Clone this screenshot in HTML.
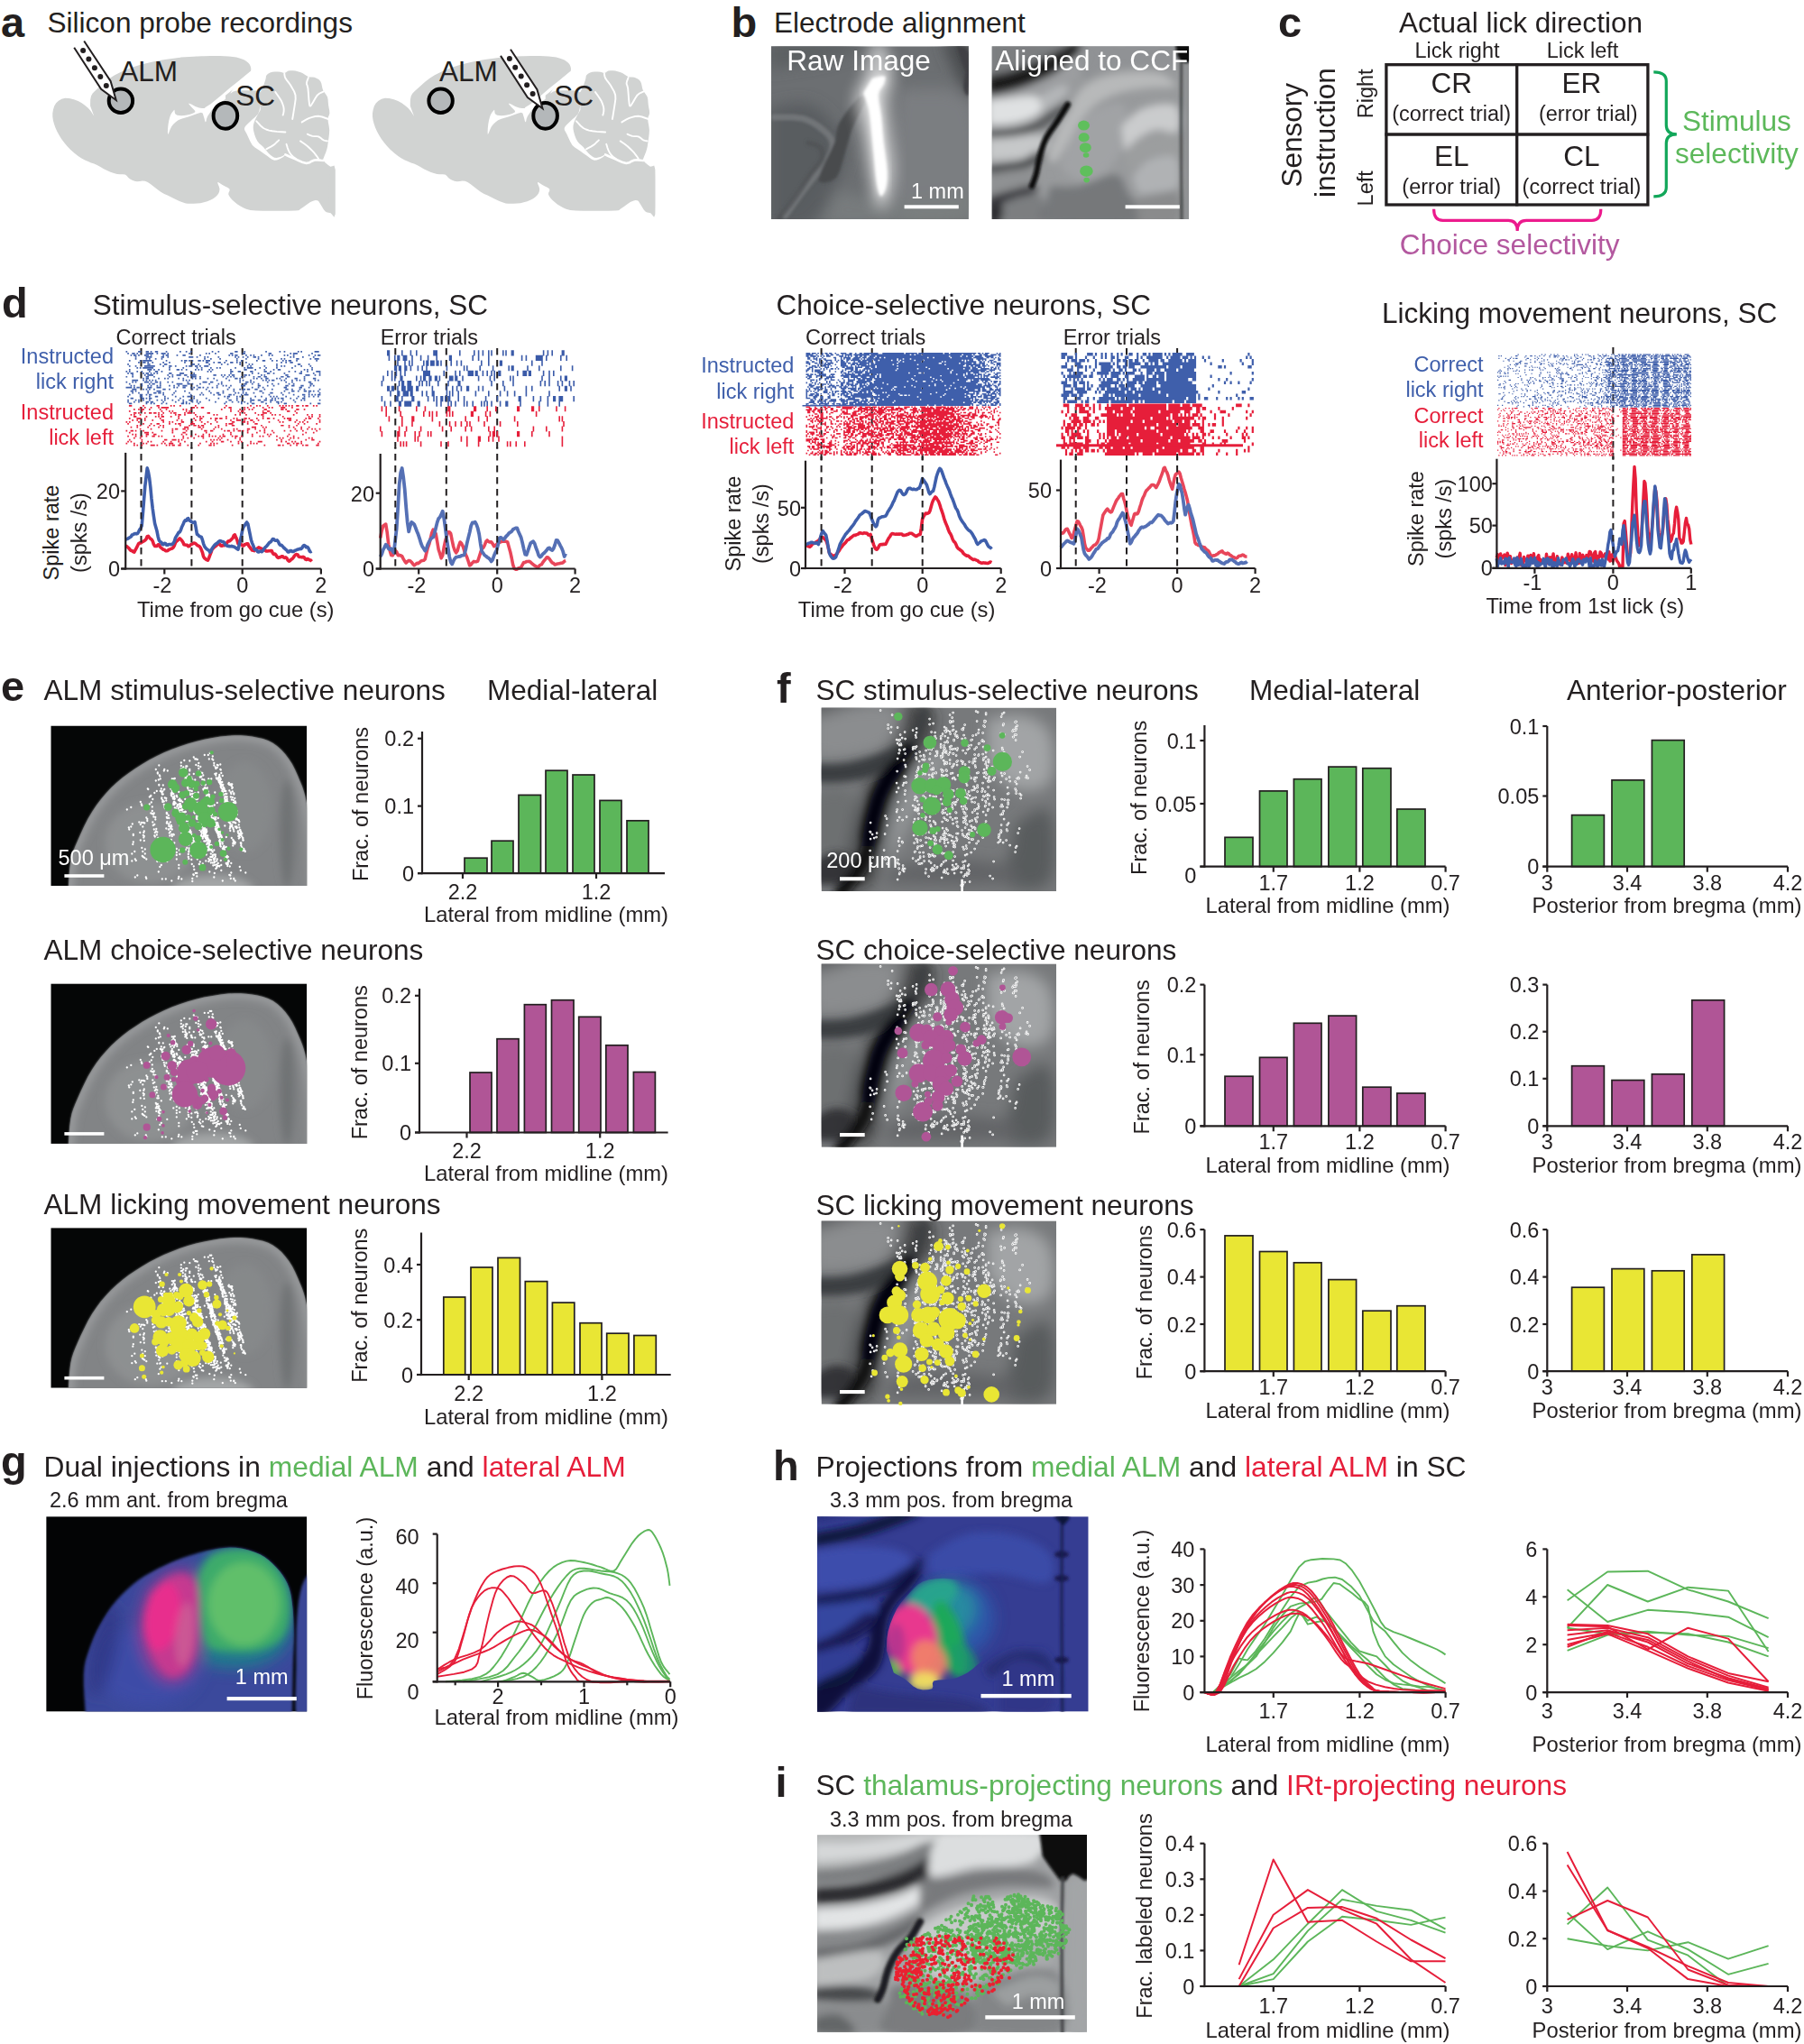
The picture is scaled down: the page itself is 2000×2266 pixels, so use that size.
<!DOCTYPE html><html><head><meta charset="utf-8"><title>Figure</title><style>html,body{margin:0;padding:0;background:#fff}svg{display:block}text{font-family:"Liberation Sans",sans-serif}</style></head><body><svg width="2000" height="2266" viewBox="0 0 2000 2266"><defs>
<filter id="bl1" x="-20%" y="-20%" width="140%" height="140%"><feGaussianBlur stdDeviation="1"/></filter>
<filter id="bl2" x="-20%" y="-20%" width="140%" height="140%"><feGaussianBlur stdDeviation="1.6"/></filter>
<filter id="bl4" x="-20%" y="-20%" width="140%" height="140%"><feGaussianBlur stdDeviation="4"/></filter>
<filter id="bl6" x="-30%" y="-30%" width="160%" height="160%"><feGaussianBlur stdDeviation="8"/></filter>
<filter id="bl12" x="-30%" y="-30%" width="160%" height="160%"><feGaussianBlur stdDeviation="14"/></filter>
<linearGradient id="gb1" x1="0" y1="0" x2="1" y2="1"><stop offset="0" stop-color="#5d6063"/><stop offset=".45" stop-color="#7d8083"/><stop offset="1" stop-color="#8e9193"/></linearGradient>
</defs>
<text x="1.0" y="40.6" font-size="47" font-weight="bold" fill="#231f20">a</text>
<text x="52.5" y="36.1" font-size="31.55" fill="#231f20">Silicon probe recordings</text>
<path d="M104.3 128.7 102.8 126.4 100.5 123.0 97.7 119.8 94.4 117.0 90.7 114.3 86.6 112.1 81.9 110.3 76.8 109.0 72.2 108.7 68.3 109.7 64.9 111.7 62.2 114.3 60.2 117.5 59.0 121.4 58.3 125.4 58.3 129.3 58.9 133.5 60.0 137.6 61.4 141.6 63.3 145.7 65.5 149.8 68.1 153.9 71.1 158.0 74.4 162.0 78.2 165.9 82.5 169.8 86.6 173.0 90.4 175.5 94.1 177.5 97.7 179.1 101.0 180.5 104.3 181.6 107.6 183.0 111.3 185.0 115.0 187.2 118.7 189.1 122.5 190.7 126.3 192.0 129.8 193.0 133.1 193.3 136.1 193.2 138.7 193.5 140.7 195.0 142.3 196.9 144.2 198.5 146.6 199.7 149.2 200.7 152.0 201.3 154.9 201.1 157.9 200.6 160.9 200.8 163.8 202.1 166.8 204.1 169.7 206.3 172.6 208.5 175.5 210.8 178.6 212.9 182.1 214.9 185.7 216.6 189.7 218.5 194.2 220.7 198.9 222.9 203.0 224.6 206.0 225.4 208.4 225.7 211.1 225.7 214.6 225.8 218.4 225.6 222.2 225.2 226.0 224.3 229.8 223.2 233.3 221.8 236.3 220.2 239.0 218.3 241.0 216.3 242.4 214.2 243.2 212.0 243.5 209.6 242.8 206.8 241.6 203.9 241.2 202.1 242.4 202.2 244.3 203.5 246.6 205.0 249.4 206.4 252.5 208.0 254.5 209.6 254.6 211.4 253.6 213.2 253.2 215.2 254.1 217.3 255.6 219.6 257.6 221.8 260.2 224.1 263.2 226.4 266.5 228.5 269.6 230.3 273.0 231.8 277.6 232.9 284.0 233.5 291.6 233.7 299.8 233.7 309.4 233.8 319.7 233.7 327.5 233.5 330.8 233.3 331.6 232.9 333.0 231.8 336.4 229.5 340.5 226.4 344.1 224.1 347.1 222.8 349.7 222.1 351.9 222.2 353.2 222.9 354.1 224.4 355.2 226.3 356.9 229.0 358.8 232.2 360.8 234.6 362.6 235.5 364.4 235.5 366.3 235.7 368.4 238.2 370.4 240.7 371.8 237.6 372.5 223.2 372.5 203.0 371.8 188.0 370.5 183.6 368.5 184.3 366.3 184.7 363.5 182.7 360.5 180.3 358.5 178.0 358.2 176.4 358.8 174.9 359.6 173.1 360.5 170.8 361.5 168.2 362.4 165.3 363.1 162.2 363.6 158.8 364.1 155.3 364.6 151.7 365.0 148.1 365.2 144.2 364.7 140.0 363.9 135.7 363.5 132.0 364.0 129.5 364.9 127.6 365.4 125.4 365.2 122.6 364.6 119.6 364.1 116.5 363.8 113.5 363.6 110.4 363.0 107.6 361.7 105.2 360.1 103.1 358.8 101.2 358.1 100.0 357.8 99.1 357.4 97.7 356.9 95.3 356.3 92.4 355.2 89.9 353.3 88.1 350.9 86.7 348.6 85.7 346.4 85.4 344.3 85.5 342.1 85.3 339.9 84.1 337.6 82.5 335.3 81.0 332.7 80.0 330.1 79.2 327.5 78.6 324.8 78.3 322.1 78.3 319.7 78.6 318.0 79.4 316.7 80.4 315.3 81.0 314.0 80.8 312.7 80.2 310.9 79.7 308.1 79.5 304.9 79.4 302.0 79.7 299.5 80.6 297.2 81.8 295.6 83.3 294.9 84.7 294.8 86.3 294.2 88.8 292.7 93.2 290.6 98.5 288.7 102.1 287.8 102.6 287.0 101.4 284.3 100.4 277.6 100.2 269.0 100.2 262.1 100.4 258.1 101.8 255.8 103.5 255.4 103.2 257.9 99.5 262.2 93.8 266.5 88.8 270.2 85.4 273.8 82.7 276.5 80.5 277.8 78.9 278.2 77.9 278.3 76.6 278.1 74.8 277.5 72.9 276.5 71.1 275.1 69.5 273.2 68.0 271.0 66.6 268.4 65.4 265.5 64.4 262.1 63.5 258.1 62.9 253.5 62.5 248.8 62.2 244.0 62.0 239.0 61.9 233.3 62.0 226.0 62.2 217.9 62.5 211.1 62.9 205.1 63.2 200.4 63.6 200.0 63.7 208.1 63.3 220.5 62.6 227.4 62.2 223.7 62.3 214.4 62.7 205.2 63.3 197.8 64.0 190.4 64.9 183.0 66.1 175.6 67.3 168.3 68.7 160.9 70.5 153.3 72.6 145.7 75.1 138.7 77.7 132.7 80.4 127.2 83.3 122.1 86.6 116.8 90.5 111.8 94.9 107.6 98.8 104.6 101.6 102.5 103.8 101.0 106.5 100.2 110.4 100.1 114.6 100.1 117.6Z" fill="#d1d3d2"/>
<path d="M365.8 185.0 L371.8 188.0 L371.8 237.6 L363.8 235.6Z" fill="#d1d3d2"/>
<rect x="371.8" y="176.0" width="6.0" height="65.6" fill="#fff"/>
<path d="M277.6 79.0 266.5 88.2 255.4 97.1 244.3 106.5 233.3 115.4 227.2 119.3 227.7 121.0 235.5 116.5 246.6 108.5 257.6 99.7 268.7 90.5 278.3 82.2Z" fill="#fff"/>
<path d="M250.0 105.4 246.9 107.1 242.5 109.6 238.5 112.1 235.3 114.7 232.5 117.4 229.6 119.3 226.7 120.1 223.9 120.1 220.7 119.6 216.5 117.9 212.0 115.6 209.2 114.5 209.5 115.6 211.6 117.9 213.5 120.0 215.0 121.6 216.3 123.0 216.3 124.3 214.2 125.5 210.8 126.7 207.4 127.6 204.3 128.1 201.2 128.3 198.6 128.1 196.6 127.7 195.2 126.9 194.1 125.9 193.7 124.3 193.6 122.5 193.2 121.8 192.1 122.9 190.5 125.0 189.1 127.6 188.1 130.5 187.2 134.0 186.6 137.6 186.1 142.0 185.9 146.5 186.1 148.9 187.1 147.4 188.5 143.8 190.2 140.3 192.2 137.8 194.6 135.4 197.5 133.3 201.1 131.8 205.3 130.5 209.6 129.2 214.4 127.5 219.3 125.7 222.9 124.8 224.7 125.4 225.2 126.9 225.7 128.7 226.5 131.3 227.2 134.2 227.9 135.6 228.5 134.4 229.0 131.8 230.2 128.7 232.4 125.4 235.2 121.6 238.5 118.2 242.5 114.9 246.9 111.9 250.0 109.8Z" fill="#fff"/>
<path d="M288.7 116.5 288.2 119.1 287.4 122.9 285.9 126.5 283.1 129.6 279.6 132.6 276.5 135.4 274.1 137.7 272.0 139.9 271.0 142.0 271.1 144.0 272.2 146.0 273.7 148.7 275.4 152.5 277.5 157.0 279.8 160.9 282.6 163.5 285.7 165.6 288.7 167.5 291.4 169.5 293.9 171.3 296.5 173.1 299.0 174.9 301.6 176.7 304.2 177.7 306.9 177.5 309.6 176.5 312.0 175.3 314.1 173.9 315.8 172.3 316.4 171.4 315.3 171.8 313.2 173.0 310.9 173.9 308.7 174.6 306.5 175.0 304.2 174.7 302.0 173.5 299.7 171.7 297.6 169.7 295.7 167.6 293.9 165.4 292.0 163.1 289.8 161.0 287.4 158.9 285.4 156.4 283.7 153.3 282.4 149.7 281.5 146.5 280.9 143.7 280.7 141.3 280.9 138.7 281.7 135.8 282.9 132.7 284.3 129.8 285.8 126.9 287.5 124.0 288.7 122.1Z" fill="#fff"/>
<path d="M316.4 171.4 319.2 172.7 323.3 174.6 327.5 176.4 331.6 178.3 335.8 180.1 339.7 181.0 342.9 180.3 345.6 178.7 348.6 177.5 352.2 177.4 355.9 177.8 358.5 178.0" fill="none" stroke="#fff" stroke-width="2.6" stroke-linejoin="round" stroke-linecap="round"/>
<path d="M315.3 81.6 315.4 82.8 315.7 84.5 316.4 86.6 317.9 88.8 319.9 91.4 322.0 94.3 324.0 97.7 326.1 101.4 327.5 105.4 327.7 109.7 327.1 114.2 326.4 118.7 325.6 123.7 324.8 128.6 324.2 132.0" fill="none" stroke="#fff" stroke-width="1.9" stroke-linejoin="round" stroke-linecap="round"/>
<path d="M305.3 102.1 307.2 104.7 309.8 108.5 312.0 112.1 313.3 115.2 314.3 118.2 314.7 121.0 314.6 123.6 314.1 126.0 313.6 127.6" fill="none" stroke="#fff" stroke-width="1.9" stroke-linejoin="round" stroke-linecap="round"/>
<path d="M341.9 86.0 341.3 87.6 340.4 89.9 339.9 92.1 340.1 93.6 340.7 94.9 341.4 97.7 341.9 103.3 342.4 110.3 343.0 115.4 343.5 117.4 344.1 117.5 345.2 116.3 347.1 113.3 349.5 109.0 351.9 105.4 354.3 103.5 356.8 102.3 358.5 101.6" fill="none" stroke="#fff" stroke-width="1.9" stroke-linejoin="round" stroke-linecap="round"/>
<path d="M334.7 135.4 336.8 134.1 339.8 132.4 343.0 130.9 346.2 129.8 349.5 129.0 353.0 128.7 357.0 129.5 361.2 131.0 364.1 132.0" fill="none" stroke="#fff" stroke-width="1.9" stroke-linejoin="round" stroke-linecap="round"/>
<path d="M340.8 148.7 342.2 149.3 344.2 150.2 346.3 150.9 348.5 151.1 350.8 151.1 353.0 151.4 355.0 152.6 356.8 154.1 358.5 155.3 360.3 155.9 361.9 156.2 363.0 156.4" fill="none" stroke="#fff" stroke-width="1.9" stroke-linejoin="round" stroke-linecap="round"/>
<path d="M333.0 156.4 335.0 157.8 337.9 159.8 340.8 162.0 343.5 164.5 346.2 167.2 348.6 169.7 350.4 172.1 352.0 174.3 353.0 175.8" fill="none" stroke="#fff" stroke-width="1.9" stroke-linejoin="round" stroke-linecap="round"/>
<path d="M284.3 134.3 286.2 136.4 289.0 139.5 292.0 142.0 295.0 143.5 298.3 144.6 302.0 145.3 307.0 145.9 312.5 146.2 316.4 146.5" fill="none" stroke="#fff" stroke-width="1.9" stroke-linejoin="round" stroke-linecap="round"/>
<path d="M295.3 165.3 297.4 164.2 300.4 162.6 303.1 160.9 305.5 158.9 307.7 156.8 309.2 155.3" fill="none" stroke="#fff" stroke-width="1.9" stroke-linejoin="round" stroke-linecap="round"/>
<path d="M317.5 159.8 318.1 161.5 318.8 164.0 319.7 166.4 320.7 168.4 321.7 170.2 323.1 172.0 324.9 173.7 327.1 175.3 328.6 176.4" fill="none" stroke="#fff" stroke-width="1.9" stroke-linejoin="round" stroke-linecap="round"/>
<circle cx="133.9" cy="111.7" r="13.2" fill="#b4b8ba" stroke="#000" stroke-width="4"/>
<ellipse cx="249.9" cy="128.3" rx="13.3" ry="14.4" fill="#b4b8ba" stroke="#000" stroke-width="4"/>
<text x="132.2" y="90.4" font-size="31.55" fill="#231f20">ALM</text>
<text x="261.2" y="116.5" font-size="31.55" fill="#231f20">SC</text>
<path d="M82.2 52.7 112.1 98.8 128.7 111.0 122.6 89.9 93.2 45.5" fill="#fff" stroke="#231f20" stroke-width="2" stroke-linejoin="miter"/>
<circle cx="92.1" cy="55.9" r="3" fill="#231f20"/>
<circle cx="98.4" cy="65.5" r="3" fill="#231f20"/>
<circle cx="104.9" cy="75.3" r="3" fill="#231f20"/>
<circle cx="111.3" cy="85.1" r="3" fill="#231f20"/>
<circle cx="117.8" cy="94.9" r="3" fill="#231f20"/>
<path d="M459.0 128.7 457.5 126.4 455.2 123.0 452.4 119.8 449.1 117.0 445.4 114.3 441.3 112.1 436.6 110.3 431.5 109.0 426.9 108.7 423.0 109.7 419.6 111.7 416.9 114.3 414.9 117.5 413.7 121.4 413.0 125.4 413.0 129.3 413.6 133.5 414.7 137.6 416.1 141.6 418.0 145.7 420.2 149.8 422.8 153.9 425.8 158.0 429.1 162.0 432.9 165.9 437.2 169.8 441.3 173.0 445.1 175.5 448.8 177.5 452.4 179.1 455.7 180.5 459.0 181.6 462.3 183.0 466.0 185.0 469.7 187.2 473.4 189.1 477.2 190.7 481.0 192.0 484.5 193.0 487.8 193.3 490.8 193.2 493.4 193.5 495.4 195.0 497.0 196.9 498.9 198.5 501.3 199.7 503.9 200.7 506.7 201.3 509.6 201.1 512.6 200.6 515.6 200.8 518.5 202.1 521.5 204.1 524.4 206.3 527.3 208.5 530.2 210.8 533.3 212.9 536.8 214.9 540.4 216.6 544.4 218.5 548.9 220.7 553.6 222.9 557.7 224.6 560.7 225.4 563.1 225.7 565.8 225.7 569.3 225.8 573.1 225.6 576.9 225.2 580.7 224.3 584.5 223.2 588.0 221.8 591.0 220.2 593.7 218.3 595.7 216.3 597.1 214.2 597.9 212.0 598.2 209.6 597.5 206.8 596.3 203.9 595.9 202.1 597.1 202.2 599.0 203.5 601.3 205.0 604.1 206.4 607.2 208.0 609.2 209.6 609.3 211.4 608.3 213.2 607.9 215.2 608.8 217.3 610.3 219.6 612.3 221.8 614.9 224.1 617.9 226.4 621.2 228.5 624.3 230.3 627.7 231.8 632.3 232.9 638.7 233.5 646.3 233.7 654.5 233.7 664.1 233.8 674.4 233.7 682.2 233.5 685.5 233.3 686.3 232.9 687.7 231.8 691.1 229.5 695.2 226.4 698.8 224.1 701.8 222.8 704.4 222.1 706.6 222.2 707.9 222.9 708.8 224.4 709.9 226.3 711.6 229.0 713.5 232.2 715.5 234.6 717.3 235.5 719.1 235.5 721.0 235.7 723.1 238.2 725.1 240.7 726.5 237.6 727.2 223.2 727.2 203.0 726.5 188.0 725.2 183.6 723.2 184.3 721.0 184.7 718.2 182.7 715.2 180.3 713.2 178.0 712.9 176.4 713.5 174.9 714.3 173.1 715.2 170.8 716.2 168.2 717.1 165.3 717.8 162.2 718.3 158.8 718.8 155.3 719.3 151.7 719.7 148.1 719.9 144.2 719.4 140.0 718.6 135.7 718.2 132.0 718.7 129.5 719.6 127.6 720.1 125.4 719.9 122.6 719.3 119.6 718.8 116.5 718.5 113.5 718.3 110.4 717.7 107.6 716.4 105.2 714.8 103.1 713.5 101.2 712.8 100.0 712.5 99.1 712.1 97.7 711.6 95.3 711.0 92.4 709.9 89.9 708.0 88.1 705.6 86.7 703.3 85.7 701.1 85.4 699.0 85.5 696.8 85.3 694.6 84.1 692.3 82.5 690.0 81.0 687.4 80.0 684.8 79.2 682.2 78.6 679.5 78.3 676.8 78.3 674.4 78.6 672.7 79.4 671.4 80.4 670.0 81.0 668.7 80.8 667.4 80.2 665.6 79.7 662.8 79.5 659.6 79.4 656.7 79.7 654.2 80.6 651.9 81.8 650.3 83.3 649.6 84.7 649.5 86.3 648.9 88.8 647.4 93.2 645.3 98.5 643.4 102.1 642.5 102.6 641.7 101.4 639.0 100.4 632.3 100.2 623.7 100.2 616.8 100.4 612.8 101.8 610.5 103.5 610.1 103.2 612.6 99.5 616.9 93.8 621.2 88.8 624.9 85.4 628.5 82.7 631.2 80.5 632.5 78.9 632.9 77.9 633.0 76.6 632.8 74.8 632.2 72.9 631.2 71.1 629.8 69.5 627.9 68.0 625.7 66.6 623.1 65.4 620.2 64.4 616.8 63.5 612.8 62.9 608.2 62.5 603.5 62.2 598.7 62.0 593.7 61.9 588.0 62.0 580.7 62.2 572.6 62.5 565.8 62.9 559.8 63.2 555.1 63.6 554.7 63.7 562.8 63.3 575.2 62.6 582.1 62.2 578.4 62.3 569.1 62.7 559.9 63.3 552.5 64.0 545.1 64.9 537.7 66.1 530.3 67.3 523.0 68.7 515.6 70.5 508.0 72.6 500.4 75.1 493.4 77.7 487.4 80.4 481.9 83.3 476.8 86.6 471.5 90.5 466.5 94.9 462.3 98.8 459.3 101.6 457.2 103.8 455.7 106.5 454.9 110.4 454.8 114.6 454.8 117.6Z" fill="#d1d3d2"/>
<path d="M720.5 185.0 L726.5 188.0 L726.5 237.6 L718.5 235.6Z" fill="#d1d3d2"/>
<rect x="726.5" y="176.0" width="6.0" height="65.6" fill="#fff"/>
<path d="M632.3 79.0 621.2 88.2 610.1 97.1 599.0 106.5 588.0 115.4 581.9 119.3 582.4 121.0 590.2 116.5 601.3 108.5 612.3 99.7 623.4 90.5 633.0 82.2Z" fill="#fff"/>
<path d="M604.7 105.4 601.6 107.1 597.2 109.6 593.2 112.1 590.0 114.7 587.2 117.4 584.3 119.3 581.4 120.1 578.6 120.1 575.4 119.6 571.2 117.9 566.7 115.6 563.9 114.5 564.2 115.6 566.3 117.9 568.2 120.0 569.7 121.6 571.0 123.0 571.0 124.3 568.9 125.5 565.5 126.7 562.1 127.6 559.0 128.1 555.9 128.3 553.3 128.1 551.3 127.7 549.9 126.9 548.8 125.9 548.4 124.3 548.3 122.5 547.9 121.8 546.8 122.9 545.2 125.0 543.8 127.6 542.8 130.5 541.9 134.0 541.3 137.6 540.8 142.0 540.6 146.5 540.8 148.9 541.8 147.4 543.2 143.8 544.9 140.3 546.9 137.8 549.3 135.4 552.2 133.3 555.8 131.8 560.0 130.5 564.3 129.2 569.1 127.5 574.0 125.7 577.6 124.8 579.4 125.4 579.9 126.9 580.4 128.7 581.2 131.3 581.9 134.2 582.6 135.6 583.2 134.4 583.7 131.8 584.9 128.7 587.1 125.4 589.9 121.6 593.2 118.2 597.2 114.9 601.6 111.9 604.7 109.8Z" fill="#fff"/>
<path d="M643.4 116.5 642.9 119.1 642.1 122.9 640.6 126.5 637.8 129.6 634.3 132.6 631.2 135.4 628.8 137.7 626.7 139.9 625.7 142.0 625.8 144.0 626.9 146.0 628.4 148.7 630.1 152.5 632.2 157.0 634.5 160.9 637.3 163.5 640.4 165.6 643.4 167.5 646.1 169.5 648.6 171.3 651.2 173.1 653.7 174.9 656.3 176.7 658.9 177.7 661.6 177.5 664.3 176.5 666.7 175.3 668.8 173.9 670.5 172.3 671.1 171.4 670.0 171.8 667.9 173.0 665.6 173.9 663.4 174.6 661.2 175.0 658.9 174.7 656.7 173.5 654.4 171.7 652.3 169.7 650.4 167.6 648.6 165.4 646.7 163.1 644.5 161.0 642.1 158.9 640.1 156.4 638.4 153.3 637.1 149.7 636.2 146.5 635.6 143.7 635.4 141.3 635.6 138.7 636.4 135.8 637.6 132.7 639.0 129.8 640.5 126.9 642.2 124.0 643.4 122.1Z" fill="#fff"/>
<path d="M671.1 171.4 673.9 172.7 678.0 174.6 682.2 176.4 686.3 178.3 690.5 180.1 694.4 181.0 697.6 180.3 700.3 178.7 703.3 177.5 706.9 177.4 710.6 177.8 713.2 178.0" fill="none" stroke="#fff" stroke-width="2.6" stroke-linejoin="round" stroke-linecap="round"/>
<path d="M670.0 81.6 670.1 82.8 670.4 84.5 671.1 86.6 672.6 88.8 674.6 91.4 676.7 94.3 678.7 97.7 680.8 101.4 682.2 105.4 682.4 109.7 681.8 114.2 681.1 118.7 680.3 123.7 679.5 128.6 678.9 132.0" fill="none" stroke="#fff" stroke-width="1.9" stroke-linejoin="round" stroke-linecap="round"/>
<path d="M660.0 102.1 661.9 104.7 664.5 108.5 666.7 112.1 668.0 115.2 669.0 118.2 669.4 121.0 669.3 123.6 668.8 126.0 668.3 127.6" fill="none" stroke="#fff" stroke-width="1.9" stroke-linejoin="round" stroke-linecap="round"/>
<path d="M696.6 86.0 696.0 87.6 695.1 89.9 694.6 92.1 694.8 93.6 695.4 94.9 696.1 97.7 696.6 103.3 697.1 110.3 697.7 115.4 698.2 117.4 698.8 117.5 699.9 116.3 701.8 113.3 704.2 109.0 706.6 105.4 709.0 103.5 711.5 102.3 713.2 101.6" fill="none" stroke="#fff" stroke-width="1.9" stroke-linejoin="round" stroke-linecap="round"/>
<path d="M689.4 135.4 691.5 134.1 694.5 132.4 697.7 130.9 700.9 129.8 704.2 129.0 707.7 128.7 711.7 129.5 715.9 131.0 718.8 132.0" fill="none" stroke="#fff" stroke-width="1.9" stroke-linejoin="round" stroke-linecap="round"/>
<path d="M695.5 148.7 696.9 149.3 698.9 150.2 701.0 150.9 703.2 151.1 705.5 151.1 707.7 151.4 709.7 152.6 711.5 154.1 713.2 155.3 715.0 155.9 716.6 156.2 717.7 156.4" fill="none" stroke="#fff" stroke-width="1.9" stroke-linejoin="round" stroke-linecap="round"/>
<path d="M687.7 156.4 689.7 157.8 692.6 159.8 695.5 162.0 698.2 164.5 700.9 167.2 703.3 169.7 705.1 172.1 706.7 174.3 707.7 175.8" fill="none" stroke="#fff" stroke-width="1.9" stroke-linejoin="round" stroke-linecap="round"/>
<path d="M639.0 134.3 640.9 136.4 643.7 139.5 646.7 142.0 649.7 143.5 653.0 144.6 656.7 145.3 661.7 145.9 667.2 146.2 671.1 146.5" fill="none" stroke="#fff" stroke-width="1.9" stroke-linejoin="round" stroke-linecap="round"/>
<path d="M650.0 165.3 652.1 164.2 655.1 162.6 657.8 160.9 660.2 158.9 662.4 156.8 663.9 155.3" fill="none" stroke="#fff" stroke-width="1.9" stroke-linejoin="round" stroke-linecap="round"/>
<path d="M672.2 159.8 672.8 161.5 673.5 164.0 674.4 166.4 675.4 168.4 676.4 170.2 677.8 172.0 679.6 173.7 681.8 175.3 683.3 176.4" fill="none" stroke="#fff" stroke-width="1.9" stroke-linejoin="round" stroke-linecap="round"/>
<circle cx="488.6" cy="111.7" r="13.2" fill="#b4b8ba" stroke="#000" stroke-width="4"/>
<ellipse cx="604.6" cy="128.3" rx="13.3" ry="14.4" fill="#b4b8ba" stroke="#000" stroke-width="4"/>
<text x="486.9" y="90.4" font-size="31.55" fill="#231f20">ALM</text>
<text x="614.3" y="116.5" font-size="31.55" fill="#231f20">SC</text>
<path d="M555.0 61.9 584.9 108.0 601.5 120.2 595.4 99.1 566.0 54.7" fill="#fff" stroke="#231f20" stroke-width="2" stroke-linejoin="miter"/>
<circle cx="564.9" cy="65.1" r="3" fill="#231f20"/>
<circle cx="571.2" cy="74.7" r="3" fill="#231f20"/>
<circle cx="577.7" cy="84.5" r="3" fill="#231f20"/>
<circle cx="584.1" cy="94.3" r="3" fill="#231f20"/>
<circle cx="590.6" cy="104.1" r="3" fill="#231f20"/>
<text x="810.5" y="40.6" font-size="47" font-weight="bold" fill="#231f20">b</text>
<text x="858.0" y="36.1" font-size="31.55" fill="#231f20">Electrode alignment</text>
<clipPath id="cb1"><rect x="855" y="51.3" width="218.8" height="191.7"/></clipPath>
<g clip-path="url(#cb1)">
<rect x="855.0" y="51.3" width="218.8" height="191.7" fill="#6c6f72"/>
<g filter="url(#bl6)">
<path d="M850.4 120.6 863.4 117.7 881.8 114.1 898.8 115.3 912.7 124.6 925.1 138.8 933.7 152.9 937.6 164.7 937.6 176.4 933.7 190.5 925.1 210.8 912.7 233.5 898.8 249.7 881.8 254.1 863.4 251.9 850.4 249.7Z" fill="#585b5e" opacity="0.9"/>
<path d="M850.4 45.4 883.4 44.7 928.4 44.0 957.9 45.4 959.1 50.5 944.8 57.6 925.6 64.2 901.0 69.6 871.5 74.3 850.4 77.6Z" fill="#595c5f" opacity="0.8"/>
<path d="M995.5 99.1 1019.3 97.9 1052.1 97.9 1076.2 109.9 1085.2 144.9 1085.6 191.9 1078.9 228.2 1061.9 245.1 1037.9 251.3 1017.0 249.7 1002.7 239.1 991.7 220.8 984.8 201.3 984.0 180.2 987.4 157.9 990.2 142.2Z" fill="#7d8083" opacity="0.9"/>
<path d="M1043.9 45.4 1054.3 43.0 1068.5 40.6 1078.9 45.4 1082.2 65.5 1081.6 92.8 1078.9 109.9 1073.3 106.7 1065.6 93.4 1060.1 83.0Z" fill="#46484b" opacity="0.9"/>
<path d="M925.6 212.0 946.9 215.6 977.0 220.4 1006.3 222.8 1033.8 219.0 1060.4 212.8 1078.9 212.0 1090.4 222.4 1093.9 238.1 1078.9 249.7 1029.5 252.5 961.6 251.1 912.2 249.7Z" fill="#7b7e80" opacity="0.8"/>
</g>
<g filter="url(#bl2)">
<path d="M858.4 130.1 867.2 130.0 879.4 130.0 890.7 131.4 899.5 135.0 907.3 139.9 913.5 144.8 918.2 149.2 921.3 153.6 923.0 158.3 922.9 163.5 921.4 168.9 918.9 174.4 915.7 179.5 911.7 184.6 906.8 190.5 901.0 198.0 894.4 206.4 888.0 214.7 881.4 223.7 875.0 232.7 870.5 238.9" fill="none" stroke="#7c7f82" stroke-width="7" opacity="0.7" stroke-linecap="round"/>
<path d="M896.1 158.3 900.0 159.4 905.4 161.1 909.5 163.7 911.4 167.4 911.9 172.1 910.9 177.1 908.0 182.0 903.6 187.2 898.8 193.2 893.8 200.7 888.4 209.1 882.6 217.4 875.9 226.4 868.8 235.3 863.8 241.6" fill="none" stroke="#505356" stroke-width="6" opacity="0.7" stroke-linecap="round"/>
<path d="M964.6 104.5 962.4 108.5 959.2 114.3 955.8 120.6 952.2 127.2 948.5 134.4 945.0 142.2 942.2 150.7 939.7 159.8 936.9 169.0 934.1 179.2 931.0 189.6 927.0 197.3 920.5 201.3 913.1 202.8 908.2 201.8 907.5 198.2 909.4 192.3 912.2 185.2 916.2 176.7 921.2 167.0 925.1 158.3 926.7 151.4 927.3 145.4 928.9 139.5 932.4 133.0 936.8 126.5 941.2 120.6 945.7 115.3 950.0 110.5 953.1 107.2Z" fill="#484b4e" opacity="1"/>
<path d="M1060.1 50.8 1064.2 51.4 1069.9 53.0 1074.0 58.8 1075.3 73.2 1075.0 91.8 1074.0 104.5 1072.2 106.6 1069.7 102.8 1068.1 97.8 1068.3 92.1 1069.4 85.3 1070.3 80.3Z" fill="#3f4144" opacity="1"/>
</g>
<path d="M967.3 48.1 970.5 46.7 975.0 45.3 979.4 48.1 983.7 58.3 987.8 72.8 990.2 85.7 989.3 94.3 986.6 101.3 984.8 109.9 985.0 121.2 986.2 134.1 987.5 147.5 989.1 161.8 990.9 176.6 991.5 190.5 990.3 204.0 987.9 216.5 984.8 225.5 980.6 230.3 975.7 231.5 971.3 228.2 968.2 218.8 965.7 205.0 963.3 190.5 961.0 176.4 958.9 161.7 956.6 147.5 952.9 134.1 948.9 121.2 947.2 109.9 949.6 99.9 954.4 91.5 957.9 85.7Z" fill="#fff" filter="url(#bl6)" opacity=".6"/>
<path d="M967.3 87.0 971.3 85.9 976.9 84.5 980.8 84.4 981.6 86.5 980.7 90.1 979.4 93.8 977.4 96.8 975.0 99.9 973.5 104.5 973.9 111.4 975.3 119.7 976.7 128.7 977.6 138.1 978.4 148.0 979.4 158.3 980.9 169.3 982.5 180.7 983.4 190.5 983.4 198.2 982.7 204.4 981.6 209.4 980.0 213.7 978.0 216.9 976.2 217.4 974.6 214.2 973.2 208.4 971.9 201.3 970.9 193.1 970.0 183.8 969.2 174.4 968.3 165.4 967.4 156.5 966.5 147.5 965.6 138.2 964.6 128.9 963.3 120.6 961.3 113.5 959.0 107.4 957.4 103.2Z" fill="#fff" filter="url(#bl2)"/>
<path d="M967.3 87.0 971.3 85.9 976.9 84.5 980.8 84.4 981.6 86.5 980.7 90.1 979.4 93.8 977.4 96.8 975.0 99.9 973.5 104.5 973.9 111.4 975.3 119.7 976.7 128.7 977.6 138.1 978.4 148.0 979.4 158.3 980.9 169.3 982.5 180.7 983.4 190.5 983.4 198.2 982.7 204.4 981.6 209.4 980.0 213.7 978.0 216.9 976.2 217.4 974.6 214.2 973.2 208.4 971.9 201.3 970.9 193.1 970.0 183.8 969.2 174.4 968.3 165.4 967.4 156.5 966.5 147.5 965.6 138.2 964.6 128.9 963.3 120.6 961.3 113.5 959.0 107.4 957.4 103.2Z" fill="#fff" filter="url(#bl4)" opacity=".8"/>
</g>
<text x="872.3" y="77.6" font-size="31.55" fill="#fff">Raw Image</text>
<text x="1010.0" y="220.3" font-size="23.5" fill="#fff">1 mm</text>
<rect x="1002.6" y="227.3" width="60.2" height="4.0" fill="#fff"/>
<clipPath id="cb2"><rect x="1099.6" y="51.3" width="218.5" height="191.7"/></clipPath>
<g clip-path="url(#cb2)">
<rect x="1099.6" y="51.3" width="218.5" height="191.7" fill="#989a9c"/>
<g filter="url(#bl4)">
<path d="M1095.3 46.7 1126.3 45.9 1168.4 45.2 1196.4 46.7 1197.5 52.1 1184.4 59.7 1169.8 66.6 1157.3 71.8 1143.3 76.3 1129.9 79.9 1116.7 82.5 1104.1 84.1 1095.3 85.2Z" fill="#7c7e80" opacity="1"/>
<path d="M1095.3 83.9 1100.6 83.1 1108.3 81.8 1116.6 79.9 1125.1 77.3 1134.1 74.1 1143.2 70.6 1152.3 66.8 1161.3 62.7 1169.8 58.6 1177.6 54.2 1184.8 49.8 1191.1 46.7 1197.1 45.0 1202.2 44.7 1204.4 46.7 1202.4 51.9 1197.5 59.4 1191.1 66.6 1183.5 72.7 1174.5 78.4 1164.5 83.9 1153.6 89.2 1141.7 94.2 1129.9 98.5 1117.1 102.0 1104.3 104.7 1095.3 106.5Z" fill="#1a1c1e" opacity="1"/>
<path d="M1095.3 106.5 1104.1 104.8 1116.7 102.2 1129.9 98.5 1143.3 93.7 1157.3 87.7 1169.8 81.2 1180.3 73.2 1189.2 64.5 1196.4 58.6 1202.1 56.8 1206.1 57.7 1207.1 61.3 1204.1 68.8 1198.2 79.0 1191.1 87.9 1183.3 93.9 1174.4 98.5 1164.5 102.5 1153.6 106.3 1141.7 109.4 1129.9 111.8 1117.1 113.3 1104.3 114.1 1095.3 114.5Z" fill="#9c9ea0" opacity="1"/>
<path d="M1095.3 111.8 1100.6 111.1 1108.3 110.2 1116.6 109.2 1125.5 108.0 1134.9 106.8 1143.2 106.5 1150.3 107.3 1156.1 109.0 1159.2 111.8 1158.6 116.6 1155.2 122.6 1149.9 127.8 1142.3 131.7 1132.9 134.8 1123.3 137.1 1113.0 138.2 1102.6 138.4 1095.3 138.4Z" fill="#dfe1e2" opacity="1"/>
<path d="M1149.9 109.2 1156.1 105.2 1164.8 99.7 1172.5 95.9 1178.5 94.7 1183.5 95.2 1185.8 97.2 1184.3 101.2 1180.2 106.8 1175.1 111.8 1168.8 116.1 1161.6 119.9 1156.5 122.5Z" fill="#b7b9bb" opacity="0.9"/>
<path d="M1095.3 145.1 1102.8 144.6 1113.3 143.7 1123.3 142.4 1131.1 140.9 1138.4 138.8 1145.9 135.8 1154.2 130.8 1162.6 124.8 1169.8 119.8 1175.4 116.2 1179.9 113.5 1183.1 112.5 1185.5 113.6 1186.7 116.4 1185.8 119.8 1182.1 123.8 1176.4 128.5 1169.8 133.1 1162.4 137.9 1154.1 142.6 1145.9 146.4 1138.4 148.9 1131.1 150.6 1123.3 151.7 1113.3 152.5 1102.8 152.9 1095.3 153.1Z" fill="#56585a" opacity="1"/>
<path d="M1095.3 154.4 1102.8 153.7 1113.3 152.7 1123.3 151.7 1131.4 150.6 1139.0 149.5 1145.9 149.1 1152.5 149.5 1158.3 150.7 1161.8 153.1 1162.2 157.4 1160.2 162.9 1156.5 167.7 1151.7 171.1 1145.3 173.7 1136.6 175.7 1122.9 177.1 1106.8 177.9 1095.3 178.4Z" fill="#c6c8c9" opacity="1"/>
<path d="M1095.3 183.7 1104.8 182.5 1118.1 180.7 1129.9 178.4 1138.6 174.5 1145.8 170.1 1151.2 167.7 1155.2 168.8 1157.4 172.0 1156.5 175.7 1151.6 179.6 1143.7 184.0 1133.9 187.7 1120.8 190.1 1105.9 191.9 1095.3 193.0Z" fill="#47494c" opacity="1"/>
<path d="M1095.3 193.0 1104.8 191.5 1118.2 189.3 1129.9 187.7 1138.5 186.2 1145.4 185.3 1149.9 186.3 1151.4 191.1 1150.5 197.9 1147.2 203.6 1140.9 207.1 1132.3 209.5 1123.3 211.6 1113.2 213.8 1102.7 215.7 1095.3 216.9Z" fill="#8f9193" opacity="1"/>
<path d="M1095.3 218.3 1102.7 216.1 1113.2 213.0 1123.3 210.3 1132.4 207.8 1141.0 205.6 1147.2 205.0 1150.2 206.6 1150.6 209.8 1148.5 212.9 1143.5 215.6 1136.0 218.3 1127.2 220.9 1116.2 223.9 1104.0 226.8 1095.3 228.9Z" fill="#37393c" opacity="1"/>
<path d="M1110.0 226.2 1115.1 224.0 1122.4 220.8 1129.9 218.3 1137.4 216.4 1145.0 215.1 1151.2 215.6 1155.3 218.7 1158.0 223.5 1159.2 228.9 1159.8 235.4 1159.0 242.5 1153.9 247.5 1140.5 248.9 1122.8 248.2 1110.0 247.5Z" fill="#7c7e80" opacity="1"/>
<path d="M1095.3 228.9 1100.1 227.3 1106.8 225.5 1111.3 226.2 1112.2 232.4 1111.0 241.1 1108.6 247.5 1104.5 249.1 1099.2 248.3 1095.3 247.5Z" fill="#2a2c2e" opacity="1"/>
<path d="M1191.1 109.2 1193.5 105.6 1197.0 100.6 1201.7 95.9 1207.6 91.9 1214.7 88.3 1223.0 85.2 1233.2 82.8 1244.8 80.9 1256.3 79.9 1268.1 79.8 1279.9 80.6 1289.5 82.6 1296.9 86.7 1302.1 91.9 1302.9 95.9 1297.2 97.1 1287.1 96.9 1276.2 97.2 1265.4 98.4 1253.8 100.1 1243.0 102.5 1233.3 105.8 1224.3 109.8 1216.4 114.5 1209.9 119.9 1204.4 126.1 1199.1 133.1 1193.6 141.6 1188.2 151.1 1183.1 159.7 1178.3 167.9 1173.8 175.2 1169.8 179.7 1166.1 180.3 1162.9 177.9 1161.8 173.0 1164.4 163.9 1169.0 152.2 1172.5 143.8Z" fill="#b9bbbc" opacity="0.95"/>
<path d="M1183.1 159.7 1189.8 149.9 1199.4 136.2 1209.7 125.1 1221.3 118.7 1233.6 115.0 1243.0 114.5 1247.7 118.0 1249.4 124.7 1249.6 133.1 1248.9 143.4 1246.7 155.2 1243.0 166.4 1237.6 176.5 1230.7 185.8 1223.0 193.0 1214.5 197.4 1205.1 199.6 1196.4 199.6 1188.1 196.2 1180.5 190.5 1175.1 186.3Z" fill="#a2a4a6" opacity="0.9"/>
<path d="M1164.5 206.3 1172.5 206.8 1184.0 207.3 1196.4 206.3 1210.1 201.6 1224.7 195.5 1236.3 193.0 1242.7 196.6 1246.2 204.0 1249.6 212.9 1258.5 224.7 1267.4 238.0 1262.9 247.5 1232.3 250.9 1188.3 250.4 1156.5 247.5 1149.4 241.2 1154.4 232.6 1159.2 226.2Z" fill="#747678" opacity="0.95"/>
<path d="M1196.4 46.7 1228.7 45.6 1273.2 44.6 1305.5 46.7 1315.2 55.0 1312.7 66.4 1305.5 74.6 1294.4 76.1 1278.5 74.3 1262.9 73.3 1248.7 74.4 1234.7 76.3 1223.0 78.6 1214.9 82.3 1209.0 86.4 1204.4 87.9 1200.7 84.2 1198.1 77.9 1196.4 73.3Z" fill="#8f9193" opacity="0.9"/>
<path d="M1243.0 141.1 1247.3 136.3 1253.5 129.5 1260.3 123.8 1267.4 120.1 1275.2 117.4 1282.9 115.8 1291.3 115.0 1299.6 115.3 1305.5 118.5 1308.0 127.1 1308.0 138.4 1305.5 146.4 1299.5 147.4 1291.1 144.9 1282.9 143.8 1275.9 145.8 1269.2 149.1 1262.9 153.1 1256.7 158.1 1251.0 163.7 1247.0 167.7Z" fill="#cdcfd0" opacity="0.95"/>
<path d="M1247.0 173.0 1250.8 168.6 1256.4 162.4 1262.9 157.1 1270.5 153.4 1279.0 150.6 1286.9 149.1 1294.2 148.9 1300.9 150.1 1305.5 153.1 1307.7 159.4 1307.9 167.5 1305.5 173.0 1299.5 173.4 1290.9 171.3 1282.9 170.4 1276.6 172.0 1270.9 174.8 1265.6 178.4 1260.4 183.3 1255.6 188.9 1252.3 193.0Z" fill="#9c9ea0" opacity="0.9"/>
<path d="M1255.0 197.0 1258.6 192.1 1263.8 185.3 1269.6 179.7 1276.0 176.3 1283.0 174.1 1289.5 173.0 1295.8 172.6 1301.5 173.3 1305.5 177.0 1307.5 186.2 1307.8 198.3 1305.5 207.6 1299.5 211.4 1291.1 212.3 1282.9 212.9 1275.3 214.1 1268.0 215.0 1262.9 215.6Z" fill="#b3b5b7" opacity="0.9"/>
<path d="M1256.3 220.9 1263.3 219.4 1273.3 217.4 1282.9 215.6 1291.6 213.1 1299.8 211.0 1305.5 212.9 1308.8 223.0 1309.5 237.2 1305.5 247.5 1292.9 250.1 1275.6 248.8 1262.9 247.5Z" fill="#88898b" opacity="0.9"/>
<path d="M1313.5 66.6 1315.9 59.9 1319.1 53.2 1321.5 66.6 1322.4 120.2 1322.4 193.9 1321.5 247.5 1319.1 260.9 1315.9 254.2 1313.5 247.5Z" fill="#8b8d8f" opacity="0.9"/>
</g>
<g filter="url(#bl2)">
<path d="M1183.8 115.8 1181.1 120.2 1177.3 126.5 1173.1 133.1 1168.7 139.6 1163.9 146.3 1159.8 153.1 1156.9 159.7 1154.7 166.4 1152.8 173.0 1151.3 179.9 1150.1 186.8 1148.8 193.0 1147.0 198.4 1145.2 203.1 1143.9 206.3" fill="none" stroke="#0c0e10" stroke-width="6.5" opacity="1" stroke-linecap="round"/>
<path d="M1309.8 48.0 1309.7 73.4 1309.5 109.8 1309.5 146.4 1309.6 183.7 1309.9 221.2 1310.0 247.5" fill="none" stroke="#3a3c3e" stroke-width="2.6" opacity="1" stroke-linecap="round"/>
<path d="M1302.9 48.0 1308.4 47.3 1316.0 46.6 1321.5 48.0 1323.2 53.4 1322.9 60.9 1321.5 66.6 1319.0 69.0 1315.4 69.7 1312.2 69.3 1309.5 67.5 1307.1 64.7 1305.5 62.6Z" fill="#0a0c0e" opacity="1"/>
</g>
</g>
<ellipse cx="1201.5" cy="139.1" rx="6.5" ry="5.5" fill="#5fbf5c"/>
<ellipse cx="1201.7" cy="152.4" rx="6" ry="5.1" fill="#5fbf5c"/>
<ellipse cx="1203.3" cy="163.7" rx="6.5" ry="5.5" fill="#5fbf5c"/>
<ellipse cx="1204.1" cy="172" rx="3.3" ry="2.8" fill="#5fbf5c"/>
<ellipse cx="1204.4" cy="189.7" rx="7.3" ry="6.2" fill="#5fbf5c"/>
<ellipse cx="1204.7" cy="199.6" rx="3.3" ry="2.8" fill="#5fbf5c"/>
<text x="1103.3" y="77.6" font-size="31.55" fill="#fff">Aligned to CCF</text>
<rect x="1247.6" y="227.3" width="60.2" height="4.0" fill="#fff"/>
<text x="1417.0" y="40.6" font-size="47" font-weight="bold" fill="#231f20">c</text>
<text x="1686.0" y="35.9" font-size="31.55" text-anchor="middle" fill="#231f20">Actual lick direction</text>
<text x="1615.5" y="63.9" font-size="23.5" text-anchor="middle" fill="#231f20">Lick right</text>
<text x="1754.5" y="63.9" font-size="23.5" text-anchor="middle" fill="#231f20">Lick left</text>
<rect x="1536.9" y="71.7" width="290.0" height="155.3" fill="none" stroke="#231f20" stroke-width="3.3"/>
<line x1="1681.7" y1="70.2" x2="1681.7" y2="228.5" stroke="#231f20" stroke-width="3.3"/>
<line x1="1535.4" y1="149.0" x2="1828.3" y2="149.0" stroke="#231f20" stroke-width="3.3"/>
<text x="1609.2" y="103.1" font-size="31.55" text-anchor="middle" fill="#231f20">CR</text>
<text x="1609.2" y="134.0" font-size="23.5" text-anchor="middle" fill="#231f20">(correct trial)</text>
<text x="1753.5" y="103.1" font-size="31.55" text-anchor="middle" fill="#231f20">ER</text>
<text x="1760.8" y="134.0" font-size="23.5" text-anchor="middle" fill="#231f20">(error trial)</text>
<text x="1609.2" y="183.9" font-size="31.55" text-anchor="middle" fill="#231f20">EL</text>
<text x="1609.2" y="214.8" font-size="23.5" text-anchor="middle" fill="#231f20">(error trial)</text>
<text x="1753.5" y="183.9" font-size="31.55" text-anchor="middle" fill="#231f20">CL</text>
<text x="1753.5" y="214.8" font-size="23.5" text-anchor="middle" fill="#231f20">(correct trial)</text>
<text x="1522.4" y="103.8" font-size="23.5" text-anchor="middle" fill="#231f20" transform="rotate(-90 1522.4 103.8)">Right</text>
<text x="1522.4" y="208.8" font-size="23.5" text-anchor="middle" fill="#231f20" transform="rotate(-90 1522.4 208.8)">Left</text>
<text x="1442.6" y="149.7" font-size="31.55" text-anchor="middle" fill="#231f20" transform="rotate(-90 1442.6 149.7)">Sensory</text>
<text x="1479.8" y="147.0" font-size="31.55" text-anchor="middle" fill="#231f20" transform="rotate(-90 1479.8 147.0)">instruction</text>
<path d="M1833.3 79.8 q14 0 14 10 V138.8 q0 10 11.6 10 q-11.6 0 -11.6 10 V207.8 q0 10 -14 10" fill="none" stroke="#12a75a" stroke-width="3.2"/>
<path d="M1589.6 231.8 q0 12.6 10 12.6 H1672.2 q10 0 10 11.6 q0 -11.6 10 -11.6 H1764.8 q10 0 10 -12.6" fill="none" stroke="#ec1a8d" stroke-width="3.2"/>
<text x="1925.4" y="144.7" font-size="31.55" text-anchor="middle" fill="#5cb85a">Stimulus</text>
<text x="1925.4" y="181.2" font-size="31.55" text-anchor="middle" fill="#5cb85a">selectivity</text>
<text x="1673.7" y="282.0" font-size="31.55" text-anchor="middle" fill="#b3589f">Choice selectivity</text>
<text x="2.0" y="352.0" font-size="47" font-weight="bold" fill="#231f20">d</text>
<text x="102.8" y="348.8" font-size="31.55" fill="#231f20">Stimulus-selective neurons, SC</text>
<text x="128.6" y="381.5" font-size="23.5" fill="#231f20">Correct trials</text>
<text x="126.0" y="403.2" font-size="23.5" text-anchor="end" fill="#3f5fab">Instructed</text>
<text x="126.0" y="431.4" font-size="23.5" text-anchor="end" fill="#3f5fab">lick right</text>
<text x="126.0" y="464.8" font-size="23.5" text-anchor="end" fill="#e61e3a">Instructed</text>
<text x="126.0" y="492.5" font-size="23.5" text-anchor="end" fill="#e61e3a">lick left</text>
<line x1="156.5" y1="386.0" x2="156.5" y2="500.0" stroke="#231f20" stroke-width="2" stroke-dasharray="7.5 5.5"/>
<line x1="212.4" y1="386.0" x2="212.4" y2="500.0" stroke="#231f20" stroke-width="2" stroke-dasharray="7.5 5.5"/>
<line x1="268.7" y1="386.0" x2="268.7" y2="500.0" stroke="#231f20" stroke-width="2" stroke-dasharray="7.5 5.5"/>
<path transform="translate(139.5 389.99) scale(1.7 1.983)" d="M0 0h1m7 0h2m3 0h2m1 0h1m2 0h2m5 0h1m8 0h1m3 0h1m2 0h1m13 0h1m3 0h1m10 0h2m4 0h1m13 0h1m8 0h1m2 0h1m8 0h1m1 0h1m8 0h3M1 1h1m2 0h2m1 0h1m5 0h5m2 0h1m2 0h3m1 0h1m13 0h1m10 0h1m1 0h1m3 0h1m9 0h2m6 0h2m15 0h2m12 0h1m1 0h3m9 0h1M3 2h1m1 0h2m1 0h1m3 0h3m1 0h1m7 0h1m1 0h2m5 0h1m3 0h2m9 0h1m18 0h1m1 0h1m1 0h2m5 0h1m2 0h1m1 0h1m4 0h1m4 0h1m1 0h1m7 0h1m1 0h1m3 0h1m9 0h1m3 0h1m1 0h2M6 3h1m6 0h4m6 0h2m2 0h1m13 0h3m2 0h1m4 0h1m1 0h1m6 0h1m10 0h1m1 0h1m2 0h1m2 0h1m3 0h2m1 0h1m20 0h1m1 0h1m5 0h1m6 0h1M6 4h1m6 0h1m1 0h1m3 0h1m3 0h1m27 0h1m3 0h1m5 0h1m10 0h1m5 0h1m7 0h1m7 0h1m6 0h1m1 0h1m7 0h2m7 0h1m2 0h3M2 5h1m6 0h1m1 0h6m9 0h1m9 0h1m1 0h2m1 0h1m1 0h1m3 0h2m1 0h1m1 0h3m10 0h1m6 0h1m2 0h1m9 0h1m3 0h2m4 0h1m2 0h1m3 0h1m1 0h1m1 0h2m3 0h1m12 0h1M8 6h1m2 0h2m1 0h1m2 0h1m6 0h1m3 0h1m9 0h1m13 0h2m3 0h1m2 0h2m2 0h1m3 0h2m2 0h1m1 0h1m3 0h1m22 0h1m2 0h1m2 0h2M1 7h1m12 0h2m6 0h1m2 0h2m16 0h2m2 0h1m6 0h1m7 0h1m3 0h1m7 0h1m5 0h1m1 0h1m15 0h1m13 0h2m5 0h1M2 8h1m3 0h1m5 0h7m5 0h1m3 0h2m2 0h1m6 0h1m1 0h2m2 0h2m1 0h1m2 0h3m25 0h1m1 0h1m8 0h1m7 0h1m2 0h1m1 0h1m6 0h1m3 0h1m5 0h1M7 9h1m1 0h1m1 0h7m10 0h1m8 0h1m8 0h1m2 0h1m5 0h1m3 0h1m1 0h1m9 0h1m5 0h1m1 0h4m4 0h1m3 0h1m6 0h1m9 0h1m12 0h1M2 10h1m11 0h3m1 0h1m2 0h1m6 0h1m4 0h2m1 0h1m2 0h1m5 0h1m1 0h1m1 0h1m4 0h1m1 0h1m11 0h1m8 0h2m5 0h1m5 0h1m5 0h1m2 0h2m15 0h1m1 0h1m2 0h1M0 11h1m1 0h1m4 0h1m2 0h1m4 0h1m3 0h2m2 0h1m18 0h1m10 0h1m1 0h1m12 0h2m3 0h2m6 0h2m7 0h2m2 0h1m11 0h1m3 0h1m3 0h1m3 0h1m5 0h3M1 12h1m1 0h2m6 0h1m1 0h2m1 0h1m1 0h1m1 0h1m7 0h2m5 0h3m6 0h1m23 0h1m13 0h1m3 0h1m5 0h2m2 0h1m6 0h1m9 0h2m7 0h1m3 0h1M4 13h1m7 0h1m1 0h4m9 0h1m2 0h1m2 0h3m2 0h2m2 0h4m11 0h2m3 0h1m1 0h1m2 0h1m1 0h2m6 0h2m1 0h1m7 0h1m1 0h1m13 0h2m11 0h3m3 0h1m2 0h1M0 14h1m3 0h1m8 0h2m3 0h1m9 0h1m1 0h1m9 0h1m2 0h3m2 0h1m14 0h1m2 0h1m1 0h1m1 0h1m4 0h1m1 0h1m5 0h1m2 0h2m2 0h2m9 0h2m2 0h2m9 0h1M11 15h1m1 0h2m6 0h1m3 0h1m1 0h1m6 0h1m2 0h1m5 0h1m1 0h1m2 0h1m4 0h1m3 0h1m7 0h1m5 0h2m1 0h1m8 0h1m1 0h1m2 0h1m2 0h2m5 0h1m1 0h1m3 0h1m5 0h2m4 0h1m5 0h2M4 16h4m3 0h1m1 0h1m1 0h1m1 0h1m1 0h1m17 0h1m1 0h1m1 0h1m17 0h1m7 0h1m6 0h1m1 0h1m4 0h1m7 0h1m1 0h1m1 0h1m1 0h2m4 0h1m1 0h1m4 0h1m2 0h1m1 0h1m2 0h1m6 0h1m1 0h1M0 17h1m3 0h1m1 0h1m5 0h3m1 0h1m2 0h2m1 0h1m4 0h1m2 0h1m9 0h1m9 0h3m2 0h2m5 0h1m11 0h1m3 0h2m1 0h1m1 0h1m8 0h1m11 0h1m3 0h1m10 0h2M2 18h1m7 0h1m4 0h1m1 0h2m3 0h1m10 0h4m3 0h2m1 0h1m4 0h1m5 0h1m5 0h1m1 0h1m14 0h2m3 0h1m3 0h1m8 0h1m3 0h1m6 0h1m2 0h1m10 0h2M3 19h1m1 0h1m4 0h1m3 0h1m1 0h1m3 0h1m1 0h1m5 0h1m2 0h1m2 0h1m2 0h3m6 0h1m12 0h1m3 0h1m1 0h1m2 0h1m6 0h3m8 0h2m4 0h1m3 0h1m7 0h2m2 0h2m4 0h2m4 0h1m1 0h1M0 20h4m1 0h1m1 0h2m5 0h3m3 0h3m8 0h1m1 0h1m3 0h2m3 0h1m1 0h1m2 0h2m1 0h1m2 0h1m2 0h1m2 0h1m7 0h1m14 0h1m3 0h1m2 0h1m13 0h2m8 0h2m4 0h1M4 21h3m4 0h1m1 0h1m1 0h1m2 0h1m5 0h2m2 0h1m14 0h1m2 0h1m5 0h1m13 0h1m3 0h1m3 0h1m1 0h2m1 0h2m3 0h2m4 0h1m4 0h1m8 0h2m2 0h1m4 0h1m2 0h1m9 0h1M3 22h2m1 0h1m7 0h1m5 0h3m9 0h1m5 0h1m15 0h1m8 0h1m6 0h1m5 0h1m10 0h2m14 0h1m4 0h2m2 0h1m3 0h2m1 0h2m1 0h1m2 0h1M4 23h1m3 0h1m5 0h1m3 0h2m1 0h2m1 0h1m6 0h1m9 0h1m7 0h1m5 0h1m3 0h2m2 0h1m7 0h1m1 0h1m2 0h1m1 0h1m4 0h1m5 0h1m4 0h2m5 0h1m4 0h1m12 0h1m6 0h1M2 24h1m6 0h2m2 0h1m1 0h2m7 0h1m5 0h1m11 0h1m5 0h1m1 0h1m6 0h1m2 0h2m5 0h2m1 0h1m4 0h1m1 0h3m13 0h1m8 0h1m6 0h1m5 0h2m2 0h1m1 0h1m1 0h1m1 0h2M1 25h1m7 0h2m4 0h1m3 0h2m4 0h1m6 0h1m4 0h1m2 0h3m1 0h1m19 0h1m1 0h2m4 0h1m1 0h1m9 0h1m3 0h1m5 0h1m1 0h1m1 0h1m5 0h1m7 0h1m3 0h1m2 0h1m2 0h1m2 0h1M3 26h2m5 0h2m1 0h1m1 0h2m8 0h1m1 0h1m7 0h1m8 0h1m7 0h1m7 0h1m5 0h1m5 0h1m3 0h1m4 0h1m9 0h1m3 0h1m1 0h1m1 0h1m1 0h2m4 0h1m3 0h1m3 0h2M1 27h1m4 0h1m1 0h1m2 0h1m3 0h1m4 0h1m2 0h1m1 0h1m4 0h1m3 0h1m2 0h1m3 0h3m2 0h1m7 0h1m12 0h2m3 0h1m8 0h3m2 0h2m2 0h2m2 0h2m1 0h1m4 0h1m6 0h1m4 0h1m1 0h1m9 0h1M1 28h1m3 0h1m2 0h1m4 0h2m1 0h2m6 0h1m7 0h1m4 0h1m1 0h1m3 0h1m2 0h1m1 0h1m9 0h1m6 0h1m3 0h1m3 0h1m1 0h1m1 0h1m3 0h1m6 0h2m4 0h1m3 0h2m1 0h1m8 0h1M2 29h2m9 0h1m2 0h1m1 0h1m4 0h1m2 0h1m9 0h2m1 0h1m1 0h1m5 0h1m16 0h1m10 0h1m3 0h1m2 0h2m7 0h1m7 0h1m3 0h2m15 0h1m4 0h2" stroke="#3f5fab" stroke-width="0.88" fill="none"/>
<path transform="translate(139.5 449.99) scale(1.7 1.978)" d="M2 0h2m7 0h1m8 0h2m7 0h1m1 0h1m3 0h1m9 0h1m19 0h1m15 0h1m3 0h1m1 0h1m4 0h1m7 0h1m1 0h1m1 0h1m1 0h1m1 0h1m2 0h2m2 0h1m1 0h2m3 0h1m1 0h1M9 1h1m2 0h1m3 0h1m4 0h1m1 0h5m15 0h2m1 0h1m2 0h2m13 0h1m2 0h2m8 0h1m1 0h1m3 0h1m5 0h1m3 0h1m1 0h1m5 0h3m4 0h1M5 2h1m2 0h1m1 0h2m3 0h1m6 0h1m3 0h1m10 0h1m1 0h1m2 0h1m19 0h1m5 0h1m5 0h1m2 0h1m2 0h1m1 0h1m7 0h2m9 0h2m1 0h1m6 0h2m3 0h1M2 3h1m7 0h1m12 0h1m4 0h1m1 0h1m8 0h1m1 0h1m26 0h1m4 0h1m1 0h2m12 0h1m2 0h2m11 0h2m3 0h1M5 4h2m1 0h1m3 0h1m2 0h2m1 0h2m1 0h1m2 0h1m4 0h1m1 0h2m5 0h1m1 0h3m1 0h1m8 0h2m19 0h1m2 0h1m6 0h1m4 0h3m2 0h1m16 0h1M3 5h1m1 0h1m3 0h1m11 0h1m1 0h1m8 0h1m1 0h2m2 0h1m6 0h1m11 0h1m1 0h1m11 0h1m2 0h1m3 0h1m7 0h1m1 0h2m5 0h1m1 0h1m2 0h1m8 0h1m8 0h1m2 0h1m4 0h1M5 6h2m6 0h1m5 0h1m1 0h1m1 0h2m4 0h1m4 0h1m11 0h1m1 0h1m1 0h1m14 0h1m23 0h1m12 0h1m16 0h1m1 0h1m4 0h1M2 7h1m4 0h3m2 0h1m9 0h1m11 0h1m9 0h1m3 0h2m5 0h1m2 0h2m1 0h2m2 0h1m4 0h1m1 0h1m4 0h2m1 0h1m4 0h1m3 0h1m2 0h2m2 0h1m6 0h1m1 0h3m9 0h1m1 0h2m4 0h1M4 8h1m2 0h1m4 0h1m4 0h1m5 0h2m8 0h1m2 0h1m8 0h1m2 0h1m9 0h1m9 0h1m3 0h3m2 0h1m3 0h2m3 0h1m12 0h1m6 0h2m3 0h1m4 0h1m9 0h1M0 9h1m1 0h1m5 0h1m15 0h1m3 0h1m1 0h1m5 0h2m5 0h1m5 0h1m3 0h1m5 0h1m9 0h2m5 0h2m1 0h1m3 0h1m9 0h1m6 0h1m1 0h1m7 0h1m2 0h1m1 0h1m2 0h1m7 0h1M1 10h1m9 0h1m4 0h1m3 0h2m6 0h1m3 0h1m1 0h2m6 0h3m6 0h1m3 0h1m9 0h1m1 0h3m9 0h1m4 0h2m26 0h1m3 0h1m7 0h1M7 11h1m1 0h1m5 0h1m2 0h1m3 0h1m1 0h1m10 0h1m5 0h1m2 0h2m1 0h1m1 0h2m9 0h1m4 0h1m3 0h2m17 0h1m12 0h2m3 0h1m4 0h1M3 12h1m3 0h1m6 0h1m6 0h1m2 0h1m13 0h3m6 0h2m1 0h1m7 0h1m1 0h1m21 0h3m4 0h1m1 0h1m14 0h1m2 0h1m4 0h1m4 0h1M9 13h1m6 0h1m13 0h1m1 0h2m3 0h2m1 0h1m8 0h1m7 0h1m4 0h1m7 0h1m1 0h1m6 0h2m3 0h1m5 0h1m19 0h1m3 0h1m3 0h1m2 0h1m1 0h1m2 0h1M0 14h1m2 0h2m1 0h1m4 0h1m11 0h1m6 0h1m8 0h1m11 0h2m2 0h2m7 0h1m1 0h2m2 0h1m2 0h2m1 0h1m2 0h1m7 0h1m2 0h1m4 0h1m7 0h1m3 0h1m3 0h1m3 0h1m8 0h1M2 15h1m9 0h3m2 0h1m12 0h1m6 0h2m13 0h1m15 0h1m10 0h1m5 0h1m4 0h1m5 0h1m20 0h1m4 0h1M4 16h1m1 0h1m6 0h2m3 0h2m16 0h1m2 0h1m5 0h1m4 0h1m3 0h1m8 0h1m4 0h1m13 0h1m9 0h1m1 0h1m11 0h1m8 0h1M1 17h1m4 0h1m3 0h1m2 0h1m3 0h2m2 0h1m1 0h1m7 0h1m5 0h1m4 0h1m4 0h1m1 0h2m3 0h1m1 0h1m1 0h1m2 0h1m1 0h2m4 0h1m1 0h2m2 0h1m6 0h1m4 0h1m1 0h1m3 0h1m4 0h1m6 0h1m3 0h1M5 18h1m3 0h1m27 0h1m2 0h1m3 0h1m5 0h1m9 0h1m1 0h1m8 0h1m2 0h1m25 0h1m1 0h1m4 0h1m1 0h1m2 0h1m6 0h1m1 0h1M2 19h1m7 0h1m14 0h2m3 0h3m1 0h1m1 0h1m18 0h1m1 0h1m1 0h1m1 0h1m4 0h1m7 0h1m23 0h1m2 0h1m4 0h1m10 0h1m3 0h2M1 20h1m1 0h1m6 0h1m3 0h1m1 0h1m7 0h1m4 0h1m4 0h1m3 0h1m13 0h1m3 0h1m5 0h2m4 0h1m4 0h1m1 0h1m5 0h1m4 0h3m12 0h1m2 0h1m3 0h1m1 0h1m3 0h1m11 0h1M0 21h1m4 0h1m5 0h1m1 0h1m9 0h1m1 0h1m2 0h3m4 0h1m12 0h1m6 0h1m1 0h1m1 0h1m13 0h1m7 0h1m1 0h1m1 0h1m19 0h2m2 0h1m1 0h2m1 0h1m10 0h1M5 22h1m1 0h1m2 0h1m5 0h3m1 0h1m5 0h1m1 0h1m1 0h2m2 0h2m4 0h1m6 0h1m6 0h2m1 0h1m11 0h1m9 0h1m10 0h1m8 0h2m1 0h1m4 0h1m3 0h1m3 0h1m1 0h2m5 0h2" stroke="#e61e3a" stroke-width="0.88" fill="none"/>
<path d="M139.2 604.9 140.4 605.7 141.6 606.7 142.8 607.6 144.0 609.3 145.2 610.4 146.4 610.5 147.6 611.7 148.8 612.2 150.0 609.8 151.2 607.6 152.4 605.2 153.6 602.7 154.8 601.9 156.0 601.9 157.2 601.1 158.4 600.5 159.6 599.7 160.8 598.9 162.0 597.7 163.2 594.8 164.4 594.4 165.6 596.1 166.8 597.3 168.0 598.0 169.2 599.7 170.4 603.4 171.6 605.4 172.8 605.4 174.0 605.4 175.2 603.9 176.4 603.9 177.6 606.3 178.8 607.3 180.0 608.3 181.2 609.3 182.4 609.6 183.6 610.6 184.8 610.7 186.0 610.5 187.2 609.2 188.4 609.0 189.6 608.4 190.8 608.0 192.0 607.1 193.2 605.0 194.4 601.8 195.6 600.1 196.8 599.2 198.0 598.0 199.2 596.9 200.4 597.9 201.6 599.2 202.8 601.0 204.0 603.8 205.2 604.0 206.4 604.2 207.6 604.4 208.8 605.7 210.0 605.5 211.2 604.0 212.4 603.3 213.6 602.8 214.8 602.1 216.0 602.3 217.2 603.1 218.4 604.3 219.6 605.1 220.8 605.4 222.0 606.8 223.2 609.3 224.4 612.3 225.6 617.1 226.8 618.9 228.0 619.8 229.2 620.7 230.4 621.2 231.6 618.7 232.8 615.4 234.0 612.4 235.2 608.8 236.4 607.8 237.6 606.6 238.8 605.6 240.0 604.7 241.2 603.7 242.4 603.0 243.6 603.2 244.8 605.0 246.0 605.2 247.2 604.5 248.4 604.6 249.6 604.5 250.8 603.3 252.0 601.0 253.2 599.8 254.4 600.0 255.6 598.9 256.8 597.7 258.0 596.7 259.2 593.7 260.4 592.8 261.6 595.8 262.8 598.6 264.0 602.7 265.2 603.3 266.4 602.9 267.6 603.5 268.8 605.0 270.0 605.0 271.2 603.6 272.4 603.6 273.6 602.8 274.8 602.8 276.0 605.5 277.2 606.9 278.4 608.6 279.6 610.0 280.8 610.2 282.0 610.7 283.2 609.3 284.4 608.3 285.6 607.8 286.8 606.8 288.0 607.4 289.2 608.0 290.4 608.5 291.6 609.5 292.8 609.0 294.0 610.0 295.2 611.0 296.4 611.0 297.6 610.7 298.8 610.7 300.0 610.6 301.2 610.6 302.4 613.2 303.6 614.4 304.8 614.1 306.0 615.3 307.2 617.5 308.4 618.4 309.6 617.9 310.8 617.7 312.0 616.9 313.2 616.7 314.4 617.8 315.6 618.4 316.8 617.9 318.0 618.9 319.2 621.2 320.4 622.2 321.6 621.6 322.8 620.2 324.0 619.6 325.2 618.2 326.4 616.3 327.6 614.9 328.8 614.6 330.0 615.0 331.2 617.1 332.4 617.5 333.6 617.5 334.8 617.9 336.0 617.3 337.2 617.9 338.4 619.9 339.6 620.5 340.8 619.5 342.0 619.9 343.2 620.7 344.4 621.0 345.6 622.4" fill="none" stroke="#e61e3a" stroke-width="3.6" stroke-linejoin="round"/>
<path d="M139.2 598.3 140.4 597.5 141.6 597.2 142.8 596.4 144.0 595.7 145.2 595.0 146.4 593.0 147.6 592.6 148.8 591.9 150.0 591.5 151.2 591.9 152.4 591.5 153.6 589.7 154.8 587.0 156.0 585.5 157.2 582.8 158.4 569.2 159.6 554.0 160.8 539.0 162.0 529.0 163.2 518.9 164.4 523.1 165.6 529.8 166.8 539.9 168.0 553.0 169.2 563.5 170.4 572.2 171.6 580.2 172.8 584.5 174.0 588.8 175.2 594.9 176.4 599.2 177.6 600.7 178.8 601.1 180.0 603.3 181.2 603.7 182.4 602.3 183.6 602.7 184.8 604.3 186.0 604.3 187.2 603.5 188.4 603.5 189.6 603.6 190.8 603.4 192.0 602.4 193.2 600.4 194.4 596.4 195.6 594.4 196.8 592.5 198.0 590.3 199.2 590.0 200.4 587.6 201.6 584.2 202.8 581.8 204.0 578.8 205.2 576.9 206.4 577.2 207.6 575.2 208.8 574.7 210.0 577.1 211.2 577.5 212.4 578.5 213.6 579.3 214.8 579.3 216.0 578.6 217.2 585.0 218.4 592.3 219.6 592.9 220.8 594.3 222.0 594.9 223.2 595.2 224.4 598.4 225.6 602.8 226.8 605.9 228.0 607.5 229.2 608.8 230.4 609.6 231.6 610.2 232.8 612.3 234.0 610.7 235.2 608.0 236.4 606.3 237.6 604.7 238.8 603.3 240.0 602.7 241.2 601.8 242.4 600.5 243.6 599.6 244.8 599.8 246.0 600.6 247.2 600.5 248.4 601.3 249.6 603.8 250.8 604.4 252.0 605.2 253.2 605.4 254.4 605.6 255.6 605.8 256.8 605.3 258.0 605.9 259.2 606.0 260.4 606.8 261.6 607.6 262.8 608.4 264.0 609.1 265.2 604.0 266.4 598.9 267.6 593.9 268.8 587.5 270.0 584.2 271.2 582.5 272.4 580.6 273.6 579.0 274.8 580.7 276.0 586.7 277.2 592.4 278.4 598.5 279.6 602.1 280.8 604.9 282.0 608.5 283.2 609.5 284.4 609.6 285.6 611.7 286.8 611.9 288.0 611.1 289.2 611.3 290.4 611.7 291.6 610.3 292.8 608.2 294.0 606.8 295.2 605.9 296.4 604.5 297.6 602.9 298.8 601.4 300.0 600.8 301.2 599.3 302.4 597.5 303.6 597.8 304.8 599.1 306.0 599.3 307.2 598.8 308.4 600.3 309.6 603.0 310.8 604.4 312.0 604.3 313.2 605.5 314.4 607.0 315.6 608.0 316.8 609.2 318.0 610.2 319.2 611.9 320.4 611.9 321.6 610.5 322.8 610.5 324.0 611.5 325.2 611.5 326.4 610.7 327.6 610.1 328.8 609.6 330.0 609.0 331.2 608.9 332.4 608.3 333.6 608.6 334.8 607.6 336.0 605.5 337.2 604.5 338.4 605.3 339.6 606.8 340.8 606.4 342.0 607.9 343.2 610.9 344.4 611.7 345.6 611.1" fill="none" stroke="#3f5fab" stroke-width="3.6" stroke-linejoin="round"/>
<line x1="139.2" y1="501.9" x2="139.2" y2="631.6" stroke="#231f20" stroke-width="2.2"/>
<line x1="134.2" y1="630.5" x2="355.9" y2="630.5" stroke="#231f20" stroke-width="2.2"/>
<line x1="182.3" y1="630.5" x2="182.3" y2="636.5" stroke="#231f20" stroke-width="2.2"/>
<line x1="268.7" y1="630.5" x2="268.7" y2="636.5" stroke="#231f20" stroke-width="2.2"/>
<line x1="355.9" y1="630.5" x2="355.9" y2="636.5" stroke="#231f20" stroke-width="2.2"/>
<line x1="134.2" y1="544.4" x2="139.2" y2="544.4" stroke="#231f20" stroke-width="2.2"/>
<line x1="134.2" y1="630.5" x2="139.2" y2="630.5" stroke="#231f20" stroke-width="2.2"/>
<line x1="156.5" y1="496.0" x2="156.5" y2="630.0" stroke="#231f20" stroke-width="2" stroke-dasharray="7.5 5.5" stroke-dashoffset="6.0"/>
<line x1="212.4" y1="496.0" x2="212.4" y2="630.0" stroke="#231f20" stroke-width="2" stroke-dasharray="7.5 5.5" stroke-dashoffset="6.0"/>
<line x1="268.7" y1="496.0" x2="268.7" y2="630.0" stroke="#231f20" stroke-width="2" stroke-dasharray="7.5 5.5" stroke-dashoffset="6.0"/>
<text x="64.5" y="590.5" font-size="23.5" text-anchor="middle" fill="#231f20" transform="rotate(-90 64.5 590.5)">Spike rate</text>
<text x="95.6" y="590.5" font-size="23.5" text-anchor="middle" fill="#231f20" transform="rotate(-90 95.6 590.5)">(spks /s)</text>
<text x="133.0" y="553.0" font-size="23.5" text-anchor="end" fill="#231f20">20</text>
<text x="133.0" y="639.0" font-size="23.5" text-anchor="end" fill="#231f20">0</text>
<text x="180.0" y="656.6" font-size="23.5" text-anchor="middle" fill="#231f20">-2</text>
<text x="268.7" y="656.6" font-size="23.5" text-anchor="middle" fill="#231f20">0</text>
<text x="355.9" y="656.6" font-size="23.5" text-anchor="middle" fill="#231f20">2</text>
<text x="151.9" y="683.7" font-size="23.8" fill="#231f20">Time from go cue (s)</text>
<text x="421.7" y="381.5" font-size="23.5" fill="#231f20">Error trials</text>
<line x1="438.3" y1="386.0" x2="438.3" y2="500.0" stroke="#231f20" stroke-width="2" stroke-dasharray="7.5 5.5"/>
<line x1="494.8" y1="386.0" x2="494.8" y2="500.0" stroke="#231f20" stroke-width="2" stroke-dasharray="7.5 5.5"/>
<line x1="551.2" y1="386.0" x2="551.2" y2="500.0" stroke="#231f20" stroke-width="2" stroke-dasharray="7.5 5.5"/>
<path transform="translate(421.0 391.32) scale(1.6 5.636)" d="M5 0h2m8 0h1m5 0h1m3 0h1m11 0h3m15 0h1m9 0h1m2 0h1m2 0h1m3 0h1m1 0h1m7 0h1m1 0h1m3 0h2m20 0h1m2 0h1m2 0h1m6 0h2M6 1h1m3 0h1m1 0h2m2 0h3m3 0h1m5 0h1m4 0h1m5 0h1m8 0h2m14 0h1m3 0h1m6 0h1m22 0h1m2 0h1m6 0h5m2 0h1m9 0h1m3 0h1M12 2h1m4 0h1m2 0h1m1 0h1m7 0h1m1 0h2m1 0h3m1 0h2m1 0h1m6 0h1m3 0h1m2 0h1m13 0h1m4 0h1m7 0h2m20 0h1m6 0h1M10 3h2m1 0h2m2 0h2m2 0h1m4 0h1m2 0h1m2 0h1m13 0h1m11 0h1m1 0h1m8 0h1m8 0h1m10 0h1m1 0h2m9 0h1m7 0h1m14 0h1m7 0h1M5 4h1m2 0h1m2 0h1m2 0h1m2 0h1m12 0h5m9 0h1m7 0h1m2 0h1m5 0h4m1 0h2m3 0h1m2 0h1m2 0h1m1 0h1m2 0h2m11 0h1m3 0h3m1 0h2m8 0h1m3 0h1m2 0h1M2 5h1m5 0h1m1 0h1m3 0h2m9 0h1m2 0h1m1 0h2m2 0h2m2 0h2m1 0h1m6 0h3m1 0h2m3 0h1m10 0h1m7 0h1m2 0h1m10 0h1m1 0h1m19 0h1m4 0h1m7 0h1m2 0h2M1 6h1m11 0h1m1 0h2m2 0h3m5 0h1m1 0h1m2 0h1m1 0h1m5 0h1m6 0h1m6 0h2m21 0h1m7 0h1m6 0h1m18 0h1m2 0h1m2 0h1m5 0h1m2 0h1m4 0h1m2 0h1M5 7h2m1 0h2m2 0h1m2 0h3m1 0h4m2 0h2m9 0h1m9 0h1m3 0h1m2 0h1m2 0h1m3 0h2m6 0h1m2 0h1m14 0h1m14 0h1m3 0h1m18 0h1m3 0h2m2 0h1M7 8h1m4 0h2m2 0h4m1 0h2m6 0h1m2 0h1m3 0h2m8 0h1m1 0h1m1 0h1m3 0h1m11 0h1m8 0h1m7 0h1m4 0h1m4 0h1m7 0h1m15 0h1M1 9h1m9 0h2m2 0h1m6 0h2m9 0h1m3 0h1m1 0h1m2 0h2m1 0h1m1 0h2m5 0h1m3 0h1m14 0h1m7 0h1m14 0h2m8 0h1m4 0h1m4 0h1m3 0h2m2 0h3m7 0h1M3 10h1m3 0h1m5 0h2m2 0h5m4 0h2m11 0h1m2 0h1m4 0h1m1 0h1m2 0h1m5 0h1m1 0h1m3 0h1m5 0h1m1 0h1m1 0h1m2 0h1m5 0h1m3 0h2m8 0h1m12 0h1m5 0h1m7 0h1" stroke="#3a5aa8" stroke-width="1.10" fill="none"/>
<path transform="translate(421.0 453.28) scale(1.6 5.562)" d="M1 0h1m2 0h1m8 0h1m11 0h1m5 0h1m15 0h2m16 0h2m7 0h1m5 0h1m14 0h2m8 0h2m3 0h1m11 0h1m5 0h1M4 1h1m9 0h1m15 0h1m3 0h1m1 0h1m2 0h1m6 0h1m1 0h1m1 0h1m12 0h2m8 0h1m2 0h1m31 0h1M6 2h1m8 0h1m6 0h2m12 0h1m22 0h1m8 0h1m5 0h1m18 0h1m30 0h1m1 0h1M15 3h1m6 0h1m18 0h1m6 0h1m3 0h1m3 0h1m3 0h1m1 0h1m9 0h1m10 0h1m11 0h1m31 0h1M0 4h1m12 0h1m4 0h1m9 0h1m14 0h1m5 0h1m9 0h1m3 0h1m11 0h1m3 0h1m26 0h1m8 0h1m10 0h1M1 5h1m10 0h2m3 0h1m6 0h1m2 0h1m5 0h1m1 0h1m40 0h1m1 0h2m1 0h1m13 0h2m8 0h1m11 0h1M12 6h1m11 0h1m1 0h1m29 0h1m3 0h1m7 0h2m5 0h1m2 0h1m3 0h1m43 0h1M14 7h1m1 0h1m1 0h1m9 0h1m13 0h1m4 0h1m12 0h1m7 0h1m19 0h1m1 0h1m3 0h1m5 0h1m25 0h1" stroke="#e61e3a" stroke-width="1.11" fill="none"/>
<path d="M421.7 596.5 423.2 588.4 424.7 583.0 426.2 582.1 427.7 581.1 429.2 590.3 430.7 603.3 432.2 610.4 433.7 615.4 435.2 615.8 436.7 613.5 438.2 610.2 439.7 611.7 441.2 615.6 442.7 615.4 444.2 615.8 445.7 616.6 447.2 619.6 448.7 622.1 450.2 624.1 451.7 622.5 453.2 621.4 454.7 621.7 456.2 623.2 457.7 625.2 459.2 626.7 460.7 625.6 462.2 624.4 463.7 624.6 465.2 623.4 466.7 621.9 468.2 621.6 469.7 621.3 471.2 620.0 472.7 613.6 474.2 607.6 475.7 603.5 477.2 597.5 478.7 591.0 480.2 587.1 481.7 589.4 483.2 591.8 484.7 600.3 486.2 609.3 487.7 613.8 489.2 618.8 490.7 615.7 492.2 606.7 493.7 599.6 495.2 594.6 496.7 589.8 498.2 589.8 499.7 591.5 501.2 599.2 502.7 606.0 504.2 610.3 505.7 612.9 507.2 610.5 508.7 604.8 510.2 601.0 511.7 602.6 513.2 605.6 514.7 610.6 516.2 614.6 517.7 617.7 519.2 622.2 520.7 626.9 522.2 625.9 523.7 623.9 525.2 622.4 526.7 622.7 528.2 622.7 529.7 622.0 531.2 617.5 532.7 612.7 534.2 608.3 535.7 607.3 537.2 604.6 538.7 600.6 540.2 599.0 541.7 600.5 543.2 600.9 544.7 600.8 546.2 602.8 547.7 605.7 549.2 604.6 550.7 603.3 552.2 602.3 553.7 601.4 555.2 600.8 556.7 600.2 558.2 600.1 559.7 600.0 561.2 600.3 562.7 600.9 564.2 606.4 565.7 611.7 567.2 618.5 568.7 626.2 570.2 630.4 571.7 631.1 573.2 631.1 574.7 629.9 576.2 629.9 577.7 628.8 579.2 626.1 580.7 623.5 582.2 623.5 583.7 622.5 585.2 622.5 586.7 622.4 588.2 623.2 589.7 624.6 591.2 625.8 592.7 627.0 594.2 627.9 595.7 628.7 597.2 628.2 598.7 626.4 600.2 625.9 601.7 623.7 603.2 621.7 604.7 619.8 606.2 617.8 607.7 618.1 609.2 619.8 610.7 622.0 612.2 623.8 613.7 624.5 615.2 626.0 616.7 625.5 618.2 625.1 619.7 624.8 621.2 624.4 622.7 624.3 624.2 623.8 625.7 622.1 627.2 621.5" fill="none" stroke="#e8465a" stroke-width="3.6" stroke-linejoin="round"/>
<path d="M421.7 617.2 423.2 614.4 424.7 609.6 426.2 606.9 427.7 603.8 429.2 604.8 430.7 608.2 432.2 609.2 433.7 608.2 435.2 610.8 436.7 612.7 438.2 598.7 439.7 586.0 441.2 562.3 442.7 536.6 444.2 524.0 445.7 519.0 447.2 529.0 448.7 542.5 450.2 562.1 451.7 579.0 453.2 589.4 454.7 583.4 456.2 578.9 457.7 579.8 459.2 581.3 460.7 585.0 462.2 589.0 463.7 592.6 465.2 597.1 466.7 602.2 468.2 605.9 469.7 608.0 471.2 610.7 472.7 608.4 474.2 603.5 475.7 600.6 477.2 597.8 478.7 596.3 480.2 595.6 481.7 591.3 483.2 585.3 484.7 579.1 486.2 574.8 487.7 573.4 489.2 570.4 490.7 566.7 492.2 574.3 493.7 585.3 495.2 597.3 496.7 607.1 498.2 617.1 499.7 623.1 501.2 625.4 502.7 621.9 504.2 619.2 505.7 617.6 507.2 617.4 508.7 617.0 510.2 616.8 511.7 615.8 513.2 615.6 514.7 615.1 516.2 609.5 517.7 602.3 519.2 596.1 520.7 590.1 522.2 583.0 523.7 579.5 525.2 579.5 526.7 578.7 528.2 581.4 529.7 585.7 531.2 592.2 532.7 602.8 534.2 611.4 535.7 613.3 537.2 615.5 538.7 616.5 540.2 617.8 541.7 618.7 543.2 620.0 544.7 622.4 546.2 620.5 547.7 616.0 549.2 612.6 550.7 609.5 552.2 603.5 553.7 596.5 555.2 595.8 556.7 597.0 558.2 598.1 559.7 596.5 561.2 594.5 562.7 593.1 564.2 591.1 565.7 590.1 567.2 589.3 568.7 587.0 570.2 586.1 571.7 585.4 573.2 585.3 574.7 589.2 576.2 592.6 577.7 595.9 579.2 601.9 580.7 608.6 582.2 614.6 583.7 615.0 585.2 610.8 586.7 606.4 588.2 602.2 589.7 601.2 591.2 600.2 592.7 602.5 594.2 607.3 595.7 611.0 597.2 615.8 598.7 617.5 600.2 616.6 601.7 614.2 603.2 613.1 604.7 611.5 606.2 609.7 607.7 607.8 609.2 607.4 610.7 609.4 612.2 610.1 613.7 608.1 615.2 604.0 616.7 598.8 618.2 599.1 619.7 601.8 621.2 604.8 622.7 607.6 624.2 611.4 625.7 617.0 627.2 613.8" fill="none" stroke="#5570b5" stroke-width="3.8" stroke-linejoin="round"/>
<line x1="421.7" y1="503.0" x2="421.7" y2="631.6" stroke="#231f20" stroke-width="2.2"/>
<line x1="416.7" y1="630.5" x2="637.6" y2="630.5" stroke="#231f20" stroke-width="2.2"/>
<line x1="464.2" y1="630.5" x2="464.2" y2="636.5" stroke="#231f20" stroke-width="2.2"/>
<line x1="551.2" y1="630.5" x2="551.2" y2="636.5" stroke="#231f20" stroke-width="2.2"/>
<line x1="637.6" y1="630.5" x2="637.6" y2="636.5" stroke="#231f20" stroke-width="2.2"/>
<line x1="416.7" y1="546.7" x2="421.7" y2="546.7" stroke="#231f20" stroke-width="2.2"/>
<line x1="416.7" y1="630.5" x2="421.7" y2="630.5" stroke="#231f20" stroke-width="2.2"/>
<line x1="438.3" y1="496.0" x2="438.3" y2="630.0" stroke="#231f20" stroke-width="2" stroke-dasharray="7.5 5.5" stroke-dashoffset="6.0"/>
<line x1="494.8" y1="496.0" x2="494.8" y2="630.0" stroke="#231f20" stroke-width="2" stroke-dasharray="7.5 5.5" stroke-dashoffset="6.0"/>
<line x1="551.2" y1="496.0" x2="551.2" y2="630.0" stroke="#231f20" stroke-width="2" stroke-dasharray="7.5 5.5" stroke-dashoffset="6.0"/>
<text x="415.0" y="555.5" font-size="23.5" text-anchor="end" fill="#231f20">20</text>
<text x="415.0" y="639.0" font-size="23.5" text-anchor="end" fill="#231f20">0</text>
<text x="462.0" y="656.6" font-size="23.5" text-anchor="middle" fill="#231f20">-2</text>
<text x="551.2" y="656.6" font-size="23.5" text-anchor="middle" fill="#231f20">0</text>
<text x="637.6" y="656.6" font-size="23.5" text-anchor="middle" fill="#231f20">2</text>
<text x="860.5" y="348.8" font-size="31.55" fill="#231f20">Choice-selective neurons, SC</text>
<text x="893.0" y="381.5" font-size="23.5" fill="#231f20">Correct trials</text>
<text x="880.4" y="413.2" font-size="23.5" text-anchor="end" fill="#3f5fab">Instructed</text>
<text x="880.4" y="442.0" font-size="23.5" text-anchor="end" fill="#3f5fab">lick right</text>
<text x="880.4" y="474.8" font-size="23.5" text-anchor="end" fill="#e61e3a">Instructed</text>
<text x="880.4" y="503.2" font-size="23.5" text-anchor="end" fill="#e61e3a">lick left</text>
<line x1="910.6" y1="386.0" x2="910.6" y2="510.0" stroke="#231f20" stroke-width="2" stroke-dasharray="7.5 5.5"/>
<line x1="966.7" y1="386.0" x2="966.7" y2="510.0" stroke="#231f20" stroke-width="2" stroke-dasharray="7.5 5.5"/>
<line x1="1022.7" y1="386.0" x2="1022.7" y2="510.0" stroke="#231f20" stroke-width="2" stroke-dasharray="7.5 5.5"/>
<path transform="translate(893.5 391.78) scale(1.6 1.553)" d="M0 0h3m1 0h3m1 0h1m2 0h1m1 0h2m1 0h2m2 0h1m3 0h4m2 0h2m2 0h1m2 0h2m1 0h10m3 0h15m1 0h8m1 0h17m1 0h3m1 0h18m1 0h2m1 0h1m1 0h3m5 0h1m1 0h1M0 1h5m2 0h1m3 0h1m2 0h2m1 0h2m2 0h2m2 0h1m1 0h5m1 0h11m1 0h27m1 0h2m1 0h4m1 0h27m1 0h6m1 0h1m3 0h2m1 0h3m2 0h4m1 0h2M0 2h2m1 0h4m1 0h1m1 0h1m1 0h1m1 0h3m6 0h3m1 0h1m1 0h1m1 0h1m2 0h2m1 0h2m1 0h2m2 0h4m1 0h50m1 0h7m1 0h3m1 0h4m1 0h5m2 0h6m4 0h1M1 3h2m2 0h1m1 0h1m3 0h1m7 0h2m3 0h1m1 0h5m2 0h5m1 0h3m1 0h4m1 0h3m1 0h2m1 0h29m1 0h3m1 0h11m1 0h14m1 0h7m2 0h2m1 0h2m1 0h1m1 0h1M1 4h2m2 0h3m1 0h2m1 0h2m6 0h1m3 0h1m1 0h1m1 0h3m1 0h5m1 0h1m1 0h1m1 0h21m1 0h3m1 0h4m1 0h43m2 0h7m5 0h1m2 0h2M3 5h1m3 0h1m1 0h1m3 0h5m2 0h1m1 0h1m1 0h2m2 0h2m1 0h7m1 0h7m1 0h3m1 0h8m1 0h3m1 0h1m1 0h9m1 0h5m1 0h26m1 0h1m1 0h1m1 0h3m3 0h2m1 0h1m1 0h1m2 0h3m3 0h2M0 6h2m2 0h2m3 0h1m1 0h1m2 0h1m2 0h1m3 0h1m2 0h3m1 0h1m4 0h1m2 0h6m1 0h3m2 0h16m1 0h2m1 0h12m1 0h13m1 0h1m1 0h13m1 0h7m2 0h2m1 0h1m2 0h1m1 0h1m1 0h2M0 7h3m3 0h2m1 0h1m1 0h1m1 0h1m1 0h4m5 0h4m1 0h2m1 0h4m1 0h7m1 0h2m1 0h15m1 0h28m2 0h12m1 0h8m1 0h2m2 0h4m4 0h2m2 0h3M2 8h1m5 0h1m1 0h1m1 0h5m3 0h1m3 0h4m3 0h3m1 0h7m1 0h1m1 0h15m1 0h16m1 0h18m1 0h13m1 0h10m1 0h2m1 0h1m4 0h1m1 0h3M0 9h1m3 0h3m1 0h1m2 0h3m1 0h1m1 0h1m6 0h5m2 0h1m2 0h1m1 0h1m1 0h10m1 0h14m1 0h45m2 0h2m1 0h2m1 0h4m1 0h3m1 0h1m5 0h1m1 0h1M2 10h3m1 0h2m1 0h1m3 0h3m5 0h1m3 0h2m1 0h5m1 0h5m2 0h3m1 0h3m1 0h34m1 0h30m1 0h3m1 0h3m1 0h1m4 0h2m1 0h1m1 0h1M1 11h2m1 0h1m5 0h1m1 0h1m1 0h1m2 0h2m1 0h1m1 0h1m4 0h6m1 0h2m4 0h5m1 0h17m1 0h13m1 0h7m1 0h12m1 0h10m1 0h4m1 0h4m2 0h6m1 0h1m1 0h2m1 0h1M0 12h2m2 0h1m1 0h4m2 0h1m3 0h1m8 0h1m1 0h1m3 0h2m1 0h2m1 0h1m1 0h2m1 0h1m1 0h18m1 0h38m1 0h11m1 0h11m2 0h4m3 0h1M0 13h1m3 0h1m1 0h6m4 0h1m3 0h1m3 0h2m3 0h3m1 0h7m1 0h2m1 0h56m1 0h19m1 0h3m1 0h2m1 0h1M8 14h2m1 0h1m12 0h1m1 0h2m1 0h1m2 0h1m1 0h5m2 0h30m1 0h6m2 0h1m1 0h18m1 0h10m1 0h2m2 0h4m4 0h1m5 0h1m1 0h3M0 15h2m1 0h2m1 0h1m2 0h5m3 0h3m5 0h1m1 0h7m2 0h2m1 0h5m2 0h3m1 0h1m1 0h52m1 0h4m1 0h1m1 0h4m1 0h1m1 0h3m1 0h1m2 0h2m3 0h2M1 16h3m3 0h3m1 0h3m2 0h1m1 0h1m5 0h6m1 0h17m1 0h2m1 0h23m1 0h17m1 0h15m1 0h10m1 0h1m1 0h4m3 0h1m1 0h1m1 0h1M0 17h1m1 0h2m3 0h1m6 0h6m6 0h4m1 0h5m2 0h4m2 0h4m1 0h2m1 0h34m1 0h23m1 0h6m2 0h1m1 0h1m1 0h1m1 0h1m2 0h6M1 18h2m6 0h2m2 0h3m1 0h1m7 0h1m3 0h1m3 0h1m1 0h3m1 0h7m1 0h26m1 0h14m1 0h38m4 0h2m1 0h1M3 19h3m1 0h1m1 0h1m3 0h1m3 0h3m2 0h1m3 0h1m2 0h5m2 0h5m1 0h4m2 0h26m1 0h15m1 0h2m1 0h11m1 0h6m2 0h1m1 0h4m1 0h7M3 20h1m3 0h1m6 0h1m1 0h1m6 0h1m2 0h1m2 0h4m2 0h10m2 0h23m1 0h5m1 0h4m2 0h4m1 0h6m1 0h16m3 0h6m2 0h1m1 0h2m2 0h1m1 0h3m1 0h1M0 21h1m3 0h1m1 0h1m2 0h1m4 0h1m1 0h1m4 0h1m2 0h3m1 0h2m2 0h1m2 0h7m2 0h2m1 0h6m1 0h48m1 0h16m4 0h2m1 0h1m3 0h2m2 0h1M2 22h2m2 0h1m1 0h1m2 0h3m1 0h1m1 0h1m6 0h2m2 0h5m1 0h2m1 0h2m1 0h1m1 0h1m1 0h12m1 0h32m1 0h28m1 0h3m2 0h1m1 0h2m1 0h1m3 0h2M2 23h4m5 0h1m4 0h4m1 0h2m1 0h2m1 0h1m1 0h1m1 0h4m2 0h5m1 0h30m1 0h11m1 0h3m1 0h6m1 0h3m1 0h21m1 0h6m1 0h2m1 0h1M1 24h1m1 0h2m2 0h3m3 0h1m1 0h2m1 0h3m2 0h2m1 0h3m3 0h1m1 0h1m2 0h3m1 0h7m1 0h12m2 0h5m1 0h6m1 0h31m1 0h2m1 0h13m1 0h3m3 0h2M2 25h1m2 0h4m1 0h2m1 0h1m3 0h1m2 0h1m3 0h4m1 0h6m1 0h2m1 0h8m1 0h1m1 0h2m1 0h7m1 0h19m1 0h18m1 0h3m1 0h5m1 0h11m1 0h2m3 0h2m3 0h1m1 0h1M0 26h1m1 0h1m3 0h1m1 0h2m3 0h2m2 0h1m7 0h2m4 0h4m1 0h1m1 0h7m1 0h13m1 0h1m1 0h35m1 0h13m1 0h5m2 0h2m1 0h3m2 0h3m1 0h4M0 27h2m1 0h1m1 0h1m2 0h1m3 0h3m3 0h1m1 0h3m1 0h4m1 0h2m2 0h3m1 0h5m1 0h2m1 0h75m1 0h6m2 0h2m1 0h2M0 28h1m5 0h2m4 0h3m1 0h1m1 0h1m1 0h1m4 0h4m1 0h2m4 0h3m1 0h2m1 0h3m1 0h6m1 0h1m1 0h23m1 0h10m1 0h22m3 0h1m1 0h2m5 0h3m1 0h2m1 0h1m1 0h1M0 29h1m2 0h3m1 0h2m1 0h1m4 0h1m2 0h2m2 0h1m1 0h3m1 0h2m1 0h1m1 0h13m2 0h16m1 0h21m1 0h9m1 0h13m1 0h6m1 0h2m2 0h3m1 0h1m1 0h4m1 0h2M0 30h1m1 0h3m1 0h3m7 0h1m1 0h2m4 0h1m1 0h3m2 0h15m3 0h1m1 0h6m1 0h7m2 0h1m2 0h1m1 0h23m1 0h16m2 0h2m2 0h1m2 0h1m1 0h6m2 0h1m2 0h1M0 31h1m4 0h3m2 0h2m3 0h2m5 0h1m4 0h4m1 0h24m1 0h20m1 0h15m1 0h16m1 0h2m1 0h4m1 0h3m1 0h3m2 0h4M0 32h3m2 0h2m3 0h2m3 0h2m7 0h1m4 0h5m4 0h4m3 0h1m1 0h3m1 0h65m1 0h1m5 0h8m1 0h2M3 33h2m1 0h1m2 0h1m1 0h1m1 0h2m2 0h4m2 0h4m1 0h9m2 0h1m1 0h2m2 0h2m1 0h5m1 0h25m1 0h21m1 0h12m1 0h1m1 0h3m1 0h2m2 0h1m2 0h2m1 0h2M3 34h3m2 0h3m1 0h2m2 0h5m3 0h5m4 0h4m1 0h5m1 0h3m1 0h1m1 0h11m1 0h54m1 0h2m1 0h9m3 0h2M2 35h4m2 0h1m1 0h2m1 0h1m1 0h1m3 0h1m5 0h2m1 0h1m1 0h5m1 0h3m1 0h2m1 0h1m3 0h1m1 0h11m1 0h48m1 0h5m1 0h2m1 0h3m1 0h1m1 0h1m1 0h1m2 0h4M0 36h2m3 0h2m2 0h7m2 0h2m1 0h3m1 0h4m1 0h3m1 0h9m1 0h4m1 0h67m4 0h2m2 0h1m3 0h2m1 0h2m1 0h1M0 37h1m2 0h2m2 0h1m1 0h1m3 0h2m4 0h1m3 0h5m2 0h54m1 0h4m1 0h4m1 0h19m1 0h1m2 0h2m2 0h3m1 0h1m1 0h4m2 0h1" stroke="#3f5fab" stroke-width="1.04" fill="none"/>
<rect x="889.5" y="449.0" width="70.0" height="1.5" fill="#3f5fab"/>
<path transform="translate(893.5 451.28) scale(1.6 1.557)" d="M0 0h3m3 0h1m5 0h2m1 0h2m4 0h3m1 0h8m1 0h1m2 0h2m2 0h4m1 0h3m1 0h1m1 0h2m1 0h6m3 0h1m3 0h4m1 0h1m1 0h1m3 0h4m1 0h1m1 0h2m2 0h7m1 0h1m1 0h2m1 0h1m1 0h1m1 0h2m4 0h3m2 0h1m3 0h1m1 0h1m1 0h2m5 0h1M2 1h2m2 0h2m2 0h1m2 0h2m2 0h2m6 0h7m1 0h1m2 0h7m1 0h2m1 0h1m2 0h3m1 0h2m3 0h2m1 0h5m1 0h2m4 0h3m3 0h9m1 0h4m1 0h8m1 0h1m2 0h1m1 0h2m2 0h3m2 0h1m4 0h1m3 0h1m3 0h1M0 2h4m1 0h2m1 0h2m1 0h1m1 0h1m3 0h2m2 0h1m2 0h1m3 0h1m7 0h3m1 0h5m1 0h3m1 0h5m1 0h8m1 0h3m4 0h5m1 0h1m1 0h7m1 0h5m1 0h2m1 0h6m2 0h2m1 0h2m2 0h1m4 0h1m1 0h1m1 0h1m3 0h1m4 0h1M1 3h2m1 0h2m2 0h2m4 0h1m4 0h3m3 0h2m1 0h1m4 0h4m1 0h3m1 0h1m2 0h2m1 0h6m1 0h1m1 0h1m1 0h1m4 0h2m2 0h1m5 0h4m1 0h8m1 0h11m2 0h5m11 0h1m1 0h1m8 0h1m1 0h1m1 0h1M1 4h2m2 0h1m3 0h1m1 0h1m2 0h1m2 0h2m6 0h4m3 0h3m3 0h1m2 0h2m1 0h1m2 0h1m1 0h6m4 0h3m1 0h1m4 0h3m2 0h3m1 0h1m4 0h1m1 0h18m1 0h1m3 0h1m1 0h2m2 0h2m2 0h1m1 0h1m2 0h2m2 0h2m2 0h1m3 0h1M6 5h2m2 0h2m4 0h1m7 0h1m1 0h5m1 0h3m1 0h2m2 0h1m2 0h6m1 0h3m2 0h4m1 0h1m2 0h1m1 0h3m2 0h1m1 0h1m1 0h1m5 0h23m1 0h3m5 0h2m1 0h3m4 0h1m5 0h1M2 6h1m1 0h1m3 0h1m1 0h2m11 0h1m7 0h5m5 0h6m2 0h1m1 0h1m2 0h2m1 0h1m1 0h1m2 0h8m1 0h2m1 0h1m1 0h1m1 0h11m1 0h8m2 0h3m2 0h1m1 0h7m1 0h4m2 0h4m4 0h1m3 0h1M0 7h1m5 0h3m1 0h2m2 0h1m1 0h2m3 0h2m1 0h1m1 0h1m1 0h1m2 0h2m4 0h6m2 0h2m1 0h1m1 0h1m2 0h3m3 0h3m1 0h4m2 0h7m1 0h6m1 0h7m1 0h4m1 0h7m1 0h2m1 0h2m2 0h1m1 0h3m3 0h3m1 0h2m1 0h1m1 0h1M3 8h1m1 0h1m1 0h1m1 0h6m3 0h1m2 0h1m4 0h1m2 0h2m1 0h1m1 0h2m1 0h3m1 0h1m1 0h1m1 0h2m1 0h1m2 0h2m1 0h2m1 0h2m2 0h1m1 0h1m1 0h4m1 0h1m1 0h2m1 0h3m1 0h3m1 0h2m1 0h1m1 0h1m1 0h9m1 0h1m1 0h2m1 0h3m2 0h3m2 0h2m4 0h1m4 0h1m2 0h1m4 0h1M1 9h2m1 0h1m2 0h2m2 0h1m4 0h1m2 0h1m9 0h1m2 0h2m1 0h1m1 0h2m4 0h2m3 0h2m1 0h1m2 0h3m1 0h1m4 0h1m1 0h1m1 0h1m2 0h2m1 0h1m3 0h2m2 0h2m1 0h4m1 0h6m1 0h4m1 0h6m1 0h1m4 0h2m14 0h2m2 0h2M3 10h2m1 0h1m1 0h4m5 0h1m3 0h2m1 0h1m2 0h1m2 0h2m1 0h1m1 0h2m1 0h2m1 0h1m4 0h2m1 0h1m1 0h3m2 0h1m2 0h3m1 0h6m1 0h1m1 0h4m1 0h1m1 0h11m1 0h1m1 0h1m1 0h2m2 0h4m1 0h5m1 0h2m9 0h1m11 0h1M4 11h1m4 0h1m3 0h1m3 0h1m8 0h1m1 0h1m1 0h1m1 0h2m3 0h1m1 0h1m1 0h1m1 0h2m2 0h2m1 0h2m1 0h1m1 0h6m2 0h2m3 0h6m1 0h9m1 0h2m1 0h1m1 0h12m2 0h1m1 0h2m1 0h1m2 0h3m3 0h1m4 0h1m8 0h2M2 12h1m5 0h1m2 0h3m3 0h2m1 0h1m2 0h2m1 0h5m2 0h7m2 0h2m1 0h1m2 0h2m2 0h2m1 0h2m1 0h4m2 0h4m1 0h3m4 0h2m1 0h4m1 0h15m1 0h1m1 0h4m1 0h1m1 0h5m5 0h1m1 0h1m3 0h2m6 0h1M0 13h1m4 0h1m1 0h1m5 0h1m8 0h1m3 0h1m1 0h2m2 0h1m3 0h5m2 0h1m1 0h2m1 0h2m2 0h1m1 0h1m2 0h2m3 0h2m1 0h1m3 0h2m2 0h1m1 0h1m1 0h17m1 0h11m2 0h1m4 0h2m1 0h2m1 0h1m1 0h2m2 0h1m5 0h1m1 0h1M0 14h1m1 0h4m1 0h1m2 0h1m3 0h2m1 0h1m3 0h1m1 0h1m4 0h4m1 0h2m1 0h5m1 0h3m1 0h1m2 0h1m2 0h1m2 0h1m1 0h2m1 0h1m3 0h1m1 0h6m1 0h12m1 0h5m1 0h5m1 0h5m1 0h5m2 0h2m1 0h1m1 0h3m8 0h3M4 15h1m3 0h3m3 0h1m3 0h1m7 0h2m1 0h5m2 0h8m3 0h5m1 0h4m1 0h4m1 0h1m1 0h7m4 0h2m1 0h2m1 0h6m2 0h2m1 0h9m1 0h2m1 0h1m1 0h1m1 0h1m1 0h1m1 0h3m3 0h4m4 0h1m4 0h1M5 16h3m2 0h1m2 0h1m2 0h1m3 0h2m2 0h1m3 0h3m2 0h4m1 0h2m1 0h1m1 0h1m1 0h1m1 0h1m1 0h1m1 0h4m1 0h1m1 0h3m1 0h1m2 0h4m1 0h1m1 0h1m1 0h3m3 0h4m1 0h19m1 0h6m1 0h1m4 0h4m4 0h1m5 0h1M0 17h1m6 0h1m5 0h1m5 0h1m1 0h1m4 0h1m1 0h3m1 0h2m1 0h1m1 0h1m2 0h1m2 0h4m4 0h2m1 0h6m2 0h2m1 0h1m1 0h3m3 0h9m1 0h3m2 0h3m1 0h6m1 0h2m1 0h1m2 0h3m1 0h4m1 0h2m3 0h2m6 0h1m4 0h1M0 18h1m1 0h4m1 0h1m1 0h1m4 0h2m3 0h1m6 0h5m1 0h2m3 0h3m2 0h2m1 0h4m1 0h1m1 0h1m1 0h2m3 0h1m1 0h1m1 0h1m2 0h1m1 0h4m1 0h4m1 0h8m1 0h4m1 0h5m1 0h1m1 0h2m1 0h3m2 0h1m1 0h1m4 0h2m10 0h2m4 0h1M1 19h1m1 0h3m3 0h1m2 0h2m7 0h3m2 0h1m2 0h1m1 0h2m3 0h2m1 0h7m1 0h1m2 0h3m3 0h5m1 0h1m2 0h2m1 0h6m4 0h24m1 0h4m1 0h4m2 0h3m2 0h1m1 0h1m2 0h1m9 0h1M0 20h1m3 0h1m2 0h2m1 0h1m1 0h1m4 0h1m1 0h1m6 0h3m2 0h2m1 0h2m3 0h3m1 0h4m1 0h6m1 0h3m2 0h1m1 0h5m1 0h1m1 0h6m1 0h1m1 0h1m1 0h6m1 0h5m1 0h7m1 0h2m1 0h1m1 0h1m1 0h1m1 0h1m1 0h2m5 0h2M0 21h1m1 0h1m6 0h3m6 0h2m3 0h1m3 0h1m1 0h3m2 0h1m3 0h4m3 0h5m1 0h2m6 0h2m3 0h2m1 0h1m1 0h1m3 0h11m2 0h3m1 0h4m1 0h7m1 0h4m1 0h2m2 0h2m4 0h1m5 0h1m2 0h1m4 0h1M4 22h1m1 0h2m6 0h1m3 0h1m1 0h2m4 0h2m2 0h1m1 0h2m5 0h1m5 0h1m3 0h2m2 0h1m1 0h2m1 0h3m2 0h5m1 0h1m2 0h4m1 0h2m1 0h3m1 0h15m1 0h1m1 0h1m3 0h1m1 0h2m1 0h1m4 0h3m1 0h3m5 0h1m3 0h1m1 0h1M0 23h4m1 0h4m1 0h3m16 0h1m4 0h1m3 0h1m3 0h1m1 0h1m1 0h1m1 0h1m2 0h4m2 0h2m2 0h2m1 0h5m4 0h1m1 0h3m4 0h3m1 0h1m1 0h9m1 0h2m3 0h1m1 0h1m1 0h3m7 0h2m2 0h2m2 0h1m1 0h3m1 0h1M0 24h3m1 0h1m1 0h1m4 0h2m4 0h1m2 0h1m5 0h3m1 0h1m4 0h1m1 0h3m1 0h2m1 0h1m2 0h5m2 0h1m2 0h1m9 0h2m3 0h3m1 0h1m1 0h2m1 0h6m2 0h2m1 0h2m1 0h1m1 0h1m1 0h1m2 0h1m2 0h1m3 0h3m2 0h2m3 0h1m3 0h1m1 0h3M2 25h1m1 0h3m1 0h1m2 0h2m3 0h2m4 0h1m3 0h1m4 0h4m1 0h2m1 0h3m1 0h6m1 0h1m1 0h2m3 0h1m4 0h2m1 0h6m1 0h5m2 0h7m2 0h15m1 0h1m2 0h3m3 0h3m1 0h2m2 0h1m2 0h2m6 0h2M3 26h1m2 0h1m1 0h2m5 0h3m2 0h1m7 0h1m1 0h2m3 0h3m1 0h5m3 0h4m1 0h2m5 0h1m3 0h1m1 0h1m1 0h1m1 0h1m5 0h1m2 0h1m1 0h2m1 0h1m1 0h10m1 0h5m1 0h1m1 0h2m5 0h6m3 0h1m2 0h1m4 0h1M7 27h4m1 0h1m3 0h4m2 0h1m4 0h1m3 0h1m1 0h1m1 0h1m2 0h2m2 0h1m2 0h1m3 0h2m2 0h1m4 0h1m1 0h15m3 0h1m1 0h9m1 0h2m2 0h2m1 0h1m2 0h2m4 0h4m4 0h1m2 0h2m9 0h1M1 28h2m1 0h2m2 0h1m2 0h7m2 0h1m5 0h1m1 0h3m1 0h2m1 0h1m2 0h2m3 0h2m1 0h2m1 0h1m3 0h1m2 0h2m3 0h5m1 0h3m1 0h2m1 0h2m1 0h5m1 0h2m1 0h7m1 0h8m1 0h2m1 0h6m1 0h1m1 0h2m1 0h1m4 0h1m1 0h1M2 29h1m1 0h2m2 0h2m2 0h1m1 0h3m3 0h1m4 0h2m1 0h2m1 0h3m1 0h1m2 0h1m4 0h2m1 0h3m2 0h2m1 0h1m1 0h3m1 0h4m1 0h5m2 0h5m2 0h1m1 0h15m1 0h1m6 0h1m1 0h3m2 0h1m1 0h1m3 0h1m6 0h1m3 0h1m3 0h1M3 30h1m1 0h4m7 0h2m3 0h1m4 0h2m1 0h4m2 0h1m1 0h2m1 0h1m1 0h3m2 0h1m1 0h1m2 0h1m6 0h1m3 0h3m1 0h5m1 0h4m1 0h10m1 0h6m1 0h5m1 0h1m1 0h3m1 0h1m1 0h2m2 0h3m2 0h3m1 0h2m2 0h1m2 0h1M1 31h1m7 0h1m1 0h1m1 0h2m1 0h1m7 0h1m2 0h1m3 0h1m3 0h3m3 0h1m1 0h1m2 0h1m5 0h1m3 0h1m2 0h3m1 0h8m1 0h1m1 0h1m2 0h14m1 0h9m2 0h5m1 0h2m1 0h1m1 0h5m6 0h1M4 32h1m3 0h1m1 0h2m1 0h3m3 0h1m1 0h1m2 0h1m1 0h1m1 0h1m1 0h1m1 0h1m2 0h1m1 0h1m1 0h1m1 0h4m1 0h2m5 0h1m1 0h1m1 0h1m1 0h2m1 0h1m1 0h2m1 0h1m2 0h3m1 0h1m1 0h1m2 0h2m1 0h2m1 0h5m1 0h8m1 0h2m1 0h7m1 0h1m3 0h1m5 0h1m2 0h1m5 0h1M0 33h1m2 0h2m1 0h2m1 0h3m1 0h2m1 0h2m1 0h1m1 0h1m2 0h1m2 0h2m1 0h2m1 0h3m1 0h1m2 0h3m2 0h4m1 0h1m3 0h1m1 0h3m3 0h2m1 0h4m4 0h2m1 0h2m1 0h2m2 0h1m1 0h4m1 0h3m1 0h4m1 0h5m1 0h1m2 0h1m1 0h2m1 0h2m1 0h2m3 0h1m12 0h1M2 34h1m2 0h2m1 0h1m3 0h2m5 0h1m4 0h2m2 0h4m1 0h2m4 0h1m2 0h2m2 0h3m1 0h2m5 0h2m4 0h3m1 0h6m2 0h4m1 0h1m1 0h3m1 0h4m1 0h2m1 0h10m2 0h2m1 0h3m1 0h4m1 0h2m11 0h2" stroke="#e61e3a" stroke-width="1.04" fill="none"/>
<path d="M893.0 604.0 894.2 604.6 895.4 605.3 896.6 605.9 897.8 606.3 899.0 605.4 900.2 603.6 901.4 602.7 902.6 602.4 903.8 601.5 905.0 601.0 906.2 600.1 907.4 599.2 908.6 598.2 909.8 596.1 911.0 595.2 912.2 595.6 913.4 596.8 914.6 597.9 915.8 599.1 917.0 602.3 918.2 607.1 919.4 612.6 920.6 614.5 921.8 615.0 923.0 616.2 924.2 616.9 925.4 615.7 926.6 615.3 927.8 614.1 929.0 612.2 930.2 610.6 931.4 608.5 932.6 606.9 933.8 605.3 935.0 603.7 936.2 602.8 937.4 601.6 938.6 599.7 939.8 598.5 941.0 598.2 942.2 597.0 943.4 596.0 944.6 595.1 945.8 594.0 947.0 593.4 948.2 593.4 949.4 592.8 950.6 592.4 951.8 591.8 953.0 590.7 954.2 590.9 955.4 591.3 956.6 591.5 957.8 590.8 959.0 591.0 960.2 591.1 961.4 591.3 962.6 593.0 963.8 593.3 965.0 592.4 966.2 596.2 967.4 600.1 968.6 603.8 969.8 606.8 971.0 608.8 972.2 609.2 973.4 607.7 974.6 605.2 975.8 603.7 977.0 603.6 978.2 603.6 979.4 603.4 980.6 603.4 981.8 603.3 983.0 601.1 984.2 598.5 985.4 596.3 986.6 594.9 987.8 592.7 989.0 591.5 990.2 591.7 991.4 592.0 992.6 592.2 993.8 592.1 995.0 592.3 996.2 592.1 997.4 592.1 998.6 592.0 999.8 592.0 1001.0 593.4 1002.2 593.4 1003.4 593.2 1004.6 593.0 1005.8 592.5 1007.0 592.3 1008.2 591.4 1009.4 591.2 1010.6 591.2 1011.8 592.1 1013.0 592.9 1014.2 593.8 1015.4 594.5 1016.6 594.0 1017.8 593.1 1019.0 592.7 1020.2 592.5 1021.4 585.2 1022.6 575.5 1023.8 572.7 1025.0 570.7 1026.2 569.0 1027.4 569.4 1028.6 569.1 1029.8 568.5 1031.0 566.4 1032.2 562.0 1033.4 557.6 1034.6 554.6 1035.8 552.6 1037.0 550.9 1038.2 552.1 1039.4 554.1 1040.6 556.0 1041.8 559.3 1043.0 563.3 1044.2 566.7 1045.4 570.3 1046.6 574.6 1047.8 578.2 1049.0 581.1 1050.2 583.9 1051.4 587.4 1052.6 590.2 1053.8 591.9 1055.0 594.6 1056.2 598.0 1057.4 600.2 1058.6 601.1 1059.8 603.3 1061.0 606.3 1062.2 607.9 1063.4 608.7 1064.6 609.8 1065.8 610.6 1067.0 611.7 1068.2 613.7 1069.4 614.7 1070.6 615.4 1071.8 616.2 1073.0 616.0 1074.2 616.8 1075.4 618.1 1076.6 618.8 1077.8 619.8 1079.0 620.5 1080.2 620.1 1081.4 620.5 1082.6 621.1 1083.8 621.5 1085.0 622.8 1086.2 623.3 1087.4 623.9 1088.6 624.2 1089.8 623.9 1091.0 624.0 1092.2 624.1 1093.4 624.2 1094.6 624.5 1095.8 624.2 1097.0 623.4 1098.2 623.0 1099.4 623.6" fill="none" stroke="#e61e3a" stroke-width="3.6" stroke-linejoin="round"/>
<path d="M893.0 603.9 894.2 603.3 895.4 602.8 896.6 602.2 897.8 602.0 899.0 601.4 900.2 601.3 901.4 601.7 902.6 602.0 903.8 602.3 905.0 601.8 906.2 602.2 907.4 603.5 908.6 599.6 909.8 594.9 911.0 591.0 912.2 588.6 913.4 590.4 914.6 591.8 915.8 593.6 917.0 599.3 918.2 606.5 919.4 613.1 920.6 615.7 921.8 617.5 923.0 619.0 924.2 619.1 925.4 618.7 926.6 617.7 927.8 614.1 929.0 610.5 930.2 606.9 931.4 603.0 932.6 600.8 933.8 598.6 935.0 596.4 936.2 594.5 937.4 592.3 938.6 591.2 939.8 589.6 941.0 588.4 942.2 586.8 943.4 585.2 944.6 583.6 945.8 582.1 947.0 580.5 948.2 578.3 949.4 576.6 950.6 575.0 951.8 573.4 953.0 571.3 954.2 570.4 955.4 569.5 956.6 568.5 957.8 567.5 959.0 566.5 960.2 566.9 961.4 567.4 962.6 568.0 963.8 568.5 965.0 571.4 966.2 574.7 967.4 577.7 968.6 580.7 969.8 582.3 971.0 583.9 972.2 582.2 973.4 576.2 974.6 574.2 975.8 573.9 977.0 573.2 978.2 572.8 979.4 572.8 980.6 572.4 981.8 572.0 983.0 570.2 984.2 567.6 985.4 565.8 986.6 563.7 987.8 561.9 989.0 559.7 990.2 556.7 991.4 554.7 992.6 551.7 993.8 548.6 995.0 545.6 996.2 544.1 997.4 543.3 998.6 543.9 999.8 546.3 1001.0 548.0 1002.2 548.5 1003.4 547.8 1004.6 546.2 1005.8 543.3 1007.0 541.7 1008.2 541.2 1009.4 541.4 1010.6 542.2 1011.8 542.6 1013.0 542.1 1014.2 542.5 1015.4 542.7 1016.6 542.4 1017.8 541.6 1019.0 541.3 1020.2 538.7 1021.4 534.7 1022.6 530.6 1023.8 531.9 1025.0 533.8 1026.2 535.6 1027.4 537.5 1028.6 541.5 1029.8 545.9 1031.0 547.6 1032.2 546.1 1033.4 544.9 1034.6 544.3 1035.8 539.9 1037.0 534.1 1038.2 528.5 1039.4 524.8 1040.6 521.5 1041.8 519.3 1043.0 520.4 1044.2 522.9 1045.4 526.4 1046.6 529.9 1047.8 532.7 1049.0 536.1 1050.2 538.9 1051.4 541.5 1052.6 544.3 1053.8 547.8 1055.0 551.0 1056.2 553.6 1057.4 556.8 1058.6 560.5 1059.8 563.5 1061.0 565.0 1062.2 567.8 1063.4 571.7 1064.6 574.5 1065.8 576.6 1067.0 578.4 1068.2 580.0 1069.4 581.6 1070.6 583.9 1071.8 585.5 1073.0 586.9 1074.2 588.1 1075.4 588.7 1076.6 589.9 1077.8 591.7 1079.0 593.9 1080.2 596.0 1081.4 598.2 1082.6 601.5 1083.8 603.4 1085.0 602.2 1086.2 601.5 1087.4 600.2 1088.6 599.6 1089.8 599.3 1091.0 598.6 1092.2 598.9 1093.4 601.0 1094.6 603.5 1095.8 605.6 1097.0 606.6 1098.2 607.2 1099.4 608.6" fill="none" stroke="#3f5fab" stroke-width="3.6" stroke-linejoin="round"/>
<line x1="893.0" y1="510.7" x2="893.0" y2="631.1" stroke="#231f20" stroke-width="2.2"/>
<line x1="888.0" y1="630.0" x2="1109.7" y2="630.0" stroke="#231f20" stroke-width="2.2"/>
<line x1="936.5" y1="630.0" x2="936.5" y2="636.0" stroke="#231f20" stroke-width="2.2"/>
<line x1="1022.7" y1="630.0" x2="1022.7" y2="636.0" stroke="#231f20" stroke-width="2.2"/>
<line x1="1109.7" y1="630.0" x2="1109.7" y2="636.0" stroke="#231f20" stroke-width="2.2"/>
<line x1="888.0" y1="562.8" x2="893.0" y2="562.8" stroke="#231f20" stroke-width="2.2"/>
<line x1="888.0" y1="630.0" x2="893.0" y2="630.0" stroke="#231f20" stroke-width="2.2"/>
<line x1="910.6" y1="506.0" x2="910.6" y2="630.0" stroke="#231f20" stroke-width="2" stroke-dasharray="7.5 5.5" stroke-dashoffset="3.0"/>
<line x1="966.7" y1="506.0" x2="966.7" y2="630.0" stroke="#231f20" stroke-width="2" stroke-dasharray="7.5 5.5" stroke-dashoffset="3.0"/>
<line x1="1022.7" y1="506.0" x2="1022.7" y2="630.0" stroke="#231f20" stroke-width="2" stroke-dasharray="7.5 5.5" stroke-dashoffset="3.0"/>
<text x="821.0" y="580.6" font-size="23.5" text-anchor="middle" fill="#231f20" transform="rotate(-90 821.0 580.6)">Spike rate</text>
<text x="852.0" y="580.6" font-size="23.5" text-anchor="middle" fill="#231f20" transform="rotate(-90 852.0 580.6)">(spks /s)</text>
<text x="888.0" y="571.5" font-size="23.5" text-anchor="end" fill="#231f20">50</text>
<text x="888.0" y="639.0" font-size="23.5" text-anchor="end" fill="#231f20">0</text>
<text x="934.5" y="656.6" font-size="23.5" text-anchor="middle" fill="#231f20">-2</text>
<text x="1022.7" y="656.6" font-size="23.5" text-anchor="middle" fill="#231f20">0</text>
<text x="1109.7" y="656.6" font-size="23.5" text-anchor="middle" fill="#231f20">2</text>
<text x="884.8" y="683.7" font-size="23.8" fill="#231f20">Time from go cue (s)</text>
<text x="1178.7" y="381.5" font-size="23.5" fill="#231f20">Error trials</text>
<line x1="1192.7" y1="386.0" x2="1192.7" y2="510.0" stroke="#231f20" stroke-width="2" stroke-dasharray="7.5 5.5"/>
<line x1="1249.0" y1="386.0" x2="1249.0" y2="510.0" stroke="#231f20" stroke-width="2" stroke-dasharray="7.5 5.5"/>
<line x1="1305.1" y1="386.0" x2="1305.1" y2="510.0" stroke="#231f20" stroke-width="2" stroke-dasharray="7.5 5.5"/>
<path transform="translate(1176.5 392.75) scale(2.2 3.500)" d="M0 0h3m4 0h1m5 0h3m1 0h1m2 0h1m1 0h1m2 0h1m2 0h1m1 0h1m3 0h2m2 0h1m2 0h2m1 0h1m1 0h5m1 0h1m1 0h1m1 0h5m2 0h4m27 0h1M0 1h2m1 0h3m1 0h1m4 0h1m3 0h1m3 0h1m1 0h1m2 0h2m1 0h1m3 0h2m4 0h1m1 0h1m2 0h8m2 0h1m1 0h5m1 0h3m1 0h1m1 0h1m3 0h1m2 0h1m18 0h1m1 0h1M3 2h1m1 0h3m1 0h3m1 0h1m3 0h1m7 0h1m2 0h2m1 0h2m1 0h2m1 0h2m2 0h1m2 0h5m1 0h2m2 0h7m1 0h1m1 0h4m4 0h1m8 0h1m8 0h1m5 0h1M2 3h1m4 0h3m7 0h1m1 0h6m1 0h1m1 0h1m3 0h1m1 0h6m2 0h2m1 0h1m1 0h2m2 0h17m7 0h1m15 0h1m4 0h1M0 4h3m2 0h1m2 0h3m1 0h1m1 0h1m2 0h1m2 0h6m2 0h2m1 0h2m1 0h3m3 0h13m1 0h6m1 0h7m11 0h2m1 0h1m11 0h2M3 5h3m2 0h1m3 0h1m3 0h1m3 0h5m1 0h1m2 0h2m1 0h1m3 0h2m1 0h1m3 0h4m1 0h2m2 0h6m1 0h8M0 6h1m3 0h1m1 0h1m1 0h3m4 0h1m2 0h6m1 0h5m1 0h1m1 0h4m3 0h1m2 0h3m1 0h5m1 0h15m17 0h1m10 0h1M1 7h1m1 0h7m1 0h2m1 0h2m4 0h1m1 0h1m2 0h4m3 0h2m3 0h5m1 0h1m2 0h2m1 0h3m1 0h15m7 0h1M2 8h1m1 0h1m1 0h1m1 0h1m1 0h1m8 0h1m1 0h1m1 0h3m2 0h2m1 0h1m1 0h1m2 0h6m1 0h9m1 0h11m2 0h2m11 0h1m3 0h1m12 0h1M0 9h3m3 0h2m1 0h3m1 0h1m6 0h9m1 0h1m2 0h5m1 0h2m1 0h6m1 0h17m16 0h1m2 0h1m3 0h1m5 0h1M1 10h4m1 0h2m3 0h1m1 0h1m1 0h1m3 0h6m2 0h1m1 0h3m1 0h4m3 0h8m2 0h18m8 0h1M1 11h1m3 0h1m1 0h5m1 0h2m3 0h1m1 0h2m1 0h6m1 0h4m1 0h3m1 0h1m1 0h5m1 0h21m6 0h1m19 0h1M1 12h5m2 0h5m4 0h1m1 0h1m2 0h10m1 0h3m1 0h12m1 0h19m10 0h1m11 0h2M0 13h4m1 0h3m1 0h2m10 0h3m1 0h1m1 0h12m1 0h13m1 0h14m1 0h1m18 0h1M1 14h2m5 0h2m3 0h1m2 0h1m2 0h8m1 0h1m1 0h2m1 0h30m1 0h4m1 0h1m2 0h2m4 0h1m4 0h1m1 0h1m3 0h1m1 0h1m3 0h2M1 15h1m1 0h5m2 0h1m1 0h2m4 0h6m1 0h11m1 0h2m1 0h1m1 0h14m1 0h5m1 0h5" stroke="#3f5fab" stroke-width="1.01" fill="none"/>
<path transform="translate(1176.5 449.30) scale(2.2 3.594)" d="M1 0h3m3 0h4m1 0h2m2 0h1m2 0h1m3 0h1m1 0h8m1 0h19m1 0h6m1 0h4m1 0h5m17 0h3m3 0h1M3 1h1m3 0h1m1 0h3m2 0h1m1 0h1m2 0h1m2 0h8m1 0h5m1 0h16m1 0h12m2 0h2m1 0h2m6 0h1m6 0h1M0 2h1m2 0h1m5 0h5m2 0h1m6 0h3m1 0h8m1 0h13m1 0h10m2 0h3m3 0h2m5 0h1m4 0h3m10 0h1m2 0h1M2 3h1m2 0h3m5 0h2m5 0h8m1 0h1m1 0h5m1 0h18m1 0h3m1 0h1m1 0h1m1 0h1m1 0h3m1 0h1m6 0h1m6 0h1m10 0h1M4 4h1m1 0h3m2 0h3m3 0h2m4 0h22m1 0h7m1 0h1m1 0h11m2 0h1m1 0h2m4 0h1m3 0h1m11 0h1M1 5h1m3 0h5m1 0h4m1 0h1m2 0h1m1 0h1m1 0h12m1 0h5m1 0h14m1 0h4m1 0h3m2 0h1m3 0h1m9 0h1M1 6h1m1 0h2m1 0h2m1 0h2m1 0h1m2 0h2m1 0h1m4 0h25m1 0h9m1 0h6m1 0h4m1 0h1m2 0h1m1 0h2m3 0h1M0 7h1m1 0h5m1 0h2m2 0h1m10 0h10m1 0h8m1 0h2m2 0h6m1 0h12m3 0h3m17 0h1m3 0h1m2 0h1M2 8h2m1 0h1m2 0h1m2 0h1m1 0h1m4 0h1m4 0h4m1 0h20m1 0h14m1 0h1m5 0h2m3 0h2m5 0h1m5 0h1m3 0h1m3 0h1M0 9h1m2 0h1m1 0h5m3 0h1m5 0h1m1 0h1m1 0h4m1 0h1m1 0h8m1 0h11m1 0h11m1 0h1m2 0h1m1 0h1m2 0h2m1 0h1m8 0h1m7 0h1m1 0h1M0 10h2m2 0h3m1 0h3m1 0h2m5 0h1m1 0h1m1 0h1m1 0h3m1 0h4m1 0h21m1 0h9m1 0h4m1 0h1m4 0h1m2 0h1m5 0h1m5 0h2m1 0h1M1 11h1m2 0h1m1 0h1m5 0h3m3 0h1m3 0h1m1 0h16m1 0h13m1 0h4m1 0h7m2 0h2m1 0h1m8 0h3m8 0h1M1 12h2m1 0h7m1 0h2m4 0h1m1 0h2m1 0h11m1 0h13m1 0h16m6 0h2m3 0h1m3 0h1m1 0h1m13 0h1M0 13h2m1 0h1m2 0h4m1 0h3m5 0h2m1 0h3m1 0h5m1 0h3m1 0h15m1 0h15m3 0h2m22 0h1M2 14h1m2 0h1m1 0h1m1 0h2m1 0h2m1 0h2m1 0h1m2 0h1m1 0h25m1 0h11m1 0h3m2 0h2m2 0h2m7 0h1m8 0h1m3 0h1m1 0h1M2 15h1m1 0h2m2 0h3m11 0h15m1 0h1m2 0h5m1 0h11m1 0h8m1 0h2m1 0h1m6 0h1m4 0h1m4 0h1" stroke="#e61e3a" stroke-width="1.02" fill="none"/>
<rect x="1171.0" y="492.3" width="207.0" height="3.0" fill="#e61e3a"/>
<path d="M1176.1 591.9 1177.3 590.8 1178.5 590.9 1179.7 589.7 1180.9 587.6 1182.1 586.5 1183.3 586.3 1184.5 588.7 1185.7 591.4 1186.9 593.8 1188.1 596.5 1189.3 595.7 1190.5 590.8 1191.7 586.5 1192.9 582.2 1194.1 577.9 1195.3 578.0 1196.5 579.9 1197.7 582.6 1198.9 584.5 1200.1 587.5 1201.3 594.7 1202.5 602.8 1203.7 607.4 1204.9 608.5 1206.1 610.1 1207.3 610.3 1208.5 609.3 1209.7 607.7 1210.9 606.7 1212.1 605.2 1213.3 604.2 1214.5 603.9 1215.7 602.4 1216.9 600.8 1218.1 597.2 1219.3 590.2 1220.5 583.9 1221.7 577.2 1222.9 570.9 1224.1 569.1 1225.3 567.3 1226.5 565.5 1227.7 564.1 1228.9 565.8 1230.1 567.0 1231.3 567.9 1232.5 567.3 1233.7 564.3 1234.9 561.4 1236.1 558.6 1237.3 555.7 1238.5 553.7 1239.7 552.3 1240.9 550.3 1242.1 548.9 1243.3 547.5 1244.5 547.5 1245.7 552.7 1246.9 556.3 1248.1 561.1 1249.3 567.5 1250.5 572.9 1251.7 576.4 1252.9 579.9 1254.1 582.3 1255.3 577.9 1256.5 573.9 1257.7 569.8 1258.9 569.2 1260.1 569.9 1261.3 569.3 1262.5 566.5 1263.7 562.3 1264.9 558.7 1266.1 554.5 1267.3 551.5 1268.5 549.3 1269.7 546.1 1270.9 543.9 1272.1 542.8 1273.3 541.4 1274.5 540.3 1275.7 538.8 1276.9 537.6 1278.1 537.6 1279.3 537.8 1280.5 539.0 1281.7 540.6 1282.9 538.4 1284.1 536.1 1285.3 533.5 1286.5 529.9 1287.7 526.8 1288.9 523.6 1290.1 519.2 1291.3 518.3 1292.5 521.6 1293.7 523.6 1294.9 526.9 1296.1 531.7 1297.3 535.6 1298.5 539.1 1299.7 542.2 1300.9 535.8 1302.1 529.8 1303.3 526.1 1304.5 524.9 1305.7 524.3 1306.9 523.1 1308.1 524.9 1309.3 529.7 1310.5 533.7 1311.7 537.7 1312.9 542.2 1314.1 546.0 1315.3 550.4 1316.5 555.0 1317.7 562.5 1318.9 569.7 1320.1 576.4 1321.3 583.0 1322.5 587.8 1323.7 593.8 1324.9 601.5 1326.1 603.3 1327.3 603.6 1328.5 604.5 1329.7 604.6 1330.9 605.4 1332.1 605.9 1333.3 606.3 1334.5 606.6 1335.7 607.0 1336.9 608.5 1338.1 609.7 1339.3 610.3 1340.5 611.9 1341.7 614.7 1342.9 616.3 1344.1 616.4 1345.3 615.8 1346.5 615.9 1347.7 615.3 1348.9 614.6 1350.1 614.0 1351.3 612.7 1352.5 612.1 1353.7 611.4 1354.9 610.8 1356.1 612.7 1357.3 613.2 1358.5 613.8 1359.7 614.2 1360.9 613.1 1362.1 613.6 1363.3 615.1 1364.5 615.7 1365.7 616.7 1366.9 617.3 1368.1 617.8 1369.3 618.4 1370.5 618.9 1371.7 618.4 1372.9 616.8 1374.1 616.2 1375.3 616.3 1376.5 615.7 1377.7 615.1 1378.9 615.5 1380.1 616.7 1381.3 617.0 1382.5 617.0" fill="none" stroke="#e8465a" stroke-width="3.6" stroke-linejoin="round"/>
<path d="M1176.1 607.0 1177.3 605.5 1178.5 604.1 1179.7 602.6 1180.9 601.6 1182.1 600.1 1183.3 599.4 1184.5 600.0 1185.7 600.7 1186.9 601.3 1188.1 601.6 1189.3 602.2 1190.5 602.9 1191.7 599.2 1192.9 592.6 1194.1 586.2 1195.3 587.5 1196.5 589.9 1197.7 593.0 1198.9 596.0 1200.1 603.2 1201.3 609.6 1202.5 613.7 1203.7 615.4 1204.9 616.5 1206.1 618.2 1207.3 619.9 1208.5 619.0 1209.7 617.9 1210.9 616.2 1212.1 613.9 1213.3 612.2 1214.5 610.1 1215.7 608.5 1216.9 608.3 1218.1 606.7 1219.3 604.7 1220.5 603.6 1221.7 601.9 1222.9 601.1 1224.1 600.2 1225.3 599.4 1226.5 598.6 1227.7 597.0 1228.9 597.0 1230.1 595.4 1231.3 592.2 1232.5 590.6 1233.7 589.5 1234.9 587.1 1236.1 585.4 1237.3 583.0 1238.5 578.9 1239.7 576.5 1240.9 575.0 1242.1 572.8 1243.3 570.8 1244.5 568.6 1245.7 569.8 1246.9 575.0 1248.1 578.9 1249.3 584.6 1250.5 590.7 1251.7 596.7 1252.9 602.7 1254.1 601.3 1255.3 598.5 1256.5 596.1 1257.7 595.0 1258.9 593.4 1260.1 592.1 1261.3 590.5 1262.5 588.2 1263.7 586.6 1264.9 584.9 1266.1 584.3 1267.3 584.9 1268.5 584.3 1269.7 583.8 1270.9 583.1 1272.1 582.2 1273.3 581.4 1274.5 580.0 1275.7 579.2 1276.9 579.3 1278.1 578.2 1279.3 576.4 1280.5 575.0 1281.7 573.5 1282.9 572.1 1284.1 570.7 1285.3 571.3 1286.5 571.3 1287.7 571.9 1288.9 573.2 1290.1 574.6 1291.3 576.6 1292.5 578.0 1293.7 579.2 1294.9 580.6 1296.1 579.9 1297.3 579.4 1298.5 579.8 1299.7 579.3 1300.9 577.4 1302.1 567.4 1303.3 556.0 1304.5 547.7 1305.7 542.3 1306.9 536.7 1308.1 537.6 1309.3 542.4 1310.5 546.8 1311.7 554.3 1312.9 563.6 1314.1 570.7 1315.3 566.2 1316.5 561.8 1317.7 559.6 1318.9 563.5 1320.1 568.3 1321.3 572.2 1322.5 575.8 1323.7 581.2 1324.9 586.3 1326.1 591.7 1327.3 594.9 1328.5 598.0 1329.7 601.6 1330.9 604.7 1332.1 608.2 1333.3 609.6 1334.5 610.7 1335.7 612.1 1336.9 612.6 1338.1 614.0 1339.3 616.1 1340.5 617.5 1341.7 618.2 1342.9 619.6 1344.1 621.8 1345.3 621.8 1346.5 620.9 1347.7 620.9 1348.9 621.0 1350.1 621.0 1351.3 622.2 1352.5 622.8 1353.7 623.7 1354.9 624.3 1356.1 624.6 1357.3 625.1 1358.5 623.7 1359.7 622.9 1360.9 622.8 1362.1 622.0 1363.3 620.5 1364.5 620.4 1365.7 620.5 1366.9 621.1 1368.1 622.2 1369.3 622.8 1370.5 624.1 1371.7 624.7 1372.9 625.1 1374.1 624.9 1375.3 623.8 1376.5 623.5 1377.7 624.4 1378.9 624.2 1380.1 623.9 1381.3 623.6 1382.5 622.4" fill="none" stroke="#5570b5" stroke-width="3.8" stroke-linejoin="round"/>
<line x1="1176.0" y1="509.6" x2="1176.0" y2="631.1" stroke="#231f20" stroke-width="2.2"/>
<line x1="1171.0" y1="630.0" x2="1391.6" y2="630.0" stroke="#231f20" stroke-width="2.2"/>
<line x1="1218.6" y1="630.0" x2="1218.6" y2="636.0" stroke="#231f20" stroke-width="2.2"/>
<line x1="1305.1" y1="630.0" x2="1305.1" y2="636.0" stroke="#231f20" stroke-width="2.2"/>
<line x1="1391.6" y1="630.0" x2="1391.6" y2="636.0" stroke="#231f20" stroke-width="2.2"/>
<line x1="1171.0" y1="543.5" x2="1176.0" y2="543.5" stroke="#231f20" stroke-width="2.2"/>
<line x1="1171.0" y1="630.0" x2="1176.0" y2="630.0" stroke="#231f20" stroke-width="2.2"/>
<line x1="1192.7" y1="506.0" x2="1192.7" y2="630.0" stroke="#231f20" stroke-width="2" stroke-dasharray="7.5 5.5" stroke-dashoffset="3.0"/>
<line x1="1249.0" y1="506.0" x2="1249.0" y2="630.0" stroke="#231f20" stroke-width="2" stroke-dasharray="7.5 5.5" stroke-dashoffset="3.0"/>
<line x1="1305.1" y1="506.0" x2="1305.1" y2="630.0" stroke="#231f20" stroke-width="2" stroke-dasharray="7.5 5.5" stroke-dashoffset="3.0"/>
<text x="1166.0" y="552.0" font-size="23.5" text-anchor="end" fill="#231f20">50</text>
<text x="1166.0" y="639.0" font-size="23.5" text-anchor="end" fill="#231f20">0</text>
<text x="1216.5" y="656.6" font-size="23.5" text-anchor="middle" fill="#231f20">-2</text>
<text x="1305.1" y="656.6" font-size="23.5" text-anchor="middle" fill="#231f20">0</text>
<text x="1391.6" y="656.6" font-size="23.5" text-anchor="middle" fill="#231f20">2</text>
<text x="1531.9" y="357.7" font-size="31.55" fill="#231f20">Licking movement neurons, SC</text>
<text x="1644.6" y="412.3" font-size="23.5" text-anchor="end" fill="#3f5fab">Correct</text>
<text x="1644.6" y="440.3" font-size="23.5" text-anchor="end" fill="#3f5fab">lick right</text>
<text x="1644.6" y="468.6" font-size="23.5" text-anchor="end" fill="#e61e3a">Correct</text>
<text x="1644.6" y="496.4" font-size="23.5" text-anchor="end" fill="#e61e3a">lick left</text>
<line x1="1788.4" y1="385.0" x2="1788.4" y2="510.0" stroke="#231f20" stroke-width="2" stroke-dasharray="7.5 5.5"/>
<path transform="translate(1660.0 393.20) scale(1.25 1.405)" d="M18 0h1m20 0h1m2 0h1m4 0h1m2 0h1m2 0h1m14 0h1m1 0h1m4 0h1m2 0h1m1 0h1m8 0h1m3 0h1m2 0h1m4 0h1m1 0h1m3 0h2m1 0h2m1 0h2m1 0h2m1 0h4m1 0h1m1 0h2m1 0h7m2 0h1m1 0h3m1 0h1m1 0h1m2 0h4m2 0h1m1 0h1m1 0h2m1 0h1m3 0h4M1 1h1m1 0h1m12 0h2m7 0h1m3 0h2m2 0h1m3 0h1m3 0h1m4 0h1m3 0h3m1 0h1m3 0h1m2 0h1m6 0h1m2 0h1m9 0h2m2 0h1m4 0h2m2 0h3m1 0h1m5 0h3m1 0h1m1 0h4m2 0h1m1 0h5m1 0h3m1 0h4m2 0h1m1 0h2m1 0h3m1 0h1m1 0h9m1 0h2m1 0h1m2 0h3m1 0h1m2 0h3M12 2h1m11 0h1m10 0h1m10 0h1m3 0h2m1 0h1m5 0h1m2 0h1m2 0h1m3 0h1m3 0h2m8 0h1m1 0h1m6 0h1m1 0h1m5 0h2m2 0h1m2 0h1m2 0h4m1 0h12m1 0h3m1 0h1m2 0h2m1 0h6m1 0h3m1 0h2m2 0h2m1 0h4m3 0h1m1 0h4m1 0h2M1 3h1m5 0h1m3 0h1m2 0h1m1 0h2m8 0h2m5 0h1m2 0h1m2 0h1m16 0h1m1 0h2m5 0h1m4 0h2m4 0h1m8 0h2m2 0h1m3 0h1m3 0h6m1 0h2m2 0h7m2 0h2m1 0h4m1 0h1m1 0h5m4 0h2m1 0h3m3 0h3m1 0h2m2 0h8m1 0h1m1 0h5M9 4h2m14 0h1m3 0h1m5 0h1m5 0h1m2 0h1m10 0h1m1 0h2m1 0h2m1 0h1m5 0h1m5 0h1m4 0h1m1 0h2m1 0h1m4 0h1m1 0h1m3 0h1m2 0h1m3 0h1m1 0h4m1 0h7m2 0h14m1 0h1m1 0h1m2 0h3m1 0h1m2 0h6m4 0h3m2 0h2m2 0h2m2 0h1m1 0h1M5 5h1m4 0h1m3 0h1m5 0h2m11 0h1m5 0h1m1 0h1m10 0h1m4 0h1m8 0h1m1 0h1m2 0h3m15 0h2m5 0h3m4 0h2m1 0h1m1 0h1m1 0h7m3 0h12m2 0h1m3 0h5m2 0h1m1 0h8m2 0h3m1 0h3m1 0h5M19 6h2m8 0h1m3 0h1m3 0h1m7 0h1m8 0h1m13 0h1m2 0h1m8 0h1m2 0h2m7 0h1m2 0h6m1 0h1m1 0h1m1 0h2m1 0h5m3 0h3m1 0h3m3 0h5m1 0h10m1 0h8m1 0h5m1 0h3m1 0h1m2 0h2m2 0h1M16 7h3m1 0h1m3 0h3m11 0h2m1 0h1m5 0h1m1 0h1m2 0h1m2 0h2m2 0h1m1 0h1m4 0h3m9 0h1m8 0h2m2 0h1m6 0h4m1 0h1m3 0h1m1 0h1m1 0h2m1 0h1m1 0h4m3 0h1m1 0h1m2 0h5m5 0h4m6 0h4m1 0h1m1 0h4m4 0h2m2 0h4M11 8h1m3 0h1m1 0h1m20 0h1m6 0h1m2 0h1m9 0h1m3 0h1m7 0h6m2 0h1m9 0h1m2 0h2m3 0h4m1 0h1m2 0h1m1 0h2m2 0h6m1 0h1m1 0h1m1 0h2m1 0h1m1 0h3m1 0h6m2 0h5m4 0h5m4 0h2m1 0h1m2 0h2m2 0h4m1 0h1M9 9h1m6 0h1m7 0h2m4 0h1m15 0h1m1 0h2m18 0h1m1 0h1m5 0h1m2 0h1m2 0h1m11 0h1m2 0h6m1 0h5m2 0h6m1 0h2m2 0h2m2 0h1m1 0h4m1 0h3m1 0h7m4 0h3m2 0h5m1 0h2m1 0h5m2 0h1M6 10h1m3 0h1m8 0h1m8 0h1m2 0h1m1 0h1m1 0h1m1 0h1m3 0h1m12 0h1m7 0h1m2 0h1m1 0h1m6 0h2m1 0h2m1 0h1m6 0h1m3 0h1m7 0h1m4 0h1m1 0h1m1 0h1m2 0h2m1 0h2m2 0h2m2 0h1m1 0h1m2 0h2m3 0h1m2 0h1m1 0h5m3 0h1m1 0h4m1 0h3m2 0h2m1 0h2m3 0h5m1 0h1M9 11h1m1 0h1m1 0h1m23 0h1m4 0h1m8 0h1m1 0h1m10 0h2m9 0h1m5 0h1m3 0h2m3 0h1m8 0h6m1 0h3m1 0h1m1 0h2m1 0h1m2 0h7m2 0h1m1 0h7m2 0h5m2 0h2m1 0h4m3 0h1m1 0h7m1 0h5m1 0h1M2 12h1m6 0h1m7 0h1m6 0h1m3 0h1m1 0h2m6 0h1m1 0h1m11 0h1m1 0h2m10 0h1m4 0h1m1 0h1m7 0h1m8 0h1m2 0h1m1 0h2m1 0h2m3 0h3m1 0h1m2 0h7m1 0h1m1 0h4m1 0h3m1 0h5m1 0h1m1 0h6m3 0h1m1 0h3m3 0h1m1 0h3m1 0h2m1 0h2m1 0h1m1 0h1M1 13h1m1 0h1m10 0h1m1 0h1m2 0h1m33 0h1m26 0h3m13 0h2m2 0h1m1 0h4m1 0h9m3 0h4m2 0h1m2 0h4m6 0h4m3 0h1m1 0h4m2 0h3m1 0h1m1 0h4m2 0h3m2 0h2M0 14h1m1 0h1m3 0h1m2 0h1m14 0h1m13 0h1m5 0h1m1 0h1m5 0h1m1 0h1m2 0h1m3 0h1m13 0h1m2 0h1m7 0h1m6 0h1m1 0h1m1 0h4m2 0h1m1 0h2m3 0h2m1 0h2m3 0h1m1 0h14m2 0h10m1 0h5m1 0h1m2 0h7m2 0h4m1 0h2M2 15h1m3 0h2m1 0h1m6 0h1m1 0h1m11 0h1m7 0h1m14 0h1m1 0h4m1 0h3m9 0h2m1 0h1m3 0h1m3 0h2m5 0h1m9 0h5m2 0h4m1 0h3m4 0h15m4 0h3m1 0h2m2 0h7m3 0h1m6 0h1m3 0h2m1 0h1M25 16h1m11 0h1m8 0h1m9 0h1m5 0h2m5 0h1m13 0h1m10 0h1m1 0h1m1 0h3m1 0h3m1 0h19m3 0h3m1 0h2m3 0h2m1 0h1m1 0h2m3 0h2m1 0h3m3 0h5m1 0h1m1 0h1m2 0h5M0 17h1m1 0h2m1 0h1m1 0h1m1 0h1m10 0h1m16 0h1m8 0h1m3 0h1m1 0h1m3 0h1m9 0h1m3 0h1m5 0h1m6 0h1m4 0h2m6 0h2m1 0h4m1 0h2m2 0h4m1 0h1m2 0h2m1 0h3m1 0h3m1 0h2m1 0h2m1 0h2m3 0h10m1 0h5m1 0h2m1 0h2m1 0h2m1 0h1m1 0h6M1 18h1m16 0h1m10 0h1m1 0h1m8 0h1m1 0h1m2 0h1m1 0h1m6 0h1m1 0h1m6 0h1m1 0h1m2 0h2m8 0h1m1 0h1m4 0h1m1 0h2m1 0h1m3 0h3m1 0h2m1 0h1m2 0h1m1 0h3m1 0h6m3 0h5m4 0h1m1 0h1m1 0h3m1 0h2m1 0h4m1 0h1m2 0h6m3 0h4m2 0h2m1 0h3m1 0h1m1 0h1M21 19h1m7 0h1m3 0h1m6 0h1m7 0h2m5 0h4m6 0h1m4 0h1m4 0h1m7 0h1m4 0h2m2 0h1m3 0h6m4 0h1m1 0h1m1 0h1m1 0h5m1 0h1m1 0h3m2 0h1m1 0h1m1 0h4m1 0h1m1 0h1m1 0h6m1 0h2m2 0h1m2 0h6m2 0h3m2 0h3m2 0h2M0 20h1m9 0h2m9 0h1m4 0h1m1 0h1m5 0h1m2 0h1m4 0h1m3 0h1m1 0h1m1 0h1m6 0h2m11 0h1m15 0h2m4 0h1m1 0h1m3 0h2m4 0h1m4 0h2m1 0h2m3 0h1m1 0h5m1 0h2m1 0h4m7 0h2m1 0h1m2 0h6m1 0h2m3 0h3m1 0h2m3 0h4m1 0h1M6 21h1m20 0h1m3 0h1m5 0h2m4 0h2m12 0h2m2 0h1m4 0h3m6 0h1m11 0h1m4 0h1m2 0h1m2 0h5m4 0h2m2 0h4m4 0h6m1 0h7m4 0h1m1 0h3m1 0h1m1 0h1m1 0h5m1 0h1m1 0h1m3 0h1m1 0h1m2 0h2m1 0h2M7 22h1m14 0h1m4 0h1m1 0h1m2 0h1m8 0h1m2 0h1m3 0h2m7 0h1m2 0h1m12 0h1m7 0h1m1 0h1m1 0h1m2 0h1m5 0h1m1 0h1m1 0h3m1 0h2m1 0h1m3 0h1m1 0h6m1 0h1m1 0h4m1 0h3m1 0h4m1 0h1m1 0h1m1 0h4m1 0h2m2 0h6m2 0h7m3 0h2m1 0h3M2 23h1m2 0h1m10 0h1m1 0h1m9 0h1m3 0h1m13 0h1m2 0h1m3 0h1m2 0h2m15 0h2m4 0h1m2 0h1m1 0h1m2 0h2m2 0h3m4 0h3m1 0h3m2 0h8m1 0h2m1 0h4m1 0h3m1 0h1m1 0h3m1 0h1m3 0h4m5 0h4m1 0h1m10 0h1m1 0h1m1 0h3m1 0h1M1 24h2m8 0h1m3 0h1m8 0h1m1 0h1m12 0h1m9 0h1m12 0h1m1 0h2m2 0h1m2 0h1m2 0h1m1 0h1m6 0h1m3 0h2m1 0h1m1 0h1m3 0h1m1 0h2m4 0h2m3 0h4m2 0h2m2 0h4m2 0h1m1 0h1m1 0h4m1 0h3m1 0h3m1 0h1m4 0h7m1 0h1m3 0h1m1 0h1m1 0h1m1 0h2m1 0h2M6 25h1m5 0h1m3 0h1m10 0h1m11 0h1m6 0h2m5 0h1m2 0h2m2 0h1m21 0h1m4 0h1m5 0h1m3 0h5m2 0h10m1 0h1m1 0h1m1 0h1m1 0h3m1 0h2m1 0h4m1 0h5m1 0h4m4 0h8m2 0h2m2 0h1m1 0h1m3 0h1m2 0h1M1 26h1m1 0h1m1 0h2m8 0h1m1 0h1m20 0h1m9 0h1m1 0h1m6 0h2m5 0h1m3 0h1m2 0h1m1 0h1m21 0h2m1 0h1m2 0h3m5 0h4m1 0h1m1 0h2m1 0h4m1 0h2m2 0h6m2 0h1m2 0h4m2 0h1m2 0h3m2 0h2m1 0h1m2 0h1m1 0h1m3 0h1m1 0h5M6 27h1m6 0h1m7 0h1m3 0h1m14 0h1m22 0h2m3 0h2m4 0h1m1 0h1m2 0h1m1 0h1m2 0h1m1 0h1m4 0h2m3 0h1m1 0h1m1 0h3m4 0h1m2 0h4m1 0h1m3 0h6m2 0h1m2 0h6m1 0h5m1 0h1m2 0h1m1 0h2m1 0h4m3 0h4m1 0h1m1 0h1m1 0h1m1 0h1M17 28h1m4 0h1m3 0h1m2 0h1m5 0h1m14 0h1m9 0h1m3 0h1m1 0h1m1 0h1m6 0h1m4 0h1m10 0h1m4 0h2m3 0h5m1 0h1m1 0h1m1 0h5m1 0h7m1 0h10m2 0h6m4 0h6m2 0h3m1 0h3m1 0h1m1 0h2m1 0h3M14 29h1m11 0h1m6 0h1m15 0h2m3 0h2m1 0h2m4 0h1m10 0h1m2 0h1m2 0h1m3 0h1m6 0h1m1 0h1m4 0h2m2 0h1m1 0h1m1 0h3m1 0h6m2 0h7m1 0h1m1 0h4m1 0h2m1 0h7m1 0h8m3 0h2m1 0h4m1 0h8M5 30h1m4 0h1m24 0h1m5 0h1m2 0h2m3 0h1m3 0h1m6 0h1m2 0h1m1 0h1m4 0h1m4 0h1m1 0h1m1 0h1m6 0h2m2 0h1m4 0h1m2 0h1m2 0h5m2 0h1m1 0h1m1 0h2m1 0h1m4 0h4m1 0h1m3 0h2m1 0h2m3 0h2m1 0h3m2 0h1m2 0h4m1 0h1m2 0h8m1 0h1m1 0h3m1 0h1M1 31h2m10 0h1m7 0h1m2 0h1m11 0h1m5 0h1m2 0h1m14 0h1m6 0h1m2 0h3m4 0h1m4 0h2m3 0h1m6 0h1m1 0h1m3 0h1m3 0h1m2 0h1m1 0h15m3 0h1m1 0h5m1 0h1m1 0h6m3 0h7m4 0h2m1 0h1m2 0h1m1 0h1m1 0h3m1 0h1M6 32h1m17 0h1m8 0h1m1 0h1m2 0h1m7 0h2m6 0h1m1 0h2m15 0h1m1 0h1m3 0h1m4 0h3m8 0h3m2 0h2m1 0h5m1 0h1m1 0h1m1 0h4m1 0h6m1 0h2m3 0h3m3 0h7m3 0h3m1 0h3m2 0h1m2 0h2m2 0h1m3 0h2m1 0h2M5 33h1m10 0h1m4 0h1m1 0h1m2 0h1m4 0h3m5 0h1m13 0h1m2 0h1m7 0h2m6 0h1m2 0h4m9 0h1m3 0h1m1 0h1m1 0h5m1 0h1m2 0h2m1 0h4m1 0h1m4 0h3m1 0h2m1 0h2m1 0h6m1 0h1m2 0h4m3 0h1m1 0h3m1 0h1m1 0h3m2 0h4m1 0h1m1 0h4m2 0h1M4 34h1m10 0h1m2 0h1m14 0h1m2 0h1m1 0h2m4 0h1m3 0h1m13 0h1m3 0h2m7 0h1m1 0h3m9 0h2m1 0h1m1 0h1m2 0h2m1 0h1m2 0h3m2 0h8m1 0h6m1 0h2m1 0h8m1 0h1m1 0h3m5 0h2m2 0h1m3 0h1m1 0h5m2 0h6M3 35h2m11 0h1m11 0h2m3 0h2m3 0h1m3 0h1m10 0h1m4 0h2m10 0h1m1 0h1m10 0h1m2 0h1m3 0h1m3 0h1m1 0h2m1 0h1m1 0h1m4 0h3m2 0h5m2 0h7m2 0h6m3 0h3m1 0h5m1 0h5m1 0h1m1 0h4m1 0h2m1 0h2m3 0h3M1 36h1m12 0h1m10 0h1m9 0h1m3 0h1m2 0h1m1 0h1m1 0h1m4 0h1m6 0h1m9 0h1m4 0h1m3 0h1m2 0h1m4 0h1m3 0h1m3 0h1m3 0h2m1 0h1m1 0h1m1 0h1m1 0h2m1 0h6m2 0h1m1 0h2m1 0h3m1 0h1m1 0h4m1 0h2m1 0h5m1 0h3m1 0h1m1 0h3m1 0h1m2 0h5m5 0h5M6 37h1m5 0h1m2 0h1m1 0h1m2 0h1m10 0h1m1 0h1m1 0h1m4 0h1m6 0h1m2 0h1m3 0h1m4 0h2m1 0h1m1 0h2m1 0h1m5 0h2m1 0h1m11 0h2m2 0h2m1 0h1m1 0h2m1 0h2m1 0h1m2 0h1m1 0h6m2 0h2m1 0h3m1 0h3m1 0h2m1 0h5m1 0h1m1 0h1m1 0h1m1 0h2m3 0h1m1 0h2m5 0h3m1 0h3m1 0h2m3 0h2M9 38h2m2 0h1m2 0h1m1 0h1m4 0h1m7 0h1m2 0h1m2 0h1m11 0h1m1 0h1m1 0h1m6 0h1m10 0h1m2 0h1m3 0h1m1 0h1m1 0h3m2 0h3m2 0h1m1 0h1m1 0h3m1 0h6m1 0h2m1 0h1m1 0h2m4 0h1m1 0h2m1 0h1m3 0h1m1 0h1m1 0h2m2 0h2m1 0h7m3 0h4m2 0h1m2 0h1m1 0h2m2 0h1m1 0h2m3 0h1M13 39h1m17 0h1m14 0h1m2 0h1m3 0h2m25 0h1m1 0h1m1 0h1m4 0h3m8 0h1m4 0h2m1 0h1m1 0h4m3 0h2m1 0h7m1 0h5m1 0h3m2 0h6m1 0h4m2 0h3m1 0h4m1 0h1m2 0h7M0 40h1m3 0h1m13 0h1m8 0h2m2 0h1m8 0h1m1 0h1m5 0h1m3 0h1m3 0h1m20 0h1m5 0h2m7 0h1m8 0h1m1 0h1m1 0h2m2 0h3m1 0h8m2 0h1m1 0h1m1 0h1m1 0h4m5 0h7m1 0h5m1 0h1m3 0h1m1 0h1m1 0h2m1 0h5m1 0h1m1 0h1M17 41h1m5 0h1m4 0h1m5 0h1m1 0h1m7 0h2m3 0h1m12 0h1m10 0h1m4 0h1m7 0h1m2 0h1m2 0h1m4 0h1m2 0h1m1 0h2m4 0h8m2 0h2m1 0h5m2 0h4m2 0h3m1 0h7m2 0h6m2 0h5m1 0h1m2 0h2m1 0h2m1 0h1" stroke="#3f5fab" stroke-width="0.85" fill="none"/>
<path transform="translate(1660.0 452.70) scale(1.25 1.408)" d="M1 0h1m5 0h1m2 0h1m2 0h1m1 0h3m12 0h1m2 0h3m4 0h2m3 0h4m7 0h1m6 0h1m6 0h1m1 0h1m3 0h2m1 0h1m4 0h1m1 0h1m2 0h1m3 0h2m1 0h1m1 0h1m3 0h1m8 0h3m1 0h1m2 0h6m3 0h2m1 0h2m1 0h2m1 0h2m1 0h5m2 0h6m5 0h6m2 0h5m1 0h1M0 1h1m4 0h1m7 0h1m17 0h1m10 0h1m2 0h2m2 0h2m3 0h3m10 0h1m1 0h1m8 0h1m5 0h2m4 0h1m2 0h1m1 0h1m3 0h2m7 0h1m2 0h5m1 0h1m1 0h6m3 0h9m1 0h7m2 0h2m1 0h3m1 0h1m1 0h1m1 0h4m1 0h1m1 0h7M3 2h1m2 0h1m4 0h1m2 0h1m3 0h1m17 0h1m1 0h3m6 0h1m1 0h1m1 0h1m4 0h1m2 0h2m3 0h1m4 0h1m2 0h1m1 0h1m1 0h1m5 0h1m1 0h2m4 0h3m8 0h1m8 0h5m4 0h4m2 0h1m3 0h4m4 0h6m1 0h1m1 0h2m1 0h3m1 0h1m2 0h4m1 0h1m2 0h1m1 0h4M12 3h2m6 0h2m4 0h1m3 0h1m1 0h2m2 0h1m3 0h1m3 0h1m2 0h1m1 0h1m1 0h1m1 0h1m1 0h1m3 0h1m4 0h1m5 0h1m3 0h1m4 0h1m3 0h1m2 0h1m3 0h1m5 0h1m1 0h1m10 0h1m1 0h5m3 0h9m2 0h4m1 0h1m1 0h6m5 0h3m2 0h1m4 0h4m4 0h4M2 4h1m5 0h1m3 0h1m6 0h1m4 0h1m3 0h1m2 0h1m3 0h1m6 0h3m4 0h1m2 0h3m1 0h1m1 0h2m6 0h2m4 0h1m2 0h1m2 0h2m7 0h1m2 0h2m1 0h3m1 0h1m1 0h1m11 0h4m2 0h16m1 0h2m1 0h7m1 0h1m1 0h3m1 0h2m1 0h3m1 0h4m5 0h4M1 5h1m7 0h1m1 0h1m3 0h1m1 0h3m7 0h1m9 0h1m1 0h2m1 0h1m4 0h2m1 0h1m5 0h1m3 0h1m4 0h1m6 0h3m5 0h1m1 0h1m7 0h1m2 0h1m1 0h1m1 0h1m1 0h1m2 0h1m8 0h5m2 0h5m2 0h1m1 0h2m1 0h2m2 0h2m1 0h6m4 0h5m1 0h3m1 0h6m3 0h6M2 6h1m2 0h1m3 0h2m4 0h1m8 0h2m1 0h1m8 0h1m2 0h1m7 0h1m2 0h1m7 0h1m2 0h1m2 0h2m3 0h5m3 0h2m3 0h1m2 0h1m1 0h1m1 0h1m5 0h1m2 0h1m2 0h1m4 0h2m4 0h3m1 0h7m1 0h1m2 0h7m1 0h3m1 0h3m1 0h2m1 0h12m3 0h1m1 0h9M1 7h1m6 0h1m1 0h1m1 0h2m1 0h1m1 0h1m11 0h1m3 0h1m2 0h2m3 0h3m1 0h1m1 0h1m3 0h1m2 0h1m2 0h3m4 0h1m12 0h3m4 0h2m1 0h1m1 0h1m1 0h1m9 0h2m8 0h4m3 0h7m1 0h7m2 0h7m4 0h6m2 0h2m2 0h4m1 0h1m1 0h7M5 8h2m2 0h2m1 0h1m2 0h1m8 0h2m8 0h2m7 0h2m5 0h1m8 0h1m4 0h1m1 0h1m1 0h1m1 0h1m3 0h2m1 0h2m8 0h1m2 0h1m4 0h1m1 0h1m4 0h1m8 0h2m1 0h2m2 0h6m2 0h7m2 0h9m2 0h1m1 0h4m2 0h9m2 0h1m1 0h2m1 0h1M18 9h2m4 0h1m9 0h3m5 0h2m3 0h1m2 0h1m4 0h1m6 0h2m4 0h3m3 0h2m4 0h1m1 0h1m6 0h2m4 0h2m2 0h2m1 0h1m8 0h4m1 0h2m2 0h6m3 0h2m1 0h1m5 0h4m1 0h1m1 0h1m1 0h5m1 0h1m2 0h3m1 0h3m1 0h4m1 0h3M0 10h1m4 0h2m2 0h1m9 0h1m6 0h1m1 0h3m2 0h1m3 0h1m12 0h1m1 0h1m1 0h1m4 0h1m1 0h1m2 0h1m3 0h1m2 0h2m1 0h1m3 0h1m3 0h1m5 0h1m1 0h1m1 0h1m3 0h1m3 0h1m2 0h1m7 0h3m1 0h1m2 0h7m2 0h5m3 0h1m1 0h1m1 0h3m1 0h1m2 0h4m1 0h5m1 0h3m4 0h1m1 0h3M13 11h1m4 0h3m2 0h1m3 0h1m1 0h1m2 0h1m1 0h2m3 0h1m2 0h1m1 0h1m2 0h1m7 0h1m3 0h1m1 0h1m1 0h1m3 0h1m2 0h1m5 0h1m7 0h1m1 0h2m3 0h1m5 0h1m13 0h2m1 0h1m1 0h1m3 0h5m1 0h1m1 0h1m1 0h3m1 0h9m2 0h1m1 0h5m4 0h3m2 0h1m2 0h1m1 0h2m1 0h1M5 12h1m3 0h1m3 0h3m4 0h1m7 0h2m3 0h1m3 0h1m3 0h1m1 0h3m3 0h1m2 0h1m4 0h1m1 0h1m11 0h3m1 0h1m1 0h1m1 0h2m11 0h1m4 0h2m1 0h2m9 0h3m1 0h2m3 0h8m1 0h4m4 0h5m1 0h1m1 0h7m1 0h3m2 0h3m6 0h3M1 13h1m3 0h1m2 0h1m4 0h1m5 0h1m2 0h1m1 0h1m19 0h3m5 0h1m3 0h1m1 0h1m3 0h1m2 0h2m4 0h1m2 0h1m2 0h1m2 0h1m3 0h1m2 0h1m1 0h1m2 0h1m3 0h1m2 0h1m11 0h4m4 0h6m1 0h1m2 0h5m1 0h6m5 0h1m1 0h3m1 0h1m2 0h2m1 0h3m2 0h8M1 14h1m1 0h1m1 0h1m7 0h1m3 0h1m2 0h1m1 0h1m7 0h1m2 0h1m5 0h1m1 0h1m6 0h2m20 0h1m7 0h5m1 0h1m4 0h1m1 0h4m6 0h2m8 0h1m1 0h2m1 0h1m1 0h1m1 0h4m3 0h1m1 0h3m1 0h2m1 0h4m1 0h2m3 0h7m2 0h2m1 0h3m4 0h6M7 15h1m5 0h2m4 0h1m3 0h7m5 0h2m5 0h1m3 0h1m2 0h2m3 0h2m9 0h3m1 0h1m3 0h2m2 0h1m2 0h2m2 0h1m1 0h1m2 0h5m1 0h1m2 0h1m1 0h1m10 0h4m2 0h1m1 0h6m3 0h5m1 0h9m1 0h1m1 0h5m1 0h1m2 0h5m1 0h1m1 0h8M9 16h1m4 0h1m4 0h3m3 0h1m5 0h1m4 0h1m1 0h1m8 0h2m1 0h3m1 0h1m1 0h1m1 0h1m10 0h1m1 0h1m1 0h1m4 0h1m1 0h1m5 0h1m1 0h4m4 0h1m1 0h1m7 0h1m4 0h5m1 0h3m1 0h4m3 0h6m3 0h2m1 0h3m1 0h8m1 0h19M3 17h2m2 0h1m4 0h1m3 0h1m6 0h1m7 0h1m7 0h2m1 0h1m2 0h2m2 0h1m6 0h3m2 0h1m1 0h5m5 0h1m4 0h2m3 0h1m1 0h1m1 0h1m2 0h1m1 0h4m3 0h3m3 0h1m5 0h2m3 0h2m1 0h4m1 0h2m1 0h1m1 0h14m1 0h3m1 0h2m3 0h1m3 0h4m3 0h1m2 0h3M1 18h1m7 0h1m6 0h1m14 0h1m2 0h1m4 0h2m2 0h1m3 0h1m3 0h1m1 0h1m2 0h1m1 0h1m5 0h2m1 0h1m1 0h2m6 0h2m4 0h2m1 0h1m5 0h1m1 0h1m1 0h1m5 0h1m8 0h5m2 0h7m1 0h1m2 0h4m1 0h1m1 0h1m1 0h5m2 0h6m1 0h1m2 0h6m2 0h1m3 0h4M0 19h1m1 0h1m13 0h1m8 0h1m6 0h1m7 0h4m4 0h1m5 0h1m3 0h1m7 0h1m1 0h1m2 0h1m2 0h2m2 0h2m6 0h1m1 0h1m1 0h1m4 0h4m12 0h4m5 0h3m1 0h2m3 0h1m1 0h4m1 0h2m1 0h2m1 0h3m1 0h1m1 0h7m1 0h4m1 0h1m2 0h1m1 0h6M10 20h1m2 0h2m2 0h1m1 0h1m1 0h1m1 0h1m1 0h1m1 0h1m4 0h2m5 0h1m2 0h1m4 0h1m6 0h1m5 0h2m1 0h1m3 0h1m1 0h1m1 0h2m1 0h2m1 0h1m7 0h1m6 0h1m8 0h2m8 0h1m1 0h1m1 0h1m1 0h7m1 0h1m1 0h2m1 0h5m2 0h5m4 0h7m5 0h1m1 0h1m1 0h3m1 0h4M0 21h1m3 0h1m2 0h1m1 0h1m4 0h1m2 0h1m1 0h1m2 0h1m10 0h1m1 0h1m5 0h1m6 0h1m1 0h1m1 0h1m15 0h1m9 0h1m7 0h3m1 0h1m2 0h4m3 0h1m6 0h1m3 0h7m1 0h5m2 0h1m2 0h6m3 0h7m1 0h1m1 0h7m1 0h5m2 0h1m1 0h4m2 0h1M5 22h1m5 0h1m4 0h1m3 0h1m1 0h1m1 0h1m1 0h1m4 0h2m1 0h1m1 0h1m5 0h1m6 0h1m1 0h1m1 0h2m13 0h1m3 0h1m15 0h2m1 0h1m1 0h1m1 0h1m1 0h1m7 0h1m5 0h4m1 0h1m1 0h4m1 0h1m1 0h1m1 0h8m1 0h1m1 0h5m2 0h1m1 0h5m1 0h2m1 0h5m3 0h8M6 23h1m1 0h3m2 0h1m2 0h1m9 0h1m3 0h1m4 0h1m4 0h1m2 0h1m3 0h1m1 0h1m2 0h2m11 0h2m5 0h2m1 0h1m3 0h1m3 0h1m2 0h1m2 0h4m6 0h4m6 0h1m1 0h5m2 0h1m2 0h5m1 0h8m1 0h10m1 0h1m1 0h4m1 0h3m1 0h1m1 0h1m4 0h7M1 24h1m12 0h1m3 0h3m1 0h2m1 0h2m8 0h1m2 0h2m2 0h1m1 0h1m1 0h1m1 0h1m7 0h1m7 0h2m7 0h1m1 0h1m4 0h1m2 0h2m5 0h2m2 0h1m4 0h1m2 0h1m8 0h5m2 0h2m1 0h9m1 0h3m1 0h1m1 0h8m3 0h1m1 0h1m5 0h4m1 0h3m2 0h3m1 0h2M4 25h2m3 0h1m4 0h1m1 0h1m2 0h1m5 0h1m12 0h1m5 0h2m4 0h1m2 0h1m7 0h2m2 0h2m8 0h2m1 0h1m2 0h1m1 0h1m3 0h1m3 0h2m1 0h2m2 0h1m12 0h5m1 0h4m2 0h2m1 0h1m1 0h5m1 0h2m2 0h6m2 0h1m1 0h5m4 0h3m1 0h1m2 0h8M0 26h1m1 0h1m1 0h1m6 0h1m7 0h1m1 0h1m6 0h1m6 0h1m3 0h1m8 0h1m2 0h1m2 0h2m1 0h2m2 0h2m1 0h1m3 0h1m3 0h1m3 0h2m3 0h1m1 0h1m3 0h1m2 0h1m1 0h1m2 0h2m1 0h1m2 0h1m9 0h3m1 0h4m1 0h2m3 0h1m1 0h3m1 0h3m1 0h1m1 0h6m3 0h2m1 0h4m1 0h1m1 0h6m3 0h1m1 0h5M0 27h1m1 0h1m1 0h2m9 0h1m10 0h1m5 0h1m2 0h1m3 0h1m2 0h1m5 0h3m3 0h1m3 0h1m6 0h3m2 0h2m1 0h1m2 0h2m2 0h2m4 0h2m2 0h2m4 0h2m2 0h2m9 0h3m1 0h1m1 0h2m1 0h4m3 0h7m1 0h10m2 0h2m1 0h2m4 0h7m1 0h6M0 28h1m4 0h1m3 0h1m1 0h1m1 0h2m2 0h1m4 0h1m2 0h1m2 0h1m3 0h1m1 0h1m1 0h3m4 0h1m4 0h4m5 0h1m10 0h2m2 0h2m2 0h1m2 0h3m2 0h2m2 0h2m1 0h2m4 0h1m1 0h3m9 0h4m2 0h2m1 0h8m1 0h4m4 0h4m1 0h2m1 0h2m1 0h5m1 0h6m1 0h1m2 0h6M8 29h3m12 0h2m7 0h1m3 0h1m6 0h1m5 0h1m2 0h1m3 0h1m10 0h2m7 0h1m1 0h1m1 0h1m1 0h2m3 0h2m2 0h3m2 0h1m1 0h1m12 0h6m1 0h9m1 0h5m4 0h5m1 0h1m3 0h6m1 0h1m1 0h4m1 0h1m4 0h4M2 30h2m12 0h1m1 0h1m3 0h1m4 0h1m2 0h2m1 0h1m3 0h1m2 0h1m1 0h1m1 0h2m1 0h1m2 0h1m1 0h1m1 0h1m1 0h1m3 0h1m12 0h2m2 0h1m8 0h4m2 0h1m2 0h1m1 0h1m1 0h2m1 0h1m8 0h2m2 0h1m2 0h6m2 0h9m1 0h17m2 0h1m1 0h3m1 0h1m3 0h5M3 31h3m3 0h1m2 0h1m8 0h1m5 0h3m1 0h1m3 0h2m7 0h1m1 0h1m5 0h1m3 0h1m1 0h1m1 0h1m5 0h1m11 0h1m2 0h1m2 0h1m3 0h1m1 0h1m3 0h1m2 0h2m2 0h1m9 0h5m2 0h6m3 0h1m1 0h5m1 0h1m1 0h1m1 0h4m1 0h1m3 0h7m1 0h1m1 0h4m3 0h5M3 32h1m4 0h1m1 0h1m3 0h1m12 0h1m4 0h1m1 0h1m2 0h1m1 0h1m1 0h1m4 0h4m1 0h1m2 0h1m4 0h1m3 0h1m3 0h1m1 0h2m2 0h2m1 0h1m4 0h1m6 0h1m1 0h1m1 0h1m1 0h2m1 0h1m2 0h1m1 0h1m8 0h4m2 0h6m2 0h3m1 0h6m1 0h6m3 0h1m1 0h6m4 0h4m1 0h1m1 0h1m1 0h3m1 0h2M0 33h1m3 0h1m2 0h1m6 0h1m4 0h2m4 0h1m3 0h2m8 0h1m7 0h1m9 0h2m3 0h1m4 0h1m1 0h1m3 0h3m6 0h1m10 0h1m4 0h1m1 0h3m6 0h1m1 0h3m1 0h1m1 0h2m1 0h5m2 0h8m1 0h1m1 0h13m3 0h8m1 0h1m1 0h6M5 34h1m1 0h2m5 0h1m9 0h2m1 0h3m2 0h2m5 0h2m2 0h1m3 0h1m1 0h4m1 0h3m1 0h1m4 0h1m4 0h4m2 0h1m1 0h1m4 0h1m1 0h1m1 0h1m2 0h1m2 0h1m2 0h1m3 0h1m1 0h3m8 0h3m1 0h2m2 0h4m2 0h1m1 0h1m1 0h4m2 0h2m1 0h5m1 0h1m2 0h5m1 0h1m1 0h8m1 0h1m1 0h2m1 0h3M2 35h1m2 0h1m1 0h2m1 0h2m7 0h2m4 0h3m8 0h1m16 0h1m2 0h1m3 0h2m2 0h3m1 0h1m4 0h1m3 0h1m2 0h1m11 0h1m7 0h1m1 0h1m8 0h4m1 0h6m1 0h10m1 0h1m1 0h4m1 0h1m1 0h2m2 0h7m1 0h7m2 0h1m1 0h5M5 36h1m5 0h1m11 0h1m4 0h1m2 0h1m1 0h1m4 0h1m1 0h1m4 0h2m2 0h1m3 0h1m3 0h1m3 0h1m5 0h1m2 0h1m3 0h1m2 0h1m1 0h3m3 0h2m1 0h1m1 0h1m3 0h1m1 0h1m2 0h1m1 0h1m9 0h13m1 0h2m1 0h4m1 0h2m2 0h6m1 0h9m1 0h2m2 0h14M1 37h1m2 0h1m2 0h1m5 0h1m1 0h1m1 0h1m3 0h1m1 0h1m2 0h1m3 0h3m3 0h1m4 0h2m3 0h1m9 0h1m4 0h1m6 0h1m5 0h1m2 0h1m2 0h1m1 0h1m4 0h1m1 0h1m2 0h2m1 0h1m3 0h4m8 0h3m3 0h7m2 0h5m1 0h2m1 0h1m1 0h1m1 0h6m1 0h5m1 0h1m1 0h1m1 0h6m2 0h1m1 0h3m1 0h2" stroke="#e61e3a" stroke-width="0.85" fill="none"/>
<path d="M1659.2 618.4 1660.3 614.6 1661.4 620.6 1662.5 617.1 1663.6 613.9 1664.6 619.7 1665.7 616.7 1666.8 616.8 1667.9 615.0 1669.0 626.5 1670.1 624.6 1671.1 613.1 1672.2 616.6 1673.3 623.4 1674.4 616.6 1675.5 624.6 1676.6 622.0 1677.6 620.8 1678.7 623.8 1679.8 625.1 1680.9 619.9 1682.0 618.0 1683.1 622.6 1684.1 617.8 1685.2 613.3 1686.3 626.2 1687.4 623.1 1688.5 625.7 1689.6 617.5 1690.6 621.2 1691.7 620.9 1692.8 623.5 1693.9 616.1 1695.0 616.4 1696.1 620.7 1697.1 615.5 1698.2 623.8 1699.3 622.2 1700.4 613.6 1701.5 623.8 1702.6 625.0 1703.7 626.6 1704.7 617.6 1705.8 615.5 1706.9 626.3 1708.0 620.3 1709.1 621.5 1710.2 622.4 1711.2 623.7 1712.3 621.6 1713.4 625.0 1714.5 614.1 1715.6 624.2 1716.7 619.5 1717.7 618.0 1718.8 617.8 1719.9 620.4 1721.0 619.7 1722.1 613.9 1723.2 624.6 1724.2 624.2 1725.3 622.8 1726.4 616.7 1727.5 621.1 1728.6 621.6 1729.7 625.9 1730.7 625.2 1731.8 617.9 1732.9 623.8 1734.0 620.6 1735.1 623.7 1736.2 622.7 1737.2 624.3 1738.3 614.1 1739.4 618.0 1740.5 619.8 1741.6 623.4 1742.7 614.8 1743.7 618.5 1744.8 624.4 1745.9 623.7 1747.0 612.8 1748.1 621.5 1749.2 620.2 1750.3 624.5 1751.3 613.5 1752.4 622.2 1753.5 617.6 1754.6 615.3 1755.7 617.8 1756.8 620.0 1757.8 621.5 1758.9 615.4 1760.0 621.4 1761.1 616.3 1762.2 611.4 1763.3 611.8 1764.3 615.2 1765.4 616.2 1766.5 622.2 1767.6 613.0 1768.7 611.5 1769.8 619.3 1770.8 623.2 1771.9 616.5 1773.0 617.8 1774.1 611.9 1775.2 613.1 1776.3 617.5 1777.3 616.0 1778.4 616.7 1779.5 614.0 1780.6 614.3 1781.7 613.9 1782.8 620.0 1783.8 611.7 1784.9 622.1 1786.0 619.1 1787.1 614.9 1788.2 622.2 1789.3 613.2 1790.4 616.3 1791.4 618.6 1792.5 621.7 1793.6 623.1 1794.7 624.9 1795.8 628.7 1796.9 627.5 1797.9 627.1 1799.0 628.3 1800.1 580.4 1801.2 577.5 1802.3 589.7 1803.4 603.6 1804.4 615.6 1805.5 617.4 1806.6 617.5 1807.7 612.8 1808.8 585.3 1809.9 557.0 1810.9 536.7 1812.0 517.4 1813.1 530.5 1814.2 564.1 1815.3 583.7 1816.4 605.2 1817.4 603.0 1818.5 599.5 1819.6 594.8 1820.7 576.4 1821.8 554.5 1822.9 533.5 1823.9 535.5 1825.0 548.2 1826.1 568.3 1827.2 590.6 1828.3 597.6 1829.4 603.0 1830.4 594.4 1831.5 585.0 1832.6 573.3 1833.7 555.9 1834.8 540.5 1835.9 545.1 1837.0 555.1 1838.0 573.8 1839.1 590.7 1840.2 596.5 1841.3 595.5 1842.4 593.7 1843.5 587.4 1844.5 573.4 1845.6 562.3 1846.7 552.6 1847.8 559.2 1848.9 575.4 1850.0 583.8 1851.0 596.9 1852.1 600.4 1853.2 598.0 1854.3 592.8 1855.4 591.1 1856.5 580.5 1857.5 568.1 1858.6 562.2 1859.7 567.5 1860.8 575.7 1861.9 596.7 1863.0 598.2 1864.0 602.1 1865.1 602.1 1866.2 600.3 1867.3 590.4 1868.4 579.6 1869.5 574.5 1870.5 580.8 1871.6 582.0 1872.7 586.5 1873.8 598.6 1874.9 603.5" fill="none" stroke="#e61e3a" stroke-width="3.4" stroke-linejoin="round"/>
<path d="M1659.2 619.1 1660.3 627.8 1661.4 623.1 1662.5 623.9 1663.6 618.6 1664.6 625.1 1665.7 624.3 1666.8 622.9 1667.9 625.1 1669.0 619.1 1670.1 619.5 1671.1 621.2 1672.2 628.7 1673.3 618.3 1674.4 623.2 1675.5 622.6 1676.6 623.3 1677.6 623.6 1678.7 618.9 1679.8 626.3 1680.9 627.7 1682.0 618.2 1683.1 626.4 1684.1 626.2 1685.2 624.4 1686.3 619.3 1687.4 625.1 1688.5 629.2 1689.6 626.4 1690.6 626.8 1691.7 629.1 1692.8 619.4 1693.9 621.1 1695.0 627.8 1696.1 626.6 1697.1 618.4 1698.2 621.5 1699.3 624.3 1700.4 622.9 1701.5 618.3 1702.6 626.7 1703.7 622.3 1704.7 629.2 1705.8 623.9 1706.9 626.7 1708.0 625.5 1709.1 624.9 1710.2 624.6 1711.2 619.3 1712.3 625.3 1713.4 629.1 1714.5 620.0 1715.6 619.0 1716.7 619.9 1717.7 626.0 1718.8 625.4 1719.9 620.8 1721.0 628.4 1722.1 628.7 1723.2 623.7 1724.2 626.8 1725.3 624.2 1726.4 627.5 1727.5 618.6 1728.6 623.8 1729.7 625.5 1730.7 625.9 1731.8 626.3 1732.9 620.6 1734.0 620.4 1735.1 620.5 1736.2 618.9 1737.2 622.6 1738.3 625.0 1739.4 624.6 1740.5 627.8 1741.6 625.2 1742.7 623.9 1743.7 619.7 1744.8 622.9 1745.9 628.2 1747.0 623.3 1748.1 625.5 1749.2 620.3 1750.3 620.0 1751.3 622.7 1752.4 622.0 1753.5 624.6 1754.6 626.2 1755.7 620.4 1756.8 620.7 1757.8 623.1 1758.9 618.9 1760.0 620.2 1761.1 621.5 1762.2 628.2 1763.3 618.6 1764.3 628.3 1765.4 627.1 1766.5 628.0 1767.6 627.3 1768.7 621.5 1769.8 623.1 1770.8 627.9 1771.9 627.1 1773.0 621.0 1774.1 625.8 1775.2 626.9 1776.3 620.3 1777.3 626.4 1778.4 628.4 1779.5 623.5 1780.6 616.3 1781.7 612.5 1782.8 603.7 1783.8 598.9 1784.9 589.8 1786.0 587.6 1787.1 595.5 1788.2 603.0 1789.3 611.4 1790.4 617.1 1791.4 613.4 1792.5 611.4 1793.6 610.6 1794.7 604.5 1795.8 597.1 1796.9 598.4 1797.9 603.5 1799.0 588.2 1800.1 582.6 1801.2 593.5 1802.3 603.5 1803.4 613.3 1804.4 623.2 1805.5 626.3 1806.6 623.1 1807.7 608.0 1808.8 598.5 1809.9 579.6 1810.9 576.8 1812.0 571.2 1813.1 584.8 1814.2 597.7 1815.3 607.3 1816.4 611.9 1817.4 612.7 1818.5 610.4 1819.6 604.6 1820.7 581.0 1821.8 561.6 1822.9 555.8 1823.9 555.8 1825.0 572.0 1826.1 587.5 1827.2 602.2 1828.3 609.7 1829.4 614.1 1830.4 609.7 1831.5 591.4 1832.6 567.2 1833.7 551.9 1834.8 539.0 1835.9 546.4 1837.0 565.1 1838.0 587.1 1839.1 597.0 1840.2 606.8 1841.3 607.7 1842.4 597.1 1843.5 584.6 1844.5 566.3 1845.6 552.7 1846.7 557.0 1847.8 570.2 1848.9 587.9 1850.0 600.5 1851.0 613.6 1852.1 617.7 1853.2 619.6 1854.3 610.7 1855.4 609.7 1856.5 603.3 1857.5 602.9 1858.6 597.6 1859.7 606.1 1860.8 613.6 1861.9 619.4 1863.0 623.9 1864.0 624.1 1865.1 624.3 1866.2 622.4 1867.3 614.4 1868.4 609.9 1869.5 612.5 1870.5 617.3 1871.6 620.8 1872.7 623.2 1873.8 621.2 1874.9 622.5" fill="none" stroke="#3f5fab" stroke-width="3.4" stroke-linejoin="round"/>
<line x1="1659.4" y1="508.7" x2="1659.4" y2="630.9" stroke="#231f20" stroke-width="2.2"/>
<line x1="1654.4" y1="629.8" x2="1874.8" y2="629.8" stroke="#231f20" stroke-width="2.2"/>
<line x1="1701.4" y1="629.8" x2="1701.4" y2="635.8" stroke="#231f20" stroke-width="2.2"/>
<line x1="1788.4" y1="629.8" x2="1788.4" y2="635.8" stroke="#231f20" stroke-width="2.2"/>
<line x1="1874.8" y1="629.8" x2="1874.8" y2="635.8" stroke="#231f20" stroke-width="2.2"/>
<line x1="1654.4" y1="536.2" x2="1659.4" y2="536.2" stroke="#231f20" stroke-width="2.2"/>
<line x1="1654.4" y1="582.6" x2="1659.4" y2="582.6" stroke="#231f20" stroke-width="2.2"/>
<line x1="1654.4" y1="629.8" x2="1659.4" y2="629.8" stroke="#231f20" stroke-width="2.2"/>
<line x1="1788.4" y1="506.0" x2="1788.4" y2="630.0" stroke="#231f20" stroke-width="2" stroke-dasharray="7.5 5.5" stroke-dashoffset="4.0"/>
<text x="1578.0" y="575.0" font-size="23.5" text-anchor="middle" fill="#231f20" transform="rotate(-90 1578.0 575.0)">Spike rate</text>
<text x="1608.7" y="575.0" font-size="23.5" text-anchor="middle" fill="#231f20" transform="rotate(-90 1608.7 575.0)">(spks /s)</text>
<text x="1654.8" y="544.8" font-size="23.5" text-anchor="end" fill="#231f20">100</text>
<text x="1654.8" y="591.2" font-size="23.5" text-anchor="end" fill="#231f20">50</text>
<text x="1654.8" y="638.4" font-size="23.5" text-anchor="end" fill="#231f20">0</text>
<text x="1699.0" y="653.5" font-size="23.5" text-anchor="middle" fill="#231f20">-1</text>
<text x="1788.4" y="653.5" font-size="23.5" text-anchor="middle" fill="#231f20">0</text>
<text x="1874.8" y="653.5" font-size="23.5" text-anchor="middle" fill="#231f20">1</text>
<text x="1647.4" y="679.5" font-size="23.8" fill="#231f20">Time from 1st lick (s)</text>
<text x="1.0" y="777.0" font-size="47" font-weight="bold" fill="#231f20">e</text>
<text x="48.5" y="775.5" font-size="31.55" fill="#231f20">ALM stimulus-selective neurons</text>
<text x="540.0" y="775.5" font-size="31.55" fill="#231f20">Medial-lateral</text>
<text x="48.5" y="1064.0" font-size="31.55" fill="#231f20">ALM choice-selective neurons</text>
<text x="48.5" y="1345.5" font-size="31.55" fill="#231f20">ALM licking movement neurons</text>
<defs><path id="edots" transform="scale(.5)" d="M0 0m353 61h0m3 0h0m-15 4h0m8 0h0m10 3h0m-42 2h0m3 4h0m2 0h0m29 0h0m7 0h0m-33 1h0m35 1h0m-64 1h0m12 1h0m-19 4h0m39 1h0m34 0h0m14 3h0m-54 1h0m47 0h0m-129 1h0m122 0h0m9 0h0m-82 1h0m0 0h0m38 0h0m-27 1h0m2 0h0m30 1h0m-38 1h0m71 0h0m4 1h0m-77 2h0m7 0h0m29 0h0m38 0h0m-77 1h0m-56 1h0m19 0h0m56 0h0m68 0h0m1 1h0m-126 2h0m8 0h0m0 0h0m34 0h0m15 0h0m19 2h0m-29 1h0m34 0h0m-95 1h0m99 1h0m42 0h0m-141 1h0m130 0h0m-74 1h0m5 0h0m19 0h0m12 0h0m35 0h0m-65 1h0m8 0h0m67 1h0m-133 1h0m97 0h0m28 0h0m-64 1h0m72 0h0m7 0h0m-139 1h0m89 0h0m-33 1h0m36 0h0m-33 1h0m30 0h0m2 0h0m41 0h0m-63 1h0m1 0h0m60 0h0m-5 1h0m0 0h0m9 0h0m-101 1h0m25 0h0m-57 1h0m26 0h0m4 0h0m25 0h0m52 0h0m6 0h0m12 0h0m3 0h0m-59 1h0m24 0h0m41 0h0m-138 1h0m75 0h0m6 0h0m20 0h0m35 0h0m-73 1h0m38 0h0m35 0h0m-142 1h0m39 0h0m68 0h0m32 0h0m2 1h0m1 1h0m-100 1h0m98 0h0m4 0h0m3 0h0m-111 1h0m105 0h0m5 0h0m-104 1h0m120 0h0m-57 1h0m37 0h0m-100 1h0m119 0h0m-59 1h0m6 0h0m35 0h0m23 0h0m2 0h0m1 0h0m-162 1h0m103 0h0m36 0h0m3 0h0m14 0h0m5 0h0m-161 1h0m9 0h0m25 0h0m3 0h0m102 0h0m0 0h0m1 0h0m-74 1h0m8 0h0m67 0h0m19 0h0m-128 1h0m1 0h0m6 0h0m35 0h0m63 0h0m24 0h0m-137 1h0m0 0h0m11 0h0m5 0h0m37 0h0m-14 1h0m6 0h0m68 0h0m-107 1h0m5 0h0m67 0h0m36 0h0m5 0h0m20 0h0m-56 1h0m31 0h0m6 0h0m-104 1h0m24 0h0m13 0h0m24 0h0m43 0h0m18 0h0m-187 1h0m30 0h0m21 0h0m74 0h0m6 0h0m34 0h0m-164 1h0m36 0h0m21 0h0m65 0h0m6 0h0m37 0h0m4 0h0m-134 1h0m88 0h0m42 0h0m-42 1h0m1 0h0m-35 1h0m4 0h0m33 0h0m5 0h0m38 0h0m11 0h0m-161 1h0m8 0h0m0 0h0m26 0h0m44 0h0m33 0h0m34 0h0m5 0h0m3 0h0m-142 1h0m2 0h0m101 0h0m54 0h0m-119 1h0m61 0h0m36 0h0m-135 1h0m81 0h0m37 0h0m17 0h0m18 0h0m-169 1h0m39 0h0m78 0h0m-80 1h0m41 0h0m12 0h0m0 0h0m26 0h0m60 0h0m-134 1h0m42 0h0m4 0h0m5 0h0m22 0h0m2 0h0m40 0h0m3 0h0m10 0h0m-153 1h0m0 0h0m2 0h0m20 0h0m39 0h0m2 0h0m37 0h0m2 0h0m32 0h0m25 0h0m-96 1h0m41 0h0m31 0h0m1 0h0m-116 1h0m57 0h0m22 0h0m1 0h0m-125 1h0m57 0h0m72 0h0m-129 1h0m46 0h0m6 0h0m47 0h0m-7 1h0m2 0h0m29 0h0m42 0h0m-168 1h0m55 0h0m6 0h0m71 0h0m35 0h0m2 0h0m2 0h0m1 0h0m0 0h0m8 0h0m-128 1h0m42 0h0m4 0h0m86 0h0m-157 1h0m7 0h0m69 0h0m25 0h0m-91 1h0m63 0h0m7 0h0m23 0h0m2 0h0m1 0h0m34 0h0m22 0h0m-162 1h0m25 0h0m3 0h0m1 0h0m11 0h0m35 0h0m24 0h0m-119 1h0m48 0h0m24 0h0m14 0h0m9 0h0m1 0h0m3 0h0m61 0h0m5 0h0m10 1h0m-153 1h0m35 0h0m3 0h0m28 0h0m0 0h0m5 0h0m68 0h0m18 0h0m-149 1h0m33 0h0m23 0h0m6 0h0m68 0h0m2 0h0m-102 1h0m2 0h0m30 0h0m28 0h0m40 0h0m5 0h0m-140 1h0m61 0h0m7 0h0m28 0h0m41 0h0m1 0h0m20 0h0m-210 1h0m49 0h0m25 0h0m1 0h0m18 0h0m20 0h0m37 0h0m7 0h0m30 0h0m22 0h0m-185 1h0m52 0h0m76 0h0m42 0h0m15 0h0m-133 1h0m47 0h0m4 0h0m43 0h0m25 0h0m11 0h0m4 0h0m1 0h0m-138 1h0m5 0h0m72 0h0m7 0h0m1 0h0m32 0h0m3 0h0m1 0h0m-106 1h0m34 0h0m0 0h0m20 0h0m12 0h0m1 0h0m36 0h0m0 0h0m8 0h0m-197 1h0m18 0h0m66 0h0m41 0h0m28 0h0m2 0h0m-105 1h0m21 0h0m2 0h0m7 0h0m6 0h0m34 0h0m29 0h0m8 0h0m31 0h0m6 0h0m3 0h0m-142 1h0m32 0h0m34 0h0m3 0h0m6 0h0m32 0h0m-161 1h0m114 0h0m2 0h0m31 0h0m2 0h0m1 0h0m51 0h0m-122 1h0m5 0h0m72 0h0m36 0h0m1 0h0m-115 1h0m10 0h0m5 0h0m20 0h0m2 0h0m38 0h0m0 0h0m34 0h0m2 0h0m1 0h0m2 0h0m4 0h0m-173 1h0m27 0h0m34 0h0m5 0h0m29 0h0m33 0h0m1 0h0m2 0h0m1 0h0m37 0h0m6 0h0m3 0h0m0 0h0m-225 1h0m110 0h0m68 0h0m1 0h0m1 0h0m31 0h0m9 0h0m-123 1h0m0 0h0m79 0h0m5 0h0m48 0h0m-154 1h0m30 0h0m13 0h0m28 0h0m34 0h0m40 0h0m-120 1h0m44 0h0m4 0h0m28 0h0m3 0h0m33 0h0m-131 1h0m34 0h0m62 0h0m2 0h0m36 0h0m1 0h0m5 0h0m2 0h0m-232 1h0m122 0h0m1 0h0m24 0h0m3 0h0m4 0h0m1 0h0m36 0h0m29 0h0m13 0h0m-142 1h0m17 0h0m11 0h0m3 0h0m26 0h0m0 0h0m38 0h0m1 0h0m1 0h0m3 0h0m28 0h0m8 0h0m-112 1h0m37 0h0m3 0h0m1 0h0m3 0h0m26 0h0m52 0h0m-181 1h0m59 0h0m35 0h0m2 0h0m3 0h0m1 0h0m3 0h0m31 0h0m54 0h0m-87 1h0m6 0h0m21 0h0m48 0h0m3 0h0m3 0h0m-109 1h0m1 0h0m23 0h0m12 0h0m23 0h0m37 0h0m7 0h0m10 0h0m1 0h0m-133 1h0m6 0h0m7 0h0m3 0h0m23 0h0m2 0h0m3 0h0m5 0h0m34 0h0m28 0h0m3 0h0m-136 1h0m36 0h0m0 0h0m28 0h0m2 0h0m2 0h0m3 0h0m28 0h0m7 0h0m35 0h0m2 0h0m-178 1h0m7 0h0m60 0h0m30 0h0m6 0h0m2 0h0m4 0h0m30 0h0m29 0h0m1 0h0m2 0h0m9 0h0m2 0h0m2 0h0m-181 1h0m32 0h0m1 0h0m20 0h0m13 0h0m69 0h0m33 0h0m5 0h0m11 0h0m-183 1h0m2 0h0m54 0h0m47 0h0m6 0h0m20 0h0m4 0h0m4 0h0m32 0h0m3 0h0m12 0h0m-130 1h0m1 0h0m0 0h0m84 0h0m20 0h0m28 0h0m-119 1h0m38 0h0m0 0h0m13 0h0m11 0h0m41 0h0m-136 1h0m23 0h0m9 0h0m9 0h0m32 0h0m22 0h0m50 0h0m1 0h0m-106 1h0m28 0h0m5 0h0m3 0h0m26 0h0m33 0h0m-113 1h0m10 0h0m30 0h0m6 0h0m2 0h0m61 0h0m3 0h0m2 0h0m8 0h0m-177 1h0m55 0h0m44 0h0m73 0h0m1 0h0m-169 1h0m25 0h0m70 0h0m4 0h0m1 0h0m34 0h0m42 0h0m-196 1h0m46 0h0m42 0h0m32 0h0m1 0h0m24 0h0m48 0h0m4 0h0m0 0h0m1 0h0m-152 1h0m4 0h0m24 0h0m13 0h0m24 0h0m35 0h0m3 0h0m10 0h0m-91 1h0m5 0h0m14 0h0m28 0h0m4 0h0m-117 1h0m69 0h0m41 0h0m2 0h0m38 0h0m0 0h0m38 0h0m1 0h0m10 0h0m-181 1h0m55 0h0m77 0h0m2 0h0m34 0h0m11 0h0m-127 1h0m50 0h0m26 0h0m55 0h0m-113 1h0m0 0h0m59 0h0m38 0h0m1 0h0m17 0h0m-203 1h0m87 0h0m3 0h0m56 0h0m2 1h0m32 0h0m-136 1h0m25 0h0m54 0h0m24 0h0m57 0h0m-222 1h0m30 0h0m39 0h0m27 0h0m46 0h0m23 0h0m34 0h0m9 0h0m3 0h0m-206 1h0m4 0h0m79 0h0m46 0h0m11 0h0m19 0h0m6 0h0m2 0h0m40 0h0m-200 1h0m49 0h0m1 0h0m52 0h0m16 0h0m7 0h0m6 0h0m26 0h0m5 0h0m28 0h0m12 0h0m0 0h0m-116 1h0m13 0h0m27 0h0m36 0h0m-189 1h0m81 0h0m68 0h0m8 0h0m2 0h0m23 0h0m6 0h0m29 0h0m-199 1h0m31 0h0m32 0h0m42 0h0m2 0h0m6 0h0m14 0h0m17 0h0m27 0h0m-83 1h0m13 0h0m32 0h0m6 0h0m5 0h0m22 0h0m6 0h0m31 0h0m15 0h0m-190 1h0m40 0h0m21 0h0m1 0h0m75 0h0m6 0h0m-77 1h0m42 0h0m0 0h0m31 0h0m20 0h0m-124 1h0m24 0h0m18 0h0m2 0h0m21 0h0m11 0h0m27 0h0m7 0h0m26 0h0m3 0h0m1 0h0m-224 1h0m26 0h0m61 0h0m3 0h0m21 0h0m46 0h0m30 0h0m1 0h0m43 0h0m3 0h0m-123 1h0m6 0h0m7 0h0m31 0h0m1 0h0m38 0h0m26 0h0m-225 1h0m114 0h0m16 0h0m38 0h0m29 0h0m1 0h0m2 0h0m40 0h0m5 0h0m-14 1h0m8 0h0m-156 1h0m10 0h0m72 0h0m31 0h0m28 0h0m-163 1h0m95 0h0m36 0h0m-191 1h0m55 0h0m32 0h0m1 0h0m7 0h0m26 0h0m44 0h0m3 0h0m1 0h0m2 0h0m60 0h0m-75 1h0m40 0h0m50 0h0m-126 1h0m15 0h0m27 0h0m2 0h0m6 0h0m22 0h0m1 0h0m3 0h0m4 0h0m45 0h0m-74 1h0m0 0h0m24 0h0m1 0h0m28 0h0m-191 1h0m26 0h0m105 0h0m3 0h0m0 0h0m3 0h0m1 0h0m1 0h0m22 0h0m1 0h0m1 0h0m4 0h0m32 0h0m9 0h0m6 0h0m-156 1h0m29 0h0m1 0h0m14 0h0m24 0h0m8 0h0m3 0h0m25 0h0m2 0h0m-135 1h0m61 0h0m8 0h0m4 0h0m2 0h0m28 0h0m4 0h0m1 0h0m24 0h0m1 0h0m1 0h0m6 0h0m39 0h0m7 0h0m-224 1h0m8 0h0m25 0h0m111 0h0m3 0h0m-82 1h0m72 0h0m37 0h0m-82 1h0m8 0h0m9 0h0m2 0h0m30 0h0m31 0h0m46 0h0m3 0h0m5 0h0m-85 1h0m4 0h0m30 0h0m45 0h0m-235 1h0m85 0h0m4 0h0m19 0h0m17 0h0m4 0h0m30 0h0m34 0h0m45 0h0m-186 1h0m38 0h0m19 0h0m24 0h0m18 0h0m7 0h0m35 0h0m-193 1h0m22 0h0m91 0h0m1 0h0m13 0h0m32 0h0m2 0h0m27 0h0m51 0h0m-192 1h0m34 0h0m0 0h0m34 0h0m11 0h0m31 0h0m8 0h0m30 0h0m40 0h0m-211 1h0m62 0h0m24 0h0m15 0h0m7 0h0m18 0h0m5 0h0m39 0h0m39 0h0m-185 1h0m84 0h0m29 0h0m31 0h0m49 0h0m-128 1h0m41 0h0m5 0h0m1 0h0m29 0h0m1 0h0m6 0h0m10 0h0m-183 1h0m93 0h0m16 0h0m28 0h0m2 0h0m28 0h0m6 0h0m40 0h0m-181 1h0m78 0h0m27 0h0m5 0h0m53 0h0m25 0h0m-124 1h0m35 0h0m7 0h0m36 0h0m37 0h0m9 0h0m0 0h0m-129 1h0m3 0h0m46 1h0m4 0h0m-83 1h0m36 0h0m9 0h0m63 0h0m1 0h0m28 0h0m-205 1h0m37 0h0m3 0h0m53 0h0m24 0h0m29 0h0m35 0h0m46 0h0m1 0h0m-220 1h0m141 0h0m4 0h0m1 0h0m21 0h0m7 0h0m24 0h0m-104 1h0m16 0h0m23 0h0m3 0h0m35 0h0m4 0h0m24 0h0m-141 1h0m87 0h0m22 0h0m6 0h0m-197 1h0m118 0h0m3 0h0m49 0h0m54 0h0m-112 1h0m37 0h0m73 0h0m4 0h0m-164 1h0m29 0h0m39 0h0m5 0h0m3 0h0m26 0h0m2 0h0m72 0h0m1 0h0m-106 1h0m1 0h0m2 0h0m29 0h0m28 0h0m28 0h0m-99 1h0m46 0h0m0 0h0m23 0h0m2 0h0m5 0h0m0 0h0m27 0h0m14 0h0m-240 1h0m138 0h0m26 0h0m5 0h0m25 0h0m-70 1h0m11 0h0m35 0h0m-119 1h0m81 0h0m8 0h0m30 0h0m4 0h0m-38 1h0m33 0h0m1 0h0m3 0h0m49 0h0m18 0h0m-188 1h0m3 0h0m118 0h0m2 0h0m19 0h0m8 0h0m-33 1h0m5 0h0m21 0h0m-53 1h0m19 0h0m5 0h0m35 0h0m6 0h0m-65 1h0m28 0h0m4 0h0m29 0h0m39 0h0m-222 1h0m100 0h0m49 0h0m1 0h0m2 0h0m-119 1h0m4 0h0m1 0h0m67 0h0m46 0h0m4 0h0m24 0h0m3 0h0m-105 1h0m149 0h0m-219 1h0m141 0h0m32 0h0m1 0h0m2 0h0m-86 1h0m8 0h0m15 0h0m63 0h0m-152 1h0m3 0h0m3 0h0m33 0h0m13 0h0m39 0h0m24 0h0m3 0h0m4 0h0m7 0h0m-54 1h0m38 0h0m11 0h0m28 0h0m41 0h0m1 0h0m3 0h0m-189 1h0m82 0h0m60 0h0m-197 1h0m18 0h0m102 0h0m125 0h0m-125 1h0m53 0h0m-116 1h0m36 0h0m-38 1h0m-7 1h0m5 0h0m143 0h0m-202 1h0m0 0h0m29 0h0m146 0h0m-107 1h0m38 0h0m19 0h0m19 0h0m-85 1h0m81 0h0m25 0h0m17 0h0m3 0h0m-86 1h0m80 0h0m-117 1h0m70 0h0m14 0h0m59 0h0m1 0h0m-183 1h0m188 0h0m-187 1h0m155 0h0m6 0h0m-160 1h0m100 0h0m49 0h0m3 0h0m1 0h0m0 0h0m31 0h0m2 0h0m2 0h0m-1 1h0m-184 1h0m32 0h0m86 0h0m38 0h0m-58 2h0m44 0h0m11 0h0m0 0h0m3 0h0m22 0h0m2 0h0m1 0h0m-202 1h0m25 0h0m67 0h0m46 0h0m44 0h0m-57 1h0m42 0h0m2 1h0m-167 1h0m163 0h0m10 0h0m15 0h0m17 0h0m-214 1h0m63 0h0m58 0h0m43 0h0m24 0h0m-132 1h0m6 0h0m16 0h0m92 0h0m45 0h0m-64 1h0m33 0h0m29 1h0m-38 1h0m4 0h0m3 0h0m9 1h0m18 0h0m11 0h0m-63 1h0m52 0h0m-76 1h0m16 0h0m62 0h0m2 0h0m-25 1h0m-123 1h0m39 0h0m80 0h0m14 0h0m-46 1h0m28 0h0m11 1h0m3 0h0m18 0h0m-75 1h0m57 0h0m23 0h0m-155 1h0m0 0h0m126 0h0m51 0h0m-51 2h0m-84 1h0m51 0h0m3 1h0m28 0h0m-48 2h0m60 2h0m0 0h0m43 0h0m-182 3h0m113 0h0m48 2h0m32 0h0m-111 1h0m3 0h0m39 0h0m-47 3h0m1 1h0m79 0h0m-204 1h0m206 0h0m-74 2h0m-40 1h0m-97 1h0m24 0h0m151 0h0m-150 3h0m71 0h0m31 0h0m85 0h0m7 0h0m-159 1h0m8 0h0m35 0h0m116 0h0m-138 4h0m113 0h0m28 0h0m-95 1h0" fill="none" stroke-linecap="round"/></defs>
<clipPath id="ce0"><rect x="56.3" y="804.5" width="284" height="177.5"/></clipPath>
<g clip-path="url(#ce0)">
<rect x="56.3" y="804.5" width="284.0" height="177.5" fill="#050606"/>
<g filter="url(#bl1)">
<path d="M75.5 989.5 75.9 982.9 76.4 973.4 77.2 963.2 78.3 954.5 79.7 948.2 81.4 943.0 83.5 937.9 86.1 931.9 89.4 924.4 93.3 916.1 97.5 907.7 102.1 899.9 106.9 892.7 112.0 885.9 117.5 879.5 123.3 873.3 129.5 867.5 136.0 862.1 142.8 856.9 150.0 852.0 157.5 847.2 165.4 842.6 173.6 838.3 181.9 834.3 190.5 830.7 199.4 827.4 208.4 824.4 217.3 821.9 226.4 819.7 235.6 818.0 244.5 816.6 252.8 815.7 260.2 815.3 266.9 815.3 273.2 815.8 279.4 816.6 285.5 817.7 291.5 819.1 297.2 821.0 302.5 823.7 307.4 827.2 312.1 831.4 316.4 836.2 320.3 841.4 323.9 847.1 327.2 853.5 330.1 860.0 332.7 866.2 334.9 871.6 336.6 876.5 338.2 882.0 339.8 889.3 341.6 898.8 343.4 909.9 345.0 922.0 346.3 934.5 347.2 948.9 347.7 964.8 348.0 979.4 348.3 989.5Z" fill="#828486"/>
</g>
<clipPath id="ced0"><path d="M75.5 989.5 75.9 982.9 76.4 973.4 77.2 963.2 78.3 954.5 79.7 948.2 81.4 943.0 83.5 937.9 86.1 931.9 89.4 924.4 93.3 916.1 97.5 907.7 102.1 899.9 106.9 892.7 112.0 885.9 117.5 879.5 123.3 873.3 129.5 867.5 136.0 862.1 142.8 856.9 150.0 852.0 157.5 847.2 165.4 842.6 173.6 838.3 181.9 834.3 190.5 830.7 199.4 827.4 208.4 824.4 217.3 821.9 226.4 819.7 235.6 818.0 244.5 816.6 252.8 815.7 260.2 815.3 266.9 815.3 273.2 815.8 279.4 816.6 285.5 817.7 291.5 819.1 297.2 821.0 302.5 823.7 307.4 827.2 312.1 831.4 316.4 836.2 320.3 841.4 323.9 847.1 327.2 853.5 330.1 860.0 332.7 866.2 334.9 871.6 336.6 876.5 338.2 882.0 339.8 889.3 341.6 898.8 343.4 909.9 345.0 922.0 346.3 934.5 347.2 948.9 347.7 964.8 348.0 979.4 348.3 989.5Z"/></clipPath>
<g clip-path="url(#ced0)"><g filter="url(#bl4)">
<path d="M75.5 989.5 75.9 982.9 76.4 973.4 77.2 963.2 78.3 954.5 79.7 948.2 81.4 943.0 83.5 937.9 86.1 931.9 89.4 924.4 93.3 916.1 97.5 907.7 102.1 899.9 106.9 892.7 112.0 885.9 117.5 879.5 123.3 873.3 129.5 867.5 136.0 862.1 142.8 856.9 150.0 852.0 157.5 847.2 165.4 842.6 173.6 838.3 181.9 834.3 190.5 830.7 199.4 827.4 208.4 824.4 217.3 821.9 226.4 819.7 235.6 818.0 244.5 816.6 252.8 815.7 260.2 815.3 266.9 815.3 273.2 815.8 279.4 816.6 285.5 817.7 291.5 819.1 297.2 821.0 302.5 823.7 307.4 827.2 312.1 831.4 316.4 836.2 320.3 841.4 323.9 847.1 327.2 853.5 330.1 860.0 332.7 866.2 334.9 871.6 336.6 876.5 338.2 882.0 339.8 889.3 341.6 898.8 343.4 909.9 345.0 922.0 346.3 934.5 347.2 948.9 347.7 964.8 348.0 979.4 348.3 989.5" fill="none" stroke="#9c9ea0" stroke-width="12" opacity=".85"/>
<ellipse cx="166.3" cy="934.5" rx="50" ry="45" fill="#909294" opacity=".8"/>
<ellipse cx="236.3" cy="986.5" rx="45" ry="16" fill="#a6a8aa" opacity=".9"/>
<ellipse cx="271.3" cy="894.5" rx="30" ry="50" fill="#888a8c" opacity=".7"/>
<ellipse cx="318.3" cy="924.5" rx="8" ry="60" fill="#6c6e70" opacity=".8"/>
</g></g>
</g>
<use href="#edots" x="56.3" y="804.5" stroke="#fff" stroke-width="4.6"/>
<circle cx="224.8" cy="937.0" r="1.9" fill="#5cb65a"/>
<circle cx="215.7" cy="870.5" r="2.8" fill="#5cb65a"/>
<circle cx="233.4" cy="898.2" r="1.9" fill="#5cb65a"/>
<circle cx="226.8" cy="914.1" r="3.1" fill="#5cb65a"/>
<circle cx="212.6" cy="869.2" r="4.5" fill="#5cb65a"/>
<circle cx="201.3" cy="904.6" r="4.1" fill="#5cb65a"/>
<circle cx="215.2" cy="926.2" r="2.4" fill="#5cb65a"/>
<circle cx="193.0" cy="873.6" r="2.7" fill="#5cb65a"/>
<circle cx="231.5" cy="900.1" r="4.6" fill="#5cb65a"/>
<circle cx="228.3" cy="877.8" r="3.0" fill="#5cb65a"/>
<circle cx="199.4" cy="910.9" r="3.5" fill="#5cb65a"/>
<circle cx="211.1" cy="867.0" r="3.5" fill="#5cb65a"/>
<circle cx="205.6" cy="867.9" r="4.6" fill="#5cb65a"/>
<circle cx="233.7" cy="888.6" r="4.4" fill="#5cb65a"/>
<circle cx="208.3" cy="906.4" r="3.4" fill="#5cb65a"/>
<circle cx="219.4" cy="929.8" r="3.8" fill="#5cb65a"/>
<circle cx="205.1" cy="924.3" r="2.3" fill="#5cb65a"/>
<circle cx="194.7" cy="901.6" r="4.4" fill="#5cb65a"/>
<circle cx="234.6" cy="898.2" r="4.0" fill="#5cb65a"/>
<circle cx="194.8" cy="873.3" r="4.5" fill="#5cb65a"/>
<circle cx="217.1" cy="874.5" r="2.7" fill="#5cb65a"/>
<circle cx="210.5" cy="930.4" r="2.4" fill="#5cb65a"/>
<circle cx="211.9" cy="897.3" r="3.1" fill="#5cb65a"/>
<circle cx="202.3" cy="881.2" r="4.0" fill="#5cb65a"/>
<circle cx="229.0" cy="886.8" r="4.0" fill="#5cb65a"/>
<circle cx="205.6" cy="894.0" r="3.7" fill="#5cb65a"/>
<circle cx="214.6" cy="905.7" r="1.9" fill="#5cb65a"/>
<circle cx="236.7" cy="914.0" r="2.5" fill="#5cb65a"/>
<circle cx="219.7" cy="915.8" r="4.4" fill="#5cb65a"/>
<circle cx="210.0" cy="862.8" r="2.8" fill="#5cb65a"/>
<circle cx="218.1" cy="869.1" r="3.4" fill="#5cb65a"/>
<circle cx="222.0" cy="910.1" r="1.8" fill="#5cb65a"/>
<circle cx="194.1" cy="875.6" r="3.4" fill="#5cb65a"/>
<circle cx="225.5" cy="889.0" r="3.5" fill="#5cb65a"/>
<circle cx="180.6" cy="942.0" r="14.2" fill="#5cb65a"/>
<circle cx="220.0" cy="942.5" r="9.8" fill="#5cb65a"/>
<circle cx="252.8" cy="899.9" r="11.0" fill="#5cb65a"/>
<circle cx="203.2" cy="856.5" r="5.3" fill="#5cb65a"/>
<circle cx="191.3" cy="869.4" r="5.3" fill="#5cb65a"/>
<circle cx="162.7" cy="895.1" r="3.5" fill="#5cb65a"/>
<circle cx="186.3" cy="894.6" r="4.4" fill="#5cb65a"/>
<circle cx="211.2" cy="891.1" r="7.1" fill="#5cb65a"/>
<circle cx="222.7" cy="896.4" r="8.0" fill="#5cb65a"/>
<circle cx="226.2" cy="907.0" r="7.1" fill="#5cb65a"/>
<circle cx="200.5" cy="907.0" r="6.2" fill="#5cb65a"/>
<circle cx="204.1" cy="917.7" r="6.2" fill="#5cb65a"/>
<circle cx="205.8" cy="930.1" r="8.0" fill="#5cb65a"/>
<circle cx="233.3" cy="912.3" r="5.3" fill="#5cb65a"/>
<circle cx="220.0" cy="857.4" r="3.2" fill="#5cb65a"/>
<circle cx="232.1" cy="867.1" r="3.2" fill="#5cb65a"/>
<circle cx="225.3" cy="868.0" r="2.7" fill="#5cb65a"/>
<circle cx="213.8" cy="869.8" r="3.2" fill="#5cb65a"/>
<circle cx="206.7" cy="879.5" r="3.5" fill="#5cb65a"/>
<circle cx="217.4" cy="882.2" r="3.5" fill="#5cb65a"/>
<circle cx="234.7" cy="834.3" r="2.1" fill="#5cb65a"/>
<circle cx="236.0" cy="883.1" r="2.7" fill="#5cb65a"/>
<circle cx="244.9" cy="880.4" r="2.7" fill="#5cb65a"/>
<circle cx="238.7" cy="902.6" r="2.7" fill="#5cb65a"/>
<circle cx="247.5" cy="946.1" r="3.9" fill="#5cb65a"/>
<circle cx="224.5" cy="961.7" r="3.9" fill="#5cb65a"/>
<circle cx="205.3" cy="955.8" r="3.0" fill="#5cb65a"/>
<circle cx="267.4" cy="941.6" r="2.1" fill="#5cb65a"/>
<circle cx="246.6" cy="931.0" r="2.1" fill="#5cb65a"/>
<circle cx="240.4" cy="935.4" r="2.7" fill="#5cb65a"/>
<circle cx="253.4" cy="940.7" r="2.1" fill="#5cb65a"/>
<circle cx="249.8" cy="952.8" r="2.1" fill="#5cb65a"/>
<circle cx="212.9" cy="912.3" r="4.4" fill="#5cb65a"/>
<circle cx="230.7" cy="889.3" r="3.2" fill="#5cb65a"/>
<circle cx="194.3" cy="899.9" r="3.5" fill="#5cb65a"/>
<circle cx="245.7" cy="887.5" r="2.7" fill="#5cb65a"/>
<circle cx="243.1" cy="919.4" r="1.8" fill="#5cb65a"/>
<circle cx="246.6" cy="923.0" r="1.8" fill="#5cb65a"/>
<circle cx="252.0" cy="925.7" r="1.4" fill="#5cb65a"/>
<circle cx="234.2" cy="939.0" r="2.1" fill="#5cb65a"/>
<circle cx="202.3" cy="942.5" r="3.2" fill="#5cb65a"/>
<rect x="71.4" y="969.2" width="44.0" height="3.6" fill="#fff"/>
<clipPath id="ce1"><rect x="56.3" y="1090.4" width="284" height="177.5"/></clipPath>
<g clip-path="url(#ce1)">
<rect x="56.3" y="1090.4" width="284.0" height="177.5" fill="#050606"/>
<g filter="url(#bl1)">
<path d="M75.5 1275.4 75.9 1268.8 76.4 1259.3 77.2 1249.1 78.3 1240.4 79.7 1234.1 81.4 1228.9 83.5 1223.8 86.1 1217.8 89.4 1210.3 93.3 1202.1 97.5 1193.6 102.1 1185.8 106.9 1178.6 112.0 1171.8 117.5 1165.4 123.3 1159.2 129.5 1153.4 136.0 1148.0 142.8 1142.8 150.0 1137.9 157.5 1133.1 165.4 1128.5 173.6 1124.2 181.9 1120.2 190.5 1116.6 199.4 1113.3 208.4 1110.3 217.3 1107.8 226.4 1105.6 235.6 1103.9 244.5 1102.5 252.8 1101.6 260.2 1101.2 266.9 1101.2 273.2 1101.7 279.4 1102.5 285.5 1103.6 291.5 1105.0 297.2 1106.9 302.5 1109.6 307.4 1113.1 312.1 1117.3 316.4 1122.1 320.3 1127.3 323.9 1133.0 327.2 1139.4 330.1 1145.9 332.7 1152.1 334.9 1157.5 336.6 1162.4 338.2 1167.9 339.8 1175.2 341.6 1184.7 343.4 1195.8 345.0 1207.9 346.3 1220.4 347.2 1234.8 347.7 1250.7 348.0 1265.3 348.3 1275.4Z" fill="#828486"/>
</g>
<clipPath id="ced1"><path d="M75.5 1275.4 75.9 1268.8 76.4 1259.3 77.2 1249.1 78.3 1240.4 79.7 1234.1 81.4 1228.9 83.5 1223.8 86.1 1217.8 89.4 1210.3 93.3 1202.1 97.5 1193.6 102.1 1185.8 106.9 1178.6 112.0 1171.8 117.5 1165.4 123.3 1159.2 129.5 1153.4 136.0 1148.0 142.8 1142.8 150.0 1137.9 157.5 1133.1 165.4 1128.5 173.6 1124.2 181.9 1120.2 190.5 1116.6 199.4 1113.3 208.4 1110.3 217.3 1107.8 226.4 1105.6 235.6 1103.9 244.5 1102.5 252.8 1101.6 260.2 1101.2 266.9 1101.2 273.2 1101.7 279.4 1102.5 285.5 1103.6 291.5 1105.0 297.2 1106.9 302.5 1109.6 307.4 1113.1 312.1 1117.3 316.4 1122.1 320.3 1127.3 323.9 1133.0 327.2 1139.4 330.1 1145.9 332.7 1152.1 334.9 1157.5 336.6 1162.4 338.2 1167.9 339.8 1175.2 341.6 1184.7 343.4 1195.8 345.0 1207.9 346.3 1220.4 347.2 1234.8 347.7 1250.7 348.0 1265.3 348.3 1275.4Z"/></clipPath>
<g clip-path="url(#ced1)"><g filter="url(#bl4)">
<path d="M75.5 1275.4 75.9 1268.8 76.4 1259.3 77.2 1249.1 78.3 1240.4 79.7 1234.1 81.4 1228.9 83.5 1223.8 86.1 1217.8 89.4 1210.3 93.3 1202.1 97.5 1193.6 102.1 1185.8 106.9 1178.6 112.0 1171.8 117.5 1165.4 123.3 1159.2 129.5 1153.4 136.0 1148.0 142.8 1142.8 150.0 1137.9 157.5 1133.1 165.4 1128.5 173.6 1124.2 181.9 1120.2 190.5 1116.6 199.4 1113.3 208.4 1110.3 217.3 1107.8 226.4 1105.6 235.6 1103.9 244.5 1102.5 252.8 1101.6 260.2 1101.2 266.9 1101.2 273.2 1101.7 279.4 1102.5 285.5 1103.6 291.5 1105.0 297.2 1106.9 302.5 1109.6 307.4 1113.1 312.1 1117.3 316.4 1122.1 320.3 1127.3 323.9 1133.0 327.2 1139.4 330.1 1145.9 332.7 1152.1 334.9 1157.5 336.6 1162.4 338.2 1167.9 339.8 1175.2 341.6 1184.7 343.4 1195.8 345.0 1207.9 346.3 1220.4 347.2 1234.8 347.7 1250.7 348.0 1265.3 348.3 1275.4" fill="none" stroke="#9c9ea0" stroke-width="12" opacity=".85"/>
<ellipse cx="166.3" cy="1220.4" rx="50" ry="45" fill="#909294" opacity=".8"/>
<ellipse cx="236.3" cy="1272.4" rx="45" ry="16" fill="#a6a8aa" opacity=".9"/>
<ellipse cx="271.3" cy="1180.4" rx="30" ry="50" fill="#888a8c" opacity=".7"/>
<ellipse cx="318.3" cy="1210.4" rx="8" ry="60" fill="#6c6e70" opacity=".8"/>
</g></g>
</g>
<use href="#edots" x="56.3" y="1090.4" stroke="#fff" stroke-width="4.6"/>
<circle cx="205.4" cy="1182.8" r="2.7" fill="#b05596"/>
<circle cx="234.7" cy="1206.2" r="4.6" fill="#b05596"/>
<circle cx="215.7" cy="1193.1" r="4.7" fill="#b05596"/>
<circle cx="224.2" cy="1219.9" r="4.5" fill="#b05596"/>
<circle cx="228.9" cy="1196.8" r="2.7" fill="#b05596"/>
<circle cx="204.9" cy="1216.0" r="2.7" fill="#b05596"/>
<circle cx="224.5" cy="1209.1" r="2.3" fill="#b05596"/>
<circle cx="207.8" cy="1216.2" r="4.7" fill="#b05596"/>
<circle cx="202.8" cy="1212.4" r="2.6" fill="#b05596"/>
<circle cx="236.7" cy="1213.6" r="5.6" fill="#b05596"/>
<circle cx="193.1" cy="1188.6" r="4.3" fill="#b05596"/>
<circle cx="214.2" cy="1179.5" r="5.3" fill="#b05596"/>
<circle cx="226.6" cy="1187.5" r="2.6" fill="#b05596"/>
<circle cx="221.0" cy="1194.7" r="4.5" fill="#b05596"/>
<circle cx="213.3" cy="1193.8" r="2.2" fill="#b05596"/>
<circle cx="199.3" cy="1198.1" r="4.7" fill="#b05596"/>
<circle cx="217.0" cy="1217.4" r="4.0" fill="#b05596"/>
<circle cx="234.7" cy="1211.4" r="3.3" fill="#b05596"/>
<circle cx="236.3" cy="1217.9" r="2.5" fill="#b05596"/>
<circle cx="215.4" cy="1175.8" r="5.3" fill="#b05596"/>
<circle cx="226.9" cy="1217.7" r="4.3" fill="#b05596"/>
<circle cx="218.7" cy="1224.4" r="5.5" fill="#b05596"/>
<circle cx="203.4" cy="1196.7" r="4.7" fill="#b05596"/>
<circle cx="221.6" cy="1194.9" r="3.7" fill="#b05596"/>
<circle cx="206.8" cy="1213.5" r="3.1" fill="#b05596"/>
<circle cx="229.2" cy="1189.2" r="5.4" fill="#b05596"/>
<circle cx="252.8" cy="1184.1" r="19.5" fill="#b05596"/>
<circle cx="235.1" cy="1177.9" r="16.9" fill="#b05596"/>
<circle cx="210.3" cy="1188.5" r="14.2" fill="#b05596"/>
<circle cx="204.9" cy="1213.3" r="14.2" fill="#b05596"/>
<circle cx="219.1" cy="1188.5" r="12.4" fill="#b05596"/>
<circle cx="234.2" cy="1135.3" r="6.2" fill="#b05596"/>
<circle cx="162.7" cy="1180.9" r="3.9" fill="#b05596"/>
<circle cx="183.7" cy="1170.8" r="5.0" fill="#b05596"/>
<circle cx="190.8" cy="1181.4" r="5.3" fill="#b05596"/>
<circle cx="206.7" cy="1163.7" r="5.3" fill="#b05596"/>
<circle cx="211.2" cy="1156.9" r="3.2" fill="#b05596"/>
<circle cx="191.6" cy="1155.7" r="2.7" fill="#b05596"/>
<circle cx="186.7" cy="1148.0" r="2.1" fill="#b05596"/>
<circle cx="216.8" cy="1129.1" r="2.7" fill="#b05596"/>
<circle cx="215.1" cy="1120.6" r="1.8" fill="#b05596"/>
<circle cx="219.5" cy="1141.8" r="1.8" fill="#b05596"/>
<circle cx="185.1" cy="1194.2" r="3.5" fill="#b05596"/>
<circle cx="173.4" cy="1194.2" r="2.1" fill="#b05596"/>
<circle cx="181.4" cy="1205.0" r="3.5" fill="#b05596"/>
<circle cx="168.9" cy="1213.7" r="3.5" fill="#b05596"/>
<circle cx="162.7" cy="1249.7" r="4.1" fill="#b05596"/>
<circle cx="176.6" cy="1240.5" r="2.7" fill="#b05596"/>
<circle cx="181.0" cy="1232.8" r="1.8" fill="#b05596"/>
<circle cx="181.0" cy="1247.9" r="1.8" fill="#b05596"/>
<circle cx="180.1" cy="1255.9" r="1.8" fill="#b05596"/>
<circle cx="161.0" cy="1261.2" r="2.1" fill="#b05596"/>
<circle cx="247.5" cy="1232.0" r="4.4" fill="#b05596"/>
<circle cx="249.3" cy="1239.0" r="2.7" fill="#b05596"/>
<circle cx="220.9" cy="1220.4" r="4.4" fill="#b05596"/>
<circle cx="232.4" cy="1224.9" r="2.1" fill="#b05596"/>
<circle cx="243.1" cy="1209.8" r="2.7" fill="#b05596"/>
<circle cx="245.7" cy="1216.9" r="2.1" fill="#b05596"/>
<circle cx="252.0" cy="1219.5" r="2.1" fill="#b05596"/>
<circle cx="231.6" cy="1211.6" r="2.1" fill="#b05596"/>
<circle cx="233.3" cy="1156.6" r="2.1" fill="#b05596"/>
<circle cx="225.3" cy="1163.7" r="2.1" fill="#b05596"/>
<circle cx="192.5" cy="1196.5" r="2.7" fill="#b05596"/>
<circle cx="240.4" cy="1167.2" r="8.9" fill="#b05596"/>
<circle cx="256.4" cy="1167.2" r="5.3" fill="#b05596"/>
<circle cx="219.1" cy="1227.5" r="1.8" fill="#b05596"/>
<circle cx="210.3" cy="1232.0" r="1.8" fill="#b05596"/>
<circle cx="229.4" cy="1233.7" r="1.4" fill="#b05596"/>
<rect x="71.4" y="1255.1" width="44.0" height="3.6" fill="#fff"/>
<clipPath id="ce2"><rect x="56.3" y="1361.2" width="284" height="177.5"/></clipPath>
<g clip-path="url(#ce2)">
<rect x="56.3" y="1361.2" width="284.0" height="177.5" fill="#050606"/>
<g filter="url(#bl1)">
<path d="M75.5 1546.2 75.9 1539.6 76.4 1530.1 77.2 1519.9 78.3 1511.2 79.7 1504.9 81.4 1499.7 83.5 1494.6 86.1 1488.6 89.4 1481.1 93.3 1472.9 97.5 1464.4 102.1 1456.6 106.9 1449.4 112.0 1442.6 117.5 1436.2 123.3 1430.0 129.5 1424.2 136.0 1418.8 142.8 1413.6 150.0 1408.7 157.5 1403.9 165.4 1399.3 173.6 1395.0 181.9 1391.0 190.5 1387.4 199.4 1384.1 208.4 1381.1 217.3 1378.6 226.4 1376.4 235.6 1374.7 244.5 1373.3 252.8 1372.4 260.2 1372.0 266.9 1372.0 273.2 1372.5 279.4 1373.3 285.5 1374.4 291.5 1375.8 297.2 1377.7 302.5 1380.4 307.4 1383.9 312.1 1388.1 316.4 1392.9 320.3 1398.1 323.9 1403.8 327.2 1410.2 330.1 1416.7 332.7 1422.9 334.9 1428.3 336.6 1433.2 338.2 1438.7 339.8 1446.0 341.6 1455.5 343.4 1466.6 345.0 1478.7 346.3 1491.2 347.2 1505.6 347.7 1521.5 348.0 1536.1 348.3 1546.2Z" fill="#828486"/>
</g>
<clipPath id="ced2"><path d="M75.5 1546.2 75.9 1539.6 76.4 1530.1 77.2 1519.9 78.3 1511.2 79.7 1504.9 81.4 1499.7 83.5 1494.6 86.1 1488.6 89.4 1481.1 93.3 1472.9 97.5 1464.4 102.1 1456.6 106.9 1449.4 112.0 1442.6 117.5 1436.2 123.3 1430.0 129.5 1424.2 136.0 1418.8 142.8 1413.6 150.0 1408.7 157.5 1403.9 165.4 1399.3 173.6 1395.0 181.9 1391.0 190.5 1387.4 199.4 1384.1 208.4 1381.1 217.3 1378.6 226.4 1376.4 235.6 1374.7 244.5 1373.3 252.8 1372.4 260.2 1372.0 266.9 1372.0 273.2 1372.5 279.4 1373.3 285.5 1374.4 291.5 1375.8 297.2 1377.7 302.5 1380.4 307.4 1383.9 312.1 1388.1 316.4 1392.9 320.3 1398.1 323.9 1403.8 327.2 1410.2 330.1 1416.7 332.7 1422.9 334.9 1428.3 336.6 1433.2 338.2 1438.7 339.8 1446.0 341.6 1455.5 343.4 1466.6 345.0 1478.7 346.3 1491.2 347.2 1505.6 347.7 1521.5 348.0 1536.1 348.3 1546.2Z"/></clipPath>
<g clip-path="url(#ced2)"><g filter="url(#bl4)">
<path d="M75.5 1546.2 75.9 1539.6 76.4 1530.1 77.2 1519.9 78.3 1511.2 79.7 1504.9 81.4 1499.7 83.5 1494.6 86.1 1488.6 89.4 1481.1 93.3 1472.9 97.5 1464.4 102.1 1456.6 106.9 1449.4 112.0 1442.6 117.5 1436.2 123.3 1430.0 129.5 1424.2 136.0 1418.8 142.8 1413.6 150.0 1408.7 157.5 1403.9 165.4 1399.3 173.6 1395.0 181.9 1391.0 190.5 1387.4 199.4 1384.1 208.4 1381.1 217.3 1378.6 226.4 1376.4 235.6 1374.7 244.5 1373.3 252.8 1372.4 260.2 1372.0 266.9 1372.0 273.2 1372.5 279.4 1373.3 285.5 1374.4 291.5 1375.8 297.2 1377.7 302.5 1380.4 307.4 1383.9 312.1 1388.1 316.4 1392.9 320.3 1398.1 323.9 1403.8 327.2 1410.2 330.1 1416.7 332.7 1422.9 334.9 1428.3 336.6 1433.2 338.2 1438.7 339.8 1446.0 341.6 1455.5 343.4 1466.6 345.0 1478.7 346.3 1491.2 347.2 1505.6 347.7 1521.5 348.0 1536.1 348.3 1546.2" fill="none" stroke="#9c9ea0" stroke-width="12" opacity=".85"/>
<ellipse cx="166.3" cy="1491.2" rx="50" ry="45" fill="#909294" opacity=".8"/>
<ellipse cx="236.3" cy="1543.2" rx="45" ry="16" fill="#a6a8aa" opacity=".9"/>
<ellipse cx="271.3" cy="1451.2" rx="30" ry="50" fill="#888a8c" opacity=".7"/>
<ellipse cx="318.3" cy="1481.2" rx="8" ry="60" fill="#6c6e70" opacity=".8"/>
</g></g>
</g>
<use href="#edots" x="56.3" y="1361.2" stroke="#fff" stroke-width="4.6"/>
<circle cx="195.7" cy="1435.7" r="3.7" fill="#e9e634"/>
<circle cx="190.5" cy="1496.3" r="5.4" fill="#e9e634"/>
<circle cx="184.3" cy="1436.1" r="3.4" fill="#e9e634"/>
<circle cx="188.6" cy="1435.8" r="3.3" fill="#e9e634"/>
<circle cx="208.7" cy="1480.0" r="3.4" fill="#e9e634"/>
<circle cx="211.8" cy="1502.5" r="2.5" fill="#e9e634"/>
<circle cx="220.6" cy="1493.0" r="3.9" fill="#e9e634"/>
<circle cx="181.2" cy="1441.5" r="2.9" fill="#e9e634"/>
<circle cx="220.6" cy="1485.0" r="5.9" fill="#e9e634"/>
<circle cx="212.7" cy="1479.2" r="6.6" fill="#e9e634"/>
<circle cx="194.4" cy="1480.6" r="6.0" fill="#e9e634"/>
<circle cx="214.6" cy="1506.9" r="4.9" fill="#e9e634"/>
<circle cx="199.7" cy="1437.5" r="3.5" fill="#e9e634"/>
<circle cx="178.4" cy="1440.4" r="3.5" fill="#e9e634"/>
<circle cx="173.1" cy="1457.2" r="5.2" fill="#e9e634"/>
<circle cx="189.3" cy="1465.1" r="3.4" fill="#e9e634"/>
<circle cx="197.6" cy="1513.3" r="5.2" fill="#e9e634"/>
<circle cx="197.6" cy="1448.1" r="5.6" fill="#e9e634"/>
<circle cx="178.8" cy="1465.9" r="6.7" fill="#e9e634"/>
<circle cx="208.4" cy="1481.0" r="5.4" fill="#e9e634"/>
<circle cx="224.5" cy="1499.6" r="3.5" fill="#e9e634"/>
<circle cx="180.4" cy="1451.5" r="6.5" fill="#e9e634"/>
<circle cx="215.2" cy="1460.4" r="5.3" fill="#e9e634"/>
<circle cx="204.0" cy="1511.4" r="4.4" fill="#e9e634"/>
<circle cx="181.1" cy="1454.6" r="4.9" fill="#e9e634"/>
<circle cx="189.0" cy="1483.3" r="6.3" fill="#e9e634"/>
<circle cx="187.6" cy="1452.2" r="6.7" fill="#e9e634"/>
<circle cx="190.4" cy="1441.3" r="2.7" fill="#e9e634"/>
<circle cx="181.9" cy="1487.0" r="5.9" fill="#e9e634"/>
<circle cx="185.1" cy="1439.0" r="4.1" fill="#e9e634"/>
<circle cx="226.7" cy="1478.6" r="6.6" fill="#e9e634"/>
<circle cx="215.7" cy="1491.6" r="4.8" fill="#e9e634"/>
<circle cx="190.6" cy="1488.1" r="3.0" fill="#e9e634"/>
<circle cx="195.1" cy="1472.2" r="6.5" fill="#e9e634"/>
<circle cx="160.2" cy="1448.8" r="12.4" fill="#e9e634"/>
<circle cx="149.1" cy="1472.4" r="5.3" fill="#e9e634"/>
<circle cx="172.1" cy="1463.6" r="4.4" fill="#e9e634"/>
<circle cx="206.2" cy="1430.7" r="8.0" fill="#e9e634"/>
<circle cx="209.4" cy="1442.3" r="6.2" fill="#e9e634"/>
<circle cx="224.5" cy="1424.5" r="5.3" fill="#e9e634"/>
<circle cx="232.1" cy="1423.6" r="3.2" fill="#e9e634"/>
<circle cx="179.6" cy="1423.6" r="3.2" fill="#e9e634"/>
<circle cx="184.5" cy="1413.0" r="2.1" fill="#e9e634"/>
<circle cx="199.1" cy="1413.0" r="2.1" fill="#e9e634"/>
<circle cx="201.0" cy="1420.6" r="2.1" fill="#e9e634"/>
<circle cx="234.6" cy="1406.4" r="2.1" fill="#e9e634"/>
<circle cx="228.9" cy="1435.2" r="3.2" fill="#e9e634"/>
<circle cx="240.4" cy="1445.8" r="5.0" fill="#e9e634"/>
<circle cx="239.9" cy="1438.4" r="2.7" fill="#e9e634"/>
<circle cx="187.2" cy="1442.3" r="7.1" fill="#e9e634"/>
<circle cx="185.4" cy="1451.1" r="6.2" fill="#e9e634"/>
<circle cx="196.1" cy="1449.4" r="6.2" fill="#e9e634"/>
<circle cx="187.2" cy="1465.3" r="5.3" fill="#e9e634"/>
<circle cx="197.9" cy="1467.1" r="8.9" fill="#e9e634"/>
<circle cx="199.6" cy="1477.7" r="8.0" fill="#e9e634"/>
<circle cx="177.5" cy="1482.2" r="8.0" fill="#e9e634"/>
<circle cx="180.1" cy="1497.3" r="7.1" fill="#e9e634"/>
<circle cx="172.1" cy="1487.5" r="3.9" fill="#e9e634"/>
<circle cx="199.6" cy="1490.2" r="8.9" fill="#e9e634"/>
<circle cx="210.3" cy="1491.9" r="8.0" fill="#e9e634"/>
<circle cx="206.7" cy="1502.6" r="8.0" fill="#e9e634"/>
<circle cx="213.8" cy="1506.1" r="8.9" fill="#e9e634"/>
<circle cx="230.7" cy="1504.3" r="6.7" fill="#e9e634"/>
<circle cx="225.3" cy="1491.9" r="4.4" fill="#e9e634"/>
<circle cx="206.7" cy="1517.7" r="3.9" fill="#e9e634"/>
<circle cx="204.9" cy="1512.3" r="3.2" fill="#e9e634"/>
<circle cx="219.1" cy="1465.3" r="6.2" fill="#e9e634"/>
<circle cx="220.9" cy="1481.3" r="5.3" fill="#e9e634"/>
<circle cx="220.9" cy="1452.9" r="2.7" fill="#e9e634"/>
<circle cx="209.4" cy="1455.6" r="2.7" fill="#e9e634"/>
<circle cx="246.6" cy="1468.9" r="5.3" fill="#e9e634"/>
<circle cx="241.0" cy="1467.1" r="2.7" fill="#e9e634"/>
<circle cx="252.8" cy="1472.4" r="2.7" fill="#e9e634"/>
<circle cx="244.0" cy="1457.3" r="2.1" fill="#e9e634"/>
<circle cx="259.9" cy="1460.9" r="2.5" fill="#e9e634"/>
<circle cx="253.7" cy="1484.3" r="3.2" fill="#e9e634"/>
<circle cx="245.7" cy="1492.3" r="2.1" fill="#e9e634"/>
<circle cx="157.4" cy="1502.9" r="2.5" fill="#e9e634"/>
<circle cx="157.4" cy="1516.8" r="3.5" fill="#e9e634"/>
<circle cx="159.7" cy="1526.2" r="2.5" fill="#e9e634"/>
<circle cx="179.2" cy="1521.7" r="2.1" fill="#e9e634"/>
<circle cx="181.0" cy="1515.5" r="1.8" fill="#e9e634"/>
<circle cx="259.9" cy="1500.4" r="1.1" fill="#e9e634"/>
<circle cx="252.0" cy="1452.9" r="1.4" fill="#e9e634"/>
<circle cx="255.1" cy="1464.4" r="1.4" fill="#e9e634"/>
<rect x="71.4" y="1525.9" width="44.0" height="3.6" fill="#fff"/>
<text x="64.5" y="959.4" font-size="23.5" fill="#fff">500 μm</text>
<rect x="515.0" y="951.2" width="25.0" height="16.9" fill="#5cb65a" stroke="#231f20" stroke-width="1.7"/>
<rect x="545.0" y="932.2" width="24.0" height="35.9" fill="#5cb65a" stroke="#231f20" stroke-width="1.7"/>
<rect x="575.0" y="881.4" width="24.5" height="86.7" fill="#5cb65a" stroke="#231f20" stroke-width="1.7"/>
<rect x="605.0" y="854.2" width="24.0" height="113.9" fill="#5cb65a" stroke="#231f20" stroke-width="1.7"/>
<rect x="635.0" y="859.0" width="24.0" height="109.1" fill="#5cb65a" stroke="#231f20" stroke-width="1.7"/>
<rect x="665.0" y="887.4" width="24.0" height="80.7" fill="#5cb65a" stroke="#231f20" stroke-width="1.7"/>
<rect x="695.0" y="909.8" width="24.0" height="58.3" fill="#5cb65a" stroke="#231f20" stroke-width="1.7"/>
<line x1="468.0" y1="811.0" x2="468.0" y2="969.2" stroke="#231f20" stroke-width="2.2"/>
<line x1="463.0" y1="968.1" x2="737.0" y2="968.1" stroke="#231f20" stroke-width="2.2"/>
<line x1="513.0" y1="968.1" x2="513.0" y2="974.1" stroke="#231f20" stroke-width="2.2"/>
<text x="513.0" y="997.0" font-size="23.5" text-anchor="middle" fill="#231f20">2.2</text>
<line x1="661.0" y1="968.1" x2="661.0" y2="974.1" stroke="#231f20" stroke-width="2.2"/>
<text x="661.0" y="997.0" font-size="23.5" text-anchor="middle" fill="#231f20">1.2</text>
<line x1="463.0" y1="818.7" x2="468.0" y2="818.7" stroke="#231f20" stroke-width="2.2"/>
<text x="459.0" y="827.2" font-size="23.5" text-anchor="end" fill="#231f20">0.2</text>
<line x1="463.0" y1="893.6" x2="468.0" y2="893.6" stroke="#231f20" stroke-width="2.2"/>
<text x="459.0" y="902.1" font-size="23.5" text-anchor="end" fill="#231f20">0.1</text>
<line x1="463.0" y1="968.1" x2="468.0" y2="968.1" stroke="#231f20" stroke-width="2.2"/>
<text x="459.0" y="976.6" font-size="23.5" text-anchor="end" fill="#231f20">0</text>
<text x="407.5" y="891.5" font-size="23.5" text-anchor="middle" fill="#231f20" transform="rotate(-90 407.5 891.5)">Frac. of neurons</text>
<text x="605.5" y="1022.4" font-size="23.8" text-anchor="middle" fill="#231f20">Lateral from midline (mm)</text>
<rect x="521.0" y="1189.0" width="24.0" height="66.5" fill="#b05596" stroke="#231f20" stroke-width="1.7"/>
<rect x="551.0" y="1151.7" width="24.0" height="103.8" fill="#b05596" stroke="#231f20" stroke-width="1.7"/>
<rect x="581.4" y="1113.7" width="23.9" height="141.8" fill="#b05596" stroke="#231f20" stroke-width="1.7"/>
<rect x="611.5" y="1108.7" width="24.5" height="146.8" fill="#b05596" stroke="#231f20" stroke-width="1.7"/>
<rect x="641.7" y="1127.3" width="24.3" height="128.2" fill="#b05596" stroke="#231f20" stroke-width="1.7"/>
<rect x="671.8" y="1158.8" width="24.2" height="96.7" fill="#b05596" stroke="#231f20" stroke-width="1.7"/>
<rect x="702.4" y="1188.5" width="24.0" height="67.0" fill="#b05596" stroke="#231f20" stroke-width="1.7"/>
<line x1="465.0" y1="1096.0" x2="465.0" y2="1256.6" stroke="#231f20" stroke-width="2.2"/>
<line x1="460.0" y1="1255.5" x2="740.6" y2="1255.5" stroke="#231f20" stroke-width="2.2"/>
<line x1="517.5" y1="1255.5" x2="517.5" y2="1261.5" stroke="#231f20" stroke-width="2.2"/>
<text x="517.5" y="1284.0" font-size="23.5" text-anchor="middle" fill="#231f20">2.2</text>
<line x1="665.2" y1="1255.5" x2="665.2" y2="1261.5" stroke="#231f20" stroke-width="2.2"/>
<text x="665.2" y="1284.0" font-size="23.5" text-anchor="middle" fill="#231f20">1.2</text>
<line x1="460.0" y1="1103.8" x2="465.0" y2="1103.8" stroke="#231f20" stroke-width="2.2"/>
<text x="456.0" y="1112.3" font-size="23.5" text-anchor="end" fill="#231f20">0.2</text>
<line x1="460.0" y1="1178.8" x2="465.0" y2="1178.8" stroke="#231f20" stroke-width="2.2"/>
<text x="456.0" y="1187.3" font-size="23.5" text-anchor="end" fill="#231f20">0.1</text>
<line x1="460.0" y1="1255.5" x2="465.0" y2="1255.5" stroke="#231f20" stroke-width="2.2"/>
<text x="456.0" y="1264.0" font-size="23.5" text-anchor="end" fill="#231f20">0</text>
<text x="407.5" y="1177.8" font-size="23.5" text-anchor="middle" fill="#231f20" transform="rotate(-90 407.5 1177.8)">Frac. of neurons</text>
<text x="605.5" y="1308.9" font-size="23.8" text-anchor="middle" fill="#231f20">Lateral from midline (mm)</text>
<rect x="491.8" y="1438.0" width="23.9" height="86.0" fill="#e9e634" stroke="#231f20" stroke-width="1.7"/>
<rect x="522.0" y="1405.0" width="24.0" height="118.9" fill="#e9e634" stroke="#231f20" stroke-width="1.7"/>
<rect x="552.0" y="1394.4" width="24.5" height="129.6" fill="#e9e634" stroke="#231f20" stroke-width="1.7"/>
<rect x="582.3" y="1420.6" width="24.4" height="103.4" fill="#e9e634" stroke="#231f20" stroke-width="1.7"/>
<rect x="612.4" y="1444.1" width="24.4" height="79.9" fill="#e9e634" stroke="#231f20" stroke-width="1.7"/>
<rect x="643.0" y="1466.7" width="24.0" height="57.3" fill="#e9e634" stroke="#231f20" stroke-width="1.7"/>
<rect x="672.7" y="1478.2" width="24.3" height="45.8" fill="#e9e634" stroke="#231f20" stroke-width="1.7"/>
<rect x="702.9" y="1480.5" width="24.4" height="43.5" fill="#e9e634" stroke="#231f20" stroke-width="1.7"/>
<line x1="467.0" y1="1366.5" x2="467.0" y2="1525.1" stroke="#231f20" stroke-width="2.2"/>
<line x1="462.0" y1="1524.0" x2="743.7" y2="1524.0" stroke="#231f20" stroke-width="2.2"/>
<line x1="519.7" y1="1524.0" x2="519.7" y2="1530.0" stroke="#231f20" stroke-width="2.2"/>
<text x="519.7" y="1552.5" font-size="23.5" text-anchor="middle" fill="#231f20">2.2</text>
<line x1="667.4" y1="1524.0" x2="667.4" y2="1530.0" stroke="#231f20" stroke-width="2.2"/>
<text x="667.4" y="1552.5" font-size="23.5" text-anchor="middle" fill="#231f20">1.2</text>
<line x1="462.0" y1="1402.0" x2="467.0" y2="1402.0" stroke="#231f20" stroke-width="2.2"/>
<text x="458.0" y="1410.5" font-size="23.5" text-anchor="end" fill="#231f20">0.4</text>
<line x1="462.0" y1="1463.2" x2="467.0" y2="1463.2" stroke="#231f20" stroke-width="2.2"/>
<text x="458.0" y="1471.7" font-size="23.5" text-anchor="end" fill="#231f20">0.2</text>
<line x1="462.0" y1="1524.0" x2="467.0" y2="1524.0" stroke="#231f20" stroke-width="2.2"/>
<text x="458.0" y="1532.5" font-size="23.5" text-anchor="end" fill="#231f20">0</text>
<text x="407.5" y="1447.2" font-size="23.5" text-anchor="middle" fill="#231f20" transform="rotate(-90 407.5 1447.2)">Frac. of neurons</text>
<text x="605.5" y="1579.2" font-size="23.8" text-anchor="middle" fill="#231f20">Lateral from midline (mm)</text>
<text x="861.0" y="778.5" font-size="47" font-weight="bold" fill="#231f20">f</text>
<text x="904.5" y="775.5" font-size="31.55" fill="#231f20">SC stimulus-selective neurons</text>
<text x="1385.0" y="775.5" font-size="31.55" fill="#231f20">Medial-lateral</text>
<text x="1737.0" y="775.5" font-size="31.55" fill="#231f20">Anterior-posterior</text>
<text x="904.5" y="1063.5" font-size="31.55" fill="#231f20">SC choice-selective neurons</text>
<text x="904.5" y="1346.5" font-size="31.55" fill="#231f20">SC licking movement neurons</text>
<defs><path id="fdots" transform="scale(.5)" d="M0 0m131 6h0m212 2h0m4 2h0m-55 1h0m113 0h0m-40 1h0m36 2h0m-36 1h0m-208 1h0m128 0h0m114 4h0m-109 2h0m-50 3h0m122 4h0m-77 1h0m1 0h0m6 0h0m53 0h0m19 0h0m-73 1h0m140 0h0m1 0h0m-70 1h0m68 0h0m1 0h0m-145 1h0m-38 2h0m156 1h0m-164 1h0m-92 1h0m170 0h0m85 1h0m-43 1h0m74 0h0m-142 1h0m70 1h0m-207 1h0m118 0h0m-104 1h0m262 0h0m-116 1h0m-167 1h0m63 0h0m66 0h0m155 1h0m-120 1h0m-19 1h0m21 0h0m35 0h0m77 0h0m-223 1h0m88 0h0m137 0h0m3 0h0m-157 1h0m6 0h0m149 0h0m-153 1h0m148 0h0m-139 1h0m14 0h0m-114 1h0m59 0h0m32 0h0m-122 1h0m57 0h0m41 0h0m96 1h0m10 0h0m40 1h0m-129 1h0m17 0h0m10 0h0m-121 2h0m168 0h0m63 0h0m23 0h0m3 0h0m-223 1h0m107 0h0m-15 1h0m35 0h0m-84 1h0m14 0h0m8 0h0m24 0h0m-33 1h0m134 0h0m-156 1h0m182 0h0m1 0h0m-216 1h0m92 0h0m-123 1h0m102 0h0m-27 1h0m65 0h0m-133 1h0m79 0h0m47 0h0m-145 2h0m7 0h0m120 0h0m40 0h0m-163 1h0m69 0h0m92 0h0m25 0h0m74 0h0m-258 1h0m121 0h0m24 0h0m-39 1h0m77 0h0m4 1h0m-38 1h0m-48 1h0m6 0h0m33 1h0m-144 1h0m181 0h0m-174 1h0m71 0h0m102 0h0m-84 1h0m51 0h0m-143 2h0m4 0h0m71 0h0m84 0h0m-67 1h0m7 0h0m54 0h0m-61 1h0m23 0h0m-77 1h0m-5 1h0m79 0h0m74 0h0m-156 1h0m5 0h0m40 0h0m17 0h0m79 0h0m-72 1h0m129 0h0m-193 1h0m66 0h0m28 0h0m26 0h0m-32 1h0m4 0h0m0 0h0m-115 1h0m18 0h0m35 0h0m6 0h0m42 0h0m5 0h0m49 0h0m-167 1h0m10 0h0m61 0h0m28 0h0m52 0h0m47 0h0m31 0h0m-101 1h0m-127 1h0m58 0h0m82 0h0m67 0h0m-104 1h0m-22 1h0m2 0h0m14 0h0m94 0h0m-147 1h0m228 0h0m-174 1h0m13 0h0m80 0h0m40 0h0m-128 1h0m-105 1h0m85 0h0m12 0h0m51 0h0m-134 1h0m24 0h0m31 0h0m51 0h0m1 0h0m65 1h0m-76 1h0m58 0h0m9 0h0m-122 1h0m171 0h0m-142 1h0m13 0h0m30 0h0m49 0h0m-128 1h0m33 0h0m12 0h0m-37 1h0m41 0h0m-3 1h0m99 0h0m75 0h0m-230 1h0m195 0h0m-139 1h0m76 1h0m18 0h0m1 0h0m-192 1h0m42 1h0m29 0h0m98 0h0m-114 1h0m5 0h0m141 0h0m-187 1h0m45 0h0m57 0h0m74 0h0m-88 1h0m100 0h0m-69 1h0m8 0h0m-93 1h0m124 0h0m-68 1h0m27 0h0m14 0h0m14 0h0m8 0h0m29 0h0m-87 1h0m93 0h0m-96 1h0m-29 1h0m90 0h0m-58 1h0m7 0h0m28 0h0m89 0h0m-129 1h0m21 0h0m70 0h0m-45 1h0m-133 1h0m115 0h0m-76 1h0m14 0h0m54 0h0m48 0h0m27 1h0m-145 1h0m144 0h0m38 0h0m52 0h0m-270 1h0m103 0h0m89 0h0m19 0h0m-183 1h0m75 0h0m52 0h0m-15 1h0m70 0h0m-149 1h0m68 0h0m51 0h0m-152 1h0m29 2h0m4 0h0m18 0h0m95 0h0m14 0h0m-161 1h0m63 0h0m185 0h0m-192 2h0m8 0h0m45 0h0m-155 1h0m101 0h0m-57 1h0m4 0h0m52 0h0m114 0h0m-18 1h0m77 0h0m-187 1h0m94 0h0m28 0h0m-151 1h0m29 0h0m37 0h0m54 0h0m15 0h0m11 0h0m12 0h0m16 0h0m-151 1h0m39 0h0m28 0h0m91 0h0m-182 1h0m6 0h0m17 0h0m132 0h0m-13 1h0m-153 1h0m26 0h0m28 0h0m10 0h0m-32 1h0m34 0h0m24 0h0m16 0h0m-109 1h0m2 0h0m60 0h0m55 0h0m74 0h0m54 0h0m-271 1h0m84 0h0m-81 1h0m174 0h0m11 0h0m-125 1h0m170 0h0m-123 1h0m46 0h0m4 0h0m40 0h0m53 0h0m17 0h0m-243 1h0m121 0h0m33 0h0m93 0h0m-167 1h0m80 0h0m63 0h0m4 0h0m-229 1h0m31 0h0m76 0h0m8 0h0m86 0h0m-113 1h0m42 0h0m32 0h0m10 0h0m1 1h0m-64 1h0m-45 1h0m68 0h0m0 0h0m0 1h0m28 0h0m6 0h0m43 0h0m-192 1h0m22 0h0m28 0h0m37 0h0m58 0h0m59 0h0m-154 1h0m122 0h0m-210 1h0m65 0h0m-86 1h0m16 0h0m55 0h0m26 0h0m57 0h0m37 0h0m-128 1h0m51 0h0m152 1h0m-219 1h0m59 1h0m-92 1h0m28 0h0m114 0h0m23 0h0m-130 1h0m32 1h0m23 0h0m11 0h0m-25 1h0m7 0h0m74 0h0m-127 1h0m37 0h0m98 0h0m24 0h0m-102 1h0m78 0h0m67 0h0m-242 1h0m40 0h0m54 0h0m10 0h0m5 1h0m61 0h0m16 0h0m-103 1h0m176 0h0m-205 1h0m77 0h0m56 0h0m-130 1h0m111 0h0m-51 1h0m30 0h0m16 0h0m48 0h0m-196 1h0m25 0h0m37 0h0m23 0h0m11 0h0m11 0h0m139 0h0m-202 1h0m16 0h0m-5 1h0m11 0h0m27 0h0m48 0h0m19 0h0m10 0h0m7 0h0m-196 1h0m96 0h0m56 1h0m96 2h0m17 0h0m-132 1h0m113 0h0m27 0h0m-255 1h0m139 0h0m45 0h0m-92 2h0m89 0h0m77 0h0m-202 1h0m31 0h0m57 0h0m37 0h0m6 0h0m-146 1h0m133 0h0m-151 1h0m40 0h0m6 0h0m36 0h0m4 0h0m67 0h0m22 1h0m-174 1h0m2 0h0m18 0h0m90 0h0m4 0h0m19 0h0m-111 1h0m82 0h0m23 0h0m-11 1h0m117 0h0m-73 1h0m-104 1h0m67 0h0m52 0h0m16 0h0m-193 1h0m95 0h0m55 0h0m49 0h0m7 1h0m1 0h0m1 0h0m-186 1h0m-42 1h0m26 0h0m106 0h0m45 0h0m-194 2h0m78 0h0m51 0h0m35 0h0m-89 1h0m49 0h0m46 0h0m25 0h0m-45 1h0m94 0h0m-175 1h0m52 0h0m-22 1h0m22 0h0m81 0h0m-109 1h0m27 0h0m58 0h0m66 0h0m-198 1h0m37 0h0m44 0h0m75 0h0m28 0h0m-146 1h0m-51 1h0m161 0h0m-46 1h0m-7 1h0m6 0h0m32 0h0m14 0h0m35 0h0m1 0h0m3 0h0m-194 1h0m82 0h0m-43 1h0m133 0h0m32 0h0m-189 1h0m-8 1h0m106 0h0m27 0h0m-138 1h0m66 0h0m15 0h0m54 0h0m-31 1h0m8 0h0m48 0h0m-202 1h0m12 0h0m160 0h0m-133 1h0m8 0h0m55 0h0m-31 1h0m101 0h0m29 0h0m-157 1h0m69 0h0m123 0h0m-173 1h0m26 0h0m-90 1h0m149 0h0m43 0h0m-91 1h0m30 0h0m37 0h0m-61 1h0m25 0h0m-47 1h0m17 0h0m50 0h0m83 0h0m-186 1h0m69 0h0m33 0h0m28 0h0m56 1h0m-123 1h0m119 0h0m-33 1h0m-223 2h0m180 0h0m-93 1h0m-40 1h0m52 0h0m-68 1h0m50 0h0m9 0h0m54 0h0m60 0h0m-74 1h0m43 0h0m4 0h0m-22 1h0m3 0h0m-155 1h0m70 0h0m126 0h0m-134 1h0m112 0h0m86 0h0m-174 1h0m45 0h0m15 0h0m-111 1h0m-11 1h0m111 0h0m40 0h0m14 0h0m9 0h0m-103 1h0m9 1h0m67 0h0m2 0h0m11 0h0m36 0h0m-151 1h0m54 0h0m33 0h0m43 0h0m-139 1h0m95 0h0m15 0h0m-206 1h0m143 0h0m163 1h0m-123 1h0m29 0h0m-68 1h0m69 0h0m41 0h0m-139 1h0m99 0h0m-81 1h0m120 0h0m37 0h0m13 0h0m-266 1h0m155 1h0m31 0h0m29 0h0m-118 1h0m60 1h0m-76 1h0m112 0h0m-20 1h0m16 0h0m-89 1h0m23 0h0m72 0h0m20 0h0m-152 1h0m68 0h0m162 0h0m-188 1h0m6 0h0m84 0h0m70 1h0m-84 1h0m-47 1h0m32 0h0m20 0h0m17 0h0m49 0h0m14 1h0m0 0h0m-200 1h0m61 0h0m85 0h0m1 0h0m40 0h0m-291 1h0m1 1h0m130 0h0m5 0h0m91 0h0m11 0h0m-115 1h0m167 0h0m-275 1h0m104 0h0m28 0h0m73 0h0m108 0h0m-213 1h0m49 0h0m4 0h0m24 0h0m3 0h0m23 0h0m-185 1h0m172 0h0m-200 1h0m111 0h0m99 0h0m6 0h0m65 0h0m-180 1h0m56 0h0m12 0h0m-77 1h0m81 0h0m28 0h0m-65 1h0m145 0h0m-120 2h0m17 0h0m27 0h0m4 0h0m-200 1h0m130 0h0m-20 1h0m33 0h0m34 0h0m25 0h0m34 0h0m35 0h0m-276 1h0m56 0h0m65 0h0m29 1h0m4 0h0m56 0h0m-218 1h0m101 0h0m33 0h0m10 1h0m23 0h0m3 0h0m22 0h0m32 0h0m3 0h0m-124 1h0m1 0h0m38 0h0m146 0h0m-177 1h0m34 0h0m9 0h0m10 0h0m137 0h0m-121 1h0m11 0h0m-129 1h0m92 0h0m85 0h0m48 0h0m-217 1h0m115 0h0m-81 1h0m-33 1h0m52 0h0m15 0h0m34 0h0m47 0h0m64 0h0m11 0h0m-197 1h0m67 0h0m-23 1h0m42 0h0m52 0h0m-90 1h0m41 1h0m1 1h0m-43 1h0m165 0h0m-245 1h0m51 0h0m97 0h0m-101 1h0m32 0h0m24 0h0m157 0h0m-219 1h0m79 0h0m-29 1h0m32 0h0m18 0h0m-73 1h0m190 0h0m-218 2h0m109 0h0m-73 1h0m91 0h0m-24 1h0m-177 2h0m125 0h0m-156 1h0m61 1h0m39 1h0m-1 1h0m58 0h0m27 0h0m138 0h0m-212 1h0m8 0h0m106 0h0m-53 1h0m-11 1h0m2 0h0m5 0h0m-37 2h0m85 0h0m-76 1h0m35 0h0m-39 1h0m1 0h0m75 0h0m-79 1h0m45 0h0m-44 1h0m8 0h0m3 0h0m-33 1h0m8 0h0m12 0h0m57 0h0m-182 2h0m105 1h0m68 0h0m-84 1h0m-61 2h0m28 1h0m45 0h0m61 2h0m16 0h0m-82 1h0m18 0h0m11 0h0m80 0h0m63 1h0m-111 1h0m43 0h0m-145 2h0m74 0h0m-132 1h0m112 0h0m-77 1h0m70 0h0m3 0h0m-47 1h0m95 0h0m32 0h0m28 1h0m-36 1h0m-110 1h0m70 0h0m14 0h0m51 0h0m9 1h0m-22 1h0m-46 1h0m59 0h0m-22 1h0m8 0h0m-56 1h0m10 0h0m39 0h0m-123 1h0m9 0h0m129 0h0m3 0h0m3 0h0m-144 1h0m13 0h0m114 0h0m-67 1h0m18 0h0m29 0h0m-36 1h0m47 0h0m4 0h0m32 0h0m-146 1h0m93 0h0m-24 1h0m-4 1h0m83 0h0m-145 1h0m89 0h0m4 1h0m-5 1h0m39 0h0m-136 1h0m57 0h0m45 0h0m47 0h0m-92 1h0m64 0h0m-14 1h0m46 0h0m-154 1h0m146 1h0m4 2h0m51 1h0m-136 1h0m78 0h0m-49 3h0m113 2h0m-211 2h0m160 5h0m-11 1h0m-4 5h0m-4 2h0m3 1h0" fill="none" stroke-linecap="round"/></defs>
<clipPath id="cf0"><rect x="910.6" y="784.6" width="260.5" height="203.4"/></clipPath>
<g clip-path="url(#cf0)">
<rect x="910.6" y="784.6" width="260.5" height="203.4" fill="#77797b"/>
<g filter="url(#bl6)">
<path d="M900.4 792.8 910.1 790.1 924.1 786.3 939.2 783.5 955.8 782.0 973.5 781.6 987.3 783.5 995.2 789.1 999.2 797.1 999.7 805.2 996.6 813.3 990.1 821.6 981.1 828.5 968.7 833.4 953.8 836.9 939.2 839.4 924.6 840.7 910.3 840.9 900.4 840.9Z" fill="#8b8d8f" opacity="1"/>
<path d="M900.4 774.2 919.9 773.7 946.3 773.3 962.4 774.2 959.0 777.5 945.2 782.2 931.4 786.6 919.9 790.3 908.4 793.6 900.4 795.9Z" fill="#5a5c5e" opacity="1"/>
<path d="M1094.4 797.5 1104.7 795.4 1119.4 792.7 1133.2 792.8 1145.2 796.4 1156.4 802.8 1164.2 813.0 1167.9 830.3 1168.2 851.4 1164.2 867.3 1153.9 874.8 1139.2 877.1 1125.4 875.1 1113.3 866.5 1102.1 853.5 1094.4 844.0Z" fill="#a2a4a6" opacity="1"/>
<path d="M981.1 870.4 988.5 864.6 999.0 856.3 1009.0 848.7 1017.1 842.3 1024.7 836.5 1032.3 833.2 1042.1 832.3 1051.8 833.8 1055.6 839.4 1049.0 851.0 1036.3 866.8 1024.5 882.8 1016.1 899.0 1008.5 915.5 1001.2 929.4 994.1 940.6 987.2 949.2 981.1 952.7 975.4 947.5 970.5 937.2 967.1 929.4Z" fill="#929496" opacity="1"/>
<path d="M1125.4 913.9 1136.9 906.3 1152.7 897.0 1164.2 898.4 1169.1 921.1 1169.7 954.6 1164.2 979.1 1147.7 986.3 1125.2 984.6 1109.9 979.1 1109.1 969.0 1115.5 955.0 1120.8 944.9Z" fill="#595b5d" opacity="1"/>
<path d="M993.5 960.4 1009.6 957.9 1032.6 954.4 1055.6 952.7 1078.6 953.7 1101.6 956.5 1117.6 960.4 1127.4 966.5 1130.3 973.8 1117.6 979.1 1076.3 980.5 1019.3 979.8 978.0 979.1Z" fill="#626466" opacity="1"/>
<path d="M900.4 879.7 908.7 877.2 920.6 874.0 931.4 873.5 940.2 877.2 948.0 883.7 953.1 892.2 955.0 903.7 954.3 917.3 951.6 929.4 946.6 939.1 939.6 947.2 931.4 952.7 920.7 954.4 908.8 953.6 900.4 952.7Z" fill="#6d6f71" opacity="1"/>
<path d="M1018.3 797.5 1016.2 804.8 1013.0 815.2 1009.0 825.4 1003.8 834.3 997.7 843.0 991.9 851.8 986.9 861.1 982.2 870.5 978.0 879.7 974.4 888.5 971.3 897.0 968.6 906.1 966.5 916.1 964.7 926.6 962.4 937.2 958.8 948.7 954.6 960.2 951.6 968.2" fill="none" stroke="#25272a" stroke-width="38" opacity="0.6" stroke-linecap="round"/>
</g>
<g filter="url(#bl4)">
<path d="M900.4 847.1 910.3 847.1 924.6 847.0 939.2 845.6 953.8 842.1 968.7 837.4 981.1 833.2 990.1 829.1 996.6 825.5 999.7 825.4 998.2 831.3 993.3 840.6 987.3 848.7 981.2 853.9 974.1 857.8 965.5 861.1 955.0 863.9 943.0 865.9 931.4 867.3 919.7 867.8 908.3 867.6 900.4 867.3Z" fill="#34363a" opacity="0.9"/>
<path d="M1024.5 789.7 1023.4 793.7 1021.8 799.5 1019.9 805.2 1017.8 810.4 1015.4 815.6 1012.9 820.8 1009.8 826.5 1006.6 832.3 1004.3 836.3" fill="none" stroke="#3c3e41" stroke-width="11" opacity="0.9" stroke-linecap="round"/>
<path d="M1007.4 830.1 1003.7 835.9 998.4 844.2 993.5 851.8 989.5 857.4 985.9 862.4 982.6 867.3 979.7 872.5 977.1 877.7 974.9 882.8 973.0 888.0 971.6 893.2 970.2 898.4 968.8 903.5 967.5 908.7 966.3 913.9 965.5 919.1 964.8 924.2 964.0 929.4 963.1 934.6 962.2 939.8 960.9 944.9 959.2 950.1 957.3 955.3 954.7 960.4 951.2 965.6 947.1 970.8 943.0 976.0 938.7 981.7 934.4 987.5 931.4 991.5" fill="none" stroke="#0d0f11" stroke-width="15" opacity="0.95" stroke-linecap="round"/>
<path d="M993.5 851.8 990.5 855.8 986.4 861.6 982.6 867.3 979.7 872.5 977.1 877.7 974.9 882.8 973.0 888.0 971.6 893.2 970.2 898.4 968.8 903.5 967.5 908.7 966.3 913.9 965.3 919.6 964.5 925.4 964.0 929.4" fill="none" stroke="#050607" stroke-width="19" opacity="0.9" stroke-linecap="round"/>
<path d="M900.4 957.3 906.4 953.4 915.0 948.0 923.6 944.9 932.8 945.3 942.0 948.0 946.9 952.7 945.2 961.1 939.2 971.5 931.4 979.1 921.1 981.0 909.0 980.1 900.4 979.1Z" fill="#2b2d30" opacity="0.9"/>
</g>
</g>
<use href="#fdots" x="910.6" y="784.6" stroke="#fff" stroke-width="5.4"/>
<use href="#fdots" x="910.6" y="784.6" stroke="#8a8c8e" stroke-width="2"/>
<rect x="1065.3" y="974.8" width="2.6" height="13.5" fill="#fff"/>
<circle cx="995.8" cy="794.4" r="4.7" fill="#5cb65a"/>
<circle cx="1030.9" cy="823.1" r="7.4" fill="#5cb65a"/>
<circle cx="1069.5" cy="823.6" r="4.3" fill="#5cb65a"/>
<circle cx="1094.5" cy="829.1" r="3.9" fill="#5cb65a"/>
<circle cx="1111.1" cy="815.3" r="3.4" fill="#5cb65a"/>
<circle cx="1111.4" cy="844.4" r="10.6" fill="#5cb65a"/>
<circle cx="1099.5" cy="854.9" r="5.0" fill="#5cb65a"/>
<circle cx="1069.2" cy="855.7" r="6.5" fill="#5cb65a"/>
<circle cx="1068.9" cy="861.9" r="6.5" fill="#5cb65a"/>
<circle cx="1026.5" cy="849.5" r="3.9" fill="#5cb65a"/>
<circle cx="1025.5" cy="853.4" r="3.4" fill="#5cb65a"/>
<circle cx="1019.9" cy="856.8" r="2.8" fill="#5cb65a"/>
<circle cx="1019.6" cy="871.2" r="9.3" fill="#5cb65a"/>
<circle cx="1033.5" cy="871.2" r="8.5" fill="#5cb65a"/>
<circle cx="1045.9" cy="869.7" r="8.5" fill="#5cb65a"/>
<circle cx="1051.4" cy="880.5" r="6.2" fill="#5cb65a"/>
<circle cx="1038.2" cy="875.9" r="5.4" fill="#5cb65a"/>
<circle cx="1064.9" cy="879.3" r="5.9" fill="#5cb65a"/>
<circle cx="1068.1" cy="888.0" r="4.3" fill="#5cb65a"/>
<circle cx="1049.8" cy="889.1" r="5.0" fill="#5cb65a"/>
<circle cx="1033.1" cy="893.7" r="10.1" fill="#5cb65a"/>
<circle cx="1022.7" cy="886.4" r="3.1" fill="#5cb65a"/>
<circle cx="1052.9" cy="898.1" r="3.1" fill="#5cb65a"/>
<circle cx="1023.0" cy="903.8" r="2.8" fill="#5cb65a"/>
<circle cx="1019.9" cy="917.8" r="8.8" fill="#5cb65a"/>
<circle cx="1034.3" cy="920.9" r="3.9" fill="#5cb65a"/>
<circle cx="1039.7" cy="919.0" r="3.1" fill="#5cb65a"/>
<circle cx="1091.0" cy="920.1" r="7.8" fill="#5cb65a"/>
<circle cx="1078.2" cy="925.2" r="3.1" fill="#5cb65a"/>
<circle cx="1031.7" cy="934.8" r="3.4" fill="#5cb65a"/>
<circle cx="1039.3" cy="941.8" r="5.7" fill="#5cb65a"/>
<circle cx="1051.8" cy="948.3" r="5.0" fill="#5cb65a"/>
<rect x="931.0" y="972.2" width="27.7" height="4.1" fill="#fff"/>
<clipPath id="cf1"><rect x="910.6" y="1068.4" width="260.5" height="203.4"/></clipPath>
<g clip-path="url(#cf1)">
<rect x="910.6" y="1068.4" width="260.5" height="203.4" fill="#77797b"/>
<g filter="url(#bl6)">
<path d="M900.4 1076.6 910.1 1073.9 924.1 1070.1 939.2 1067.3 955.8 1065.8 973.5 1065.4 987.3 1067.3 995.2 1072.9 999.2 1080.9 999.7 1089.0 996.6 1097.1 990.1 1105.4 981.1 1112.3 968.7 1117.2 953.8 1120.7 939.2 1123.2 924.6 1124.5 910.3 1124.7 900.4 1124.7Z" fill="#8b8d8f" opacity="1"/>
<path d="M900.4 1058.0 919.9 1057.5 946.3 1057.1 962.4 1058.0 959.0 1061.3 945.2 1066.0 931.4 1070.4 919.9 1074.1 908.4 1077.4 900.4 1079.7Z" fill="#5a5c5e" opacity="1"/>
<path d="M1094.4 1081.3 1104.7 1079.2 1119.4 1076.5 1133.2 1076.6 1145.2 1080.2 1156.4 1086.6 1164.2 1096.8 1167.9 1114.1 1168.2 1135.2 1164.2 1151.1 1153.9 1158.6 1139.2 1160.9 1125.4 1158.9 1113.3 1150.3 1102.1 1137.3 1094.4 1127.8Z" fill="#a2a4a6" opacity="1"/>
<path d="M981.1 1154.2 988.5 1148.4 999.0 1140.1 1009.0 1132.5 1017.1 1126.1 1024.7 1120.3 1032.3 1117.0 1042.1 1116.1 1051.8 1117.6 1055.6 1123.2 1049.0 1134.8 1036.3 1150.6 1024.5 1166.6 1016.1 1182.8 1008.5 1199.3 1001.2 1213.2 994.1 1224.4 987.2 1233.0 981.1 1236.5 975.4 1231.3 970.5 1221.0 967.1 1213.2Z" fill="#929496" opacity="1"/>
<path d="M1125.4 1197.7 1136.9 1190.1 1152.7 1180.8 1164.2 1182.2 1169.1 1204.9 1169.7 1238.4 1164.2 1262.9 1147.7 1270.1 1125.2 1268.4 1109.9 1262.9 1109.1 1252.8 1115.5 1238.8 1120.8 1228.7Z" fill="#595b5d" opacity="1"/>
<path d="M993.5 1244.2 1009.6 1241.7 1032.6 1238.2 1055.6 1236.5 1078.6 1237.5 1101.6 1240.3 1117.6 1244.2 1127.4 1250.3 1130.3 1257.6 1117.6 1262.9 1076.3 1264.3 1019.3 1263.6 978.0 1262.9Z" fill="#626466" opacity="1"/>
<path d="M900.4 1163.5 908.7 1161.0 920.6 1157.8 931.4 1157.3 940.2 1161.0 948.0 1167.5 953.1 1176.0 955.0 1187.5 954.3 1201.1 951.6 1213.2 946.6 1222.9 939.6 1231.0 931.4 1236.5 920.7 1238.2 908.8 1237.4 900.4 1236.5Z" fill="#6d6f71" opacity="1"/>
<path d="M1018.3 1081.3 1016.2 1088.6 1013.0 1099.0 1009.0 1109.2 1003.8 1118.1 997.7 1126.8 991.9 1135.6 986.9 1144.9 982.2 1154.3 978.0 1163.5 974.4 1172.3 971.3 1180.8 968.6 1189.9 966.5 1199.9 964.7 1210.4 962.4 1221.0 958.8 1232.5 954.6 1244.0 951.6 1252.0" fill="none" stroke="#25272a" stroke-width="38" opacity="0.6" stroke-linecap="round"/>
</g>
<g filter="url(#bl4)">
<path d="M900.4 1130.9 910.3 1130.9 924.6 1130.8 939.2 1129.4 953.8 1125.9 968.7 1121.2 981.1 1117.0 990.1 1112.9 996.6 1109.3 999.7 1109.2 998.2 1115.1 993.3 1124.4 987.3 1132.5 981.2 1137.7 974.1 1141.6 965.5 1144.9 955.0 1147.7 943.0 1149.7 931.4 1151.1 919.7 1151.6 908.3 1151.4 900.4 1151.1Z" fill="#34363a" opacity="0.9"/>
<path d="M1024.5 1073.5 1023.4 1077.5 1021.8 1083.3 1019.9 1089.0 1017.8 1094.2 1015.4 1099.4 1012.9 1104.6 1009.8 1110.3 1006.6 1116.1 1004.3 1120.1" fill="none" stroke="#3c3e41" stroke-width="11" opacity="0.9" stroke-linecap="round"/>
<path d="M1007.4 1113.9 1003.7 1119.7 998.4 1128.0 993.5 1135.6 989.5 1141.2 985.9 1146.2 982.6 1151.1 979.7 1156.3 977.1 1161.5 974.9 1166.6 973.0 1171.8 971.6 1177.0 970.2 1182.2 968.8 1187.3 967.5 1192.5 966.3 1197.7 965.5 1202.9 964.8 1208.0 964.0 1213.2 963.1 1218.4 962.2 1223.6 960.9 1228.7 959.2 1233.9 957.3 1239.1 954.7 1244.2 951.2 1249.4 947.1 1254.6 943.0 1259.8 938.7 1265.5 934.4 1271.3 931.4 1275.3" fill="none" stroke="#0d0f11" stroke-width="15" opacity="0.95" stroke-linecap="round"/>
<path d="M993.5 1135.6 990.5 1139.6 986.4 1145.4 982.6 1151.1 979.7 1156.3 977.1 1161.5 974.9 1166.6 973.0 1171.8 971.6 1177.0 970.2 1182.2 968.8 1187.3 967.5 1192.5 966.3 1197.7 965.3 1203.4 964.5 1209.2 964.0 1213.2" fill="none" stroke="#050607" stroke-width="19" opacity="0.9" stroke-linecap="round"/>
<path d="M900.4 1241.1 906.4 1237.2 915.0 1231.8 923.6 1228.7 932.8 1229.1 942.0 1231.8 946.9 1236.5 945.2 1244.9 939.2 1255.3 931.4 1262.9 921.1 1264.8 909.0 1263.9 900.4 1262.9Z" fill="#2b2d30" opacity="0.9"/>
</g>
</g>
<use href="#fdots" x="910.6" y="1068.4" stroke="#fff" stroke-width="5.4"/>
<use href="#fdots" x="910.6" y="1068.4" stroke="#8a8c8e" stroke-width="2"/>
<rect x="1065.3" y="1258.6" width="2.6" height="13.5" fill="#fff"/>
<circle cx="1056.6" cy="1076.3" r="5.4" fill="#b05596"/>
<circle cx="1032.3" cy="1097.1" r="7.3" fill="#b05596"/>
<circle cx="1050.9" cy="1096.8" r="8.5" fill="#b05596"/>
<circle cx="1055.6" cy="1107.7" r="8.5" fill="#b05596"/>
<circle cx="1058.7" cy="1117.0" r="9.3" fill="#b05596"/>
<circle cx="1054.0" cy="1124.7" r="7.8" fill="#b05596"/>
<circle cx="1039.3" cy="1127.4" r="5.1" fill="#b05596"/>
<circle cx="1051.7" cy="1133.3" r="3.4" fill="#b05596"/>
<circle cx="1111.4" cy="1094.8" r="3.4" fill="#b05596"/>
<circle cx="1110.7" cy="1127.8" r="7.8" fill="#b05596"/>
<circle cx="1117.6" cy="1128.6" r="5.4" fill="#b05596"/>
<circle cx="1111.4" cy="1137.9" r="3.9" fill="#b05596"/>
<circle cx="1070.0" cy="1138.7" r="5.9" fill="#b05596"/>
<circle cx="995.8" cy="1142.9" r="4.3" fill="#b05596"/>
<circle cx="1018.3" cy="1144.9" r="10.1" fill="#b05596"/>
<circle cx="1027.6" cy="1141.8" r="6.2" fill="#b05596"/>
<circle cx="1040.8" cy="1142.6" r="6.2" fill="#b05596"/>
<circle cx="1049.4" cy="1149.6" r="7.8" fill="#b05596"/>
<circle cx="1032.3" cy="1151.1" r="9.3" fill="#b05596"/>
<circle cx="1044.7" cy="1158.9" r="10.9" fill="#b05596"/>
<circle cx="1052.5" cy="1158.9" r="7.0" fill="#b05596"/>
<circle cx="1026.1" cy="1158.9" r="4.7" fill="#b05596"/>
<circle cx="1088.2" cy="1152.7" r="5.4" fill="#b05596"/>
<circle cx="1082.4" cy="1156.6" r="3.9" fill="#b05596"/>
<circle cx="1065.2" cy="1163.5" r="5.9" fill="#b05596"/>
<circle cx="1069.5" cy="1173.6" r="8.1" fill="#b05596"/>
<circle cx="1000.5" cy="1167.4" r="5.9" fill="#b05596"/>
<circle cx="1132.7" cy="1171.8" r="10.4" fill="#b05596"/>
<circle cx="1035.4" cy="1176.0" r="12.4" fill="#b05596"/>
<circle cx="1049.4" cy="1172.9" r="6.2" fill="#b05596"/>
<circle cx="1018.3" cy="1189.9" r="10.6" fill="#b05596"/>
<circle cx="1032.3" cy="1189.9" r="9.3" fill="#b05596"/>
<circle cx="1046.3" cy="1189.9" r="9.3" fill="#b05596"/>
<circle cx="1054.0" cy="1186.8" r="7.0" fill="#b05596"/>
<circle cx="1061.0" cy="1198.8" r="6.2" fill="#b05596"/>
<circle cx="1014.4" cy="1201.6" r="3.9" fill="#b05596"/>
<circle cx="1043.1" cy="1202.3" r="9.3" fill="#b05596"/>
<circle cx="1049.4" cy="1207.0" r="7.8" fill="#b05596"/>
<circle cx="1001.7" cy="1211.7" r="9.3" fill="#b05596"/>
<circle cx="1040.0" cy="1216.3" r="7.4" fill="#b05596"/>
<circle cx="1028.4" cy="1213.2" r="3.4" fill="#b05596"/>
<circle cx="1029.2" cy="1221.0" r="4.7" fill="#b05596"/>
<circle cx="1039.3" cy="1225.6" r="6.2" fill="#b05596"/>
<circle cx="1023.0" cy="1232.6" r="10.9" fill="#b05596"/>
<circle cx="1026.9" cy="1260.2" r="5.4" fill="#b05596"/>
<rect x="931.0" y="1256.0" width="27.7" height="4.1" fill="#fff"/>
<clipPath id="cf2"><rect x="910.6" y="1353.4" width="260.5" height="203.4"/></clipPath>
<g clip-path="url(#cf2)">
<rect x="910.6" y="1353.4" width="260.5" height="203.4" fill="#77797b"/>
<g filter="url(#bl6)">
<path d="M900.4 1361.6 910.1 1358.9 924.1 1355.1 939.2 1352.3 955.8 1350.8 973.5 1350.4 987.3 1352.3 995.2 1357.9 999.2 1365.9 999.7 1374.0 996.6 1382.1 990.1 1390.4 981.1 1397.3 968.7 1402.2 953.8 1405.7 939.2 1408.2 924.6 1409.5 910.3 1409.7 900.4 1409.7Z" fill="#8b8d8f" opacity="1"/>
<path d="M900.4 1343.0 919.9 1342.5 946.3 1342.1 962.4 1343.0 959.0 1346.3 945.2 1351.0 931.4 1355.4 919.9 1359.1 908.4 1362.4 900.4 1364.7Z" fill="#5a5c5e" opacity="1"/>
<path d="M1094.4 1366.3 1104.7 1364.2 1119.4 1361.5 1133.2 1361.6 1145.2 1365.2 1156.4 1371.6 1164.2 1381.8 1167.9 1399.1 1168.2 1420.2 1164.2 1436.1 1153.9 1443.6 1139.2 1445.9 1125.4 1443.9 1113.3 1435.3 1102.1 1422.3 1094.4 1412.8Z" fill="#a2a4a6" opacity="1"/>
<path d="M981.1 1439.2 988.5 1433.4 999.0 1425.1 1009.0 1417.5 1017.1 1411.1 1024.7 1405.3 1032.3 1402.0 1042.1 1401.1 1051.8 1402.6 1055.6 1408.2 1049.0 1419.8 1036.3 1435.6 1024.5 1451.6 1016.1 1467.8 1008.5 1484.3 1001.2 1498.2 994.1 1509.4 987.2 1518.0 981.1 1521.5 975.4 1516.3 970.5 1506.0 967.1 1498.2Z" fill="#929496" opacity="1"/>
<path d="M1125.4 1482.7 1136.9 1475.1 1152.7 1465.8 1164.2 1467.2 1169.1 1489.9 1169.7 1523.4 1164.2 1547.9 1147.7 1555.1 1125.2 1553.4 1109.9 1547.9 1109.1 1537.8 1115.5 1523.8 1120.8 1513.7Z" fill="#595b5d" opacity="1"/>
<path d="M993.5 1529.2 1009.6 1526.7 1032.6 1523.2 1055.6 1521.5 1078.6 1522.5 1101.6 1525.3 1117.6 1529.2 1127.4 1535.3 1130.3 1542.6 1117.6 1547.9 1076.3 1549.3 1019.3 1548.6 978.0 1547.9Z" fill="#626466" opacity="1"/>
<path d="M900.4 1448.5 908.7 1446.0 920.6 1442.8 931.4 1442.3 940.2 1446.0 948.0 1452.5 953.1 1461.0 955.0 1472.5 954.3 1486.1 951.6 1498.2 946.6 1507.9 939.6 1516.0 931.4 1521.5 920.7 1523.2 908.8 1522.4 900.4 1521.5Z" fill="#6d6f71" opacity="1"/>
<path d="M1018.3 1366.3 1016.2 1373.6 1013.0 1384.0 1009.0 1394.2 1003.8 1403.1 997.7 1411.8 991.9 1420.6 986.9 1429.9 982.2 1439.3 978.0 1448.5 974.4 1457.3 971.3 1465.8 968.6 1474.9 966.5 1484.9 964.7 1495.4 962.4 1506.0 958.8 1517.5 954.6 1529.0 951.6 1537.0" fill="none" stroke="#25272a" stroke-width="38" opacity="0.6" stroke-linecap="round"/>
</g>
<g filter="url(#bl4)">
<path d="M900.4 1415.9 910.3 1415.9 924.6 1415.8 939.2 1414.4 953.8 1410.9 968.7 1406.2 981.1 1402.0 990.1 1397.9 996.6 1394.3 999.7 1394.2 998.2 1400.1 993.3 1409.4 987.3 1417.5 981.2 1422.7 974.1 1426.6 965.5 1429.9 955.0 1432.7 943.0 1434.7 931.4 1436.1 919.7 1436.6 908.3 1436.4 900.4 1436.1Z" fill="#34363a" opacity="0.9"/>
<path d="M1024.5 1358.5 1023.4 1362.5 1021.8 1368.3 1019.9 1374.0 1017.8 1379.2 1015.4 1384.4 1012.9 1389.6 1009.8 1395.3 1006.6 1401.1 1004.3 1405.1" fill="none" stroke="#3c3e41" stroke-width="11" opacity="0.9" stroke-linecap="round"/>
<path d="M1007.4 1398.9 1003.7 1404.7 998.4 1413.0 993.5 1420.6 989.5 1426.2 985.9 1431.2 982.6 1436.1 979.7 1441.3 977.1 1446.5 974.9 1451.6 973.0 1456.8 971.6 1462.0 970.2 1467.2 968.8 1472.3 967.5 1477.5 966.3 1482.7 965.5 1487.9 964.8 1493.0 964.0 1498.2 963.1 1503.4 962.2 1508.6 960.9 1513.7 959.2 1518.9 957.3 1524.1 954.7 1529.2 951.2 1534.4 947.1 1539.6 943.0 1544.8 938.7 1550.5 934.4 1556.3 931.4 1560.3" fill="none" stroke="#0d0f11" stroke-width="15" opacity="0.95" stroke-linecap="round"/>
<path d="M993.5 1420.6 990.5 1424.6 986.4 1430.4 982.6 1436.1 979.7 1441.3 977.1 1446.5 974.9 1451.6 973.0 1456.8 971.6 1462.0 970.2 1467.2 968.8 1472.3 967.5 1477.5 966.3 1482.7 965.3 1488.4 964.5 1494.2 964.0 1498.2" fill="none" stroke="#050607" stroke-width="19" opacity="0.9" stroke-linecap="round"/>
<path d="M900.4 1526.1 906.4 1522.2 915.0 1516.8 923.6 1513.7 932.8 1514.1 942.0 1516.8 946.9 1521.5 945.2 1529.9 939.2 1540.3 931.4 1547.9 921.1 1549.8 909.0 1548.9 900.4 1547.9Z" fill="#2b2d30" opacity="0.9"/>
</g>
</g>
<use href="#fdots" x="910.6" y="1353.4" stroke="#fff" stroke-width="5.4"/>
<use href="#fdots" x="910.6" y="1353.4" stroke="#8a8c8e" stroke-width="2"/>
<rect x="1065.3" y="1543.6" width="2.6" height="13.5" fill="#fff"/>
<circle cx="997.5" cy="1406.6" r="8.8" fill="#e9e634"/>
<circle cx="997.5" cy="1415.2" r="5.4" fill="#e9e634"/>
<circle cx="1014.9" cy="1402.8" r="3.9" fill="#e9e634"/>
<circle cx="1025.5" cy="1405.1" r="5.4" fill="#e9e634"/>
<circle cx="1040.5" cy="1381.5" r="5.4" fill="#e9e634"/>
<circle cx="1042.5" cy="1375.3" r="2.3" fill="#e9e634"/>
<circle cx="1050.9" cy="1382.6" r="2.8" fill="#e9e634"/>
<circle cx="1052.9" cy="1407.9" r="4.7" fill="#e9e634"/>
<circle cx="1062.2" cy="1403.8" r="3.1" fill="#e9e634"/>
<circle cx="1072.0" cy="1409.7" r="3.4" fill="#e9e634"/>
<circle cx="1051.4" cy="1399.7" r="2.3" fill="#e9e634"/>
<circle cx="1031.2" cy="1395.8" r="2.2" fill="#e9e634"/>
<circle cx="1072.8" cy="1386.5" r="1.9" fill="#e9e634"/>
<circle cx="1111.1" cy="1359.3" r="3.1" fill="#e9e634"/>
<circle cx="1085.8" cy="1364.3" r="1.6" fill="#e9e634"/>
<circle cx="996.3" cy="1359.3" r="1.2" fill="#e9e634"/>
<circle cx="1028.1" cy="1420.6" r="10.9" fill="#e9e634"/>
<circle cx="1049.0" cy="1419.8" r="5.9" fill="#e9e634"/>
<circle cx="1031.2" cy="1434.6" r="10.9" fill="#e9e634"/>
<circle cx="1042.8" cy="1429.9" r="4.7" fill="#e9e634"/>
<circle cx="993.9" cy="1431.5" r="5.4" fill="#e9e634"/>
<circle cx="997.1" cy="1436.1" r="7.0" fill="#e9e634"/>
<circle cx="991.6" cy="1443.9" r="8.5" fill="#e9e634"/>
<circle cx="983.9" cy="1457.9" r="9.3" fill="#e9e634"/>
<circle cx="996.3" cy="1457.9" r="10.9" fill="#e9e634"/>
<circle cx="1016.5" cy="1446.2" r="4.7" fill="#e9e634"/>
<circle cx="1018.0" cy="1457.9" r="7.8" fill="#e9e634"/>
<circle cx="1028.9" cy="1457.9" r="9.3" fill="#e9e634"/>
<circle cx="1035.9" cy="1454.8" r="6.2" fill="#e9e634"/>
<circle cx="1052.9" cy="1462.5" r="12.4" fill="#e9e634"/>
<circle cx="1061.5" cy="1464.1" r="9.3" fill="#e9e634"/>
<circle cx="1050.6" cy="1439.2" r="7.0" fill="#e9e634"/>
<circle cx="1044.4" cy="1443.9" r="3.1" fill="#e9e634"/>
<circle cx="1066.1" cy="1448.5" r="4.7" fill="#e9e634"/>
<circle cx="1073.9" cy="1439.2" r="3.4" fill="#e9e634"/>
<circle cx="1064.9" cy="1440.0" r="3.1" fill="#e9e634"/>
<circle cx="1081.6" cy="1445.4" r="3.1" fill="#e9e634"/>
<circle cx="1091.0" cy="1431.2" r="7.8" fill="#e9e634"/>
<circle cx="1139.5" cy="1430.4" r="3.4" fill="#e9e634"/>
<circle cx="1117.8" cy="1427.9" r="1.6" fill="#e9e634"/>
<circle cx="1131.3" cy="1454.0" r="2.3" fill="#e9e634"/>
<circle cx="1129.4" cy="1465.6" r="2.3" fill="#e9e634"/>
<circle cx="1129.0" cy="1469.0" r="1.6" fill="#e9e634"/>
<circle cx="1127.1" cy="1483.5" r="3.4" fill="#e9e634"/>
<circle cx="1090.6" cy="1484.6" r="1.9" fill="#e9e634"/>
<circle cx="1081.6" cy="1501.3" r="3.9" fill="#e9e634"/>
<circle cx="1075.4" cy="1467.2" r="1.9" fill="#e9e634"/>
<circle cx="1078.5" cy="1463.3" r="1.6" fill="#e9e634"/>
<circle cx="1070.0" cy="1480.4" r="2.8" fill="#e9e634"/>
<circle cx="1075.4" cy="1485.0" r="1.6" fill="#e9e634"/>
<circle cx="1021.1" cy="1474.9" r="9.3" fill="#e9e634"/>
<circle cx="1035.1" cy="1473.4" r="7.8" fill="#e9e634"/>
<circle cx="1049.0" cy="1478.0" r="9.3" fill="#e9e634"/>
<circle cx="1027.3" cy="1485.8" r="7.8" fill="#e9e634"/>
<circle cx="1039.7" cy="1490.4" r="7.0" fill="#e9e634"/>
<circle cx="1049.0" cy="1498.2" r="7.8" fill="#e9e634"/>
<circle cx="1052.9" cy="1509.1" r="5.4" fill="#e9e634"/>
<circle cx="993.9" cy="1474.9" r="3.9" fill="#e9e634"/>
<circle cx="996.3" cy="1482.7" r="2.3" fill="#e9e634"/>
<circle cx="997.8" cy="1496.7" r="8.5" fill="#e9e634"/>
<circle cx="987.0" cy="1499.8" r="4.7" fill="#e9e634"/>
<circle cx="980.8" cy="1505.2" r="3.4" fill="#e9e634"/>
<circle cx="1001.7" cy="1512.2" r="9.6" fill="#e9e634"/>
<circle cx="1021.9" cy="1501.3" r="7.8" fill="#e9e634"/>
<circle cx="1030.4" cy="1509.8" r="3.4" fill="#e9e634"/>
<circle cx="1039.3" cy="1510.6" r="3.4" fill="#e9e634"/>
<circle cx="1022.7" cy="1516.8" r="4.3" fill="#e9e634"/>
<circle cx="1032.7" cy="1515.6" r="1.6" fill="#e9e634"/>
<circle cx="969.6" cy="1522.0" r="3.4" fill="#e9e634"/>
<circle cx="968.3" cy="1480.7" r="1.6" fill="#e9e634"/>
<circle cx="1000.2" cy="1531.6" r="6.5" fill="#e9e634"/>
<circle cx="999.4" cy="1540.1" r="1.9" fill="#e9e634"/>
<circle cx="1025.0" cy="1529.7" r="4.7" fill="#e9e634"/>
<circle cx="1049.0" cy="1543.7" r="3.9" fill="#e9e634"/>
<circle cx="1062.2" cy="1541.2" r="3.9" fill="#e9e634"/>
<circle cx="1066.1" cy="1544.3" r="4.7" fill="#e9e634"/>
<circle cx="1073.9" cy="1537.8" r="1.9" fill="#e9e634"/>
<circle cx="1099.2" cy="1545.9" r="8.8" fill="#e9e634"/>
<circle cx="983.9" cy="1548.2" r="2.6" fill="#e9e634"/>
<circle cx="985.1" cy="1552.8" r="1.9" fill="#e9e634"/>
<circle cx="998.3" cy="1555.9" r="2.2" fill="#e9e634"/>
<circle cx="1059.9" cy="1525.4" r="1.9" fill="#e9e634"/>
<rect x="931.0" y="1541.0" width="27.7" height="4.1" fill="#fff"/>
<text x="916.3" y="962.3" font-size="23.5" fill="#fff">200 μm</text>
<rect x="1358.0" y="928.3" width="31.0" height="32.4" fill="#5cb65a" stroke="#231f20" stroke-width="1.7"/>
<rect x="1396.5" y="876.9" width="30.5" height="83.8" fill="#5cb65a" stroke="#231f20" stroke-width="1.7"/>
<rect x="1434.4" y="863.7" width="30.6" height="97.0" fill="#5cb65a" stroke="#231f20" stroke-width="1.7"/>
<rect x="1472.9" y="850.1" width="30.7" height="110.6" fill="#5cb65a" stroke="#231f20" stroke-width="1.7"/>
<rect x="1510.8" y="851.7" width="31.2" height="109.0" fill="#5cb65a" stroke="#231f20" stroke-width="1.7"/>
<rect x="1548.8" y="897.0" width="31.2" height="63.7" fill="#5cb65a" stroke="#231f20" stroke-width="1.7"/>
<line x1="1335.4" y1="804.0" x2="1335.4" y2="961.8" stroke="#231f20" stroke-width="2.2"/>
<line x1="1330.4" y1="960.7" x2="1602.6" y2="960.7" stroke="#231f20" stroke-width="2.2"/>
<line x1="1411.8" y1="960.7" x2="1411.8" y2="966.7" stroke="#231f20" stroke-width="2.2"/>
<text x="1411.8" y="986.7" font-size="23.5" text-anchor="middle" fill="#231f20">1.7</text>
<line x1="1507.4" y1="960.7" x2="1507.4" y2="966.7" stroke="#231f20" stroke-width="2.2"/>
<text x="1507.4" y="986.7" font-size="23.5" text-anchor="middle" fill="#231f20">1.2</text>
<line x1="1602.6" y1="960.7" x2="1602.6" y2="966.7" stroke="#231f20" stroke-width="2.2"/>
<text x="1602.6" y="986.7" font-size="23.5" text-anchor="middle" fill="#231f20">0.7</text>
<line x1="1330.4" y1="821.0" x2="1335.4" y2="821.0" stroke="#231f20" stroke-width="2.2"/>
<text x="1326.4" y="829.5" font-size="23.5" text-anchor="end" fill="#231f20">0.1</text>
<line x1="1330.4" y1="891.0" x2="1335.4" y2="891.0" stroke="#231f20" stroke-width="2.2"/>
<text x="1326.4" y="899.5" font-size="23.5" text-anchor="end" fill="#231f20">0.05</text>
<line x1="1330.4" y1="960.7" x2="1335.4" y2="960.7" stroke="#231f20" stroke-width="2.2"/>
<text x="1326.4" y="979.2" font-size="23.5" text-anchor="end" fill="#231f20">0</text>
<text x="1270.7" y="884.4" font-size="23.5" text-anchor="middle" fill="#231f20" transform="rotate(-90 1270.7 884.4)">Frac. of neurons</text>
<text x="1472.0" y="1012.3" font-size="23.8" text-anchor="middle" fill="#231f20">Lateral from midline (mm)</text>
<rect x="1742.6" y="903.6" width="35.8" height="57.1" fill="#5cb65a" stroke="#231f20" stroke-width="1.7"/>
<rect x="1787.0" y="864.8" width="35.8" height="95.9" fill="#5cb65a" stroke="#231f20" stroke-width="1.7"/>
<rect x="1831.4" y="820.6" width="35.8" height="140.1" fill="#5cb65a" stroke="#231f20" stroke-width="1.7"/>
<line x1="1715.3" y1="805.0" x2="1715.3" y2="961.8" stroke="#231f20" stroke-width="2.2"/>
<line x1="1710.3" y1="960.7" x2="1982.0" y2="960.7" stroke="#231f20" stroke-width="2.2"/>
<line x1="1715.3" y1="960.7" x2="1715.3" y2="966.7" stroke="#231f20" stroke-width="2.2"/>
<text x="1715.3" y="986.7" font-size="23.5" text-anchor="middle" fill="#231f20">3</text>
<line x1="1804.0" y1="960.7" x2="1804.0" y2="966.7" stroke="#231f20" stroke-width="2.2"/>
<text x="1804.0" y="986.7" font-size="23.5" text-anchor="middle" fill="#231f20">3.4</text>
<line x1="1892.8" y1="960.7" x2="1892.8" y2="966.7" stroke="#231f20" stroke-width="2.2"/>
<text x="1892.8" y="986.7" font-size="23.5" text-anchor="middle" fill="#231f20">3.8</text>
<line x1="1982.0" y1="960.7" x2="1982.0" y2="966.7" stroke="#231f20" stroke-width="2.2"/>
<text x="1982.0" y="986.7" font-size="23.5" text-anchor="middle" fill="#231f20">4.2</text>
<line x1="1710.3" y1="805.0" x2="1715.3" y2="805.0" stroke="#231f20" stroke-width="2.2"/>
<text x="1706.3" y="813.5" font-size="23.5" text-anchor="end" fill="#231f20">0.1</text>
<line x1="1710.3" y1="882.5" x2="1715.3" y2="882.5" stroke="#231f20" stroke-width="2.2"/>
<text x="1706.3" y="891.0" font-size="23.5" text-anchor="end" fill="#231f20">0.05</text>
<line x1="1710.3" y1="960.7" x2="1715.3" y2="960.7" stroke="#231f20" stroke-width="2.2"/>
<text x="1706.3" y="969.2" font-size="23.5" text-anchor="end" fill="#231f20">0</text>
<text x="-100.0" y="884.9" font-size="23.5" text-anchor="middle" fill="#231f20" transform="rotate(-90 -100.0 884.9)"></text>
<text x="1848.0" y="1012.3" font-size="23.8" text-anchor="middle" fill="#231f20">Posterior from bregma (mm)</text>
<rect x="1358.0" y="1193.2" width="31.0" height="55.1" fill="#b05596" stroke="#231f20" stroke-width="1.7"/>
<rect x="1396.5" y="1172.3" width="30.5" height="76.0" fill="#b05596" stroke="#231f20" stroke-width="1.7"/>
<rect x="1434.4" y="1134.3" width="30.6" height="114.0" fill="#b05596" stroke="#231f20" stroke-width="1.7"/>
<rect x="1472.9" y="1126.1" width="30.7" height="122.2" fill="#b05596" stroke="#231f20" stroke-width="1.7"/>
<rect x="1510.8" y="1205.2" width="31.2" height="43.1" fill="#b05596" stroke="#231f20" stroke-width="1.7"/>
<rect x="1548.8" y="1212.0" width="31.2" height="36.3" fill="#b05596" stroke="#231f20" stroke-width="1.7"/>
<line x1="1335.4" y1="1091.6" x2="1335.4" y2="1249.4" stroke="#231f20" stroke-width="2.2"/>
<line x1="1330.4" y1="1248.3" x2="1602.6" y2="1248.3" stroke="#231f20" stroke-width="2.2"/>
<line x1="1411.8" y1="1248.3" x2="1411.8" y2="1254.3" stroke="#231f20" stroke-width="2.2"/>
<text x="1411.8" y="1274.3" font-size="23.5" text-anchor="middle" fill="#231f20">1.7</text>
<line x1="1507.4" y1="1248.3" x2="1507.4" y2="1254.3" stroke="#231f20" stroke-width="2.2"/>
<text x="1507.4" y="1274.3" font-size="23.5" text-anchor="middle" fill="#231f20">1.2</text>
<line x1="1602.6" y1="1248.3" x2="1602.6" y2="1254.3" stroke="#231f20" stroke-width="2.2"/>
<text x="1602.6" y="1274.3" font-size="23.5" text-anchor="middle" fill="#231f20">0.7</text>
<line x1="1330.4" y1="1091.6" x2="1335.4" y2="1091.6" stroke="#231f20" stroke-width="2.2"/>
<text x="1326.4" y="1100.1" font-size="23.5" text-anchor="end" fill="#231f20">0.2</text>
<line x1="1330.4" y1="1169.3" x2="1335.4" y2="1169.3" stroke="#231f20" stroke-width="2.2"/>
<text x="1326.4" y="1177.8" font-size="23.5" text-anchor="end" fill="#231f20">0.1</text>
<line x1="1330.4" y1="1248.3" x2="1335.4" y2="1248.3" stroke="#231f20" stroke-width="2.2"/>
<text x="1326.4" y="1256.8" font-size="23.5" text-anchor="end" fill="#231f20">0</text>
<text x="1273.7" y="1171.9" font-size="23.5" text-anchor="middle" fill="#231f20" transform="rotate(-90 1273.7 1171.9)">Frac. of neurons</text>
<text x="1472.0" y="1299.9" font-size="23.8" text-anchor="middle" fill="#231f20">Lateral from midline (mm)</text>
<rect x="1742.6" y="1181.7" width="35.8" height="66.6" fill="#b05596" stroke="#231f20" stroke-width="1.7"/>
<rect x="1787.0" y="1197.5" width="35.8" height="50.8" fill="#b05596" stroke="#231f20" stroke-width="1.7"/>
<rect x="1831.4" y="1190.8" width="35.8" height="57.5" fill="#b05596" stroke="#231f20" stroke-width="1.7"/>
<rect x="1875.8" y="1108.8" width="35.8" height="139.5" fill="#b05596" stroke="#231f20" stroke-width="1.7"/>
<line x1="1715.3" y1="1091.6" x2="1715.3" y2="1249.4" stroke="#231f20" stroke-width="2.2"/>
<line x1="1710.3" y1="1248.3" x2="1982.0" y2="1248.3" stroke="#231f20" stroke-width="2.2"/>
<line x1="1715.3" y1="1248.3" x2="1715.3" y2="1254.3" stroke="#231f20" stroke-width="2.2"/>
<text x="1715.3" y="1274.3" font-size="23.5" text-anchor="middle" fill="#231f20">3</text>
<line x1="1804.0" y1="1248.3" x2="1804.0" y2="1254.3" stroke="#231f20" stroke-width="2.2"/>
<text x="1804.0" y="1274.3" font-size="23.5" text-anchor="middle" fill="#231f20">3.4</text>
<line x1="1892.8" y1="1248.3" x2="1892.8" y2="1254.3" stroke="#231f20" stroke-width="2.2"/>
<text x="1892.8" y="1274.3" font-size="23.5" text-anchor="middle" fill="#231f20">3.8</text>
<line x1="1982.0" y1="1248.3" x2="1982.0" y2="1254.3" stroke="#231f20" stroke-width="2.2"/>
<text x="1982.0" y="1274.3" font-size="23.5" text-anchor="middle" fill="#231f20">4.2</text>
<line x1="1710.3" y1="1091.6" x2="1715.3" y2="1091.6" stroke="#231f20" stroke-width="2.2"/>
<text x="1706.3" y="1100.1" font-size="23.5" text-anchor="end" fill="#231f20">0.3</text>
<line x1="1710.3" y1="1143.7" x2="1715.3" y2="1143.7" stroke="#231f20" stroke-width="2.2"/>
<text x="1706.3" y="1152.2" font-size="23.5" text-anchor="end" fill="#231f20">0.2</text>
<line x1="1710.3" y1="1195.8" x2="1715.3" y2="1195.8" stroke="#231f20" stroke-width="2.2"/>
<text x="1706.3" y="1204.3" font-size="23.5" text-anchor="end" fill="#231f20">0.1</text>
<line x1="1710.3" y1="1248.3" x2="1715.3" y2="1248.3" stroke="#231f20" stroke-width="2.2"/>
<text x="1706.3" y="1256.8" font-size="23.5" text-anchor="end" fill="#231f20">0</text>
<text x="-100.0" y="1171.9" font-size="23.5" text-anchor="middle" fill="#231f20" transform="rotate(-90 -100.0 1171.9)"></text>
<text x="1848.0" y="1299.9" font-size="23.8" text-anchor="middle" fill="#231f20">Posterior from bregma (mm)</text>
<rect x="1358.0" y="1369.9" width="31.0" height="150.3" fill="#e9e634" stroke="#231f20" stroke-width="1.7"/>
<rect x="1396.5" y="1387.5" width="30.5" height="132.7" fill="#e9e634" stroke="#231f20" stroke-width="1.7"/>
<rect x="1434.4" y="1399.8" width="30.6" height="120.4" fill="#e9e634" stroke="#231f20" stroke-width="1.7"/>
<rect x="1472.9" y="1418.6" width="30.7" height="101.6" fill="#e9e634" stroke="#231f20" stroke-width="1.7"/>
<rect x="1510.8" y="1453.2" width="31.2" height="67.0" fill="#e9e634" stroke="#231f20" stroke-width="1.7"/>
<rect x="1548.8" y="1447.7" width="31.2" height="72.5" fill="#e9e634" stroke="#231f20" stroke-width="1.7"/>
<line x1="1335.4" y1="1363.1" x2="1335.4" y2="1521.3" stroke="#231f20" stroke-width="2.2"/>
<line x1="1330.4" y1="1520.2" x2="1602.6" y2="1520.2" stroke="#231f20" stroke-width="2.2"/>
<line x1="1411.8" y1="1520.2" x2="1411.8" y2="1526.2" stroke="#231f20" stroke-width="2.2"/>
<text x="1411.8" y="1546.2" font-size="23.5" text-anchor="middle" fill="#231f20">1.7</text>
<line x1="1507.4" y1="1520.2" x2="1507.4" y2="1526.2" stroke="#231f20" stroke-width="2.2"/>
<text x="1507.4" y="1546.2" font-size="23.5" text-anchor="middle" fill="#231f20">1.2</text>
<line x1="1602.6" y1="1520.2" x2="1602.6" y2="1526.2" stroke="#231f20" stroke-width="2.2"/>
<text x="1602.6" y="1546.2" font-size="23.5" text-anchor="middle" fill="#231f20">0.7</text>
<line x1="1330.4" y1="1363.1" x2="1335.4" y2="1363.1" stroke="#231f20" stroke-width="2.2"/>
<text x="1326.4" y="1371.6" font-size="23.5" text-anchor="end" fill="#231f20">0.6</text>
<line x1="1330.4" y1="1415.6" x2="1335.4" y2="1415.6" stroke="#231f20" stroke-width="2.2"/>
<text x="1326.4" y="1424.1" font-size="23.5" text-anchor="end" fill="#231f20">0.4</text>
<line x1="1330.4" y1="1468.0" x2="1335.4" y2="1468.0" stroke="#231f20" stroke-width="2.2"/>
<text x="1326.4" y="1476.5" font-size="23.5" text-anchor="end" fill="#231f20">0.2</text>
<line x1="1330.4" y1="1520.2" x2="1335.4" y2="1520.2" stroke="#231f20" stroke-width="2.2"/>
<text x="1326.4" y="1528.7" font-size="23.5" text-anchor="end" fill="#231f20">0</text>
<text x="1276.7" y="1443.7" font-size="23.5" text-anchor="middle" fill="#231f20" transform="rotate(-90 1276.7 1443.7)">Frac. of neurons</text>
<text x="1472.0" y="1571.8" font-size="23.8" text-anchor="middle" fill="#231f20">Lateral from midline (mm)</text>
<rect x="1742.6" y="1427.2" width="35.8" height="93.0" fill="#e9e634" stroke="#231f20" stroke-width="1.7"/>
<rect x="1787.0" y="1406.6" width="35.8" height="113.6" fill="#e9e634" stroke="#231f20" stroke-width="1.7"/>
<rect x="1831.4" y="1408.8" width="35.8" height="111.4" fill="#e9e634" stroke="#231f20" stroke-width="1.7"/>
<rect x="1875.8" y="1390.9" width="35.8" height="129.3" fill="#e9e634" stroke="#231f20" stroke-width="1.7"/>
<line x1="1715.3" y1="1363.1" x2="1715.3" y2="1521.3" stroke="#231f20" stroke-width="2.2"/>
<line x1="1710.3" y1="1520.2" x2="1982.0" y2="1520.2" stroke="#231f20" stroke-width="2.2"/>
<line x1="1715.3" y1="1520.2" x2="1715.3" y2="1526.2" stroke="#231f20" stroke-width="2.2"/>
<text x="1715.3" y="1546.2" font-size="23.5" text-anchor="middle" fill="#231f20">3</text>
<line x1="1804.0" y1="1520.2" x2="1804.0" y2="1526.2" stroke="#231f20" stroke-width="2.2"/>
<text x="1804.0" y="1546.2" font-size="23.5" text-anchor="middle" fill="#231f20">3.4</text>
<line x1="1892.8" y1="1520.2" x2="1892.8" y2="1526.2" stroke="#231f20" stroke-width="2.2"/>
<text x="1892.8" y="1546.2" font-size="23.5" text-anchor="middle" fill="#231f20">3.8</text>
<line x1="1982.0" y1="1520.2" x2="1982.0" y2="1526.2" stroke="#231f20" stroke-width="2.2"/>
<text x="1982.0" y="1546.2" font-size="23.5" text-anchor="middle" fill="#231f20">4.2</text>
<line x1="1710.3" y1="1363.1" x2="1715.3" y2="1363.1" stroke="#231f20" stroke-width="2.2"/>
<text x="1706.3" y="1371.6" font-size="23.5" text-anchor="end" fill="#231f20">0.6</text>
<line x1="1710.3" y1="1415.6" x2="1715.3" y2="1415.6" stroke="#231f20" stroke-width="2.2"/>
<text x="1706.3" y="1424.1" font-size="23.5" text-anchor="end" fill="#231f20">0.4</text>
<line x1="1710.3" y1="1468.0" x2="1715.3" y2="1468.0" stroke="#231f20" stroke-width="2.2"/>
<text x="1706.3" y="1476.5" font-size="23.5" text-anchor="end" fill="#231f20">0.2</text>
<line x1="1710.3" y1="1520.2" x2="1715.3" y2="1520.2" stroke="#231f20" stroke-width="2.2"/>
<text x="1706.3" y="1528.7" font-size="23.5" text-anchor="end" fill="#231f20">0</text>
<text x="-100.0" y="1443.7" font-size="23.5" text-anchor="middle" fill="#231f20" transform="rotate(-90 -100.0 1443.7)"></text>
<text x="1848.0" y="1571.8" font-size="23.8" text-anchor="middle" fill="#231f20">Posterior from bregma (mm)</text>
<text x="1.0" y="1636.0" font-size="47" font-weight="bold" fill="#231f20">g</text>
<text x="48.5" y="1636.5" font-size="31.8" xml:space="preserve"><tspan fill="#231f20">Dual injections in </tspan><tspan fill="#5cb65a">medial ALM</tspan><tspan fill="#231f20"> and </tspan><tspan fill="#e61e3a">lateral ALM</tspan></text>
<text x="55.0" y="1671.0" font-size="23.5" fill="#231f20">2.6 mm ant. from bregma</text>
<clipPath id="cg"><rect x="51.2" y="1681.2" width="289.1" height="216.4"/></clipPath>
<g clip-path="url(#cg)">
<rect x="51.2" y="1681.2" width="289.1" height="216.4" fill="#030405"/>
<path d="M95.0 1904.2 94.4 1895.1 93.6 1881.9 92.9 1867.9 92.9 1856.3 93.6 1848.2 94.8 1841.8 96.5 1835.9 98.6 1829.7 101.1 1822.7 104.0 1815.5 107.3 1808.3 111.0 1801.3 114.9 1794.4 119.1 1787.7 123.7 1781.0 128.7 1774.7 134.3 1768.5 140.5 1762.5 146.9 1756.8 153.6 1751.6 160.4 1747.0 167.6 1742.9 174.9 1739.1 181.9 1735.7 188.7 1732.5 195.3 1729.8 201.9 1727.3 208.5 1725.0 215.2 1722.9 221.8 1720.9 228.5 1719.3 235.1 1717.9 241.8 1716.8 248.5 1715.9 255.1 1715.5 261.8 1715.8 268.6 1716.8 275.6 1718.5 282.3 1720.7 288.4 1723.2 293.5 1726.2 298.1 1729.7 302.2 1733.5 306.1 1737.4 309.7 1741.5 313.1 1745.9 316.0 1750.4 318.5 1755.2 320.4 1759.9 321.8 1764.7 322.9 1770.1 323.8 1776.5 324.7 1784.3 325.3 1793.3 325.7 1802.7 326.0 1811.9 325.9 1820.3 325.6 1828.3 325.2 1837.0 324.9 1847.4 324.6 1861.4 324.3 1878.0 324.0 1893.5 323.8 1904.2Z" fill="#3a489c" filter="url(#bl2)"/>
<clipPath id="cgd"><path d="M95.0 1904.2 94.4 1895.1 93.6 1881.9 92.9 1867.9 92.9 1856.3 93.6 1848.2 94.8 1841.8 96.5 1835.9 98.6 1829.7 101.1 1822.7 104.0 1815.5 107.3 1808.3 111.0 1801.3 114.9 1794.4 119.1 1787.7 123.7 1781.0 128.7 1774.7 134.3 1768.5 140.5 1762.5 146.9 1756.8 153.6 1751.6 160.4 1747.0 167.6 1742.9 174.9 1739.1 181.9 1735.7 188.7 1732.5 195.3 1729.8 201.9 1727.3 208.5 1725.0 215.2 1722.9 221.8 1720.9 228.5 1719.3 235.1 1717.9 241.8 1716.8 248.5 1715.9 255.1 1715.5 261.8 1715.8 268.6 1716.8 275.6 1718.5 282.3 1720.7 288.4 1723.2 293.5 1726.2 298.1 1729.7 302.2 1733.5 306.1 1737.4 309.7 1741.5 313.1 1745.9 316.0 1750.4 318.5 1755.2 320.4 1759.9 321.8 1764.7 322.9 1770.1 323.8 1776.5 324.7 1784.3 325.3 1793.3 325.7 1802.7 326.0 1811.9 325.9 1820.3 325.6 1828.3 325.2 1837.0 324.9 1847.4 324.6 1861.4 324.3 1878.0 324.0 1893.5 323.8 1904.2Z"/></clipPath>
<path d="M345.1 1741.0 343.1 1743.7 340.1 1747.6 337.0 1752.6 334.5 1758.7 332.7 1765.9 331.2 1774.2 330.1 1783.7 329.2 1794.2 328.6 1806.2 328.4 1819.5 328.3 1833.4 328.3 1847.4 327.9 1862.7 327.5 1879.1 327.5 1893.9 328.8 1904.2 332.2 1908.2 337.0 1907.7 341.8 1905.5 345.1 1904.2Z" fill="#3a4696" filter="url(#bl2)"/>
<g clip-path="url(#cgd)">
<g filter="url(#bl6)">
<ellipse cx="164.2" cy="1847.4" rx="58.5" ry="44.3" fill="#3f4eaa" opacity="0.8" transform="rotate(0 164.2 1847.4)"/>
<ellipse cx="114.5" cy="1829.7" rx="14.2" ry="53.2" fill="#2c3580" opacity="0.7" transform="rotate(12 114.5 1829.7)"/>
<path d="M217.4 1744.5 221.4 1737.9 227.3 1728.8 235.1 1721.5 245.9 1717.5 258.7 1715.4 270.6 1715.3 280.9 1717.2 290.3 1721.2 299.0 1726.8 307.2 1734.1 314.6 1743.2 320.3 1753.4 323.8 1765.1 325.5 1778.0 325.6 1790.6 324.4 1803.2 321.7 1815.5 316.7 1826.1 309.0 1834.4 299.1 1840.9 288.4 1845.6 276.7 1848.5 264.3 1849.5 252.9 1849.2 242.6 1848.5 233.4 1846.5 226.3 1840.3 222.2 1826.0 220.3 1807.5 219.2 1794.2Z" fill="#1f7f8c" opacity="0.9"/>
<path d="M162.4 1762.3 168.4 1756.6 176.9 1748.8 185.5 1742.8 193.6 1739.7 201.6 1738.4 208.5 1739.2 213.9 1742.2 218.0 1747.4 221.0 1755.2 222.5 1766.5 222.8 1780.3 222.7 1794.2 222.8 1807.7 222.5 1821.3 221.0 1833.2 218.0 1843.2 213.9 1851.6 208.5 1858.1 201.5 1862.6 193.3 1865.1 185.5 1865.1 178.4 1862.0 171.7 1856.3 166.0 1849.2 161.4 1840.7 157.9 1830.9 155.3 1820.8 154.0 1809.8 153.7 1798.5 153.6 1790.6Z" fill="#9a3a92" opacity="0.9"/>
</g>
<g filter="url(#bl4)">
<path d="M220.1 1746.3 223.2 1739.7 228.1 1730.5 235.1 1723.2 245.8 1719.3 258.7 1717.3 270.6 1717.0 280.4 1718.5 289.2 1721.7 297.2 1726.8 304.8 1734.1 311.6 1743.4 316.7 1753.4 320.1 1764.3 321.9 1776.0 322.1 1787.1 320.8 1797.5 317.9 1807.3 313.2 1815.5 306.4 1821.7 297.8 1826.4 288.4 1829.7 278.0 1831.5 266.9 1832.0 256.4 1831.4 246.4 1830.7 237.1 1829.0 229.8 1824.3 225.8 1813.8 223.8 1800.4 222.7 1790.6Z" fill="#3fae68" opacity="0.95"/>
<ellipse cx="270.6" cy="1778.2" rx="39.9" ry="46.1" fill="#62c06c" opacity="0.95" transform="rotate(0 270.6 1778.2)"/>
<path d="M166.9 1767.6 171.7 1762.5 178.5 1755.4 185.5 1749.8 192.2 1746.7 199.0 1745.1 205.0 1745.4 210.1 1747.7 214.3 1752.0 217.4 1758.7 219.0 1768.9 219.3 1781.5 219.2 1794.2 218.9 1806.5 218.2 1818.8 216.5 1829.7 213.8 1838.9 210.2 1846.8 205.9 1852.7 200.4 1856.9 194.2 1859.1 188.1 1858.9 182.5 1855.6 177.0 1849.8 172.2 1843.0 168.2 1835.2 164.9 1826.3 162.4 1817.3 161.2 1807.5 160.8 1797.6 160.6 1790.6Z" fill="#c8388f" opacity="0.95"/>
<ellipse cx="180.2" cy="1792.4" rx="19.5" ry="38.1" fill="#ea2f8d" opacity="0.95" transform="rotate(10 180.2 1792.4)"/>
<ellipse cx="205.0" cy="1811.9" rx="10.6" ry="35.5" fill="#cf6a98" opacity="0.6" transform="rotate(5 205.0 1811.9)"/>
</g>
</g>
</g>
<rect x="251.6" y="1881.1" width="77.2" height="4.1" fill="#fff"/>
<text x="260.8" y="1867.4" font-size="23.5" fill="#fff">1 mm</text>
<path d="M494.2 1864.3 501.6 1863.6 512.2 1862.6 523.3 1861.1 532.5 1858.8 538.6 1855.9 543.2 1852.4 547.2 1848.0 551.5 1842.5 556.3 1835.6 561.1 1827.6 565.9 1818.9 570.6 1809.7 575.4 1799.8 580.2 1788.9 585.0 1778.3 589.8 1768.8 594.5 1760.6 599.3 1753.3 604.1 1746.9 608.9 1741.5 613.6 1737.4 618.4 1734.3 623.2 1732.1 628.0 1730.6 632.7 1730.0 637.5 1730.3 642.3 1731.1 647.0 1732.0 651.9 1733.1 656.9 1734.5 661.7 1736.1 666.1 1737.4 670.2 1739.0 673.9 1740.7 677.3 1741.8 680.5 1741.5 683.1 1739.6 685.2 1736.3 687.4 1732.3 690.0 1727.9 693.3 1722.7 697.0 1716.7 700.8 1710.8 704.4 1706.1 707.7 1702.5 711.0 1699.7 714.1 1697.7 716.8 1696.5 718.8 1696.0 720.3 1696.2 721.7 1697.2 723.5 1699.2 725.7 1702.5 728.2 1706.9 730.7 1711.9 733.0 1717.0 735.0 1722.2 736.8 1727.8 738.3 1733.4 739.7 1738.8 740.7 1744.2 741.5 1749.7 742.1 1754.5 742.5 1757.9" fill="none" stroke="#5cb65a" stroke-width="1.9" stroke-linejoin="round"/>
<path d="M513.4 1864.3 520.7 1863.1 531.3 1861.4 542.4 1859.1 551.5 1856.1 557.7 1852.3 562.3 1847.8 566.3 1842.6 570.6 1837.0 575.4 1831.0 580.2 1824.4 585.0 1817.3 589.8 1809.7 594.5 1801.2 599.3 1792.0 604.1 1782.7 608.9 1774.3 613.7 1766.4 618.7 1758.9 623.5 1752.3 628.0 1747.0 631.6 1743.3 634.8 1741.0 638.1 1739.6 642.3 1738.8 647.7 1738.7 653.9 1739.5 660.3 1740.6 666.1 1741.5 671.4 1742.0 676.3 1742.4 680.9 1743.0 685.2 1744.3 689.2 1746.0 692.7 1748.2 696.1 1751.1 699.6 1755.2 703.3 1760.8 707.0 1767.6 710.7 1775.1 713.9 1782.4 716.6 1789.8 719.0 1797.3 721.2 1804.9 723.5 1812.5 725.8 1820.3 728.2 1828.5 730.6 1836.1 733.0 1842.5 735.6 1847.4 738.4 1851.2 740.8 1854.0 742.5 1856.1" fill="none" stroke="#5cb65a" stroke-width="1.9" stroke-linejoin="round"/>
<path d="M532.5 1864.3 537.8 1862.9 545.6 1860.9 553.9 1858.5 561.1 1856.1 566.5 1853.8 571.2 1851.5 575.6 1848.8 580.2 1845.2 585.0 1841.0 589.8 1836.2 594.5 1830.4 599.3 1823.4 604.2 1814.3 609.1 1803.6 614.0 1792.6 618.4 1782.4 622.3 1773.1 625.9 1764.0 629.3 1756.0 632.7 1749.7 636.2 1745.7 639.6 1743.4 643.1 1742.2 647.0 1741.5 651.5 1741.4 656.3 1742.0 661.3 1743.1 666.1 1744.3 671.0 1745.2 676.0 1746.1 680.8 1747.5 685.2 1749.7 689.2 1752.7 692.7 1756.4 696.1 1760.8 699.6 1766.1 703.2 1772.4 706.7 1779.6 710.3 1787.5 713.9 1796.1 717.6 1806.1 721.4 1817.2 725.0 1828.1 728.2 1837.0 731.1 1843.6 733.6 1848.8 735.8 1852.8 737.8 1856.1 739.4 1858.6 740.8 1860.0 741.8 1860.9 742.5 1861.6" fill="none" stroke="#5cb65a" stroke-width="1.9" stroke-linejoin="round"/>
<path d="M551.5 1864.3 556.9 1863.6 564.7 1862.6 573.0 1861.1 580.2 1858.8 585.6 1855.9 590.3 1852.4 594.7 1848.0 599.3 1842.5 604.2 1835.5 609.1 1827.3 614.0 1818.5 618.4 1809.7 622.3 1800.5 625.9 1790.6 629.3 1781.5 632.7 1774.3 636.3 1769.6 639.9 1766.8 643.5 1764.9 647.0 1763.4 650.6 1761.9 654.2 1761.0 657.8 1760.5 661.4 1760.6 664.8 1761.3 668.2 1762.7 671.8 1764.3 675.7 1766.1 680.3 1767.6 685.3 1769.1 690.2 1771.2 694.8 1774.3 698.7 1778.4 702.3 1783.5 705.7 1789.4 709.1 1796.1 712.8 1804.4 716.6 1814.0 720.2 1823.5 723.5 1831.6 726.2 1837.6 728.5 1842.5 730.7 1846.7 733.0 1850.7 735.6 1854.8 738.4 1858.7 740.8 1862.0 742.5 1864.3" fill="none" stroke="#5cb65a" stroke-width="1.9" stroke-linejoin="round"/>
<path d="M556.3 1864.3 559.0 1863.3 562.9 1861.8 567.1 1860.2 570.6 1858.8 573.4 1857.5 575.7 1856.2 577.9 1855.2 580.2 1854.8 582.6 1855.2 585.0 1856.3 587.4 1857.6 589.8 1858.8 591.9 1860.1 593.9 1861.6 596.2 1862.7 599.3 1862.9 603.6 1862.1 608.8 1860.5 614.1 1858.4 618.4 1856.1 621.5 1854.1 623.8 1851.9 625.8 1849.2 628.0 1845.2 630.3 1839.5 632.7 1832.6 635.1 1825.1 637.5 1817.9 639.9 1810.8 642.3 1803.4 644.7 1796.5 647.0 1790.6 649.4 1786.0 651.8 1782.4 654.2 1779.4 656.6 1777.0 659.0 1775.2 661.4 1774.2 663.8 1773.5 666.1 1772.9 668.4 1772.1 670.6 1771.3 673.0 1771.0 675.7 1771.5 678.9 1773.1 682.6 1775.5 686.3 1778.7 690.0 1782.4 693.6 1786.9 697.2 1792.2 700.8 1798.0 704.4 1804.3 707.9 1811.4 711.5 1819.3 715.1 1827.2 718.7 1834.3 722.4 1840.7 726.1 1846.7 729.8 1851.9 733.0 1856.1 735.9 1859.0 738.7 1860.9 740.9 1862.1 742.5 1862.9" fill="none" stroke="#5cb65a" stroke-width="1.9" stroke-linejoin="round"/>
<path d="M484.7 1850.7 488.1 1849.8 493.1 1848.8 498.6 1846.0 503.8 1839.7 508.7 1828.0 513.6 1812.3 518.5 1795.9 522.9 1782.4 526.8 1772.6 530.4 1764.5 533.8 1758.0 537.2 1752.4 540.6 1748.2 543.8 1745.4 547.3 1743.4 551.5 1741.5 557.1 1739.5 563.5 1737.8 569.9 1736.5 575.4 1736.1 579.8 1736.5 583.5 1737.6 586.7 1739.3 589.8 1741.5 592.5 1744.0 594.8 1747.0 597.0 1750.6 599.3 1755.2 601.7 1761.0 604.1 1768.0 606.5 1775.3 608.9 1782.4 611.2 1789.1 613.6 1795.8 616.0 1802.5 618.4 1809.7 620.8 1817.9 623.2 1826.8 625.6 1835.3 628.0 1842.5 630.3 1848.0 632.7 1852.4 635.1 1855.9 637.5 1858.8 639.0 1861.1 639.9 1862.6 642.0 1863.6 647.0 1864.3 657.4 1864.7 671.5 1864.6 685.3 1864.4 694.8 1864.3" fill="none" stroke="#e61e3a" stroke-width="1.9" stroke-linejoin="round"/>
<path d="M484.7 1858.8 492.2 1857.6 503.2 1855.9 514.5 1853.7 522.9 1850.7 527.3 1847.2 529.5 1843.2 530.7 1838.1 532.5 1831.6 534.8 1822.6 537.2 1811.8 539.6 1800.6 542.0 1790.6 544.3 1782.0 546.5 1773.9 548.8 1766.7 551.5 1760.6 554.8 1755.6 558.4 1751.4 562.2 1748.5 565.9 1747.0 569.6 1747.4 573.3 1749.5 577.0 1752.4 580.2 1755.2 582.8 1758.0 585.0 1761.3 587.1 1764.2 589.8 1766.1 593.2 1766.0 597.1 1764.7 600.9 1763.4 604.1 1763.4 606.3 1764.9 607.8 1767.3 609.2 1770.4 610.8 1774.3 612.6 1778.7 614.4 1783.8 616.3 1789.6 618.4 1796.1 620.7 1803.8 623.1 1812.5 625.5 1821.2 628.0 1828.8 630.1 1835.2 632.1 1840.9 634.4 1846.0 637.5 1850.7 641.2 1855.0 645.3 1858.8 650.3 1862.0 656.6 1864.3 665.7 1865.3 676.9 1865.2 687.5 1864.6 694.8 1864.3" fill="none" stroke="#e61e3a" stroke-width="1.9" stroke-linejoin="round"/>
<path d="M484.7 1856.1 488.4 1854.0 493.7 1851.0 499.2 1847.2 503.8 1842.5 506.9 1836.7 509.2 1830.0 511.2 1822.7 513.4 1815.2 515.6 1807.1 517.8 1798.3 520.2 1789.8 522.9 1782.4 526.1 1776.3 529.8 1771.0 533.5 1766.7 537.2 1763.4 540.9 1761.3 544.7 1760.3 548.3 1760.2 551.5 1760.6 554.3 1761.8 556.6 1763.7 558.8 1766.1 561.1 1768.8 563.3 1771.5 565.3 1774.4 567.6 1778.0 570.6 1782.4 574.8 1788.4 579.6 1795.6 584.8 1803.0 589.8 1809.7 594.5 1815.8 599.3 1821.7 604.1 1827.0 608.9 1831.6 613.6 1835.1 618.4 1837.9 623.2 1840.2 628.0 1842.5 632.5 1844.7 636.9 1846.7 641.6 1848.7 647.0 1850.7 653.5 1852.8 660.8 1855.0 668.3 1857.1 675.7 1858.8 682.6 1860.2 689.4 1861.3 696.5 1862.2 704.4 1862.9 714.1 1863.4 725.2 1863.6 735.5 1863.7 742.5 1863.8" fill="none" stroke="#e61e3a" stroke-width="1.9" stroke-linejoin="round"/>
<path d="M484.7 1850.7 487.9 1848.7 492.5 1845.9 497.9 1842.7 503.8 1839.7 510.5 1837.2 518.1 1834.8 525.7 1832.1 532.5 1828.8 538.0 1824.4 542.9 1819.2 547.3 1814.0 551.5 1809.7 555.6 1806.5 559.3 1803.9 562.7 1801.9 565.9 1800.2 568.5 1798.9 570.6 1798.0 572.8 1797.5 575.4 1797.5 578.8 1797.9 582.6 1798.8 586.4 1800.1 589.8 1801.5 592.2 1803.1 594.2 1804.7 596.4 1806.8 599.3 1809.7 603.4 1813.9 608.3 1818.9 613.4 1824.2 618.4 1828.8 623.2 1832.8 628.0 1836.3 632.7 1839.6 637.5 1842.5 642.3 1844.9 647.0 1846.9 651.8 1848.7 656.6 1850.7 661.2 1852.8 665.6 1854.9 670.3 1857.0 675.7 1858.8 682.0 1860.5 688.8 1862.1 696.3 1863.4 704.4 1864.3 714.1 1864.7 725.2 1864.6 735.5 1864.4 742.5 1864.3" fill="none" stroke="#e61e3a" stroke-width="1.9" stroke-linejoin="round"/>
<path d="M484.7 1853.4 489.8 1850.9 497.2 1847.2 505.5 1843.3 513.4 1839.7 520.7 1836.8 528.3 1834.1 535.5 1831.5 542.0 1828.8 547.4 1826.1 552.1 1823.3 556.5 1820.6 561.1 1817.9 566.1 1815.2 571.2 1812.5 576.1 1810.1 580.2 1808.4 583.3 1807.3 585.6 1806.8 587.6 1806.8 589.8 1807.0 592.1 1807.6 594.5 1808.5 596.9 1809.8 599.3 1811.1 601.5 1812.3 603.5 1813.6 605.8 1815.3 608.9 1817.9 613.0 1822.1 617.8 1827.4 623.0 1832.7 628.0 1837.0 632.7 1839.8 637.5 1841.6 642.3 1843.2 647.0 1845.2 651.6 1847.9 656.0 1850.8 660.7 1853.7 666.1 1856.1 672.6 1857.9 679.9 1859.4 687.4 1860.5 694.8 1861.6 702.2 1862.5 709.7 1863.3 717.0 1863.9 723.5 1864.3 729.3 1864.5 734.8 1864.5 739.3 1864.4 742.5 1864.3" fill="none" stroke="#e61e3a" stroke-width="1.9" stroke-linejoin="round"/>
<line x1="484.7" y1="1700.6" x2="484.7" y2="1865.4" stroke="#231f20" stroke-width="2.2"/>
<line x1="479.7" y1="1864.3" x2="743.2" y2="1864.3" stroke="#231f20" stroke-width="2.2"/>
<line x1="552.1" y1="1864.3" x2="552.1" y2="1870.3" stroke="#231f20" stroke-width="2.2"/>
<text x="552.1" y="1889.0" font-size="23.5" text-anchor="middle" fill="#231f20">2</text>
<line x1="647.5" y1="1864.3" x2="647.5" y2="1870.3" stroke="#231f20" stroke-width="2.2"/>
<text x="647.5" y="1889.0" font-size="23.5" text-anchor="middle" fill="#231f20">1</text>
<line x1="743.2" y1="1864.3" x2="743.2" y2="1870.3" stroke="#231f20" stroke-width="2.2"/>
<text x="743.2" y="1889.0" font-size="23.5" text-anchor="middle" fill="#231f20">0</text>
<line x1="504.7" y1="1864.3" x2="504.7" y2="1868.3" stroke="#231f20" stroke-width="2.2"/>
<line x1="600.0" y1="1864.3" x2="600.0" y2="1868.3" stroke="#231f20" stroke-width="2.2"/>
<line x1="695.3" y1="1864.3" x2="695.3" y2="1868.3" stroke="#231f20" stroke-width="2.2"/>
<line x1="479.7" y1="1700.6" x2="484.7" y2="1700.6" stroke="#231f20" stroke-width="2.2"/>
<text x="464.7" y="1711.8" font-size="23.5" text-anchor="end" fill="#231f20">60</text>
<line x1="479.7" y1="1755.2" x2="484.7" y2="1755.2" stroke="#231f20" stroke-width="2.2"/>
<text x="464.7" y="1767.0" font-size="23.5" text-anchor="end" fill="#231f20">40</text>
<line x1="479.7" y1="1809.7" x2="484.7" y2="1809.7" stroke="#231f20" stroke-width="2.2"/>
<text x="464.7" y="1827.1" font-size="23.5" text-anchor="end" fill="#231f20">20</text>
<line x1="479.7" y1="1864.3" x2="484.7" y2="1864.3" stroke="#231f20" stroke-width="2.2"/>
<text x="464.7" y="1883.8" font-size="23.5" text-anchor="end" fill="#231f20">0</text>
<text x="412.5" y="1783.0" font-size="23.5" text-anchor="middle" fill="#231f20" transform="rotate(-90 412.5 1783.0)">Fluorescence (a.u.)</text>
<text x="617.0" y="1911.7" font-size="23.8" text-anchor="middle" fill="#231f20">Lateral from midline (mm)</text>
<text x="857.0" y="1641.3" font-size="47" font-weight="bold" fill="#231f20">h</text>
<text x="904.5" y="1636.5" font-size="31.8" xml:space="preserve"><tspan fill="#231f20">Projections from </tspan><tspan fill="#5cb65a">medial ALM</tspan><tspan fill="#231f20"> and </tspan><tspan fill="#e61e3a">lateral ALM</tspan><tspan fill="#231f20"> in SC</tspan></text>
<text x="920.0" y="1671.0" font-size="23.5" fill="#231f20">3.3 mm pos. from bregma</text>
<clipPath id="ch"><rect x="906" y="1681.2" width="300.7" height="216.4"/></clipPath>
<g clip-path="url(#ch)">
<rect x="906.0" y="1681.2" width="300.7" height="216.4" fill="#353d92"/>
<g filter="url(#bl4)">
<path d="M902.1 1719.7 914.1 1718.0 931.1 1715.7 948.2 1714.4 964.7 1714.4 981.2 1715.5 994.3 1717.9 1003.8 1722.2 1009.9 1727.8 1010.3 1733.9 1002.6 1740.6 989.2 1747.7 974.8 1753.4 960.1 1756.9 944.4 1759.0 930.5 1760.5 918.8 1761.5 908.9 1762.0 902.1 1762.3Z" fill="#3c4dac" opacity="1"/>
<path d="M1029.8 1723.2 1040.5 1716.3 1055.8 1706.9 1072.4 1700.2 1089.9 1698.2 1108.5 1699.0 1125.6 1702.0 1141.2 1707.2 1155.3 1714.6 1164.6 1723.2 1168.4 1734.7 1167.5 1747.3 1161.1 1755.2 1147.0 1754.2 1127.4 1748.6 1107.9 1744.5 1089.1 1744.9 1070.3 1746.9 1054.6 1748.1 1043.3 1747.3 1035.2 1745.7 1029.8 1744.5Z" fill="#3b4ba7" opacity="1"/>
<path d="M902.1 1776.5 914.8 1774.4 932.7 1771.7 948.2 1771.1 959.7 1774.1 968.8 1779.2 973.1 1785.3 971.0 1792.9 964.1 1801.4 953.5 1808.4 936.9 1812.7 916.6 1815.5 902.1 1817.3Z" fill="#3646a0" opacity="1"/>
<path d="M902.1 1833.2 909.7 1830.7 920.4 1827.3 930.5 1826.1 939.9 1828.3 948.8 1832.6 953.5 1838.5 952.4 1847.0 947.2 1857.1 939.3 1865.1 927.3 1869.7 912.6 1872.4 902.1 1874.0Z" fill="#323d96" opacity="0.9"/>
<path d="M1107.9 1847.4 1120.4 1841.2 1137.9 1833.0 1152.2 1829.7 1160.5 1834.6 1165.6 1844.5 1168.2 1856.3 1169.2 1871.4 1167.7 1888.5 1161.1 1900.6 1144.8 1903.9 1123.4 1902.3 1107.9 1900.6Z" fill="#2e3686" opacity="0.8"/>
<path d="M1090.1 1849.2 1099.3 1843.1 1112.5 1834.9 1125.6 1829.7 1138.3 1829.3 1151.0 1831.8 1161.1 1836.8 1168.0 1846.4 1172.3 1858.3 1173.5 1865.1 1170.9 1862.3 1165.1 1854.2 1157.5 1847.4 1147.9 1843.2 1136.4 1840.2 1125.6 1840.3 1115.4 1846.1 1105.7 1855.0 1099.0 1861.6Z" fill="#222869" opacity="0.7"/>
<path d="M902.1 1714.4 914.3 1712.2 931.7 1709.0 948.2 1705.5 961.9 1701.8 974.8 1697.6 987.2 1693.1 1001.7 1687.4 1015.8 1681.4 1022.7 1677.1 1018.6 1675.4 1007.5 1675.5 994.3 1677.1 980.3 1681.0 964.2 1686.4 948.2 1691.3 931.1 1695.0 914.1 1698.1 902.1 1700.2Z" fill="#10133a" opacity="1"/>
<path d="M902.1 1687.8 912.0 1685.8 926.1 1683.0 939.3 1680.7 953.5 1679.1 966.9 1677.9 969.5 1677.1 951.8 1676.9 923.2 1677.0 902.1 1677.1Z" fill="#262d7a" opacity="1"/>
<path d="M902.1 1769.4 911.8 1768.1 925.7 1766.3 939.3 1764.0 951.5 1761.7 963.5 1758.9 974.8 1755.2 985.7 1749.7 996.0 1743.1 1005.0 1737.4 1012.6 1732.4 1018.8 1728.2 1022.7 1726.8 1024.2 1729.4 1023.2 1734.8 1019.2 1741.0 1010.9 1747.9 999.5 1755.6 987.2 1762.3 975.0 1767.3 962.0 1771.4 948.2 1774.7 931.7 1777.2 914.3 1778.9 902.1 1780.0Z" fill="#181c55" opacity="0.95"/>
<path d="M1022.7 1742.8 1019.0 1748.0 1013.8 1755.4 1008.5 1762.3 1003.7 1767.1 998.8 1771.4 994.3 1776.5 990.3 1782.6 986.6 1789.6 983.7 1797.7 982.1 1808.1 981.2 1819.7 980.1 1829.7 978.7 1836.8 977.1 1842.4 974.8 1847.4 972.1 1851.8 968.8 1855.6 964.2 1859.8 957.5 1864.6 949.4 1869.7 941.1 1875.8 932.6 1884.3 923.8 1893.9 916.3 1900.6 910.2 1903.6 905.4 1903.9 902.1 1900.6 899.8 1891.8 899.1 1879.5 902.1 1868.7 911.2 1861.9 924.0 1856.6 935.8 1851.0 945.5 1844.4 954.1 1837.4 960.6 1829.7 963.6 1820.6 964.4 1810.7 966.0 1801.3 969.3 1792.6 973.4 1784.3 978.4 1776.5 984.5 1768.8 991.5 1761.6 997.9 1755.2 1003.5 1749.4 1008.6 1744.4 1012.1 1741.0Z" fill="#0f1238" opacity="0.97"/>
<path d="M902.1 1822.6 910.5 1818.6 922.5 1812.8 934.0 1806.6 944.5 1799.3 954.5 1791.5 962.4 1787.1 968.0 1788.0 971.4 1792.3 971.3 1797.7 966.8 1804.3 958.8 1812.1 948.2 1819.0 932.8 1824.8 914.9 1829.8 902.1 1833.2Z" fill="#171a50" opacity="0.9"/>
<path d="M948.2 1868.7 961.4 1871.1 980.4 1874.4 1001.4 1877.6 1025.7 1879.7 1052.0 1881.7 1072.4 1884.7 1088.5 1889.9 1098.7 1896.2 1090.1 1900.6 1046.8 1901.8 984.7 1901.2 939.3 1900.6Z" fill="#293078" opacity="0.8"/>
</g>
<g filter="url(#bl2)">
<path d="M1177.4 1681.2 1177.3 1704.9 1177.1 1739.3 1177.0 1776.5 1177.2 1819.4 1177.5 1865.2 1177.8 1897.6" fill="none" stroke="#1c2058" stroke-width="3.2" opacity="1" stroke-linecap="round"/>
<ellipse cx="1177.0" cy="1723.2" rx="8.0" ry="3.9" fill="#161a4c" opacity="0.9" transform="rotate(0 1177.0 1723.2)"/>
<ellipse cx="1177.0" cy="1749.8" rx="8.0" ry="3.9" fill="#161a4c" opacity="0.9" transform="rotate(0 1177.0 1749.8)"/>
<ellipse cx="1177.0" cy="1840.3" rx="8.0" ry="3.9" fill="#161a4c" opacity="0.9" transform="rotate(0 1177.0 1840.3)"/>
<path d="M1168.2 1681.2 1173.7 1680.8 1181.2 1680.5 1185.9 1681.2 1185.1 1684.2 1181.6 1688.3 1178.8 1691.3Z" fill="#10123a" opacity="1"/>
</g>
<clipPath id="chs"><path d="M982.8 1829.7 983.0 1824.3 983.3 1816.5 984.6 1808.4 987.1 1800.1 990.5 1791.4 994.3 1783.6 998.7 1776.9 1003.6 1771.1 1008.5 1765.8 1012.9 1761.0 1017.3 1756.7 1022.7 1753.4 1029.6 1751.3 1037.5 1750.2 1045.8 1749.8 1054.6 1750.4 1063.8 1751.8 1072.4 1753.4 1080.1 1754.8 1087.3 1756.5 1093.7 1758.7 1099.3 1761.3 1104.2 1764.6 1107.9 1769.4 1110.1 1776.2 1111.1 1784.6 1111.4 1794.2 1111.3 1806.2 1110.4 1819.3 1107.9 1829.7 1103.0 1834.9 1096.6 1837.4 1090.1 1840.3 1084.2 1845.0 1078.3 1850.2 1072.4 1854.5 1066.5 1857.6 1060.7 1859.9 1054.6 1861.6 1047.6 1862.3 1040.4 1862.5 1035.1 1863.4 1033.8 1866.1 1034.3 1869.7 1033.4 1872.2 1029.0 1873.3 1023.1 1873.4 1017.4 1872.2 1012.5 1869.4 1007.7 1865.3 1003.2 1861.6 998.5 1858.7 993.9 1856.2 990.8 1854.5Z"/></clipPath>
<clipPath id="chs2"><path d="M982.8 1829.7 983.0 1824.3 983.3 1816.5 984.6 1808.4 987.1 1800.1 990.5 1791.4 994.3 1783.6 998.9 1777.2 1003.9 1771.6 1008.5 1765.8 1008.1 1759.2 1007.3 1752.5 1019.2 1746.3 1056.4 1737.2 1106.3 1728.6 1143.3 1732.1 1157.5 1758.2 1158.8 1796.4 1152.2 1826.1 1135.1 1838.2 1110.2 1841.9 1090.1 1844.7 1080.9 1849.1 1076.7 1852.5 1072.4 1855.4 1066.5 1858.0 1060.7 1860.0 1054.6 1861.6 1047.6 1862.3 1040.4 1862.4 1035.1 1863.4 1033.8 1866.1 1034.3 1869.7 1033.4 1872.2 1029.0 1873.3 1023.1 1873.4 1017.4 1872.2 1012.5 1869.4 1007.7 1865.3 1003.2 1861.6 998.5 1858.7 993.9 1856.2 990.8 1854.5Z"/></clipPath>
<g clip-path="url(#chs2)"><g filter="url(#bl6)">
<ellipse cx="1065.3" cy="1794.2" rx="37.3" ry="40.8" fill="#2b62b4" opacity="0.7" transform="rotate(0 1065.3 1794.2)"/>
<ellipse cx="1047.6" cy="1785.3" rx="35.5" ry="31.9" fill="#2590a0" opacity="0.9" transform="rotate(-15 1047.6 1785.3)"/>
</g></g>
<g clip-path="url(#chs)"><g filter="url(#bl4)">
<ellipse cx="1033.4" cy="1769.4" rx="30.2" ry="17.7" fill="#27a58c" opacity="0.95" transform="rotate(-25 1033.4 1769.4)"/>
<ellipse cx="1052.9" cy="1817.3" rx="15.1" ry="44.3" fill="#1fa85a" opacity="1" transform="rotate(-16 1052.9 1817.3)"/>
<ellipse cx="1068.8" cy="1840.3" rx="12.4" ry="21.3" fill="#1d9a6a" opacity="0.8" transform="rotate(-30 1068.8 1840.3)"/>
<ellipse cx="1010.3" cy="1817.3" rx="29.3" ry="39.9" fill="#e8388e" opacity="1" transform="rotate(-10 1010.3 1817.3)"/>
<ellipse cx="993.5" cy="1822.6" rx="9.8" ry="23.1" fill="#b2358e" opacity="0.9" transform="rotate(0 993.5 1822.6)"/>
<ellipse cx="1029.8" cy="1841.2" rx="18.6" ry="23.9" fill="#f0806a" opacity="0.95" transform="rotate(-25 1029.8 1841.2)"/>
<ellipse cx="1024.5" cy="1864.3" rx="16.9" ry="10.6" fill="#f2e060" opacity="0.95" transform="rotate(0 1024.5 1864.3)"/>
<ellipse cx="990.8" cy="1850.1" rx="7.1" ry="10.6" fill="#5cc04a" opacity="0.9" transform="rotate(-30 990.8 1850.1)"/>
</g></g>
</g>
<rect x="1087.5" y="1877.9" width="100.2" height="4.4" fill="#fff"/>
<text x="1110.5" y="1868.7" font-size="23.5" fill="#fff">1 mm</text>
<path d="M1344.9 1876.1 1353.3 1870.1 1364.0 1860.2 1373.6 1845.1 1383.1 1828.5 1392.6 1814.6 1402.2 1800.7 1411.7 1785.0 1421.3 1768.9 1431.1 1751.5 1440.3 1737.1 1446.6 1731.2 1453.7 1729.2 1466.1 1728.0 1478.5 1728.4 1485.8 1729.5 1491.8 1733.2 1499.1 1741.2 1507.1 1753.0 1517.0 1771.1 1526.2 1788.8 1531.0 1798.4 1535.7 1804.6 1544.7 1809.1 1554.8 1812.6 1564.3 1816.5 1573.9 1820.5 1584.0 1824.6 1593.0 1828.5 1598.9 1831.9 1602.5 1834.4" fill="none" stroke="#5cb65a" stroke-width="1.9" stroke-linejoin="round"/>
<path d="M1344.9 1876.1 1353.9 1867.3 1364.0 1856.2 1369.4 1846.0 1373.6 1838.4 1377.7 1839.7 1383.1 1840.4 1392.0 1830.6 1402.2 1816.5 1411.7 1800.8 1421.3 1784.8 1430.8 1770.3 1440.3 1759.0 1450.2 1754.6 1459.4 1753.0 1466.3 1750.5 1472.8 1749.1 1480.0 1748.7 1488.0 1751.0 1497.6 1758.4 1507.1 1768.9 1515.1 1783.2 1522.4 1796.7 1528.8 1802.9 1535.7 1808.6 1544.9 1820.3 1554.8 1832.4 1564.3 1841.1 1573.9 1848.3 1584.0 1854.9 1593.0 1860.2 1598.9 1863.9 1602.5 1866.2" fill="none" stroke="#5cb65a" stroke-width="1.9" stroke-linejoin="round"/>
<path d="M1344.9 1876.1 1358.1 1865.2 1373.6 1852.3 1383.7 1844.8 1392.6 1836.4 1402.2 1821.0 1411.7 1804.6 1421.3 1791.0 1430.8 1780.8 1440.6 1777.6 1449.9 1776.8 1457.9 1775.7 1465.1 1772.9 1471.9 1763.3 1478.5 1755.0 1485.0 1756.1 1491.8 1761.0 1499.7 1766.8 1507.1 1772.9 1512.5 1775.9 1516.6 1780.8 1519.3 1793.5 1522.4 1808.6 1528.2 1823.2 1535.7 1836.4 1544.9 1845.3 1554.8 1852.3 1564.3 1858.7 1573.9 1864.2 1584.0 1868.8 1593.0 1872.1 1598.9 1873.6 1602.5 1874.1" fill="none" stroke="#5cb65a" stroke-width="1.9" stroke-linejoin="round"/>
<path d="M1344.9 1876.1 1358.1 1867.7 1373.6 1856.2 1383.7 1844.6 1392.6 1832.4 1402.2 1820.3 1411.7 1808.6 1421.3 1797.9 1430.8 1788.8 1440.9 1781.9 1449.9 1776.8 1455.2 1772.7 1459.4 1771.7 1463.6 1776.4 1468.9 1784.8 1477.9 1796.2 1488.0 1808.6 1497.6 1820.6 1507.1 1830.4 1516.6 1833.5 1526.2 1836.4 1535.7 1846.0 1545.3 1856.2 1554.8 1863.3 1564.3 1868.2 1573.9 1869.6 1583.4 1870.1 1594.1 1872.3 1602.5 1874.1" fill="none" stroke="#5cb65a" stroke-width="1.9" stroke-linejoin="round"/>
<path d="M1344.9 1876.1 1358.1 1868.8 1373.6 1860.2 1383.7 1855.4 1392.6 1850.3 1402.2 1842.2 1411.7 1832.4 1421.8 1820.6 1430.8 1808.6 1436.2 1796.7 1440.3 1788.8 1445.1 1791.7 1449.9 1796.7 1454.0 1794.5 1459.4 1792.7 1468.4 1797.2 1478.5 1804.6 1488.0 1814.3 1497.6 1824.5 1507.1 1832.4 1516.6 1840.4 1526.2 1850.5 1535.7 1860.2 1544.7 1867.3 1554.8 1872.1 1569.1 1873.7 1583.4 1874.1 1594.7 1875.2 1602.5 1876.1" fill="none" stroke="#5cb65a" stroke-width="1.9" stroke-linejoin="round"/>
<path d="M1344.9 1876.1 1353.3 1871.4 1364.0 1864.2 1373.6 1854.8 1383.1 1844.3 1392.6 1834.4 1402.2 1824.5 1411.7 1814.4 1421.3 1804.6 1431.4 1793.6 1440.3 1786.8 1445.1 1792.9 1449.9 1800.7 1458.8 1798.3 1468.9 1796.7 1478.5 1805.1 1488.0 1816.5 1497.6 1826.5 1507.1 1836.4 1516.6 1846.9 1526.2 1856.2 1535.7 1862.3 1545.3 1866.2 1554.8 1867.4 1564.3 1868.2 1573.9 1871.1 1583.4 1874.1 1594.1 1875.5 1602.5 1876.1" fill="none" stroke="#5cb65a" stroke-width="1.9" stroke-linejoin="round"/>
<path d="M1335.4 1876.1 1339.4 1877.6 1345.1 1879.0 1350.8 1876.1 1355.7 1865.9 1360.7 1851.4 1366.0 1836.8 1372.1 1823.1 1378.6 1809.4 1385.1 1797.5 1391.5 1788.4 1397.8 1781.2 1404.2 1774.9 1410.7 1769.1 1417.3 1764.2 1423.3 1760.6 1428.1 1758.1 1432.2 1756.9 1436.6 1757.0 1441.4 1758.2 1446.4 1760.7 1451.9 1765.3 1457.9 1772.7 1464.4 1782.3 1470.9 1792.7 1477.4 1804.3 1483.9 1816.9 1490.0 1828.5 1495.5 1838.7 1500.5 1848.0 1505.3 1855.9 1510.0 1861.9 1514.4 1866.6 1518.6 1870.1 1521.7 1872.6 1524.6 1873.9 1530.0 1874.9 1539.6 1875.6 1551.8 1875.9 1564.3 1876.1 1578.2 1876.2 1592.5 1876.1 1602.5 1876.1" fill="none" stroke="#e61e3a" stroke-width="2.0" stroke-linejoin="round"/>
<path d="M1335.4 1876.1 1338.7 1877.5 1343.4 1879.0 1348.4 1876.1 1353.2 1866.1 1358.2 1851.8 1363.7 1837.5 1369.8 1824.0 1376.3 1810.5 1382.8 1798.8 1389.1 1789.9 1395.5 1782.8 1401.8 1776.6 1408.4 1770.9 1415.0 1766.1 1420.9 1762.5 1425.7 1760.1 1429.9 1758.9 1434.3 1759.0 1439.1 1760.2 1444.1 1762.6 1449.5 1767.2 1455.6 1774.5 1462.1 1783.8 1468.6 1794.1 1475.1 1805.5 1481.6 1817.8 1487.7 1829.3 1493.1 1839.3 1498.1 1848.5 1502.9 1856.2 1507.5 1862.2 1511.9 1866.7 1516.3 1870.2 1520.1 1872.6 1523.9 1874.0 1530.0 1874.9 1539.8 1875.6 1551.8 1875.9 1564.3 1876.1 1578.2 1876.2 1592.5 1876.1 1602.5 1876.1" fill="none" stroke="#e61e3a" stroke-width="2.0" stroke-linejoin="round"/>
<path d="M1335.4 1876.1 1339.1 1877.5 1344.4 1878.8 1349.7 1876.1 1354.6 1866.6 1359.6 1853.0 1365.0 1839.4 1371.1 1826.6 1377.6 1813.8 1384.1 1802.7 1390.4 1794.3 1396.8 1787.5 1403.2 1781.6 1409.7 1776.2 1416.3 1771.7 1422.2 1768.3 1427.0 1766.0 1431.2 1764.9 1435.6 1764.9 1440.4 1766.1 1445.4 1768.4 1450.9 1772.7 1456.9 1779.6 1463.4 1788.5 1469.9 1798.3 1476.4 1809.1 1482.9 1820.8 1489.0 1831.6 1494.5 1841.2 1499.5 1849.9 1504.3 1857.2 1508.9 1862.9 1513.3 1867.2 1517.6 1870.5 1521.0 1872.8 1524.3 1874.0 1530.0 1874.9 1539.7 1875.6 1551.8 1875.9 1564.3 1876.1 1578.2 1876.2 1592.5 1876.1 1602.5 1876.1" fill="none" stroke="#e61e3a" stroke-width="2.0" stroke-linejoin="round"/>
<path d="M1335.4 1876.1 1338.6 1877.4 1343.1 1878.7 1348.0 1876.1 1352.7 1867.1 1357.8 1854.2 1363.2 1841.4 1369.3 1829.3 1375.8 1817.1 1382.3 1806.7 1388.7 1798.6 1395.0 1792.2 1401.4 1786.7 1408.0 1781.6 1414.5 1777.3 1420.5 1774.1 1425.3 1771.9 1429.4 1770.8 1433.8 1770.9 1438.6 1771.9 1443.6 1774.2 1449.1 1778.3 1455.2 1784.8 1461.7 1793.2 1468.2 1802.5 1474.8 1813.4 1481.5 1825.1 1487.2 1834.0 1491.0 1838.1 1493.8 1839.4 1497.6 1840.4 1502.9 1841.6 1509.3 1842.7 1516.6 1844.3 1525.5 1847.2 1535.4 1850.7 1545.3 1854.3 1554.8 1857.6 1564.3 1861.0 1573.9 1864.2 1584.5 1867.3 1595.1 1870.1 1602.5 1872.1" fill="none" stroke="#e61e3a" stroke-width="2.0" stroke-linejoin="round"/>
<path d="M1335.4 1876.1 1338.5 1877.2 1343.0 1878.3 1347.8 1876.1 1352.5 1868.3 1357.6 1857.1 1363.1 1846.0 1369.1 1835.5 1375.6 1824.9 1382.1 1815.8 1388.5 1808.9 1394.9 1803.3 1401.2 1798.5 1407.8 1794.1 1414.4 1790.3 1420.3 1787.5 1425.1 1785.7 1429.3 1784.7 1433.6 1784.8 1438.5 1785.7 1443.5 1787.6 1448.9 1791.2 1455.0 1796.9 1461.5 1804.2 1468.0 1812.2 1474.7 1821.5 1481.3 1831.6 1487.1 1839.6 1490.9 1843.6 1493.7 1845.6 1497.6 1848.3 1502.9 1853.4 1509.3 1859.2 1516.6 1864.2 1525.5 1867.6 1535.4 1870.2 1545.3 1872.1 1554.8 1873.3 1564.3 1873.8 1573.9 1874.1 1584.5 1874.3 1595.1 1874.2 1602.5 1874.1" fill="none" stroke="#e61e3a" stroke-width="2.0" stroke-linejoin="round"/>
<path d="M1335.4 1876.1 1339.8 1877.2 1346.0 1878.2 1352.1 1876.1 1357.1 1868.6 1362.0 1858.0 1367.3 1847.3 1373.4 1837.2 1379.9 1827.2 1386.4 1818.5 1392.8 1811.8 1399.1 1806.5 1405.5 1801.9 1412.1 1797.6 1418.6 1794.1 1424.6 1791.4 1429.4 1789.6 1433.5 1788.7 1437.9 1788.8 1442.7 1789.6 1447.7 1791.5 1453.2 1794.9 1459.3 1800.3 1465.8 1807.3 1472.3 1815.0 1478.8 1823.5 1485.3 1832.7 1491.3 1841.2 1496.8 1848.7 1501.8 1855.5 1506.6 1861.3 1511.3 1865.7 1515.8 1869.1 1520.0 1871.7 1522.6 1873.4 1525.0 1874.3 1530.0 1874.9 1539.5 1875.5 1551.7 1875.9 1564.3 1876.1 1578.2 1876.2 1592.5 1876.1 1602.5 1876.1" fill="none" stroke="#e61e3a" stroke-width="2.0" stroke-linejoin="round"/>
<path d="M1335.4 1876.1 1339.9 1877.6 1346.3 1879.1 1352.5 1876.1 1357.5 1865.7 1362.4 1850.9 1367.7 1836.1 1373.8 1822.2 1380.3 1808.2 1386.8 1796.2 1393.2 1786.9 1399.5 1779.6 1405.9 1773.2 1412.5 1767.3 1419.0 1762.4 1425.0 1758.6 1429.8 1756.2 1433.9 1754.9 1438.3 1755.0 1443.1 1756.2 1448.1 1758.8 1453.6 1763.5 1459.7 1771.0 1466.2 1780.7 1472.7 1791.3 1479.2 1803.1 1485.7 1815.9 1491.7 1827.7 1497.2 1838.1 1502.2 1847.5 1507.0 1855.5 1511.7 1861.7 1516.3 1866.4 1520.4 1870.0 1522.9 1872.5 1525.1 1873.9 1530.0 1874.9 1539.5 1875.6 1551.7 1875.9 1564.3 1876.1 1578.2 1876.2 1592.5 1876.1 1602.5 1876.1" fill="none" stroke="#e61e3a" stroke-width="2.0" stroke-linejoin="round"/>
<line x1="1335.4" y1="1717.4" x2="1335.4" y2="1877.2" stroke="#231f20" stroke-width="2.2"/>
<line x1="1330.4" y1="1876.1" x2="1602.6" y2="1876.1" stroke="#231f20" stroke-width="2.2"/>
<line x1="1411.8" y1="1876.1" x2="1411.8" y2="1882.1" stroke="#231f20" stroke-width="2.2"/>
<text x="1411.8" y="1904.5" font-size="23.5" text-anchor="middle" fill="#231f20">1.7</text>
<line x1="1507.4" y1="1876.1" x2="1507.4" y2="1882.1" stroke="#231f20" stroke-width="2.2"/>
<text x="1507.4" y="1904.5" font-size="23.5" text-anchor="middle" fill="#231f20">1.2</text>
<line x1="1602.6" y1="1876.1" x2="1602.6" y2="1882.1" stroke="#231f20" stroke-width="2.2"/>
<text x="1602.6" y="1904.5" font-size="23.5" text-anchor="middle" fill="#231f20">0.7</text>
<line x1="1330.4" y1="1717.4" x2="1335.4" y2="1717.4" stroke="#231f20" stroke-width="2.2"/>
<text x="1324.4" y="1725.9" font-size="23.5" text-anchor="end" fill="#231f20">40</text>
<line x1="1330.4" y1="1757.1" x2="1335.4" y2="1757.1" stroke="#231f20" stroke-width="2.2"/>
<text x="1324.4" y="1765.6" font-size="23.5" text-anchor="end" fill="#231f20">30</text>
<line x1="1330.4" y1="1796.8" x2="1335.4" y2="1796.8" stroke="#231f20" stroke-width="2.2"/>
<text x="1324.4" y="1805.3" font-size="23.5" text-anchor="end" fill="#231f20">20</text>
<line x1="1330.4" y1="1836.4" x2="1335.4" y2="1836.4" stroke="#231f20" stroke-width="2.2"/>
<text x="1324.4" y="1844.9" font-size="23.5" text-anchor="end" fill="#231f20">10</text>
<line x1="1330.4" y1="1876.1" x2="1335.4" y2="1876.1" stroke="#231f20" stroke-width="2.2"/>
<text x="1324.4" y="1884.6" font-size="23.5" text-anchor="end" fill="#231f20">0</text>
<text x="1274.0" y="1797.0" font-size="23.5" text-anchor="middle" fill="#231f20" transform="rotate(-90 1274.0 1797.0)">Fluorescence (a.u.)</text>
<text x="1472.0" y="1942.0" font-size="23.8" text-anchor="middle" fill="#231f20">Lateral from midline (mm)</text>
<path d="M1737.6 1774.2 1782.2 1742.5 1826.8 1741.7 1871.4 1762.3 1916.0 1775.5 1960.6 1794.1" fill="none" stroke="#5cb65a" stroke-width="1.9" stroke-linejoin="round"/>
<path d="M1737.6 1804.7 1782.2 1757.0 1826.8 1775.5 1871.4 1759.7 1916.0 1763.6 1960.6 1831.1" fill="none" stroke="#5cb65a" stroke-width="1.9" stroke-linejoin="round"/>
<path d="M1737.6 1762.3 1782.2 1798.0 1826.8 1784.8 1871.4 1787.5 1916.0 1792.7 1960.6 1815.2" fill="none" stroke="#5cb65a" stroke-width="1.9" stroke-linejoin="round"/>
<path d="M1737.6 1804.7 1782.2 1811.3 1826.8 1808.6 1871.4 1812.6 1916.0 1813.9 1960.6 1827.1" fill="none" stroke="#5cb65a" stroke-width="1.9" stroke-linejoin="round"/>
<path d="M1737.6 1829.8 1782.2 1812.6 1826.8 1809.9 1871.4 1811.3 1916.0 1820.5 1960.6 1836.4" fill="none" stroke="#5cb65a" stroke-width="1.9" stroke-linejoin="round"/>
<path d="M1737.6 1800.7 1782.2 1802.0 1826.8 1811.3 1871.4 1836.4 1916.0 1854.9 1960.6 1864.2" fill="none" stroke="#e61e3a" stroke-width="2.0" stroke-linejoin="round"/>
<path d="M1737.6 1807.3 1782.2 1804.7 1826.8 1815.2 1871.4 1839.1 1916.0 1857.6 1960.6 1870.8" fill="none" stroke="#e61e3a" stroke-width="2.0" stroke-linejoin="round"/>
<path d="M1737.6 1812.6 1782.2 1807.3 1826.8 1820.5 1871.4 1844.3 1916.0 1860.2 1960.6 1872.1" fill="none" stroke="#e61e3a" stroke-width="2.0" stroke-linejoin="round"/>
<path d="M1737.6 1817.9 1782.2 1809.9 1826.8 1825.8 1871.4 1847.0 1916.0 1862.9 1960.6 1873.5" fill="none" stroke="#e61e3a" stroke-width="2.0" stroke-linejoin="round"/>
<path d="M1737.6 1823.2 1782.2 1811.3 1826.8 1829.8 1871.4 1849.6 1916.0 1865.5 1960.6 1874.8" fill="none" stroke="#e61e3a" stroke-width="2.0" stroke-linejoin="round"/>
<path d="M1737.6 1802.0 1782.2 1803.3 1826.8 1828.5 1871.4 1804.7 1916.0 1816.6 1960.6 1864.2" fill="none" stroke="#e61e3a" stroke-width="2.0" stroke-linejoin="round"/>
<path d="M1737.6 1825.8 1782.2 1808.6 1826.8 1817.9 1871.4 1841.7 1916.0 1861.5 1960.6 1873.5" fill="none" stroke="#e61e3a" stroke-width="2.0" stroke-linejoin="round"/>
<line x1="1715.3" y1="1717.4" x2="1715.3" y2="1877.2" stroke="#231f20" stroke-width="2.2"/>
<line x1="1710.3" y1="1876.1" x2="1982.0" y2="1876.1" stroke="#231f20" stroke-width="2.2"/>
<line x1="1715.3" y1="1876.1" x2="1715.3" y2="1882.1" stroke="#231f20" stroke-width="2.2"/>
<text x="1715.3" y="1904.5" font-size="23.5" text-anchor="middle" fill="#231f20">3</text>
<line x1="1804.0" y1="1876.1" x2="1804.0" y2="1882.1" stroke="#231f20" stroke-width="2.2"/>
<text x="1804.0" y="1904.5" font-size="23.5" text-anchor="middle" fill="#231f20">3.4</text>
<line x1="1892.8" y1="1876.1" x2="1892.8" y2="1882.1" stroke="#231f20" stroke-width="2.2"/>
<text x="1892.8" y="1904.5" font-size="23.5" text-anchor="middle" fill="#231f20">3.8</text>
<line x1="1982.0" y1="1876.1" x2="1982.0" y2="1882.1" stroke="#231f20" stroke-width="2.2"/>
<text x="1982.0" y="1904.5" font-size="23.5" text-anchor="middle" fill="#231f20">4.2</text>
<line x1="1710.3" y1="1717.4" x2="1715.3" y2="1717.4" stroke="#231f20" stroke-width="2.2"/>
<text x="1704.3" y="1725.9" font-size="23.5" text-anchor="end" fill="#231f20">6</text>
<line x1="1710.3" y1="1770.3" x2="1715.3" y2="1770.3" stroke="#231f20" stroke-width="2.2"/>
<text x="1704.3" y="1778.8" font-size="23.5" text-anchor="end" fill="#231f20">4</text>
<line x1="1710.3" y1="1823.2" x2="1715.3" y2="1823.2" stroke="#231f20" stroke-width="2.2"/>
<text x="1704.3" y="1831.7" font-size="23.5" text-anchor="end" fill="#231f20">2</text>
<line x1="1710.3" y1="1876.1" x2="1715.3" y2="1876.1" stroke="#231f20" stroke-width="2.2"/>
<text x="1704.3" y="1884.6" font-size="23.5" text-anchor="end" fill="#231f20">0</text>
<text x="1848.0" y="1942.0" font-size="23.8" text-anchor="middle" fill="#231f20">Posterior from bregma (mm)</text>
<text x="859.5" y="1991.7" font-size="47" font-weight="bold" fill="#231f20">i</text>
<text x="904.5" y="1990.0" font-size="31.6" xml:space="preserve"><tspan fill="#231f20">SC </tspan><tspan fill="#5cb65a">thalamus-projecting neurons</tspan><tspan fill="#231f20"> and </tspan><tspan fill="#e61e3a">IRt-projecting neurons</tspan></text>
<text x="920.0" y="2025.0" font-size="23.5" fill="#231f20">3.3 mm pos. from bregma</text>
<clipPath id="ci"><rect x="906" y="2034.3" width="299" height="218.5"/></clipPath>
<g clip-path="url(#ci)">
<rect x="906.0" y="2034.3" width="299.0" height="218.5" fill="#a0a2a4"/>
<g filter="url(#bl4)">
<path d="M902.1 2031.1 943.5 2030.6 1000.2 2030.1 1040.5 2031.1 1049.3 2034.8 1041.5 2040.0 1029.8 2045.3 1017.0 2050.2 1000.2 2055.2 983.7 2059.5 968.5 2063.0 953.5 2065.9 939.3 2068.4 925.0 2070.6 911.5 2072.4 902.1 2073.7Z" fill="#b9bbbc" opacity="1"/>
<path d="M902.1 2043.5 913.8 2043.8 930.6 2044.0 948.2 2043.5 966.0 2041.6 984.5 2038.9 1001.4 2036.4 1017.7 2033.7 1032.4 2031.2 1040.5 2031.1 1039.0 2035.0 1030.9 2041.4 1019.2 2047.1 1004.2 2051.2 985.7 2054.8 966.0 2057.7 943.1 2060.1 919.0 2061.9 902.1 2063.0Z" fill="#d9dbdc" opacity="0.9"/>
<path d="M902.1 2071.9 914.1 2071.2 931.3 2070.2 948.2 2068.4 963.4 2065.5 978.4 2061.9 992.6 2057.7 1006.6 2051.7 1019.9 2045.0 1029.8 2041.8 1036.0 2044.0 1038.8 2049.7 1036.9 2055.9 1028.9 2062.4 1016.1 2069.4 1001.4 2075.5 984.7 2079.9 966.1 2083.4 948.2 2086.1 930.6 2087.9 913.8 2089.0 902.1 2089.6Z" fill="#7d7f81" opacity="1"/>
<path d="M902.1 2093.2 914.1 2092.6 931.1 2091.6 948.2 2089.6 964.2 2086.2 980.3 2081.8 994.3 2077.2 1005.6 2072.6 1014.8 2067.7 1022.7 2063.0 1029.5 2057.8 1034.9 2052.7 1038.7 2050.6 1040.9 2053.2 1041.6 2058.8 1040.5 2064.8 1037.6 2070.6 1032.9 2076.8 1026.3 2082.5 1017.5 2087.7 1006.7 2092.4 994.3 2096.7 980.0 2100.8 964.1 2104.5 948.2 2107.4 931.1 2109.2 914.1 2110.3 902.1 2110.9Z" fill="#2a2c2f" opacity="1"/>
<path d="M902.1 2116.3 914.1 2115.6 931.1 2114.5 948.2 2112.7 964.2 2109.7 980.3 2106.0 994.3 2102.1 1005.9 2097.2 1015.5 2092.1 1022.7 2089.6 1027.7 2091.3 1030.3 2095.5 1029.8 2100.3 1025.3 2105.3 1017.6 2110.9 1008.5 2116.3 998.3 2121.4 986.7 2126.3 974.8 2130.4 963.2 2133.5 951.4 2135.8 939.3 2137.5 925.7 2138.6 911.8 2139.0 902.1 2139.3Z" fill="#e2e4e5" opacity="1"/>
<path d="M902.1 2142.9 914.3 2142.1 931.7 2140.9 948.2 2139.3 962.1 2137.4 975.3 2135.1 987.2 2132.2 998.4 2127.6 1008.4 2122.4 1015.6 2119.8 1019.7 2121.4 1021.0 2125.5 1019.2 2130.4 1013.8 2136.0 1005.2 2142.4 994.3 2148.2 980.5 2153.0 964.4 2157.3 948.2 2160.6 931.1 2162.6 914.1 2163.6 902.1 2164.1Z" fill="#87898b" opacity="1"/>
<path d="M902.1 2160.6 914.1 2159.7 931.1 2158.2 948.2 2155.3 964.4 2150.2 980.5 2143.6 994.3 2137.5 1005.2 2131.6 1013.7 2126.1 1019.2 2123.3 1021.3 2124.8 1020.6 2129.0 1017.4 2134.0 1012.1 2139.4 1004.5 2145.7 994.3 2151.7 980.7 2157.6 964.4 2163.4 948.2 2167.7 931.1 2169.9 914.1 2170.8 902.1 2171.2Z" fill="#5c5e60" opacity="0.8"/>
<path d="M902.1 2173.0 911.9 2171.0 925.8 2168.3 939.3 2165.9 951.8 2163.8 963.9 2162.1 973.1 2162.4 978.2 2165.7 980.3 2171.0 980.1 2176.6 977.8 2182.1 973.1 2187.8 966.0 2192.5 955.4 2195.7 942.6 2198.0 930.5 2199.6 919.4 2200.7 909.2 2201.1 902.1 2201.4Z" fill="#bdbfc0" opacity="1"/>
<path d="M902.1 2203.2 912.0 2202.4 925.9 2201.5 939.3 2201.4 951.4 2202.5 962.8 2204.4 971.3 2206.7 976.3 2209.6 978.3 2212.9 976.6 2215.6 970.3 2217.4 960.2 2218.5 948.2 2219.1 932.4 2218.9 914.7 2218.0 902.1 2217.4Z" fill="#47494c" opacity="1"/>
<path d="M902.1 2220.9 914.6 2221.0 932.2 2221.0 948.2 2220.9 960.8 2219.7 971.9 2218.3 980.1 2219.1 985.1 2223.6 987.2 2230.2 987.2 2236.9 986.8 2243.4 984.2 2250.0 974.8 2254.6 952.4 2255.9 923.2 2255.3 902.1 2254.6Z" fill="#8a8c8e" opacity="1"/>
<path d="M902.1 2236.9 909.8 2235.0 920.8 2232.8 930.5 2233.3 939.5 2239.4 947.4 2248.2 948.2 2254.6 935.9 2256.2 916.4 2255.4 902.1 2254.6Z" fill="#5a5c5e" opacity="0.8"/>
<path d="M1042.2 2031.1 1075.5 2030.1 1121.1 2029.0 1154.0 2031.1 1162.1 2039.2 1157.5 2050.4 1150.4 2059.5 1144.5 2064.2 1136.1 2066.6 1125.6 2068.4 1111.9 2069.2 1096.1 2069.3 1081.3 2070.1 1068.0 2073.0 1055.8 2076.6 1045.8 2079.0 1038.4 2080.1 1033.1 2079.9 1029.8 2077.2 1029.2 2069.7 1030.5 2059.7 1031.6 2052.4Z" fill="#dcdedf" opacity="1"/>
<path d="M1019.2 2082.5 1025.7 2082.8 1035.3 2083.1 1045.8 2082.5 1056.6 2080.6 1068.4 2077.8 1081.3 2075.5 1095.8 2073.7 1111.4 2072.3 1125.6 2071.9 1138.0 2072.7 1148.9 2074.5 1157.5 2077.2 1164.0 2081.8 1168.0 2087.4 1168.2 2091.4 1162.9 2092.5 1153.7 2091.9 1143.3 2091.4 1132.6 2091.1 1120.7 2090.8 1107.9 2091.4 1093.3 2093.5 1077.8 2096.5 1063.5 2100.3 1050.6 2105.4 1038.9 2111.3 1029.8 2116.3 1024.2 2119.5 1021.1 2121.8 1019.2 2123.3Z" fill="#747678" opacity="0.9"/>
<path d="M1015.6 2137.5 1022.9 2132.7 1033.6 2126.0 1045.8 2119.8 1059.2 2115.0 1074.2 2110.8 1090.1 2107.4 1108.1 2104.5 1127.1 2102.4 1143.3 2102.1 1155.6 2103.5 1165.2 2106.7 1171.7 2112.7 1175.8 2123.0 1176.9 2136.0 1173.5 2148.2 1164.0 2158.6 1150.0 2168.2 1134.5 2176.6 1117.5 2183.9 1098.9 2190.1 1081.3 2194.3 1065.1 2196.5 1049.9 2196.8 1036.9 2194.3 1026.3 2186.9 1017.8 2176.8 1012.1 2169.5Z" fill="#c9cbcc" opacity="0.95"/>
<path d="M1090.1 2165.9 1104.8 2160.5 1125.5 2153.2 1143.3 2148.2 1156.1 2146.7 1166.1 2147.7 1171.7 2151.7 1172.3 2160.8 1168.6 2173.0 1161.1 2183.7 1148.5 2191.4 1132.1 2197.6 1116.7 2201.4 1102.9 2201.7 1090.1 2199.6 1081.3 2197.8Z" fill="#a9abad" opacity="0.8"/>
<path d="M1182.4 2091.4 1189.7 2084.2 1199.8 2076.6 1207.2 2087.9 1209.9 2137.0 1209.8 2205.1 1207.2 2254.6 1200.4 2267.0 1191.0 2260.8 1184.1 2254.6Z" fill="#a3a5a7" opacity="0.9"/>
<path d="M1081.3 2203.2 1095.5 2197.1 1115.7 2188.9 1134.5 2183.7 1150.5 2181.9 1165.2 2183.2 1175.3 2190.8 1182.1 2210.2 1184.4 2236.0 1175.3 2254.6 1144.8 2259.3 1102.9 2257.0 1072.4 2254.6Z" fill="#828486" opacity="0.95"/>
<path d="M1099.0 2208.5 1111.0 2203.0 1128.0 2195.5 1143.3 2190.8 1155.6 2190.9 1166.3 2193.8 1173.5 2197.8 1176.3 2203.8 1175.5 2210.9 1171.7 2215.6 1164.2 2215.4 1153.7 2212.8 1143.3 2212.0 1133.4 2215.5 1123.6 2220.6 1116.7 2224.5Z" fill="#a4a6a8" opacity="0.8"/>
<path d="M987.2 2203.2 994.7 2201.7 1005.8 2199.8 1019.2 2199.6 1037.3 2201.5 1057.8 2205.1 1072.4 2212.0 1079.7 2225.6 1081.2 2242.5 1072.4 2254.6 1044.9 2258.7 1007.2 2258.2 980.1 2254.6 974.4 2246.7 979.2 2235.9 983.7 2228.0Z" fill="#787a7c" opacity="0.95"/>
</g>
<g filter="url(#bl2)">
<path d="M1020.1 2130.4 1017.4 2135.1 1013.6 2141.8 1009.4 2148.2 1004.8 2153.2 999.8 2157.9 995.2 2163.3 991.2 2169.6 987.6 2176.6 984.6 2183.7 982.3 2191.0 980.5 2198.5 978.7 2204.9 976.6 2209.9 974.5 2213.8 973.1 2216.5" fill="none" stroke="#17191b" stroke-width="8" opacity="0.95" stroke-linecap="round"/>
<path d="M1152.2 2031.1 1168.5 2029.2 1190.9 2027.2 1207.2 2031.1 1211.9 2046.8 1210.5 2068.4 1207.2 2083.4 1202.3 2085.1 1195.5 2080.3 1189.5 2077.2 1185.4 2080.1 1182.1 2084.7 1178.8 2087.0 1175.3 2084.9 1171.9 2080.5 1168.2 2075.5 1163.7 2069.3 1159.0 2062.5 1155.8 2057.7Z" fill="#090a0b" opacity="1"/>
<path d="M1178.1 2082.5 1177.8 2098.1 1177.3 2120.9 1177.0 2148.2 1177.2 2184.6 1177.5 2225.5 1177.8 2254.6" fill="none" stroke="#434547" stroke-width="3.5" opacity="1" stroke-linecap="round"/>
</g>
</g>
<path transform="translate(906 2034.3) scale(.5)" d="M0 0m446 132h0m-9 1h0m0 2h0m-90 1h0m82 0h0m22 0h0m-77 1h0m3 0h0m3 0h0m63 0h0m18 0h0m-97 1h0m14 0h0m44 0h0m3 0h0m19 1h0m-98 1h0m77 0h0m26 0h0m-77 1h0m81 0h0m-70 1h0m38 0h0m2 0h0m36 0h0m-111 1h0m69 0h0m3 0h0m13 0h0m34 0h0m-122 1h0m6 0h0m18 0h0m61 1h0m14 0h0m-7 1h0m10 0h0m8 0h0m25 0h0m-37 1h0m17 0h0m-89 1h0m64 0h0m27 0h0m20 0h0m-93 1h0m42 0h0m38 0h0m18 0h0m-19 1h0m-89 1h0m74 0h0m37 0h0m-155 1h0m52 0h0m49 0h0m31 0h0m0 0h0m-33 1h0m3 0h0m21 0h0m15 0h0m4 0h0m-92 1h0m62 0h0m24 0h0m21 0h0m-150 1h0m20 0h0m28 0h0m28 0h0m19 0h0m13 0h0m2 0h0m16 0h0m-126 1h0m119 0h0m8 0h0m-107 1h0m16 0h0m77 0h0m2 0h0m25 0h0m3 0h0m15 0h0m-144 1h0m12 0h0m4 0h0m77 0h0m62 0h0m-151 1h0m50 0h0m29 0h0m6 0h0m9 0h0m-73 1h0m10 0h0m34 0h0m38 0h0m49 0h0m7 0h0m0 0h0m-24 1h0m-141 1h0m62 0h0m52 0h0m7 0h0m5 0h0m40 0h0m-190 1h0m43 0h0m61 0h0m39 0h0m57 0h0m-146 1h0m58 0h0m2 0h0m41 0h0m18 0h0m-177 1h0m29 0h0m85 0h0m43 0h0m-119 1h0m50 0h0m36 0h0m34 0h0m-116 1h0m44 0h0m21 0h0m36 0h0m28 0h0m5 0h0m12 0h0m-179 1h0m77 0h0m32 0h0m73 0h0m12 0h0m-150 1h0m9 0h0m37 0h0m19 0h0m7 0h0m11 0h0m-145 1h0m41 0h0m35 0h0m29 0h0m52 0h0m62 0h0m-177 1h0m40 0h0m37 0h0m49 0h0m8 0h0m46 0h0m-219 1h0m54 0h0m58 0h0m12 0h0m39 0h0m2 0h0m34 0h0m-187 1h0m94 0h0m25 0h0m12 0h0m16 0h0m1 0h0m18 0h0m5 1h0m12 0h0m-23 1h0m5 0h0m37 0h0m-125 1h0m31 0h0m47 0h0m9 0h0m36 0h0m12 0h0m-232 1h0m17 0h0m109 0h0m30 0h0m63 0h0m-148 1h0m20 0h0m53 0h0m37 0h0m7 0h0m-140 1h0m134 0h0m-143 1h0m1 0h0m2 0h0m53 0h0m1 0h0m30 0h0m25 0h0m35 0h0m-201 1h0m36 0h0m10 0h0m62 0h0m24 0h0m17 0h0m6 0h0m10 0h0m19 0h0m14 0h0m28 0h0m5 0h0m3 0h0m5 0h0m3 0h0m-204 1h0m20 0h0m68 0h0m37 0h0m2 0h0m44 0h0m2 0h0m6 0h0m-166 1h0m39 0h0m41 0h0m13 0h0m7 0h0m24 0h0m15 0h0m40 0h0m5 0h0m-175 1h0m61 0h0m10 0h0m92 0h0m13 0h0m-206 1h0m16 0h0m17 0h0m51 0h0m50 0h0m-81 1h0m36 0h0m27 0h0m24 0h0m2 0h0m21 0h0m23 0h0m8 0h0m9 0h0m5 0h0m-241 1h0m103 0h0m5 0h0m57 0h0m3 0h0m34 0h0m17 0h0m-227 1h0m128 0h0m19 0h0m74 0h0m-158 1h0m14 0h0m24 0h0m0 0h0m22 0h0m28 0h0m44 0h0m31 0h0m-206 1h0m33 0h0m28 0h0m62 0h0m6 0h0m14 0h0m33 0h0m14 0h0m0 0h0m47 0h0m-227 1h0m71 0h0m9 0h0m2 0h0m1 0h0m124 0h0m-136 1h0m7 0h0m3 0h0m0 0h0m28 0h0m4 0h0m15 0h0m12 0h0m11 0h0m-102 1h0m13 0h0m15 0h0m70 0h0m16 0h0m7 0h0m-188 1h0m24 0h0m130 0h0m0 0h0m6 0h0m4 0h0m60 0h0m10 0h0m-148 1h0m3 0h0m12 0h0m0 0h0m33 0h0m29 0h0m71 0h0m6 0h0m-129 1h0m24 0h0m23 0h0m13 0h0m6 0h0m12 0h0m-130 1h0m49 0h0m35 0h0m15 0h0m17 0h0m15 0h0m-112 1h0m131 0h0m-189 1h0m32 0h0m4 0h0m11 0h0m6 0h0m17 0h0m15 0h0m2 0h0m0 0h0m46 0h0m89 0h0m1 0h0m-194 1h0m32 0h0m8 0h0m89 0h0m7 0h0m4 0h0m57 0h0m-268 1h0m139 0h0m77 0h0m52 0h0m2 0h0m-187 1h0m25 0h0m27 0h0m6 0h0m0 0h0m64 0h0m35 0h0m36 0h0m-212 1h0m25 0h0m33 0h0m8 0h0m66 0h0m-97 1h0m20 0h0m34 0h0m2 0h0m116 0h0m-279 1h0m1 0h0m13 0h0m55 0h0m40 0h0m42 0h0m34 0h0m65 0h0m4 0h0m7 0h0m21 0h0m-281 1h0m76 0h0m25 0h0m1 0h0m22 0h0m18 0h0m41 0h0m14 0h0m37 0h0m39 0h0m-280 1h0m4 0h0m20 0h0m56 0h0m10 0h0m87 0h0m39 0h0m2 0h0m33 0h0m41 0h0m-188 1h0m111 0h0m32 0h0m-236 1h0m273 0h0m-235 1h0m1 0h0m27 0h0m30 0h0m92 0h0m5 0h0m15 0h0m40 0h0m38 0h0m-280 1h0m13 0h0m75 0h0m23 0h0m9 0h0m56 0h0m5 0h0m8 0h0m8 0h0m37 0h0m6 0h0m25 0h0m-259 1h0m14 0h0m49 0h0m5 0h0m4 0h0m10 0h0m48 0h0m-125 1h0m2 0h0m25 0h0m18 0h0m70 0h0m22 0h0m29 0h0m25 0h0m22 0h0m-151 1h0m30 0h0m12 0h0m5 0h0m41 0h0m21 0h0m83 0h0m-276 1h0m111 0h0m36 0h0m62 0h0m40 0h0m10 0h0m-231 1h0m20 0h0m13 0h0m96 0h0m33 0h0m16 0h0m23 0h0m20 0h0m3 0h0m21 0h0m15 0h0m-223 1h0m32 0h0m105 0h0m4 0h0m77 0h0m-305 1h0m131 0h0m4 0h0m4 0h0m50 0h0m10 0h0m23 0h0m70 0h0m-180 1h0m21 0h0m10 0h0m69 0h0m-173 1h0m108 0h0m25 0h0m9 0h0m6 0h0m18 0h0m21 0h0m22 0h0m39 0h0m3 0h0m16 0h0m-310 1h0m7 0h0m93 0h0m59 0h0m12 0h0m27 0h0m2 0h0m34 0h0m31 0h0m8 0h0m-277 1h0m1 0h0m63 0h0m51 0h0m9 0h0m64 0h0m73 0h0m31 0h0m-217 1h0m22 0h0m76 0h0m13 0h0m36 0h0m23 0h0m33 0h0m-212 1h0m53 0h0m34 0h0m13 0h0m6 0h0m84 0h0m3 0h0m-264 1h0m34 0h0m127 0h0m22 0h0m3 0h0m5 0h0m12 0h0m69 0h0m41 0h0m-269 1h0m15 0h0m4 0h0m16 0h0m19 0h0m15 0h0m13 0h0m17 0h0m29 0h0m6 0h0m31 0h0m82 0h0m13 0h0m1 0h0m-244 1h0m19 0h0m4 0h0m1 0h0m33 0h0m14 0h0m48 0h0m30 0h0m2 0h0m15 0h0m13 0h0m13 0h0m48 0h0m-283 1h0m1 0h0m91 0h0m5 0h0m6 0h0m2 0h0m36 0h0m-43 1h0m11 0h0m20 0h0m156 0h0m-338 1h0m18 0h0m73 0h0m32 0h0m19 0h0m5 0h0m27 0h0m94 0h0m33 0h0m-249 1h0m34 0h0m82 0h0m25 0h0m10 0h0m16 0h0m79 0h0m-200 1h0m118 0h0m51 0h0m28 0h0m10 0h0m13 0h0m-136 1h0m13 0h0m2 0h0m7 0h0m13 0h0m78 0h0m17 0h0m7 0h0m34 0h0m-267 1h0m68 0h0m95 0h0m6 0h0m46 0h0m17 0h0m14 0h0m-240 1h0m23 0h0m71 0h0m34 0h0m68 0h0m5 0h0m7 0h0m25 0h0m29 0h0m-192 1h0m13 0h0m12 0h0m15 0h0m70 0h0m5 0h0m31 0h0m-139 1h0m9 0h0m132 0h0m-300 1h0m10 0h0m151 0h0m8 0h0m40 0h0m46 0h0m27 0h0m8 0h0m53 0h0m-305 1h0m11 0h0m60 0h0m47 0h0m26 0h0m24 0h0m79 0h0m1 0h0m36 0h0m4 0h0m1 0h0m2 0h0m-327 1h0m56 0h0m1 0h0m67 0h0m10 0h0m23 0h0m54 0h0m11 0h0m37 0h0m67 0h0m13 0h0m-185 1h0m179 0h0m-305 1h0m126 0h0m7 0h0m22 0h0m6 0h0m8 0h0m53 0h0m17 0h0m8 0h0m12 0h0m14 0h0m19 0h0m12 0h0m-343 1h0m2 0h0m83 0h0m3 0h0m55 0h0m63 0h0m41 0h0m48 0h0m19 0h0m6 0h0m-314 1h0m8 0h0m109 0h0m117 0h0m8 0h0m7 0h0m12 0h0m21 0h0m11 0h0m34 0h0m0 0h0m-230 1h0m6 0h0m94 0h0m17 0h0m9 0h0m32 0h0m66 0h0m13 0h0m-337 1h0m98 0h0m49 0h0m27 0h0m8 0h0m68 0h0m-51 1h0m31 0h0m11 0h0m5 0h0m2 0h0m25 0h0m26 0h0m11 0h0m16 0h0m1 0h0m-188 1h0m11 0h0m23 0h0m82 0h0m10 0h0m-249 1h0m28 0h0m7 0h0m23 0h0m109 0h0m30 0h0m55 0h0m3 0h0m-212 1h0m85 0h0m5 0h0m66 0h0m55 0h0m74 0h0m-284 1h0m27 0h0m57 0h0m-123 1h0m107 0h0m31 0h0m13 0h0m16 0h0m43 0h0m30 0h0m8 0h0m4 0h0m53 0h0m-281 1h0m183 0h0m28 0h0m48 0h0m-311 1h0m1 0h0m54 0h0m99 0h0m69 0h0m17 0h0m53 0h0m2 0h0m-169 1h0m21 0h0m75 0h0m8 0h0m2 0h0m16 0h0m13 0h0m7 0h0m68 0h0m-314 1h0m37 0h0m43 0h0m7 0h0m52 0h0m3 0h0m9 0h0m31 0h0m7 0h0m13 0h0m7 0h0m11 0h0m17 0h0m41 0h0m8 0h0m-270 1h0m43 0h0m33 0h0m37 0h0m3 0h0m5 0h0m28 0h0m25 0h0m17 0h0m25 0h0m3 0h0m35 0h0m-239 1h0m8 0h0m5 0h0m56 1h0m157 0h0m17 0h0m1 0h0m22 0h0m6 0h0m-289 1h0m2 0h0m113 0h0m16 0h0m3 0h0m41 0h0m8 0h0m6 0h0m67 0h0m39 0h0m-305 1h0m90 0h0m23 0h0m29 0h0m21 0h0m41 0h0m41 0h0m39 0h0m-280 1h0m1 0h0m43 0h0m106 0h0m16 0h0m21 0h0m45 0h0m0 0h0m9 0h0m14 0h0m8 0h0m-199 1h0m94 0h0m38 0h0m3 0h0m10 0h0m66 0h0m35 0h0m-236 1h0m52 0h0m27 0h0m67 0h0m9 0h0m20 0h0m18 0h0m3 0h0m20 0h0m-279 1h0m72 0h0m37 0h0m7 0h0m-112 1h0m141 0h0m36 0h0m16 0h0m68 0h0m-269 1h0m79 0h0m42 0h0m11 0h0m29 0h0m18 0h0m44 0h0m24 0h0m39 0h0m-311 1h0m11 0h0m35 0h0m56 0h0m40 0h0m10 0h0m11 0h0m40 0h0m43 0h0m19 0h0m0 0h0m38 0h0m-157 1h0m31 0h0m3 0h0m8 0h0m50 0h0m76 0h0m-302 1h0m166 0h0m6 0h0m46 0h0m6 0h0m35 0h0m5 0h0m26 0h0m-128 1h0m8 0h0m25 0h0m57 0h0m-199 1h0m22 0h0m38 0h0m65 0h0m1 0h0m5 0h0m4 0h0m14 0h0m1 0h0m87 0h0m-296 1h0m29 0h0m6 0h0m114 0h0m33 0h0m48 0h0m-249 1h0m26 0h0m27 0h0m74 0h0m30 0h0m7 0h0m20 0h0m71 0h0m35 0h0m-209 1h0m116 0h0m18 0h0m56 0h0m44 0h0m1 0h0m-314 1h0m115 0h0m7 0h0m52 0h0m59 0h0m44 0h0m-146 1h0m7 0h0m39 1h0m1 0h0m28 0h0m42 0h0m40 0h0m1 0h0m-206 1h0m49 0h0m15 0h0m24 0h0m6 0h0m17 0h0m21 0h0m1 0h0m7 0h0m19 0h0m8 0h0m27 0h0m-205 1h0m72 0h0m16 0h0m80 0h0m5 0h0m5 0h0m-109 1h0m13 0h0m120 0h0m9 0h0m-131 1h0m13 0h0m29 0h0m25 0h0m13 0h0m-194 1h0m95 0h0m33 0h0m10 0h0m48 0h0m13 0h0m14 0h0m-237 1h0m66 0h0m22 0h0m52 0h0m19 0h0m44 0h0m5 0h0m21 0h0m32 0h0m-228 1h0m30 0h0m112 0h0m64 0h0m6 0h0m-79 1h0m-155 1h0m27 0h0m209 0h0m23 0h0m-16 1h0m2 0h0m-261 1h0m179 0h0m58 0h0m-168 1h0m67 1h0m-112 1h0m61 0h0m24 1h0m24 0h0m63 0h0m-98 1h0m40 0h0m110 0h0m-197 1h0m89 0h0m78 0h0m27 0h0m-181 1h0m11 0h0m9 0h0m54 0h0m56 0h0m-58 1h0m24 0h0m15 0h0m6 0h0m-166 1h0m31 0h0m167 0h0m-166 1h0m10 0h0m15 0h0m22 1h0m10 0h0m28 0h0m92 0h0m-199 1h0m9 0h0m145 0h0m11 0h0m-144 2h0m60 0h0m113 0h0m-221 1h0m25 0h0m51 1h0m34 0h0m10 0h0m16 0h0m46 0h0m-164 1h0m101 0h0m73 0h0m-192 1h0m4 1h0m145 0h0m-11 1h0m-24 1h0m8 0h0m49 0h0m38 0h0m-202 1h0m117 0h0m44 0h0m-173 1h0m37 0h0m141 0h0m-182 1h0m79 0h0m10 0h0m15 0h0m50 0h0m-138 1h0m41 0h0m116 0h0m-172 1h0m205 0h0m-199 1h0m87 0h0m15 0h0m-51 1h0m96 0h0m34 0h0m3 0h0m-23 1h0m-140 1h0m89 0h0m-17 1h0m75 0h0m-175 1h0m11 0h0m5 0h0m15 0h0m-14 1h0m47 0h0m-69 1h0m205 0h0m-171 1h0m38 0h0m2 0h0m43 0h0m22 0h0m66 0h0m-98 1h0m-16 1h0m11 0h0m13 0h0m-55 1h0m20 0h0m7 0h0m-16 1h0m-23 1h0m47 0h0m45 0h0m62 0h0m-172 1h0m25 0h0m66 0h0m90 0h0m2 0h0m-195 1h0m59 0h0m-26 1h0m136 1h0m-162 1h0m21 0h0m73 0h0m17 0h0m27 0h0m7 0h0m-95 1h0m6 2h0m99 0h0m-138 1h0m30 0h0m21 0h0m26 1h0m68 0h0m-24 2h0m-165 1h0m10 0h0m80 0h0m56 0h0m28 0h0m-88 1h0m51 0h0m-103 2h0m17 0h0m24 0h0m4 0h0m14 0h0m42 0h0m32 0h0m-102 1h0m68 0h0m-43 1h0m-64 1h0m76 0h0m14 0h0m-28 1h0m80 0h0m-122 1h0m28 0h0m103 0h0m5 0h0m-186 1h0m20 0h0m106 0h0m45 0h0m12 1h0m-147 1h0m17 0h0m13 0h0m84 0h0m-62 1h0m-76 1h0m98 0h0m-33 1h0m97 0h0m-146 1h0m78 0h0m-99 1h0m5 0h0m23 0h0m-33 1h0m108 1h0m18 0h0m-64 2h0m95 0h0m1 0h0m8 0h0m-44 2h0m-69 1h0m6 0h0m46 0h0m-79 1h0m34 0h0m-35 1h0m85 0h0m-90 1h0m28 0h0m37 1h0m25 0h0m-83 1h0m110 0h0m-124 2h0m10 1h0m41 1h0m1 0h0m-44 1h0m44 0h0m40 0h0m19 0h0m10 0h0m-107 1h0m23 0h0m35 0h0m19 0h0m-6 1h0m31 0h0m-34 4h0m-40 1h0m30 0h0m22 1h0m-74 1h0m57 0h0m25 0h0m-86 1h0m47 0h0m-7 1h0m-27 2h0m72 0h0m-69 2h0m-3 1h0m50 0h0m-16 3h0m-16 1h0m32 0h0m-44 2h0" fill="none" stroke="#5cb65a" stroke-width="8" stroke-linecap="round"/>
<path transform="translate(906 2034.3) scale(.5)" d="M0 0m271 224h0m20 0h0m-6 1h0m-51 2h0m51 0h0m3 1h0m27 0h0m19 0h0m29 1h0m34 0h0m-169 1h0m34 0h0m-41 1h0m10 0h0m13 0h0m7 0h0m54 0h0m-42 1h0m80 0h0m-68 2h0m36 0h0m6 0h0m-92 1h0m168 0h0m-108 1h0m37 0h0m-102 1h0m82 0h0m-71 1h0m33 0h0m42 0h0m96 0h0m-135 1h0m6 0h0m86 0h0m45 0h0m-168 1h0m13 0h0m165 0h0m-124 1h0m32 0h0m76 0h0m-73 2h0m-121 1h0m0 0h0m10 0h0m8 0h0m3 0h0m5 0h0m32 0h0m16 0h0m66 0h0m-21 1h0m-40 1h0m11 0h0m34 1h0m-73 2h0m105 0h0m-37 1h0m31 0h0m22 0h0m19 0h0m18 0h0m-142 1h0m135 0h0m-172 1h0m159 0h0m32 1h0m-104 1h0m83 0h0m7 0h0m-153 1h0m149 0h0m-179 1h0m49 0h0m119 0h0m-96 1h0m-67 1h0m38 0h0m-38 1h0m80 0h0m-100 1h0m83 0h0m15 0h0m89 0h0m-130 1h0m-37 1h0m39 0h0m3 0h0m41 1h0m-37 1h0m83 1h0m7 0h0m-155 1h0m6 0h0m91 0h0m10 0h0m8 0h0m105 0h0m-225 1h0m32 0h0m-16 1h0m200 0h0m-231 1h0m30 0h0m38 1h0m123 0h0m-158 1h0m62 0h0m-107 1h0m77 0h0m-75 1h0m147 0h0m94 0h0m1 0h0m-228 1h0m201 0h0m20 0h0m9 0h0m-188 1h0m106 0h0m-157 1h0m64 0h0m6 0h0m30 0h0m49 0h0m42 0h0m34 0h0m-187 1h0m6 0h0m85 0h0m75 0h0m39 0h0m-120 1h0m87 0h0m7 0h0m-221 1h0m36 0h0m23 0h0m-39 2h0m7 0h0m1 0h0m4 0h0m-40 1h0m37 0h0m3 0h0m19 0h0m84 0h0m14 0h0m13 0h0m-165 1h0m48 0h0m70 0h0m-40 1h0m3 0h0m114 0h0m-179 1h0m30 0h0m33 0h0m17 0h0m94 0h0m-169 1h0m120 0h0m77 0h0m16 0h0m-239 1h0m0 0h0m77 0h0m29 0h0m0 0h0m-105 1h0m46 0h0m104 0h0m-36 1h0m-85 2h0m100 0h0m-113 1h0m17 0h0m22 0h0m5 0h0m-4 1h0m131 0h0m6 1h0m11 0h0m31 0h0m-238 1h0m175 0h0m22 0h0m51 0h0m-247 1h0m50 0h0m165 0h0m-207 1h0m22 0h0m14 0h0m31 0h0m76 0h0m93 0h0m-223 1h0m227 0h0m-136 1h0m-106 1h0m98 0h0m128 0h0m14 0h0m-231 1h0m12 0h0m13 0h0m8 0h0m168 0h0m-200 1h0m198 0h0m-202 1h0m27 0h0m178 0h0m-217 1h0m4 0h0m30 0h0m9 0h0m5 0h0m6 0h0m82 0h0m-115 1h0m15 0h0m5 0h0m65 0h0m32 1h0m89 0h0m-225 1h0m125 0h0m2 0h0m-85 1h0m11 0h0m158 0h0m-213 1h0m20 0h0m-9 1h0m42 0h0m43 0h0m57 0h0m-24 1h0m-123 1h0m64 0h0m-69 1h0m27 0h0m109 0h0m23 0h0m72 0h0m-216 2h0m19 0h0m12 0h0m-49 1h0m2 0h0m18 0h0m105 0h0m1 0h0m3 0h0m12 0h0m94 0h0m-234 1h0m41 0h0m111 0h0m74 0h0m25 0h0m-235 1h0m26 0h0m94 0h0m-113 1h0m138 0h0m-162 1h0m88 0h0m1 0h0m-84 1h0m65 0h0m144 0h0m-198 1h0m1 0h0m24 0h0m91 0h0m24 0h0m72 0h0m-185 1h0m17 0h0m107 0h0m-61 1h0m46 1h0m78 0h0m-213 1h0m68 0h0m139 1h0m-192 1h0m-1 1h0m105 0h0m13 1h0m8 0h0m59 0h0m-201 1h0m41 0h0m79 0h0m3 0h0m70 0h0m8 0h0m-117 1h0m6 0h0m22 0h0m-81 1h0m71 0h0m7 0h0m53 0h0m32 0h0m-167 1h0m76 0h0m69 1h0m-168 1h0m104 0h0m46 0h0m18 0h0m-159 1h0m1 0h0m21 0h0m41 1h0m15 1h0m-33 1h0m-46 2h0m30 0h0m1 0h0m-4 1h0m67 0h0m6 0h0m21 0h0m27 0h0m43 0h0m-197 1h0m33 1h0m62 0h0m-96 1h0m4 0h0m49 0h0m40 0h0m79 0h0m22 0h0m-119 2h0m-72 1h0m183 0h0m-143 1h0m27 0h0m37 0h0m-100 2h0m37 0h0m4 0h0m51 0h0m-73 1h0m28 0h0m20 0h0m-54 1h0m53 0h0m4 1h0m10 0h0m11 1h0m-2 2h0m-11 1h0m24 0h0m-103 1h0m65 0h0m56 0h0m-119 1h0m32 0h0m49 0h0m-49 1h0m3 0h0m44 1h0m22 0h0m-93 1h0m120 0h0m-121 1h0m88 0h0m36 1h0m-94 1h0m19 0h0m17 0h0m-70 1h0m95 0h0m5 2h0m-88 2h0m67 0h0m43 1h0m-89 1h0m18 1h0m-31 1h0m95 1h0m-42 1h0m-64 1h0m50 0h0m31 0h0m-2 1h0m-70 1h0m0 1h0m2 0h0m28 2h0m21 0h0m21 0h0m-62 1h0m33 0h0m17 0h0m-33 2h0m29 0h0m22 0h0m-73 1h0m30 0h0m31 0h0m-30 1h0m2 0h0m50 0h0m-65 1h0m30 1h0m33 0h0m-63 1h0m19 0h0m-6 1h0m-4 1h0m17 0h0m-12 1h0m8 0h0m-14 1h0m7 0h0m4 1h0m-16 1h0m31 1h0m15 2h0m-5 3h0" fill="none" stroke="#ea2030" stroke-width="8" stroke-linecap="round"/>
<rect x="1092.3" y="2234.2" width="99.5" height="4.4" fill="#fff"/>
<text x="1121.7" y="2227.1" font-size="23.5" fill="#fff">1 mm</text>
<path d="M1373.6 2202.0 1411.7 2172.3 1449.9 2132.7 1488.0 2095.1 1526.2 2118.9 1564.3 2128.8 1602.5 2142.6" fill="none" stroke="#5cb65a" stroke-width="1.9" stroke-linejoin="round"/>
<path d="M1373.6 2202.0 1411.7 2188.1 1449.9 2140.6 1488.0 2105.8 1526.2 2112.9 1564.3 2117.7 1602.5 2138.7" fill="none" stroke="#5cb65a" stroke-width="1.9" stroke-linejoin="round"/>
<path d="M1373.6 2202.0 1411.7 2194.1 1449.9 2152.5 1488.0 2124.8 1526.2 2128.8 1564.3 2133.9 1602.5 2125.6" fill="none" stroke="#5cb65a" stroke-width="1.9" stroke-linejoin="round"/>
<path d="M1373.6 2178.2 1411.7 2061.5 1449.9 2130.7 1488.0 2128.8 1526.2 2152.5 1564.3 2174.3 1602.5 2174.3" fill="none" stroke="#e61e3a" stroke-width="2.0" stroke-linejoin="round"/>
<path d="M1373.6 2194.1 1411.7 2122.8 1449.9 2095.1 1488.0 2116.9 1526.2 2132.7 1564.3 2172.3 1602.5 2198.0" fill="none" stroke="#e61e3a" stroke-width="2.0" stroke-linejoin="round"/>
<path d="M1373.6 2202.0 1411.7 2137.5 1449.9 2114.9 1488.0 2114.1 1526.2 2126.8 1564.3 2150.5 1602.5 2171.1" fill="none" stroke="#e61e3a" stroke-width="2.0" stroke-linejoin="round"/>
<line x1="1335.4" y1="2043.7" x2="1335.4" y2="2203.1" stroke="#231f20" stroke-width="2.2"/>
<line x1="1330.4" y1="2202.0" x2="1602.6" y2="2202.0" stroke="#231f20" stroke-width="2.2"/>
<line x1="1411.8" y1="2202.0" x2="1411.8" y2="2208.0" stroke="#231f20" stroke-width="2.2"/>
<text x="1411.8" y="2232.0" font-size="23.5" text-anchor="middle" fill="#231f20">1.7</text>
<line x1="1507.4" y1="2202.0" x2="1507.4" y2="2208.0" stroke="#231f20" stroke-width="2.2"/>
<text x="1507.4" y="2232.0" font-size="23.5" text-anchor="middle" fill="#231f20">1.2</text>
<line x1="1602.6" y1="2202.0" x2="1602.6" y2="2208.0" stroke="#231f20" stroke-width="2.2"/>
<text x="1602.6" y="2232.0" font-size="23.5" text-anchor="middle" fill="#231f20">0.7</text>
<line x1="1330.4" y1="2043.7" x2="1335.4" y2="2043.7" stroke="#231f20" stroke-width="2.2"/>
<text x="1324.4" y="2052.2" font-size="23.5" text-anchor="end" fill="#231f20">0.4</text>
<line x1="1330.4" y1="2083.3" x2="1335.4" y2="2083.3" stroke="#231f20" stroke-width="2.2"/>
<text x="1324.4" y="2091.8" font-size="23.5" text-anchor="end" fill="#231f20">0.3</text>
<line x1="1330.4" y1="2122.9" x2="1335.4" y2="2122.9" stroke="#231f20" stroke-width="2.2"/>
<text x="1324.4" y="2131.4" font-size="23.5" text-anchor="end" fill="#231f20">0.2</text>
<line x1="1330.4" y1="2162.4" x2="1335.4" y2="2162.4" stroke="#231f20" stroke-width="2.2"/>
<text x="1324.4" y="2170.9" font-size="23.5" text-anchor="end" fill="#231f20">0.1</text>
<line x1="1330.4" y1="2202.0" x2="1335.4" y2="2202.0" stroke="#231f20" stroke-width="2.2"/>
<text x="1324.4" y="2210.5" font-size="23.5" text-anchor="end" fill="#231f20">0</text>
<text x="1276.5" y="2124.0" font-size="23.5" text-anchor="middle" fill="#231f20" transform="rotate(-90 1276.5 2124.0)">Frac. labeled neurons</text>
<text x="1472.0" y="2259.0" font-size="23.8" text-anchor="middle" fill="#231f20">Lateral from midline (mm)</text>
<path d="M1737.6 2120.2 1782.2 2161.1 1826.8 2141.3 1871.4 2161.1 1916.0 2188.8 1960.6 2176.9" fill="none" stroke="#5cb65a" stroke-width="1.9" stroke-linejoin="round"/>
<path d="M1737.6 2133.4 1782.2 2092.5 1826.8 2150.6 1871.4 2167.7 1916.0 2202.0 1960.6 2202.0" fill="none" stroke="#5cb65a" stroke-width="1.9" stroke-linejoin="round"/>
<path d="M1737.6 2149.2 1782.2 2157.2 1826.8 2162.4 1871.4 2153.2 1916.0 2171.7 1960.6 2157.2" fill="none" stroke="#5cb65a" stroke-width="1.9" stroke-linejoin="round"/>
<path d="M1737.6 2053.0 1782.2 2140.0 1826.8 2159.8 1871.4 2194.1 1916.0 2202.0 1960.6 2202.0" fill="none" stroke="#e61e3a" stroke-width="2.0" stroke-linejoin="round"/>
<path d="M1737.6 2067.5 1782.2 2140.0 1826.8 2158.5 1871.4 2179.6 1916.0 2198.0 1960.6 2202.0" fill="none" stroke="#e61e3a" stroke-width="2.0" stroke-linejoin="round"/>
<path d="M1737.6 2128.1 1782.2 2107.0 1826.8 2125.5 1871.4 2183.5 1916.0 2200.7 1960.6 2202.0" fill="none" stroke="#e61e3a" stroke-width="2.0" stroke-linejoin="round"/>
<line x1="1715.3" y1="2043.7" x2="1715.3" y2="2203.1" stroke="#231f20" stroke-width="2.2"/>
<line x1="1710.3" y1="2202.0" x2="1982.0" y2="2202.0" stroke="#231f20" stroke-width="2.2"/>
<line x1="1715.3" y1="2202.0" x2="1715.3" y2="2208.0" stroke="#231f20" stroke-width="2.2"/>
<text x="1715.3" y="2232.0" font-size="23.5" text-anchor="middle" fill="#231f20">3</text>
<line x1="1804.0" y1="2202.0" x2="1804.0" y2="2208.0" stroke="#231f20" stroke-width="2.2"/>
<text x="1804.0" y="2232.0" font-size="23.5" text-anchor="middle" fill="#231f20">3.4</text>
<line x1="1892.8" y1="2202.0" x2="1892.8" y2="2208.0" stroke="#231f20" stroke-width="2.2"/>
<text x="1892.8" y="2232.0" font-size="23.5" text-anchor="middle" fill="#231f20">3.8</text>
<line x1="1982.0" y1="2202.0" x2="1982.0" y2="2208.0" stroke="#231f20" stroke-width="2.2"/>
<text x="1982.0" y="2232.0" font-size="23.5" text-anchor="middle" fill="#231f20">4.2</text>
<line x1="1710.3" y1="2043.7" x2="1715.3" y2="2043.7" stroke="#231f20" stroke-width="2.2"/>
<text x="1704.3" y="2052.2" font-size="23.5" text-anchor="end" fill="#231f20">0.6</text>
<line x1="1710.3" y1="2096.5" x2="1715.3" y2="2096.5" stroke="#231f20" stroke-width="2.2"/>
<text x="1704.3" y="2105.0" font-size="23.5" text-anchor="end" fill="#231f20">0.4</text>
<line x1="1710.3" y1="2149.2" x2="1715.3" y2="2149.2" stroke="#231f20" stroke-width="2.2"/>
<text x="1704.3" y="2157.7" font-size="23.5" text-anchor="end" fill="#231f20">0.2</text>
<line x1="1710.3" y1="2202.0" x2="1715.3" y2="2202.0" stroke="#231f20" stroke-width="2.2"/>
<text x="1704.3" y="2210.5" font-size="23.5" text-anchor="end" fill="#231f20">0</text>
<text x="1848.0" y="2259.0" font-size="23.8" text-anchor="middle" fill="#231f20">Posterior from bregma (mm)</text></svg></body></html>
